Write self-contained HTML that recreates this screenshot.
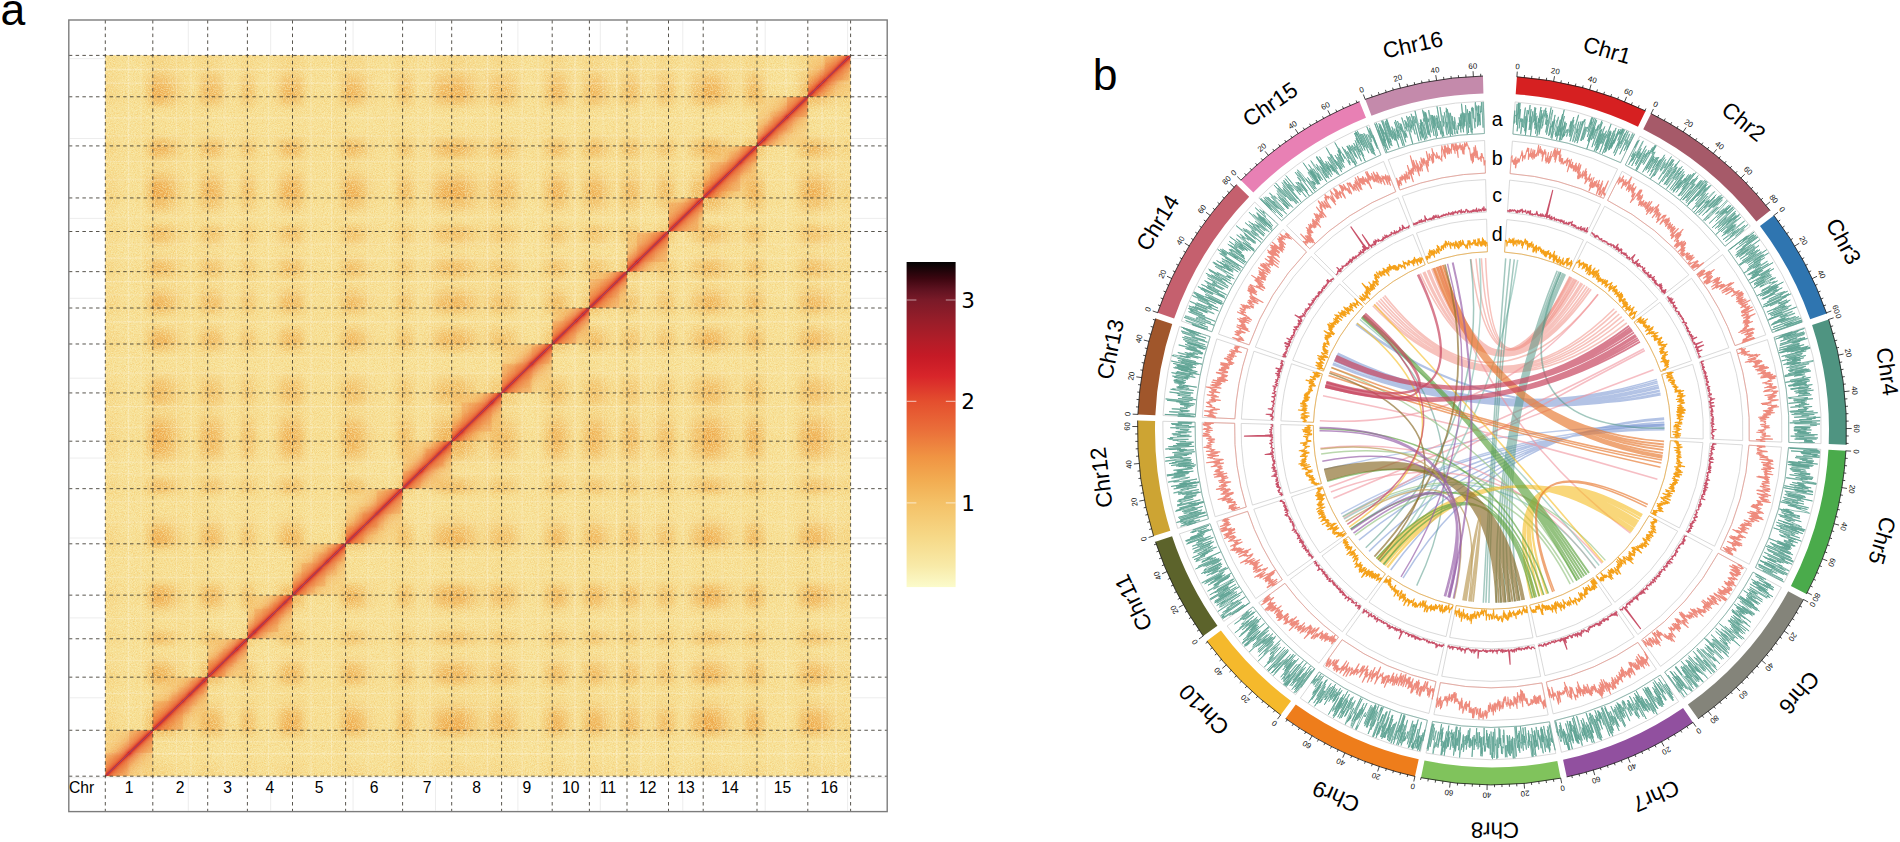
<!DOCTYPE html>
<html lang="en"><head><meta charset="utf-8"><title>Hi-C heatmap and circos plot</title>
<style>html,body{margin:0;padding:0;background:#fff}svg{display:block}</style></head>
<body>
<svg width="1900" height="842" viewBox="0 0 1900 842">
<defs>
<linearGradient id="ex" x1="0" y1="0" x2="1" y2="0"><stop offset="0" stop-color="#232323"/><stop offset="0.0027" stop-color="#232323"/><stop offset="0.0054" stop-color="#222222"/><stop offset="0.008" stop-color="#202020"/><stop offset="0.0107" stop-color="#1d1d1d"/><stop offset="0.0134" stop-color="#181818"/><stop offset="0.0161" stop-color="#121212"/><stop offset="0.0188" stop-color="#0c0c0c"/><stop offset="0.0214" stop-color="#070707"/><stop offset="0.0241" stop-color="#040404"/><stop offset="0.0268" stop-color="#020202"/><stop offset="0.0295" stop-color="#010101"/><stop offset="0.0322" stop-color="#000000"/><stop offset="0.0349" stop-color="#000000"/><stop offset="0.0375" stop-color="#000000"/><stop offset="0.0402" stop-color="#000000"/><stop offset="0.0429" stop-color="#000000"/><stop offset="0.0456" stop-color="#000000"/><stop offset="0.0483" stop-color="#030303"/><stop offset="0.0509" stop-color="#0f0f0f"/><stop offset="0.0536" stop-color="#2d2d2d"/><stop offset="0.0563" stop-color="#555555"/><stop offset="0.059" stop-color="#747474"/><stop offset="0.0617" stop-color="#808080"/><stop offset="0.0643" stop-color="#ffffff"/><stop offset="0.067" stop-color="#ffffff"/><stop offset="0.0697" stop-color="#fdfdfd"/><stop offset="0.0724" stop-color="#fafafa"/><stop offset="0.0751" stop-color="#f4f4f4"/><stop offset="0.0777" stop-color="#ebebeb"/><stop offset="0.0804" stop-color="#dedede"/><stop offset="0.0831" stop-color="#cdcdcd"/><stop offset="0.0858" stop-color="#b9b9b9"/><stop offset="0.0885" stop-color="#a2a2a2"/><stop offset="0.0912" stop-color="#8a8a8a"/><stop offset="0.0938" stop-color="#717171"/><stop offset="0.0965" stop-color="#595959"/><stop offset="0.0992" stop-color="#434343"/><stop offset="0.1019" stop-color="#303030"/><stop offset="0.1046" stop-color="#212121"/><stop offset="0.1072" stop-color="#161616"/><stop offset="0.1099" stop-color="#0d0d0d"/><stop offset="0.1126" stop-color="#080808"/><stop offset="0.1153" stop-color="#040404"/><stop offset="0.118" stop-color="#040404"/><stop offset="0.1206" stop-color="#090909"/><stop offset="0.1233" stop-color="#1c1c1c"/><stop offset="0.126" stop-color="#414141"/><stop offset="0.1287" stop-color="#6c6c6c"/><stop offset="0.1314" stop-color="#8f8f8f"/><stop offset="0.134" stop-color="#a1a1a1"/><stop offset="0.1367" stop-color="#a5a5a5"/><stop offset="0.1394" stop-color="#c9c9c9"/><stop offset="0.1421" stop-color="#c7c7c7"/><stop offset="0.1448" stop-color="#c1c1c1"/><stop offset="0.1475" stop-color="#b6b6b6"/><stop offset="0.1501" stop-color="#a5a5a5"/><stop offset="0.1528" stop-color="#8e8e8e"/><stop offset="0.1555" stop-color="#727272"/><stop offset="0.1582" stop-color="#565656"/><stop offset="0.1609" stop-color="#3b3b3b"/><stop offset="0.1635" stop-color="#252525"/><stop offset="0.1662" stop-color="#151515"/><stop offset="0.1689" stop-color="#0a0a0a"/><stop offset="0.1716" stop-color="#050505"/><stop offset="0.1743" stop-color="#030303"/><stop offset="0.1769" stop-color="#0a0a0a"/><stop offset="0.1796" stop-color="#212121"/><stop offset="0.1823" stop-color="#474747"/><stop offset="0.185" stop-color="#6b6b6b"/><stop offset="0.1877" stop-color="#7e7e7e"/><stop offset="0.1903" stop-color="#818181"/><stop offset="0.193" stop-color="#808080"/><stop offset="0.1957" stop-color="#777777"/><stop offset="0.1984" stop-color="#606060"/><stop offset="0.2011" stop-color="#3f3f3f"/><stop offset="0.2038" stop-color="#1f1f1f"/><stop offset="0.2064" stop-color="#0b0b0b"/><stop offset="0.2091" stop-color="#020202"/><stop offset="0.2118" stop-color="#000000"/><stop offset="0.2145" stop-color="#000000"/><stop offset="0.2172" stop-color="#000000"/><stop offset="0.2198" stop-color="#020202"/><stop offset="0.2225" stop-color="#050505"/><stop offset="0.2252" stop-color="#0e0e0e"/><stop offset="0.2279" stop-color="#1e1e1e"/><stop offset="0.2306" stop-color="#373737"/><stop offset="0.2332" stop-color="#585858"/><stop offset="0.2359" stop-color="#7d7d7d"/><stop offset="0.2386" stop-color="#a0a0a0"/><stop offset="0.2413" stop-color="#bcbcbc"/><stop offset="0.244" stop-color="#cecece"/><stop offset="0.2466" stop-color="#d8d8d8"/><stop offset="0.2493" stop-color="#dadada"/><stop offset="0.252" stop-color="#c9c9c9"/><stop offset="0.2547" stop-color="#c6c6c6"/><stop offset="0.2574" stop-color="#bbbbbb"/><stop offset="0.2601" stop-color="#a3a3a3"/><stop offset="0.2627" stop-color="#808080"/><stop offset="0.2654" stop-color="#565656"/><stop offset="0.2681" stop-color="#303030"/><stop offset="0.2708" stop-color="#161616"/><stop offset="0.2735" stop-color="#080808"/><stop offset="0.2761" stop-color="#020202"/><stop offset="0.2788" stop-color="#000000"/><stop offset="0.2815" stop-color="#000000"/><stop offset="0.2842" stop-color="#000000"/><stop offset="0.2869" stop-color="#000000"/><stop offset="0.2895" stop-color="#000000"/><stop offset="0.2922" stop-color="#000000"/><stop offset="0.2949" stop-color="#000000"/><stop offset="0.2976" stop-color="#000000"/><stop offset="0.3003" stop-color="#000000"/><stop offset="0.3029" stop-color="#000000"/><stop offset="0.3056" stop-color="#000000"/><stop offset="0.3083" stop-color="#010101"/><stop offset="0.311" stop-color="#080808"/><stop offset="0.3137" stop-color="#242424"/><stop offset="0.3164" stop-color="#505050"/><stop offset="0.319" stop-color="#707070"/><stop offset="0.3217" stop-color="#787878"/><stop offset="0.3244" stop-color="#dbdbdb"/><stop offset="0.3271" stop-color="#dadada"/><stop offset="0.3298" stop-color="#d7d7d7"/><stop offset="0.3324" stop-color="#d2d2d2"/><stop offset="0.3351" stop-color="#c9c9c9"/><stop offset="0.3378" stop-color="#bcbcbc"/><stop offset="0.3405" stop-color="#ababab"/><stop offset="0.3432" stop-color="#969696"/><stop offset="0.3458" stop-color="#808080"/><stop offset="0.3485" stop-color="#686868"/><stop offset="0.3512" stop-color="#505050"/><stop offset="0.3539" stop-color="#3b3b3b"/><stop offset="0.3566" stop-color="#292929"/><stop offset="0.3592" stop-color="#1b1b1b"/><stop offset="0.3619" stop-color="#101010"/><stop offset="0.3646" stop-color="#090909"/><stop offset="0.3673" stop-color="#050505"/><stop offset="0.37" stop-color="#020202"/><stop offset="0.3727" stop-color="#010101"/><stop offset="0.3753" stop-color="#000000"/><stop offset="0.378" stop-color="#000000"/><stop offset="0.3807" stop-color="#000000"/><stop offset="0.3834" stop-color="#000000"/><stop offset="0.3861" stop-color="#030303"/><stop offset="0.3887" stop-color="#131313"/><stop offset="0.3914" stop-color="#3c3c3c"/><stop offset="0.3941" stop-color="#6a6a6a"/><stop offset="0.3968" stop-color="#7f7f7f"/><stop offset="0.3995" stop-color="#939393"/><stop offset="0.4021" stop-color="#929292"/><stop offset="0.4048" stop-color="#8a8a8a"/><stop offset="0.4075" stop-color="#7a7a7a"/><stop offset="0.4102" stop-color="#606060"/><stop offset="0.4129" stop-color="#424242"/><stop offset="0.4155" stop-color="#262626"/><stop offset="0.4182" stop-color="#121212"/><stop offset="0.4209" stop-color="#080808"/><stop offset="0.4236" stop-color="#050505"/><stop offset="0.4263" stop-color="#070707"/><stop offset="0.429" stop-color="#0d0d0d"/><stop offset="0.4316" stop-color="#171717"/><stop offset="0.4343" stop-color="#272727"/><stop offset="0.437" stop-color="#3b3b3b"/><stop offset="0.4397" stop-color="#535353"/><stop offset="0.4424" stop-color="#6d6d6d"/><stop offset="0.445" stop-color="#888888"/><stop offset="0.4477" stop-color="#a1a1a1"/><stop offset="0.4504" stop-color="#b6b6b6"/><stop offset="0.4531" stop-color="#c6c6c6"/><stop offset="0.4558" stop-color="#d1d1d1"/><stop offset="0.4584" stop-color="#d7d7d7"/><stop offset="0.4611" stop-color="#dadada"/><stop offset="0.4638" stop-color="#dbdbdb"/><stop offset="0.4665" stop-color="#ededed"/><stop offset="0.4692" stop-color="#ececec"/><stop offset="0.4718" stop-color="#eaeaea"/><stop offset="0.4745" stop-color="#e6e6e6"/><stop offset="0.4772" stop-color="#e0e0e0"/><stop offset="0.4799" stop-color="#d6d6d6"/><stop offset="0.4826" stop-color="#c8c8c8"/><stop offset="0.4853" stop-color="#b7b7b7"/><stop offset="0.4879" stop-color="#a3a3a3"/><stop offset="0.4906" stop-color="#8d8d8d"/><stop offset="0.4933" stop-color="#767676"/><stop offset="0.496" stop-color="#606060"/><stop offset="0.4987" stop-color="#4b4b4b"/><stop offset="0.5013" stop-color="#393939"/><stop offset="0.504" stop-color="#2d2d2d"/><stop offset="0.5067" stop-color="#282828"/><stop offset="0.5094" stop-color="#2d2d2d"/><stop offset="0.5121" stop-color="#3a3a3a"/><stop offset="0.5147" stop-color="#4e4e4e"/><stop offset="0.5174" stop-color="#666666"/><stop offset="0.5201" stop-color="#7c7c7c"/><stop offset="0.5228" stop-color="#8c8c8c"/><stop offset="0.5255" stop-color="#969696"/><stop offset="0.5282" stop-color="#9b9b9b"/><stop offset="0.5308" stop-color="#9c9c9c"/><stop offset="0.5335" stop-color="#9c9c9c"/><stop offset="0.5362" stop-color="#9b9b9b"/><stop offset="0.5389" stop-color="#979797"/><stop offset="0.5416" stop-color="#8f8f8f"/><stop offset="0.5442" stop-color="#818181"/><stop offset="0.5469" stop-color="#707070"/><stop offset="0.5496" stop-color="#5b5b5b"/><stop offset="0.5523" stop-color="#444444"/><stop offset="0.555" stop-color="#2f2f2f"/><stop offset="0.5576" stop-color="#1e1e1e"/><stop offset="0.5603" stop-color="#111111"/><stop offset="0.563" stop-color="#090909"/><stop offset="0.5657" stop-color="#040404"/><stop offset="0.5684" stop-color="#010101"/><stop offset="0.571" stop-color="#000000"/><stop offset="0.5737" stop-color="#000000"/><stop offset="0.5764" stop-color="#000000"/><stop offset="0.5791" stop-color="#010101"/><stop offset="0.5818" stop-color="#030303"/><stop offset="0.5845" stop-color="#0e0e0e"/><stop offset="0.5871" stop-color="#252525"/><stop offset="0.5898" stop-color="#474747"/><stop offset="0.5925" stop-color="#676767"/><stop offset="0.5952" stop-color="#7a7a7a"/><stop offset="0.5979" stop-color="#818181"/><stop offset="0.6005" stop-color="#c9c9c9"/><stop offset="0.6032" stop-color="#c8c8c8"/><stop offset="0.6059" stop-color="#c4c4c4"/><stop offset="0.6086" stop-color="#bbbbbb"/><stop offset="0.6113" stop-color="#adadad"/><stop offset="0.6139" stop-color="#989898"/><stop offset="0.6166" stop-color="#7e7e7e"/><stop offset="0.6193" stop-color="#616161"/><stop offset="0.622" stop-color="#454545"/><stop offset="0.6247" stop-color="#2d2d2d"/><stop offset="0.6273" stop-color="#1b1b1b"/><stop offset="0.63" stop-color="#0e0e0e"/><stop offset="0.6327" stop-color="#070707"/><stop offset="0.6354" stop-color="#090909"/><stop offset="0.6381" stop-color="#1b1b1b"/><stop offset="0.6408" stop-color="#3c3c3c"/><stop offset="0.6434" stop-color="#5f5f5f"/><stop offset="0.6461" stop-color="#747474"/><stop offset="0.6488" stop-color="#797979"/><stop offset="0.6515" stop-color="#c9c9c9"/><stop offset="0.6542" stop-color="#c7c7c7"/><stop offset="0.6568" stop-color="#c4c4c4"/><stop offset="0.6595" stop-color="#bdbdbd"/><stop offset="0.6622" stop-color="#b1b1b1"/><stop offset="0.6649" stop-color="#a1a1a1"/><stop offset="0.6676" stop-color="#8c8c8c"/><stop offset="0.6702" stop-color="#747474"/><stop offset="0.6729" stop-color="#5b5b5b"/><stop offset="0.6756" stop-color="#444444"/><stop offset="0.6783" stop-color="#2f2f2f"/><stop offset="0.681" stop-color="#1e1e1e"/><stop offset="0.6836" stop-color="#131313"/><stop offset="0.6863" stop-color="#131313"/><stop offset="0.689" stop-color="#242424"/><stop offset="0.6917" stop-color="#454545"/><stop offset="0.6944" stop-color="#666666"/><stop offset="0.6971" stop-color="#767676"/><stop offset="0.6997" stop-color="#797979"/><stop offset="0.7024" stop-color="#a4a4a4"/><stop offset="0.7051" stop-color="#a1a1a1"/><stop offset="0.7078" stop-color="#999999"/><stop offset="0.7105" stop-color="#898989"/><stop offset="0.7131" stop-color="#737373"/><stop offset="0.7158" stop-color="#585858"/><stop offset="0.7185" stop-color="#3c3c3c"/><stop offset="0.7212" stop-color="#252525"/><stop offset="0.7239" stop-color="#141414"/><stop offset="0.7265" stop-color="#0c0c0c"/><stop offset="0.7292" stop-color="#0b0b0b"/><stop offset="0.7319" stop-color="#131313"/><stop offset="0.7346" stop-color="#222222"/><stop offset="0.7373" stop-color="#373737"/><stop offset="0.7399" stop-color="#4f4f4f"/><stop offset="0.7426" stop-color="#676767"/><stop offset="0.7453" stop-color="#7b7b7b"/><stop offset="0.748" stop-color="#898989"/><stop offset="0.7507" stop-color="#909090"/><stop offset="0.7534" stop-color="#939393"/><stop offset="0.756" stop-color="#797979"/><stop offset="0.7587" stop-color="#757575"/><stop offset="0.7614" stop-color="#636363"/><stop offset="0.7641" stop-color="#414141"/><stop offset="0.7668" stop-color="#1e1e1e"/><stop offset="0.7694" stop-color="#090909"/><stop offset="0.7721" stop-color="#040404"/><stop offset="0.7748" stop-color="#060606"/><stop offset="0.7775" stop-color="#0f0f0f"/><stop offset="0.7802" stop-color="#1e1e1e"/><stop offset="0.7828" stop-color="#343434"/><stop offset="0.7855" stop-color="#4f4f4f"/><stop offset="0.7882" stop-color="#6a6a6a"/><stop offset="0.7909" stop-color="#838383"/><stop offset="0.7936" stop-color="#959595"/><stop offset="0.7962" stop-color="#9f9f9f"/><stop offset="0.7989" stop-color="#a4a4a4"/><stop offset="0.8016" stop-color="#a5a5a5"/><stop offset="0.8043" stop-color="#ffffff"/><stop offset="0.807" stop-color="#fefefe"/><stop offset="0.8097" stop-color="#fcfcfc"/><stop offset="0.8123" stop-color="#f7f7f7"/><stop offset="0.815" stop-color="#f0f0f0"/><stop offset="0.8177" stop-color="#e4e4e4"/><stop offset="0.8204" stop-color="#d5d5d5"/><stop offset="0.8231" stop-color="#c3c3c3"/><stop offset="0.8257" stop-color="#adadad"/><stop offset="0.8284" stop-color="#959595"/><stop offset="0.8311" stop-color="#7c7c7c"/><stop offset="0.8338" stop-color="#646464"/><stop offset="0.8365" stop-color="#4d4d4d"/><stop offset="0.8391" stop-color="#393939"/><stop offset="0.8418" stop-color="#282828"/><stop offset="0.8445" stop-color="#1b1b1b"/><stop offset="0.8472" stop-color="#141414"/><stop offset="0.8499" stop-color="#131313"/><stop offset="0.8525" stop-color="#1c1c1c"/><stop offset="0.8552" stop-color="#303030"/><stop offset="0.8579" stop-color="#4f4f4f"/><stop offset="0.8606" stop-color="#737373"/><stop offset="0.8633" stop-color="#969696"/><stop offset="0.866" stop-color="#b1b1b1"/><stop offset="0.8686" stop-color="#c1c1c1"/><stop offset="0.8713" stop-color="#c7c7c7"/><stop offset="0.874" stop-color="#c9c9c9"/><stop offset="0.8767" stop-color="#898989"/><stop offset="0.8794" stop-color="#808080"/><stop offset="0.882" stop-color="#686868"/><stop offset="0.8847" stop-color="#454545"/><stop offset="0.8874" stop-color="#222222"/><stop offset="0.8901" stop-color="#0c0c0c"/><stop offset="0.8928" stop-color="#030303"/><stop offset="0.8954" stop-color="#000000"/><stop offset="0.8981" stop-color="#000000"/><stop offset="0.9008" stop-color="#000000"/><stop offset="0.9035" stop-color="#000000"/><stop offset="0.9062" stop-color="#000000"/><stop offset="0.9088" stop-color="#000000"/><stop offset="0.9115" stop-color="#000000"/><stop offset="0.9142" stop-color="#000000"/><stop offset="0.9169" stop-color="#000000"/><stop offset="0.9196" stop-color="#010101"/><stop offset="0.9223" stop-color="#050505"/><stop offset="0.9249" stop-color="#101010"/><stop offset="0.9276" stop-color="#282828"/><stop offset="0.9303" stop-color="#4b4b4b"/><stop offset="0.933" stop-color="#727272"/><stop offset="0.9357" stop-color="#8f8f8f"/><stop offset="0.9383" stop-color="#a0a0a0"/><stop offset="0.941" stop-color="#a5a5a5"/><stop offset="0.9437" stop-color="#dbdbdb"/><stop offset="0.9464" stop-color="#dadada"/><stop offset="0.9491" stop-color="#d9d9d9"/><stop offset="0.9517" stop-color="#d6d6d6"/><stop offset="0.9544" stop-color="#d0d0d0"/><stop offset="0.9571" stop-color="#c8c8c8"/><stop offset="0.9598" stop-color="#bcbcbc"/><stop offset="0.9625" stop-color="#adadad"/><stop offset="0.9651" stop-color="#9b9b9b"/><stop offset="0.9678" stop-color="#878787"/><stop offset="0.9705" stop-color="#727272"/><stop offset="0.9732" stop-color="#5d5d5d"/><stop offset="0.9759" stop-color="#494949"/><stop offset="0.9786" stop-color="#393939"/><stop offset="0.9812" stop-color="#2d2d2d"/><stop offset="0.9839" stop-color="#262626"/><stop offset="0.9866" stop-color="#232323"/><stop offset="0.9893" stop-color="#242424"/><stop offset="0.992" stop-color="#252525"/><stop offset="0.9946" stop-color="#252525"/><stop offset="0.9973" stop-color="#252525"/><stop offset="1" stop-color="#242424"/></linearGradient>
<linearGradient id="ey" x1="0" y1="0" x2="0" y2="1"><stop offset="0" stop-color="#000" stop-opacity="0.86"/><stop offset="0.0027" stop-color="#000" stop-opacity="0.857"/><stop offset="0.0054" stop-color="#000" stop-opacity="0.855"/><stop offset="0.008" stop-color="#000" stop-opacity="0.856"/><stop offset="0.0107" stop-color="#000" stop-opacity="0.86"/><stop offset="0.0134" stop-color="#000" stop-opacity="0.861"/><stop offset="0.0161" stop-color="#000" stop-opacity="0.852"/><stop offset="0.0188" stop-color="#000" stop-opacity="0.825"/><stop offset="0.0214" stop-color="#000" stop-opacity="0.778"/><stop offset="0.0241" stop-color="#000" stop-opacity="0.713"/><stop offset="0.0268" stop-color="#000" stop-opacity="0.636"/><stop offset="0.0295" stop-color="#000" stop-opacity="0.553"/><stop offset="0.0322" stop-color="#000" stop-opacity="0.47"/><stop offset="0.0349" stop-color="#000" stop-opacity="0.392"/><stop offset="0.0375" stop-color="#000" stop-opacity="0.322"/><stop offset="0.0402" stop-color="#000" stop-opacity="0.264"/><stop offset="0.0429" stop-color="#000" stop-opacity="0.218"/><stop offset="0.0456" stop-color="#000" stop-opacity="0.184"/><stop offset="0.0483" stop-color="#000" stop-opacity="0.162"/><stop offset="0.0509" stop-color="#000" stop-opacity="0.149"/><stop offset="0.0536" stop-color="#000" stop-opacity="0.144"/><stop offset="0.0563" stop-color="#000" stop-opacity="0.142"/><stop offset="0.059" stop-color="#000" stop-opacity="0.355"/><stop offset="0.0617" stop-color="#000" stop-opacity="0.374"/><stop offset="0.0643" stop-color="#000" stop-opacity="0.438"/><stop offset="0.067" stop-color="#000" stop-opacity="0.555"/><stop offset="0.0697" stop-color="#000" stop-opacity="0.704"/><stop offset="0.0724" stop-color="#000" stop-opacity="0.843"/><stop offset="0.0751" stop-color="#000" stop-opacity="0.936"/><stop offset="0.0777" stop-color="#000" stop-opacity="0.981"/><stop offset="0.0804" stop-color="#000" stop-opacity="0.996"/><stop offset="0.0831" stop-color="#000" stop-opacity="0.999"/><stop offset="0.0858" stop-color="#000" stop-opacity="1"/><stop offset="0.0885" stop-color="#000" stop-opacity="1"/><stop offset="0.0912" stop-color="#000" stop-opacity="1"/><stop offset="0.0938" stop-color="#000" stop-opacity="1"/><stop offset="0.0965" stop-color="#000" stop-opacity="1"/><stop offset="0.0992" stop-color="#000" stop-opacity="1"/><stop offset="0.1019" stop-color="#000" stop-opacity="1"/><stop offset="0.1046" stop-color="#000" stop-opacity="0.999"/><stop offset="0.1072" stop-color="#000" stop-opacity="0.989"/><stop offset="0.1099" stop-color="#000" stop-opacity="0.953"/><stop offset="0.1126" stop-color="#000" stop-opacity="0.866"/><stop offset="0.1153" stop-color="#000" stop-opacity="0.73"/><stop offset="0.118" stop-color="#000" stop-opacity="0.592"/><stop offset="0.1206" stop-color="#000" stop-opacity="0.498"/><stop offset="0.1233" stop-color="#000" stop-opacity="0.462"/><stop offset="0.126" stop-color="#000" stop-opacity="0.213"/><stop offset="0.1287" stop-color="#000" stop-opacity="0.218"/><stop offset="0.1314" stop-color="#000" stop-opacity="0.244"/><stop offset="0.134" stop-color="#000" stop-opacity="0.307"/><stop offset="0.1367" stop-color="#000" stop-opacity="0.412"/><stop offset="0.1394" stop-color="#000" stop-opacity="0.547"/><stop offset="0.1421" stop-color="#000" stop-opacity="0.69"/><stop offset="0.1448" stop-color="#000" stop-opacity="0.81"/><stop offset="0.1475" stop-color="#000" stop-opacity="0.89"/><stop offset="0.1501" stop-color="#000" stop-opacity="0.924"/><stop offset="0.1528" stop-color="#000" stop-opacity="0.922"/><stop offset="0.1555" stop-color="#000" stop-opacity="0.892"/><stop offset="0.1582" stop-color="#000" stop-opacity="0.843"/><stop offset="0.1609" stop-color="#000" stop-opacity="0.778"/><stop offset="0.1635" stop-color="#000" stop-opacity="0.699"/><stop offset="0.1662" stop-color="#000" stop-opacity="0.609"/><stop offset="0.1689" stop-color="#000" stop-opacity="0.513"/><stop offset="0.1716" stop-color="#000" stop-opacity="0.416"/><stop offset="0.1743" stop-color="#000" stop-opacity="0.322"/><stop offset="0.1769" stop-color="#000" stop-opacity="0.237"/><stop offset="0.1796" stop-color="#000" stop-opacity="0.164"/><stop offset="0.1823" stop-color="#000" stop-opacity="0.105"/><stop offset="0.185" stop-color="#000" stop-opacity="0.061"/><stop offset="0.1877" stop-color="#000" stop-opacity="0.03"/><stop offset="0.1903" stop-color="#000" stop-opacity="0.012"/><stop offset="0.193" stop-color="#000" stop-opacity="0.003"/><stop offset="0.1957" stop-color="#000" stop-opacity="0"/><stop offset="0.1984" stop-color="#000" stop-opacity="0.354"/><stop offset="0.2011" stop-color="#000" stop-opacity="0.357"/><stop offset="0.2038" stop-color="#000" stop-opacity="0.375"/><stop offset="0.2064" stop-color="#000" stop-opacity="0.417"/><stop offset="0.2091" stop-color="#000" stop-opacity="0.487"/><stop offset="0.2118" stop-color="#000" stop-opacity="0.582"/><stop offset="0.2145" stop-color="#000" stop-opacity="0.691"/><stop offset="0.2172" stop-color="#000" stop-opacity="0.796"/><stop offset="0.2198" stop-color="#000" stop-opacity="0.882"/><stop offset="0.2225" stop-color="#000" stop-opacity="0.941"/><stop offset="0.2252" stop-color="#000" stop-opacity="0.975"/><stop offset="0.2279" stop-color="#000" stop-opacity="0.986"/><stop offset="0.2306" stop-color="#000" stop-opacity="0.965"/><stop offset="0.2332" stop-color="#000" stop-opacity="0.883"/><stop offset="0.2359" stop-color="#000" stop-opacity="0.743"/><stop offset="0.2386" stop-color="#000" stop-opacity="0.61"/><stop offset="0.2413" stop-color="#000" stop-opacity="0.541"/><stop offset="0.244" stop-color="#000" stop-opacity="0.527"/><stop offset="0.2466" stop-color="#000" stop-opacity="0.424"/><stop offset="0.2493" stop-color="#000" stop-opacity="0.435"/><stop offset="0.252" stop-color="#000" stop-opacity="0.463"/><stop offset="0.2547" stop-color="#000" stop-opacity="0.516"/><stop offset="0.2574" stop-color="#000" stop-opacity="0.594"/><stop offset="0.2601" stop-color="#000" stop-opacity="0.688"/><stop offset="0.2627" stop-color="#000" stop-opacity="0.785"/><stop offset="0.2654" stop-color="#000" stop-opacity="0.868"/><stop offset="0.2681" stop-color="#000" stop-opacity="0.927"/><stop offset="0.2708" stop-color="#000" stop-opacity="0.956"/><stop offset="0.2735" stop-color="#000" stop-opacity="0.954"/><stop offset="0.2761" stop-color="#000" stop-opacity="0.921"/><stop offset="0.2788" stop-color="#000" stop-opacity="0.856"/><stop offset="0.2815" stop-color="#000" stop-opacity="0.763"/><stop offset="0.2842" stop-color="#000" stop-opacity="0.655"/><stop offset="0.2869" stop-color="#000" stop-opacity="0.549"/><stop offset="0.2895" stop-color="#000" stop-opacity="0.461"/><stop offset="0.2922" stop-color="#000" stop-opacity="0.4"/><stop offset="0.2949" stop-color="#000" stop-opacity="0.367"/><stop offset="0.2976" stop-color="#000" stop-opacity="0.355"/><stop offset="0.3003" stop-color="#000" stop-opacity="0.527"/><stop offset="0.3029" stop-color="#000" stop-opacity="0.538"/><stop offset="0.3056" stop-color="#000" stop-opacity="0.602"/><stop offset="0.3083" stop-color="#000" stop-opacity="0.728"/><stop offset="0.311" stop-color="#000" stop-opacity="0.858"/><stop offset="0.3137" stop-color="#000" stop-opacity="0.926"/><stop offset="0.3164" stop-color="#000" stop-opacity="0.925"/><stop offset="0.319" stop-color="#000" stop-opacity="0.883"/><stop offset="0.3217" stop-color="#000" stop-opacity="0.817"/><stop offset="0.3244" stop-color="#000" stop-opacity="0.735"/><stop offset="0.3271" stop-color="#000" stop-opacity="0.641"/><stop offset="0.3298" stop-color="#000" stop-opacity="0.544"/><stop offset="0.3324" stop-color="#000" stop-opacity="0.451"/><stop offset="0.3351" stop-color="#000" stop-opacity="0.37"/><stop offset="0.3378" stop-color="#000" stop-opacity="0.305"/><stop offset="0.3405" stop-color="#000" stop-opacity="0.26"/><stop offset="0.3432" stop-color="#000" stop-opacity="0.232"/><stop offset="0.3458" stop-color="#000" stop-opacity="0.218"/><stop offset="0.3485" stop-color="#000" stop-opacity="0.213"/><stop offset="0.3512" stop-color="#000" stop-opacity="0.527"/><stop offset="0.3539" stop-color="#000" stop-opacity="0.546"/><stop offset="0.3566" stop-color="#000" stop-opacity="0.626"/><stop offset="0.3592" stop-color="#000" stop-opacity="0.764"/><stop offset="0.3619" stop-color="#000" stop-opacity="0.896"/><stop offset="0.3646" stop-color="#000" stop-opacity="0.963"/><stop offset="0.3673" stop-color="#000" stop-opacity="0.971"/><stop offset="0.37" stop-color="#000" stop-opacity="0.945"/><stop offset="0.3727" stop-color="#000" stop-opacity="0.896"/><stop offset="0.3753" stop-color="#000" stop-opacity="0.823"/><stop offset="0.378" stop-color="#000" stop-opacity="0.728"/><stop offset="0.3807" stop-color="#000" stop-opacity="0.619"/><stop offset="0.3834" stop-color="#000" stop-opacity="0.507"/><stop offset="0.3861" stop-color="#000" stop-opacity="0.405"/><stop offset="0.3887" stop-color="#000" stop-opacity="0.322"/><stop offset="0.3914" stop-color="#000" stop-opacity="0.265"/><stop offset="0.3941" stop-color="#000" stop-opacity="0.231"/><stop offset="0.3968" stop-color="#000" stop-opacity="0.216"/><stop offset="0.3995" stop-color="#000" stop-opacity="0.213"/><stop offset="0.4021" stop-color="#000" stop-opacity="0.494"/><stop offset="0.4048" stop-color="#000" stop-opacity="0.52"/><stop offset="0.4075" stop-color="#000" stop-opacity="0.597"/><stop offset="0.4102" stop-color="#000" stop-opacity="0.722"/><stop offset="0.4129" stop-color="#000" stop-opacity="0.854"/><stop offset="0.4155" stop-color="#000" stop-opacity="0.945"/><stop offset="0.4182" stop-color="#000" stop-opacity="0.987"/><stop offset="0.4209" stop-color="#000" stop-opacity="0.998"/><stop offset="0.4236" stop-color="#000" stop-opacity="1"/><stop offset="0.4263" stop-color="#000" stop-opacity="0.999"/><stop offset="0.429" stop-color="#000" stop-opacity="0.998"/><stop offset="0.4316" stop-color="#000" stop-opacity="0.994"/><stop offset="0.4343" stop-color="#000" stop-opacity="0.985"/><stop offset="0.437" stop-color="#000" stop-opacity="0.967"/><stop offset="0.4397" stop-color="#000" stop-opacity="0.934"/><stop offset="0.4424" stop-color="#000" stop-opacity="0.883"/><stop offset="0.445" stop-color="#000" stop-opacity="0.814"/><stop offset="0.4477" stop-color="#000" stop-opacity="0.732"/><stop offset="0.4504" stop-color="#000" stop-opacity="0.644"/><stop offset="0.4531" stop-color="#000" stop-opacity="0.562"/><stop offset="0.4558" stop-color="#000" stop-opacity="0.492"/><stop offset="0.4584" stop-color="#000" stop-opacity="0.441"/><stop offset="0.4611" stop-color="#000" stop-opacity="0.409"/><stop offset="0.4638" stop-color="#000" stop-opacity="0.394"/><stop offset="0.4665" stop-color="#000" stop-opacity="0.389"/><stop offset="0.4692" stop-color="#000" stop-opacity="0.388"/><stop offset="0.4718" stop-color="#000" stop-opacity="0.392"/><stop offset="0.4745" stop-color="#000" stop-opacity="0.41"/><stop offset="0.4772" stop-color="#000" stop-opacity="0.45"/><stop offset="0.4799" stop-color="#000" stop-opacity="0.516"/><stop offset="0.4826" stop-color="#000" stop-opacity="0.601"/><stop offset="0.4853" stop-color="#000" stop-opacity="0.692"/><stop offset="0.4879" stop-color="#000" stop-opacity="0.772"/><stop offset="0.4906" stop-color="#000" stop-opacity="0.825"/><stop offset="0.4933" stop-color="#000" stop-opacity="0.842"/><stop offset="0.496" stop-color="#000" stop-opacity="0.823"/><stop offset="0.4987" stop-color="#000" stop-opacity="0.776"/><stop offset="0.5013" stop-color="#000" stop-opacity="0.707"/><stop offset="0.504" stop-color="#000" stop-opacity="0.625"/><stop offset="0.5067" stop-color="#000" stop-opacity="0.536"/><stop offset="0.5094" stop-color="#000" stop-opacity="0.446"/><stop offset="0.5121" stop-color="#000" stop-opacity="0.359"/><stop offset="0.5147" stop-color="#000" stop-opacity="0.282"/><stop offset="0.5174" stop-color="#000" stop-opacity="0.215"/><stop offset="0.5201" stop-color="#000" stop-opacity="0.162"/><stop offset="0.5228" stop-color="#000" stop-opacity="0.123"/><stop offset="0.5255" stop-color="#000" stop-opacity="0.097"/><stop offset="0.5282" stop-color="#000" stop-opacity="0.081"/><stop offset="0.5308" stop-color="#000" stop-opacity="0.074"/><stop offset="0.5335" stop-color="#000" stop-opacity="0.071"/><stop offset="0.5362" stop-color="#000" stop-opacity="0.142"/><stop offset="0.5389" stop-color="#000" stop-opacity="0.145"/><stop offset="0.5416" stop-color="#000" stop-opacity="0.156"/><stop offset="0.5442" stop-color="#000" stop-opacity="0.18"/><stop offset="0.5469" stop-color="#000" stop-opacity="0.223"/><stop offset="0.5496" stop-color="#000" stop-opacity="0.285"/><stop offset="0.5523" stop-color="#000" stop-opacity="0.368"/><stop offset="0.555" stop-color="#000" stop-opacity="0.465"/><stop offset="0.5576" stop-color="#000" stop-opacity="0.571"/><stop offset="0.5603" stop-color="#000" stop-opacity="0.675"/><stop offset="0.563" stop-color="#000" stop-opacity="0.77"/><stop offset="0.5657" stop-color="#000" stop-opacity="0.849"/><stop offset="0.5684" stop-color="#000" stop-opacity="0.908"/><stop offset="0.571" stop-color="#000" stop-opacity="0.949"/><stop offset="0.5737" stop-color="#000" stop-opacity="0.973"/><stop offset="0.5764" stop-color="#000" stop-opacity="0.981"/><stop offset="0.5791" stop-color="#000" stop-opacity="0.969"/><stop offset="0.5818" stop-color="#000" stop-opacity="0.929"/><stop offset="0.5845" stop-color="#000" stop-opacity="0.85"/><stop offset="0.5871" stop-color="#000" stop-opacity="0.741"/><stop offset="0.5898" stop-color="#000" stop-opacity="0.622"/><stop offset="0.5925" stop-color="#000" stop-opacity="0.522"/><stop offset="0.5952" stop-color="#000" stop-opacity="0.457"/><stop offset="0.5979" stop-color="#000" stop-opacity="0.429"/><stop offset="0.6005" stop-color="#000" stop-opacity="0.423"/><stop offset="0.6032" stop-color="#000" stop-opacity="0.501"/><stop offset="0.6059" stop-color="#000" stop-opacity="0.585"/><stop offset="0.6086" stop-color="#000" stop-opacity="0.763"/><stop offset="0.6113" stop-color="#000" stop-opacity="0.925"/><stop offset="0.6139" stop-color="#000" stop-opacity="0.989"/><stop offset="0.6166" stop-color="#000" stop-opacity="0.999"/><stop offset="0.6193" stop-color="#000" stop-opacity="1"/><stop offset="0.622" stop-color="#000" stop-opacity="0.999"/><stop offset="0.6247" stop-color="#000" stop-opacity="0.998"/><stop offset="0.6273" stop-color="#000" stop-opacity="0.996"/><stop offset="0.63" stop-color="#000" stop-opacity="0.991"/><stop offset="0.6327" stop-color="#000" stop-opacity="0.981"/><stop offset="0.6354" stop-color="#000" stop-opacity="0.963"/><stop offset="0.6381" stop-color="#000" stop-opacity="0.936"/><stop offset="0.6408" stop-color="#000" stop-opacity="0.895"/><stop offset="0.6434" stop-color="#000" stop-opacity="0.839"/><stop offset="0.6461" stop-color="#000" stop-opacity="0.768"/><stop offset="0.6488" stop-color="#000" stop-opacity="0.685"/><stop offset="0.6515" stop-color="#000" stop-opacity="0.593"/><stop offset="0.6542" stop-color="#000" stop-opacity="0.5"/><stop offset="0.6568" stop-color="#000" stop-opacity="0.41"/><stop offset="0.6595" stop-color="#000" stop-opacity="0.33"/><stop offset="0.6622" stop-color="#000" stop-opacity="0.264"/><stop offset="0.6649" stop-color="#000" stop-opacity="0.213"/><stop offset="0.6676" stop-color="#000" stop-opacity="0.178"/><stop offset="0.6702" stop-color="#000" stop-opacity="0.156"/><stop offset="0.6729" stop-color="#000" stop-opacity="0.146"/><stop offset="0.6756" stop-color="#000" stop-opacity="0.143"/><stop offset="0.6783" stop-color="#000" stop-opacity="0.527"/><stop offset="0.681" stop-color="#000" stop-opacity="0.559"/><stop offset="0.6836" stop-color="#000" stop-opacity="0.685"/><stop offset="0.6863" stop-color="#000" stop-opacity="0.861"/><stop offset="0.689" stop-color="#000" stop-opacity="0.969"/><stop offset="0.6917" stop-color="#000" stop-opacity="0.997"/><stop offset="0.6944" stop-color="#000" stop-opacity="1"/><stop offset="0.6971" stop-color="#000" stop-opacity="1"/><stop offset="0.6997" stop-color="#000" stop-opacity="1"/><stop offset="0.7024" stop-color="#000" stop-opacity="1"/><stop offset="0.7051" stop-color="#000" stop-opacity="1"/><stop offset="0.7078" stop-color="#000" stop-opacity="1"/><stop offset="0.7105" stop-color="#000" stop-opacity="1"/><stop offset="0.7131" stop-color="#000" stop-opacity="1"/><stop offset="0.7158" stop-color="#000" stop-opacity="1"/><stop offset="0.7185" stop-color="#000" stop-opacity="1"/><stop offset="0.7212" stop-color="#000" stop-opacity="0.998"/><stop offset="0.7239" stop-color="#000" stop-opacity="0.992"/><stop offset="0.7265" stop-color="#000" stop-opacity="0.969"/><stop offset="0.7292" stop-color="#000" stop-opacity="0.914"/><stop offset="0.7319" stop-color="#000" stop-opacity="0.81"/><stop offset="0.7346" stop-color="#000" stop-opacity="0.663"/><stop offset="0.7373" stop-color="#000" stop-opacity="0.5"/><stop offset="0.7399" stop-color="#000" stop-opacity="0.359"/><stop offset="0.7426" stop-color="#000" stop-opacity="0.266"/><stop offset="0.7453" stop-color="#000" stop-opacity="0.223"/><stop offset="0.748" stop-color="#000" stop-opacity="0.213"/><stop offset="0.7507" stop-color="#000" stop-opacity="0.143"/><stop offset="0.7534" stop-color="#000" stop-opacity="0.155"/><stop offset="0.756" stop-color="#000" stop-opacity="0.192"/><stop offset="0.7587" stop-color="#000" stop-opacity="0.264"/><stop offset="0.7614" stop-color="#000" stop-opacity="0.374"/><stop offset="0.7641" stop-color="#000" stop-opacity="0.511"/><stop offset="0.7668" stop-color="#000" stop-opacity="0.656"/><stop offset="0.7694" stop-color="#000" stop-opacity="0.786"/><stop offset="0.7721" stop-color="#000" stop-opacity="0.884"/><stop offset="0.7748" stop-color="#000" stop-opacity="0.947"/><stop offset="0.7775" stop-color="#000" stop-opacity="0.979"/><stop offset="0.7802" stop-color="#000" stop-opacity="0.993"/><stop offset="0.7828" stop-color="#000" stop-opacity="0.998"/><stop offset="0.7855" stop-color="#000" stop-opacity="1"/><stop offset="0.7882" stop-color="#000" stop-opacity="0.999"/><stop offset="0.7909" stop-color="#000" stop-opacity="0.991"/><stop offset="0.7936" stop-color="#000" stop-opacity="0.958"/><stop offset="0.7962" stop-color="#000" stop-opacity="0.879"/><stop offset="0.7989" stop-color="#000" stop-opacity="0.753"/><stop offset="0.8016" stop-color="#000" stop-opacity="0.622"/><stop offset="0.8043" stop-color="#000" stop-opacity="0.533"/><stop offset="0.807" stop-color="#000" stop-opacity="0.497"/><stop offset="0.8097" stop-color="#000" stop-opacity="0.493"/><stop offset="0.8123" stop-color="#000" stop-opacity="0.506"/><stop offset="0.815" stop-color="#000" stop-opacity="0.58"/><stop offset="0.8177" stop-color="#000" stop-opacity="0.722"/><stop offset="0.8204" stop-color="#000" stop-opacity="0.872"/><stop offset="0.8231" stop-color="#000" stop-opacity="0.962"/><stop offset="0.8257" stop-color="#000" stop-opacity="0.987"/><stop offset="0.8284" stop-color="#000" stop-opacity="0.982"/><stop offset="0.8311" stop-color="#000" stop-opacity="0.96"/><stop offset="0.8338" stop-color="#000" stop-opacity="0.919"/><stop offset="0.8365" stop-color="#000" stop-opacity="0.856"/><stop offset="0.8391" stop-color="#000" stop-opacity="0.769"/><stop offset="0.8418" stop-color="#000" stop-opacity="0.665"/><stop offset="0.8445" stop-color="#000" stop-opacity="0.552"/><stop offset="0.8472" stop-color="#000" stop-opacity="0.445"/><stop offset="0.8499" stop-color="#000" stop-opacity="0.353"/><stop offset="0.8525" stop-color="#000" stop-opacity="0.286"/><stop offset="0.8552" stop-color="#000" stop-opacity="0.242"/><stop offset="0.8579" stop-color="#000" stop-opacity="0.221"/><stop offset="0.8606" stop-color="#000" stop-opacity="0.214"/><stop offset="0.8633" stop-color="#000" stop-opacity="0.354"/><stop offset="0.866" stop-color="#000" stop-opacity="0.369"/><stop offset="0.8686" stop-color="#000" stop-opacity="0.438"/><stop offset="0.8713" stop-color="#000" stop-opacity="0.575"/><stop offset="0.874" stop-color="#000" stop-opacity="0.747"/><stop offset="0.8767" stop-color="#000" stop-opacity="0.888"/><stop offset="0.8794" stop-color="#000" stop-opacity="0.963"/><stop offset="0.882" stop-color="#000" stop-opacity="0.985"/><stop offset="0.8847" stop-color="#000" stop-opacity="0.983"/><stop offset="0.8874" stop-color="#000" stop-opacity="0.97"/><stop offset="0.8901" stop-color="#000" stop-opacity="0.948"/><stop offset="0.8928" stop-color="#000" stop-opacity="0.915"/><stop offset="0.8954" stop-color="#000" stop-opacity="0.869"/><stop offset="0.8981" stop-color="#000" stop-opacity="0.81"/><stop offset="0.9008" stop-color="#000" stop-opacity="0.737"/><stop offset="0.9035" stop-color="#000" stop-opacity="0.652"/><stop offset="0.9062" stop-color="#000" stop-opacity="0.558"/><stop offset="0.9088" stop-color="#000" stop-opacity="0.46"/><stop offset="0.9115" stop-color="#000" stop-opacity="0.364"/><stop offset="0.9142" stop-color="#000" stop-opacity="0.275"/><stop offset="0.9169" stop-color="#000" stop-opacity="0.196"/><stop offset="0.9196" stop-color="#000" stop-opacity="0.13"/><stop offset="0.9223" stop-color="#000" stop-opacity="0.079"/><stop offset="0.9249" stop-color="#000" stop-opacity="0.043"/><stop offset="0.9276" stop-color="#000" stop-opacity="0.019"/><stop offset="0.9303" stop-color="#000" stop-opacity="0.006"/><stop offset="0.933" stop-color="#000" stop-opacity="0.001"/><stop offset="0.9357" stop-color="#000" stop-opacity="0"/><stop offset="0.9383" stop-color="#000" stop-opacity="0.497"/><stop offset="0.941" stop-color="#000" stop-opacity="0.546"/><stop offset="0.9437" stop-color="#000" stop-opacity="0.668"/><stop offset="0.9464" stop-color="#000" stop-opacity="0.825"/><stop offset="0.9491" stop-color="#000" stop-opacity="0.941"/><stop offset="0.9517" stop-color="#000" stop-opacity="0.989"/><stop offset="0.9544" stop-color="#000" stop-opacity="0.999"/><stop offset="0.9571" stop-color="#000" stop-opacity="1"/><stop offset="0.9598" stop-color="#000" stop-opacity="1"/><stop offset="0.9625" stop-color="#000" stop-opacity="1"/><stop offset="0.9651" stop-color="#000" stop-opacity="1"/><stop offset="0.9678" stop-color="#000" stop-opacity="0.999"/><stop offset="0.9705" stop-color="#000" stop-opacity="0.998"/><stop offset="0.9732" stop-color="#000" stop-opacity="0.994"/><stop offset="0.9759" stop-color="#000" stop-opacity="0.985"/><stop offset="0.9786" stop-color="#000" stop-opacity="0.971"/><stop offset="0.9812" stop-color="#000" stop-opacity="0.952"/><stop offset="0.9839" stop-color="#000" stop-opacity="0.929"/><stop offset="0.9866" stop-color="#000" stop-opacity="0.907"/><stop offset="0.9893" stop-color="#000" stop-opacity="0.888"/><stop offset="0.992" stop-color="#000" stop-opacity="0.874"/><stop offset="0.9946" stop-color="#000" stop-opacity="0.867"/><stop offset="0.9973" stop-color="#000" stop-opacity="0.864"/><stop offset="1" stop-color="#000" stop-opacity="1"/></linearGradient>
<mask id="tm" maskUnits="userSpaceOnUse" x="105.3" y="55.4" width="745.3" height="720.8"><rect x="105.3" y="55.4" width="745.3" height="720.8" fill="url(#ex)"/><rect x="105.3" y="55.4" width="745.3" height="720.8" fill="url(#ey)"/></mask>
<linearGradient id="lx" x1="0" y1="0" x2="1" y2="0"><stop offset="0" stop-color="#f9edb4" stop-opacity="0"/><stop offset="0.0063" stop-color="#f9edb4" stop-opacity="0.089"/><stop offset="0.0125" stop-color="#f9edb4" stop-opacity="0.149"/><stop offset="0.0187" stop-color="#f9edb4" stop-opacity="0.193"/><stop offset="0.025" stop-color="#f9edb4" stop-opacity="0.22"/><stop offset="0.0312" stop-color="#f9edb4" stop-opacity="0.231"/><stop offset="0.0375" stop-color="#f9edb4" stop-opacity="0.224"/><stop offset="0.0437" stop-color="#f9edb4" stop-opacity="0.2"/><stop offset="0.05" stop-color="#f9edb4" stop-opacity="0.159"/><stop offset="0.0563" stop-color="#f9edb4" stop-opacity="0.102"/><stop offset="0.0625" stop-color="#f9edb4" stop-opacity="0.025"/><stop offset="0.0688" stop-color="#f9edb4" stop-opacity="0.043"/><stop offset="0.075" stop-color="#f9edb4" stop-opacity="0.079"/><stop offset="0.0813" stop-color="#f9edb4" stop-opacity="0.108"/><stop offset="0.0875" stop-color="#f9edb4" stop-opacity="0.129"/><stop offset="0.0938" stop-color="#f9edb4" stop-opacity="0.142"/><stop offset="0.1" stop-color="#f9edb4" stop-opacity="0.147"/><stop offset="0.1062" stop-color="#f9edb4" stop-opacity="0.144"/><stop offset="0.1125" stop-color="#f9edb4" stop-opacity="0.132"/><stop offset="0.1187" stop-color="#f9edb4" stop-opacity="0.112"/><stop offset="0.125" stop-color="#f9edb4" stop-opacity="0.085"/><stop offset="0.1313" stop-color="#f9edb4" stop-opacity="0.05"/><stop offset="0.1375" stop-color="#f9edb4" stop-opacity="0.004"/><stop offset="0.1437" stop-color="#f9edb4" stop-opacity="0.113"/><stop offset="0.15" stop-color="#f9edb4" stop-opacity="0.184"/><stop offset="0.1562" stop-color="#f9edb4" stop-opacity="0.231"/><stop offset="0.1625" stop-color="#f9edb4" stop-opacity="0.251"/><stop offset="0.1688" stop-color="#f9edb4" stop-opacity="0.244"/><stop offset="0.175" stop-color="#f9edb4" stop-opacity="0.21"/><stop offset="0.1812" stop-color="#f9edb4" stop-opacity="0.151"/><stop offset="0.1875" stop-color="#f9edb4" stop-opacity="0.065"/><stop offset="0.1938" stop-color="#f9edb4" stop-opacity="0.048"/><stop offset="0.2" stop-color="#f9edb4" stop-opacity="0.114"/><stop offset="0.2062" stop-color="#f9edb4" stop-opacity="0.162"/><stop offset="0.2125" stop-color="#f9edb4" stop-opacity="0.194"/><stop offset="0.2188" stop-color="#f9edb4" stop-opacity="0.209"/><stop offset="0.225" stop-color="#f9edb4" stop-opacity="0.206"/><stop offset="0.2313" stop-color="#f9edb4" stop-opacity="0.186"/><stop offset="0.2375" stop-color="#f9edb4" stop-opacity="0.149"/><stop offset="0.2437" stop-color="#f9edb4" stop-opacity="0.096"/><stop offset="0.25" stop-color="#f9edb4" stop-opacity="0.022"/><stop offset="0.2562" stop-color="#f9edb4" stop-opacity="0.057"/><stop offset="0.2625" stop-color="#f9edb4" stop-opacity="0.105"/><stop offset="0.2687" stop-color="#f9edb4" stop-opacity="0.142"/><stop offset="0.275" stop-color="#f9edb4" stop-opacity="0.169"/><stop offset="0.2812" stop-color="#f9edb4" stop-opacity="0.184"/><stop offset="0.2875" stop-color="#f9edb4" stop-opacity="0.189"/><stop offset="0.2938" stop-color="#f9edb4" stop-opacity="0.182"/><stop offset="0.3" stop-color="#f9edb4" stop-opacity="0.164"/><stop offset="0.3063" stop-color="#f9edb4" stop-opacity="0.135"/><stop offset="0.3125" stop-color="#f9edb4" stop-opacity="0.095"/><stop offset="0.3187" stop-color="#f9edb4" stop-opacity="0.044"/><stop offset="0.325" stop-color="#f9edb4" stop-opacity="0.038"/><stop offset="0.3312" stop-color="#f9edb4" stop-opacity="0.101"/><stop offset="0.3375" stop-color="#f9edb4" stop-opacity="0.15"/><stop offset="0.3438" stop-color="#f9edb4" stop-opacity="0.187"/><stop offset="0.35" stop-color="#f9edb4" stop-opacity="0.213"/><stop offset="0.3563" stop-color="#f9edb4" stop-opacity="0.228"/><stop offset="0.3625" stop-color="#f9edb4" stop-opacity="0.23"/><stop offset="0.3688" stop-color="#f9edb4" stop-opacity="0.221"/><stop offset="0.375" stop-color="#f9edb4" stop-opacity="0.199"/><stop offset="0.3812" stop-color="#f9edb4" stop-opacity="0.166"/><stop offset="0.3875" stop-color="#f9edb4" stop-opacity="0.122"/><stop offset="0.3937" stop-color="#f9edb4" stop-opacity="0.066"/><stop offset="0.4" stop-color="#f9edb4" stop-opacity="0.024"/><stop offset="0.4062" stop-color="#f9edb4" stop-opacity="0.107"/><stop offset="0.4125" stop-color="#f9edb4" stop-opacity="0.168"/><stop offset="0.4188" stop-color="#f9edb4" stop-opacity="0.213"/><stop offset="0.425" stop-color="#f9edb4" stop-opacity="0.241"/><stop offset="0.4313" stop-color="#f9edb4" stop-opacity="0.252"/><stop offset="0.4375" stop-color="#f9edb4" stop-opacity="0.245"/><stop offset="0.4437" stop-color="#f9edb4" stop-opacity="0.22"/><stop offset="0.45" stop-color="#f9edb4" stop-opacity="0.178"/><stop offset="0.4562" stop-color="#f9edb4" stop-opacity="0.12"/><stop offset="0.4625" stop-color="#f9edb4" stop-opacity="0.043"/><stop offset="0.4688" stop-color="#f9edb4" stop-opacity="0.049"/><stop offset="0.475" stop-color="#f9edb4" stop-opacity="0.102"/><stop offset="0.4813" stop-color="#f9edb4" stop-opacity="0.142"/><stop offset="0.4875" stop-color="#f9edb4" stop-opacity="0.17"/><stop offset="0.4938" stop-color="#f9edb4" stop-opacity="0.186"/><stop offset="0.5" stop-color="#f9edb4" stop-opacity="0.188"/><stop offset="0.5062" stop-color="#f9edb4" stop-opacity="0.178"/><stop offset="0.5125" stop-color="#f9edb4" stop-opacity="0.156"/><stop offset="0.5188" stop-color="#f9edb4" stop-opacity="0.121"/><stop offset="0.525" stop-color="#f9edb4" stop-opacity="0.074"/><stop offset="0.5312" stop-color="#f9edb4" stop-opacity="0.009"/><stop offset="0.5375" stop-color="#f9edb4" stop-opacity="0.087"/><stop offset="0.5437" stop-color="#f9edb4" stop-opacity="0.151"/><stop offset="0.55" stop-color="#f9edb4" stop-opacity="0.2"/><stop offset="0.5563" stop-color="#f9edb4" stop-opacity="0.233"/><stop offset="0.5625" stop-color="#f9edb4" stop-opacity="0.25"/><stop offset="0.5687" stop-color="#f9edb4" stop-opacity="0.25"/><stop offset="0.575" stop-color="#f9edb4" stop-opacity="0.233"/><stop offset="0.5813" stop-color="#f9edb4" stop-opacity="0.201"/><stop offset="0.5875" stop-color="#f9edb4" stop-opacity="0.152"/><stop offset="0.5938" stop-color="#f9edb4" stop-opacity="0.088"/><stop offset="0.6" stop-color="#f9edb4" stop-opacity="0.011"/><stop offset="0.6062" stop-color="#f9edb4" stop-opacity="0.102"/><stop offset="0.6125" stop-color="#f9edb4" stop-opacity="0.162"/><stop offset="0.6188" stop-color="#f9edb4" stop-opacity="0.199"/><stop offset="0.625" stop-color="#f9edb4" stop-opacity="0.21"/><stop offset="0.6312" stop-color="#f9edb4" stop-opacity="0.195"/><stop offset="0.6375" stop-color="#f9edb4" stop-opacity="0.156"/><stop offset="0.6438" stop-color="#f9edb4" stop-opacity="0.092"/><stop offset="0.65" stop-color="#f9edb4" stop-opacity="0.011"/><stop offset="0.6562" stop-color="#f9edb4" stop-opacity="0.092"/><stop offset="0.6625" stop-color="#f9edb4" stop-opacity="0.146"/><stop offset="0.6687" stop-color="#f9edb4" stop-opacity="0.178"/><stop offset="0.675" stop-color="#f9edb4" stop-opacity="0.189"/><stop offset="0.6813" stop-color="#f9edb4" stop-opacity="0.177"/><stop offset="0.6875" stop-color="#f9edb4" stop-opacity="0.142"/><stop offset="0.6937" stop-color="#f9edb4" stop-opacity="0.087"/><stop offset="0.7" stop-color="#f9edb4" stop-opacity="0.001"/><stop offset="0.7063" stop-color="#f9edb4" stop-opacity="0.099"/><stop offset="0.7125" stop-color="#f9edb4" stop-opacity="0.163"/><stop offset="0.7188" stop-color="#f9edb4" stop-opacity="0.207"/><stop offset="0.725" stop-color="#f9edb4" stop-opacity="0.229"/><stop offset="0.7312" stop-color="#f9edb4" stop-opacity="0.228"/><stop offset="0.7375" stop-color="#f9edb4" stop-opacity="0.204"/><stop offset="0.7438" stop-color="#f9edb4" stop-opacity="0.158"/><stop offset="0.75" stop-color="#f9edb4" stop-opacity="0.092"/><stop offset="0.7562" stop-color="#f9edb4" stop-opacity="0.019"/><stop offset="0.7625" stop-color="#f9edb4" stop-opacity="0.132"/><stop offset="0.7688" stop-color="#f9edb4" stop-opacity="0.205"/><stop offset="0.775" stop-color="#f9edb4" stop-opacity="0.245"/><stop offset="0.7812" stop-color="#f9edb4" stop-opacity="0.25"/><stop offset="0.7875" stop-color="#f9edb4" stop-opacity="0.219"/><stop offset="0.7937" stop-color="#f9edb4" stop-opacity="0.154"/><stop offset="0.8" stop-color="#f9edb4" stop-opacity="0.055"/><stop offset="0.8063" stop-color="#f9edb4" stop-opacity="0.047"/><stop offset="0.8125" stop-color="#f9edb4" stop-opacity="0.097"/><stop offset="0.8187" stop-color="#f9edb4" stop-opacity="0.135"/><stop offset="0.825" stop-color="#f9edb4" stop-opacity="0.164"/><stop offset="0.8313" stop-color="#f9edb4" stop-opacity="0.182"/><stop offset="0.8375" stop-color="#f9edb4" stop-opacity="0.189"/><stop offset="0.8438" stop-color="#f9edb4" stop-opacity="0.185"/><stop offset="0.85" stop-color="#f9edb4" stop-opacity="0.17"/><stop offset="0.8562" stop-color="#f9edb4" stop-opacity="0.144"/><stop offset="0.8625" stop-color="#f9edb4" stop-opacity="0.108"/><stop offset="0.8688" stop-color="#f9edb4" stop-opacity="0.061"/><stop offset="0.875" stop-color="#f9edb4" stop-opacity="0.013"/><stop offset="0.8812" stop-color="#f9edb4" stop-opacity="0.09"/><stop offset="0.8875" stop-color="#f9edb4" stop-opacity="0.147"/><stop offset="0.8938" stop-color="#f9edb4" stop-opacity="0.189"/><stop offset="0.9" stop-color="#f9edb4" stop-opacity="0.217"/><stop offset="0.9062" stop-color="#f9edb4" stop-opacity="0.23"/><stop offset="0.9125" stop-color="#f9edb4" stop-opacity="0.228"/><stop offset="0.9187" stop-color="#f9edb4" stop-opacity="0.21"/><stop offset="0.925" stop-color="#f9edb4" stop-opacity="0.178"/><stop offset="0.9313" stop-color="#f9edb4" stop-opacity="0.132"/><stop offset="0.9375" stop-color="#f9edb4" stop-opacity="0.072"/><stop offset="0.9437" stop-color="#f9edb4" stop-opacity="0.023"/><stop offset="0.95" stop-color="#f9edb4" stop-opacity="0.1"/><stop offset="0.9563" stop-color="#f9edb4" stop-opacity="0.154"/><stop offset="0.9625" stop-color="#f9edb4" stop-opacity="0.191"/><stop offset="0.9688" stop-color="#f9edb4" stop-opacity="0.208"/><stop offset="0.975" stop-color="#f9edb4" stop-opacity="0.207"/><stop offset="0.9812" stop-color="#f9edb4" stop-opacity="0.185"/><stop offset="0.9875" stop-color="#f9edb4" stop-opacity="0.145"/><stop offset="0.9938" stop-color="#f9edb4" stop-opacity="0.088"/><stop offset="1" stop-color="#f9edb4" stop-opacity="0"/></linearGradient>
<linearGradient id="ly" x1="0" y1="0" x2="0" y2="1"><stop offset="0" stop-color="#f9edb4" stop-opacity="0"/><stop offset="0.0063" stop-color="#f9edb4" stop-opacity="0.088"/><stop offset="0.0125" stop-color="#f9edb4" stop-opacity="0.145"/><stop offset="0.0187" stop-color="#f9edb4" stop-opacity="0.185"/><stop offset="0.025" stop-color="#f9edb4" stop-opacity="0.207"/><stop offset="0.0312" stop-color="#f9edb4" stop-opacity="0.208"/><stop offset="0.0375" stop-color="#f9edb4" stop-opacity="0.191"/><stop offset="0.0437" stop-color="#f9edb4" stop-opacity="0.154"/><stop offset="0.05" stop-color="#f9edb4" stop-opacity="0.1"/><stop offset="0.0563" stop-color="#f9edb4" stop-opacity="0.023"/><stop offset="0.0625" stop-color="#f9edb4" stop-opacity="0.072"/><stop offset="0.0688" stop-color="#f9edb4" stop-opacity="0.132"/><stop offset="0.075" stop-color="#f9edb4" stop-opacity="0.178"/><stop offset="0.0813" stop-color="#f9edb4" stop-opacity="0.21"/><stop offset="0.0875" stop-color="#f9edb4" stop-opacity="0.228"/><stop offset="0.0938" stop-color="#f9edb4" stop-opacity="0.23"/><stop offset="0.1" stop-color="#f9edb4" stop-opacity="0.217"/><stop offset="0.1062" stop-color="#f9edb4" stop-opacity="0.189"/><stop offset="0.1125" stop-color="#f9edb4" stop-opacity="0.147"/><stop offset="0.1187" stop-color="#f9edb4" stop-opacity="0.09"/><stop offset="0.125" stop-color="#f9edb4" stop-opacity="0.013"/><stop offset="0.1313" stop-color="#f9edb4" stop-opacity="0.061"/><stop offset="0.1375" stop-color="#f9edb4" stop-opacity="0.108"/><stop offset="0.1437" stop-color="#f9edb4" stop-opacity="0.144"/><stop offset="0.15" stop-color="#f9edb4" stop-opacity="0.17"/><stop offset="0.1562" stop-color="#f9edb4" stop-opacity="0.185"/><stop offset="0.1625" stop-color="#f9edb4" stop-opacity="0.189"/><stop offset="0.1688" stop-color="#f9edb4" stop-opacity="0.182"/><stop offset="0.175" stop-color="#f9edb4" stop-opacity="0.164"/><stop offset="0.1812" stop-color="#f9edb4" stop-opacity="0.135"/><stop offset="0.1875" stop-color="#f9edb4" stop-opacity="0.097"/><stop offset="0.1938" stop-color="#f9edb4" stop-opacity="0.047"/><stop offset="0.2" stop-color="#f9edb4" stop-opacity="0.055"/><stop offset="0.2062" stop-color="#f9edb4" stop-opacity="0.154"/><stop offset="0.2125" stop-color="#f9edb4" stop-opacity="0.219"/><stop offset="0.2188" stop-color="#f9edb4" stop-opacity="0.25"/><stop offset="0.225" stop-color="#f9edb4" stop-opacity="0.245"/><stop offset="0.2313" stop-color="#f9edb4" stop-opacity="0.205"/><stop offset="0.2375" stop-color="#f9edb4" stop-opacity="0.132"/><stop offset="0.2437" stop-color="#f9edb4" stop-opacity="0.019"/><stop offset="0.25" stop-color="#f9edb4" stop-opacity="0.092"/><stop offset="0.2562" stop-color="#f9edb4" stop-opacity="0.158"/><stop offset="0.2625" stop-color="#f9edb4" stop-opacity="0.204"/><stop offset="0.2687" stop-color="#f9edb4" stop-opacity="0.228"/><stop offset="0.275" stop-color="#f9edb4" stop-opacity="0.229"/><stop offset="0.2812" stop-color="#f9edb4" stop-opacity="0.207"/><stop offset="0.2875" stop-color="#f9edb4" stop-opacity="0.163"/><stop offset="0.2938" stop-color="#f9edb4" stop-opacity="0.099"/><stop offset="0.3" stop-color="#f9edb4" stop-opacity="0.001"/><stop offset="0.3063" stop-color="#f9edb4" stop-opacity="0.087"/><stop offset="0.3125" stop-color="#f9edb4" stop-opacity="0.142"/><stop offset="0.3187" stop-color="#f9edb4" stop-opacity="0.177"/><stop offset="0.325" stop-color="#f9edb4" stop-opacity="0.189"/><stop offset="0.3312" stop-color="#f9edb4" stop-opacity="0.178"/><stop offset="0.3375" stop-color="#f9edb4" stop-opacity="0.146"/><stop offset="0.3438" stop-color="#f9edb4" stop-opacity="0.092"/><stop offset="0.35" stop-color="#f9edb4" stop-opacity="0.011"/><stop offset="0.3563" stop-color="#f9edb4" stop-opacity="0.092"/><stop offset="0.3625" stop-color="#f9edb4" stop-opacity="0.156"/><stop offset="0.3688" stop-color="#f9edb4" stop-opacity="0.195"/><stop offset="0.375" stop-color="#f9edb4" stop-opacity="0.21"/><stop offset="0.3812" stop-color="#f9edb4" stop-opacity="0.199"/><stop offset="0.3875" stop-color="#f9edb4" stop-opacity="0.162"/><stop offset="0.3937" stop-color="#f9edb4" stop-opacity="0.102"/><stop offset="0.4" stop-color="#f9edb4" stop-opacity="0.011"/><stop offset="0.4062" stop-color="#f9edb4" stop-opacity="0.088"/><stop offset="0.4125" stop-color="#f9edb4" stop-opacity="0.152"/><stop offset="0.4188" stop-color="#f9edb4" stop-opacity="0.201"/><stop offset="0.425" stop-color="#f9edb4" stop-opacity="0.233"/><stop offset="0.4313" stop-color="#f9edb4" stop-opacity="0.25"/><stop offset="0.4375" stop-color="#f9edb4" stop-opacity="0.25"/><stop offset="0.4437" stop-color="#f9edb4" stop-opacity="0.233"/><stop offset="0.45" stop-color="#f9edb4" stop-opacity="0.2"/><stop offset="0.4562" stop-color="#f9edb4" stop-opacity="0.151"/><stop offset="0.4625" stop-color="#f9edb4" stop-opacity="0.087"/><stop offset="0.4688" stop-color="#f9edb4" stop-opacity="0.009"/><stop offset="0.475" stop-color="#f9edb4" stop-opacity="0.074"/><stop offset="0.4813" stop-color="#f9edb4" stop-opacity="0.121"/><stop offset="0.4875" stop-color="#f9edb4" stop-opacity="0.156"/><stop offset="0.4938" stop-color="#f9edb4" stop-opacity="0.178"/><stop offset="0.5" stop-color="#f9edb4" stop-opacity="0.188"/><stop offset="0.5062" stop-color="#f9edb4" stop-opacity="0.186"/><stop offset="0.5125" stop-color="#f9edb4" stop-opacity="0.17"/><stop offset="0.5188" stop-color="#f9edb4" stop-opacity="0.142"/><stop offset="0.525" stop-color="#f9edb4" stop-opacity="0.102"/><stop offset="0.5312" stop-color="#f9edb4" stop-opacity="0.049"/><stop offset="0.5375" stop-color="#f9edb4" stop-opacity="0.043"/><stop offset="0.5437" stop-color="#f9edb4" stop-opacity="0.12"/><stop offset="0.55" stop-color="#f9edb4" stop-opacity="0.178"/><stop offset="0.5563" stop-color="#f9edb4" stop-opacity="0.22"/><stop offset="0.5625" stop-color="#f9edb4" stop-opacity="0.245"/><stop offset="0.5687" stop-color="#f9edb4" stop-opacity="0.252"/><stop offset="0.575" stop-color="#f9edb4" stop-opacity="0.241"/><stop offset="0.5813" stop-color="#f9edb4" stop-opacity="0.213"/><stop offset="0.5875" stop-color="#f9edb4" stop-opacity="0.168"/><stop offset="0.5938" stop-color="#f9edb4" stop-opacity="0.107"/><stop offset="0.6" stop-color="#f9edb4" stop-opacity="0.024"/><stop offset="0.6062" stop-color="#f9edb4" stop-opacity="0.066"/><stop offset="0.6125" stop-color="#f9edb4" stop-opacity="0.122"/><stop offset="0.6188" stop-color="#f9edb4" stop-opacity="0.166"/><stop offset="0.625" stop-color="#f9edb4" stop-opacity="0.199"/><stop offset="0.6312" stop-color="#f9edb4" stop-opacity="0.221"/><stop offset="0.6375" stop-color="#f9edb4" stop-opacity="0.23"/><stop offset="0.6438" stop-color="#f9edb4" stop-opacity="0.228"/><stop offset="0.65" stop-color="#f9edb4" stop-opacity="0.213"/><stop offset="0.6562" stop-color="#f9edb4" stop-opacity="0.187"/><stop offset="0.6625" stop-color="#f9edb4" stop-opacity="0.15"/><stop offset="0.6687" stop-color="#f9edb4" stop-opacity="0.101"/><stop offset="0.675" stop-color="#f9edb4" stop-opacity="0.038"/><stop offset="0.6813" stop-color="#f9edb4" stop-opacity="0.044"/><stop offset="0.6875" stop-color="#f9edb4" stop-opacity="0.095"/><stop offset="0.6937" stop-color="#f9edb4" stop-opacity="0.135"/><stop offset="0.7" stop-color="#f9edb4" stop-opacity="0.164"/><stop offset="0.7063" stop-color="#f9edb4" stop-opacity="0.182"/><stop offset="0.7125" stop-color="#f9edb4" stop-opacity="0.189"/><stop offset="0.7188" stop-color="#f9edb4" stop-opacity="0.184"/><stop offset="0.725" stop-color="#f9edb4" stop-opacity="0.169"/><stop offset="0.7312" stop-color="#f9edb4" stop-opacity="0.142"/><stop offset="0.7375" stop-color="#f9edb4" stop-opacity="0.105"/><stop offset="0.7438" stop-color="#f9edb4" stop-opacity="0.057"/><stop offset="0.75" stop-color="#f9edb4" stop-opacity="0.022"/><stop offset="0.7562" stop-color="#f9edb4" stop-opacity="0.096"/><stop offset="0.7625" stop-color="#f9edb4" stop-opacity="0.149"/><stop offset="0.7688" stop-color="#f9edb4" stop-opacity="0.186"/><stop offset="0.775" stop-color="#f9edb4" stop-opacity="0.206"/><stop offset="0.7812" stop-color="#f9edb4" stop-opacity="0.209"/><stop offset="0.7875" stop-color="#f9edb4" stop-opacity="0.194"/><stop offset="0.7937" stop-color="#f9edb4" stop-opacity="0.162"/><stop offset="0.8" stop-color="#f9edb4" stop-opacity="0.114"/><stop offset="0.8063" stop-color="#f9edb4" stop-opacity="0.048"/><stop offset="0.8125" stop-color="#f9edb4" stop-opacity="0.065"/><stop offset="0.8187" stop-color="#f9edb4" stop-opacity="0.151"/><stop offset="0.825" stop-color="#f9edb4" stop-opacity="0.21"/><stop offset="0.8313" stop-color="#f9edb4" stop-opacity="0.244"/><stop offset="0.8375" stop-color="#f9edb4" stop-opacity="0.251"/><stop offset="0.8438" stop-color="#f9edb4" stop-opacity="0.231"/><stop offset="0.85" stop-color="#f9edb4" stop-opacity="0.184"/><stop offset="0.8562" stop-color="#f9edb4" stop-opacity="0.113"/><stop offset="0.8625" stop-color="#f9edb4" stop-opacity="0.004"/><stop offset="0.8688" stop-color="#f9edb4" stop-opacity="0.05"/><stop offset="0.875" stop-color="#f9edb4" stop-opacity="0.085"/><stop offset="0.8812" stop-color="#f9edb4" stop-opacity="0.112"/><stop offset="0.8875" stop-color="#f9edb4" stop-opacity="0.132"/><stop offset="0.8938" stop-color="#f9edb4" stop-opacity="0.144"/><stop offset="0.9" stop-color="#f9edb4" stop-opacity="0.147"/><stop offset="0.9062" stop-color="#f9edb4" stop-opacity="0.142"/><stop offset="0.9125" stop-color="#f9edb4" stop-opacity="0.129"/><stop offset="0.9187" stop-color="#f9edb4" stop-opacity="0.108"/><stop offset="0.925" stop-color="#f9edb4" stop-opacity="0.079"/><stop offset="0.9313" stop-color="#f9edb4" stop-opacity="0.043"/><stop offset="0.9375" stop-color="#f9edb4" stop-opacity="0.025"/><stop offset="0.9437" stop-color="#f9edb4" stop-opacity="0.102"/><stop offset="0.95" stop-color="#f9edb4" stop-opacity="0.159"/><stop offset="0.9563" stop-color="#f9edb4" stop-opacity="0.2"/><stop offset="0.9625" stop-color="#f9edb4" stop-opacity="0.224"/><stop offset="0.9688" stop-color="#f9edb4" stop-opacity="0.231"/><stop offset="0.975" stop-color="#f9edb4" stop-opacity="0.22"/><stop offset="0.9812" stop-color="#f9edb4" stop-opacity="0.193"/><stop offset="0.9875" stop-color="#f9edb4" stop-opacity="0.149"/><stop offset="0.9938" stop-color="#f9edb4" stop-opacity="0.089"/><stop offset="1" stop-color="#f9edb4" stop-opacity="0"/></linearGradient>
<linearGradient id="dg" gradientUnits="userSpaceOnUse" x1="56.64" y1="725.88" x2="153.96" y2="826.52"><stop offset="0" stop-color="#f5c370" stop-opacity="0"/><stop offset="0.2429" stop-color="#f5c06c" stop-opacity="0.08"/><stop offset="0.3286" stop-color="#f5b762" stop-opacity="0.19"/><stop offset="0.3786" stop-color="#f3a955" stop-opacity="0.32"/><stop offset="0.4143" stop-color="#f19748" stop-opacity="0.46"/><stop offset="0.4429" stop-color="#ee7c3c" stop-opacity="0.6"/><stop offset="0.4643" stop-color="#ea6a38" stop-opacity="0.72"/><stop offset="0.48" stop-color="#e4502f" stop-opacity="0.84"/><stop offset="0.49" stop-color="#d9302b" stop-opacity="0.95"/><stop offset="0.4957" stop-color="#c8202a" stop-opacity="1"/><stop offset="0.5" stop-color="#b8283a" stop-opacity="1"/><stop offset="0.5043" stop-color="#c8202a" stop-opacity="1"/><stop offset="0.51" stop-color="#d9302b" stop-opacity="0.95"/><stop offset="0.52" stop-color="#e4502f" stop-opacity="0.84"/><stop offset="0.5357" stop-color="#ea6a38" stop-opacity="0.72"/><stop offset="0.5571" stop-color="#ee7c3c" stop-opacity="0.6"/><stop offset="0.5857" stop-color="#f19748" stop-opacity="0.46"/><stop offset="0.6214" stop-color="#f3a955" stop-opacity="0.32"/><stop offset="0.6714" stop-color="#f5b762" stop-opacity="0.19"/><stop offset="0.7571" stop-color="#f5c06c" stop-opacity="0.08"/><stop offset="1" stop-color="#f5c370" stop-opacity="0"/></linearGradient>
<clipPath id="dc"><rect x="105.3" y="730.26" width="47.5" height="45.94"/><rect x="152.8" y="677.17" width="54.9" height="53.1"/><rect x="207.7" y="638.77" width="39.7" height="38.39"/><rect x="247.4" y="595.15" width="45.1" height="43.62"/><rect x="292.5" y="543.8" width="53.1" height="51.35"/><rect x="345.6" y="488.67" width="57" height="55.13"/><rect x="402.6" y="441.19" width="49.1" height="47.49"/><rect x="451.7" y="392.93" width="49.9" height="48.26"/><rect x="501.6" y="343.99" width="50.6" height="48.94"/><rect x="552.2" y="308.01" width="37.2" height="35.98"/><rect x="589.4" y="271.65" width="37.6" height="36.36"/><rect x="627" y="231.51" width="41.5" height="40.14"/><rect x="668.5" y="197.95" width="34.7" height="33.56"/><rect x="703.2" y="145.92" width="53.8" height="52.03"/><rect x="757" y="96.79" width="50.8" height="49.13"/><rect x="807.8" y="55.4" width="42.8" height="41.39"/></clipPath>
<clipPath id="hc"><rect x="105.3" y="55.4" width="745.3" height="720.8"/></clipPath>
<filter id="nz" x="0" y="0" width="1" height="1" color-interpolation-filters="sRGB"><feTurbulence type="fractalNoise" baseFrequency="0.95" numOctaves="2" seed="3" result="t"/><feColorMatrix in="t" type="matrix" values="0 0 0 0 0.98  0 0 0 0 0.95  0 0 0 0 0.74  3.2 0 0 0 -1.35"/></filter>
<filter id="nz2" x="0" y="0" width="1" height="1" color-interpolation-filters="sRGB"><feTurbulence type="fractalNoise" baseFrequency="0.9" numOctaves="2" seed="9" result="t"/><feColorMatrix in="t" type="matrix" values="0 0 0 0 0.95  0 0 0 0 0.72  0 0 0 0 0.30  0 3.0 0 0 -1.40"/></filter>
<linearGradient id="cb" x1="0" y1="0" x2="0" y2="1"><stop offset="0" stop-color="#030303"/><stop offset="0.025" stop-color="#1f0409"/><stop offset="0.051" stop-color="#3c0610"/><stop offset="0.084" stop-color="#5e1220"/><stop offset="0.117" stop-color="#7a1a28"/><stop offset="0.182" stop-color="#981d29"/><stop offset="0.237" stop-color="#b01d28"/><stop offset="0.289" stop-color="#c51a26"/><stop offset="0.351" stop-color="#d8252a"/><stop offset="0.428" stop-color="#e44e2e"/><stop offset="0.513" stop-color="#ea6d39"/><stop offset="0.6" stop-color="#f09443"/><stop offset="0.674" stop-color="#f2ad52"/><stop offset="0.738" stop-color="#f4c066"/><stop offset="0.848" stop-color="#f6d988"/><stop offset="0.935" stop-color="#f8eaa8"/><stop offset="1" stop-color="#fbfbcb"/></linearGradient>
</defs>
<g id="heatmap">
<rect x="105.3" y="55.4" width="745.3" height="720.8" fill="#f6d987"/>
<rect x="105.3" y="55.4" width="745.3" height="720.8" fill="url(#lx)"/>
<rect x="105.3" y="55.4" width="745.3" height="720.8" fill="url(#ly)"/>
<rect x="105.3" y="55.4" width="745.3" height="720.8" fill="#ec9a3a" opacity="0.82" mask="url(#tm)"/>
<rect x="105.3" y="55.4" width="745.3" height="720.8" filter="url(#nz)" opacity="0.55"/>
<rect x="105.3" y="55.4" width="745.3" height="720.8" filter="url(#nz2)" opacity="0.35"/>
<g stroke="#fdf5da" stroke-opacity="0.5" stroke-dasharray="1.2 0.5 2.5 0.7 1.6 0.9 3 0.6" fill="none"><path d="M191 55.4V776.2M105.3 693.3H850.6" stroke-width="1"/><path d="M368 55.4V776.2M105.3 522.1H850.6" stroke-width="0.8"/><path d="M522.1 55.4V776.2M105.3 373.1H850.6" stroke-width="1"/><path d="M616.7 55.4V776.2M105.3 281.6H850.6" stroke-width="1.4"/><path d="M683.3 55.4V776.2M105.3 217.2H850.6" stroke-width="0.8"/><path d="M767.4 55.4V776.2M105.3 135.9H850.6" stroke-width="0.8"/><path d="M128.5 55.4V776.2M105.3 753.8H850.6" stroke-width="1.4"/><path d="M268.5 55.4V776.2M105.3 618.4H850.6" stroke-width="0.8"/><path d="M430 55.4V776.2M105.3 462.2H850.6" stroke-width="1"/><path d="M575 55.4V776.2M105.3 321.9H850.6" stroke-width="1.4"/><path d="M722 55.4V776.2M105.3 179.8H850.6" stroke-width="0.8"/><path d="M836 55.4V776.2M105.3 69.5H850.6" stroke-width="1.4"/><path d="M141 55.4V776.2M105.3 741.7H850.6" stroke-width="0.8"/><path d="M176.5 55.4V776.2M105.3 707.3H850.6" stroke-width="0.8"/><path d="M225 55.4V776.2M105.3 660.4H850.6" stroke-width="0.8"/><path d="M311 55.4V776.2M105.3 577.3H850.6" stroke-width="1"/><path d="M331.5 55.4V776.2M105.3 557.4H850.6" stroke-width="1"/><path d="M389 55.4V776.2M105.3 501.8H850.6" stroke-width="0.8"/><path d="M418 55.4V776.2M105.3 473.8H850.6" stroke-width="0.8"/><path d="M466 55.4V776.2M105.3 427.4H850.6" stroke-width="0.8"/><path d="M487.5 55.4V776.2M105.3 406.6H850.6" stroke-width="1.4"/><path d="M538 55.4V776.2M105.3 357.7H850.6" stroke-width="1"/><path d="M603 55.4V776.2M105.3 294.9H850.6" stroke-width="0.8"/><path d="M641 55.4V776.2M105.3 258.1H850.6" stroke-width="1.4"/><path d="M655.5 55.4V776.2M105.3 244.1H850.6" stroke-width="0.8"/><path d="M741 55.4V776.2M105.3 161.4H850.6" stroke-width="0.8"/><path d="M786 55.4V776.2M105.3 117.9H850.6" stroke-width="1.4"/><path d="M822 55.4V776.2M105.3 83.1H850.6" stroke-width="1.4"/></g>
<g clip-path="url(#dc)">
<rect x="105.3" y="55.4" width="745.3" height="720.8" fill="#f4b35c" opacity="0.10"/>
<rect x="105.3" y="55.4" width="745.3" height="720.8" fill="url(#dg)"/>
<g fill="#ec7a38" fill-opacity="0.23"><rect x="105.3" y="753" width="24" height="23.2"/><rect x="129.3" y="730.3" width="23.5" height="22.7"/><rect x="147.8" y="730.3" width="5" height="4.8"/><rect x="106.6" y="755.5" width="20" height="19.4" opacity=".45"/><rect x="113.6" y="755.4" width="13.2" height="12.8" opacity=".45"/><rect x="108.7" y="758.6" width="14.8" height="14.3" opacity=".45"/><rect x="152.8" y="701.2" width="30" height="29"/><rect x="182.8" y="694.5" width="7" height="6.8"/><rect x="189.8" y="680.9" width="14" height="13.5"/><rect x="203.8" y="677.2" width="3.9" height="3.8"/><rect x="171.4" y="692.4" width="20.5" height="19.8" opacity=".45"/><rect x="169.2" y="695.5" width="19.6" height="18.9" opacity=".45"/><rect x="178.4" y="687.3" width="18.8" height="18.2" opacity=".45"/><rect x="207.7" y="659.8" width="18" height="17.4"/><rect x="222.7" y="649.1" width="14" height="13.5"/><rect x="236.7" y="639.4" width="10" height="9.7"/><rect x="209.6" y="663.4" width="12.3" height="11.9" opacity=".45"/><rect x="219.5" y="653.5" width="12.7" height="12.2" opacity=".45"/><rect x="218.4" y="652.6" width="14.8" height="14.3" opacity=".45"/><rect x="247.4" y="632" width="7" height="6.8"/><rect x="254.4" y="608.8" width="24" height="23.2"/><rect x="273.4" y="604" width="10" height="9.7"/><rect x="280.4" y="597.2" width="10" height="9.7"/><rect x="285.4" y="595.2" width="7.1" height="6.9"/><rect x="273.4" y="602" width="12" height="11.6" opacity=".45"/><rect x="262.5" y="606.4" width="18.4" height="17.8" opacity=".45"/><rect x="269.5" y="603.5" width="14.3" height="13.9" opacity=".45"/><rect x="292.5" y="581.6" width="14" height="13.5"/><rect x="301.5" y="563.2" width="24" height="23.2"/><rect x="320.5" y="561.3" width="7" height="6.8"/><rect x="327.5" y="547.8" width="14" height="13.5"/><rect x="336.5" y="543.8" width="9.1" height="8.8"/><rect x="294.4" y="573.2" width="20.7" height="20" opacity=".45"/><rect x="313.1" y="552.2" width="23.8" height="23" opacity=".45"/><rect x="318.7" y="554.1" width="16.3" height="15.8" opacity=".45"/><rect x="345.6" y="526.4" width="18" height="17.4"/><rect x="360.6" y="522.5" width="7" height="6.8"/><rect x="362.6" y="513.8" width="14" height="13.5"/><rect x="376.6" y="490.6" width="24" height="23.2"/><rect x="362.5" y="511.3" width="16.7" height="16.2" opacity=".45"/><rect x="355.4" y="512.4" width="22.7" height="21.9" opacity=".45"/><rect x="359.2" y="506.7" width="24.7" height="23.9" opacity=".45"/><rect x="402.6" y="471.3" width="18" height="17.4"/><rect x="420.6" y="461.6" width="10" height="9.7"/><rect x="425.6" y="449" width="18" height="17.4"/><rect x="440.6" y="442.3" width="10" height="9.7"/><rect x="445.6" y="441.2" width="6.1" height="5.9"/><rect x="423.4" y="447.3" width="22" height="21.2" opacity=".45"/><rect x="422.7" y="453.7" width="16" height="15.5" opacity=".45"/><rect x="409.4" y="469.4" width="13.1" height="12.7" opacity=".45"/><rect x="451.7" y="431.5" width="10" height="9.7"/><rect x="461.7" y="402.5" width="30" height="29"/><rect x="491.7" y="395.7" width="7" height="6.8"/><rect x="493.7" y="392.9" width="7.9" height="7.6"/><rect x="459.6" y="421.5" width="12.5" height="12.1" opacity=".45"/><rect x="464.2" y="413.4" width="16.2" height="15.6" opacity=".45"/><rect x="468.7" y="403.5" width="22" height="21.3" opacity=".45"/><rect x="501.6" y="363.9" width="30" height="29"/><rect x="531.6" y="346.5" width="18" height="17.4"/><rect x="544.6" y="344" width="7.6" height="7.4"/><rect x="547.2" y="344" width="5" height="4.8"/><rect x="516.2" y="362.6" width="16.7" height="16.2" opacity=".45"/><rect x="507.4" y="365.5" width="22.6" height="21.9" opacity=".45"/><rect x="515" y="366.7" width="13.8" height="13.3" opacity=".45"/><rect x="552.2" y="320.8" width="24" height="23.2"/><rect x="576.2" y="314" width="7" height="6.8"/><rect x="583.2" y="308" width="6.2" height="6"/><rect x="564.2" y="316.6" width="16.4" height="15.8" opacity=".45"/><rect x="565.9" y="321.2" width="9.8" height="9.5" opacity=".45"/><rect x="556.8" y="327.8" width="12.1" height="11.7" opacity=".45"/><rect x="589.4" y="279" width="30" height="29"/><rect x="616.4" y="271.6" width="10.6" height="10.3"/><rect x="600.1" y="287.7" width="10.3" height="9.9" opacity=".45"/><rect x="600.4" y="281.2" width="16.8" height="16.2" opacity=".45"/><rect x="600.2" y="286.2" width="11.7" height="11.4" opacity=".45"/><rect x="627" y="262" width="10" height="9.7"/><rect x="637" y="233" width="30" height="29"/><rect x="664" y="231.5" width="4.5" height="4.4"/><rect x="638.9" y="244.5" width="16.1" height="15.6" opacity=".45"/><rect x="639.9" y="247.5" width="12.1" height="11.7" opacity=".45"/><rect x="650.7" y="235.8" width="13.4" height="12.9" opacity=".45"/><rect x="668.5" y="202.5" width="30" height="29"/><rect x="698.5" y="198" width="4.7" height="4.5"/><rect x="688.9" y="198" width="14.3" height="13.9" opacity=".45"/><rect x="683" y="207.4" width="10.5" height="10.1" opacity=".45"/><rect x="676.1" y="214.6" width="9.8" height="9.5" opacity=".45"/><rect x="703.2" y="188.3" width="10" height="9.7"/><rect x="710.2" y="162.2" width="30" height="29"/><rect x="740.2" y="145.9" width="16.8" height="16.2"/><rect x="729.2" y="151.3" width="22.3" height="21.5" opacity=".45"/><rect x="727.1" y="159.5" width="15.9" height="15.4" opacity=".45"/><rect x="719.9" y="165.1" width="17.3" height="16.7" opacity=".45"/><rect x="757" y="139.2" width="7" height="6.8"/><rect x="764" y="125.6" width="14" height="13.5"/><rect x="773" y="116.9" width="14" height="13.5"/><rect x="787" y="96.8" width="20.8" height="20.1"/><rect x="770.6" y="111.3" width="22.2" height="21.5" opacity=".45"/><rect x="787.1" y="96.8" width="20.7" height="20" opacity=".45"/><rect x="768.1" y="120.7" width="14.9" height="14.4" opacity=".45"/><rect x="807.8" y="87.1" width="10" height="9.7"/><rect x="812.8" y="82.3" width="10" height="9.7"/><rect x="819.8" y="75.5" width="10" height="9.7"/><rect x="824.8" y="57.1" width="24" height="23.2"/><rect x="820.1" y="69.1" width="16.3" height="15.8" opacity=".45"/><rect x="828.3" y="65.9" width="11.4" height="11.1" opacity=".45"/><rect x="824.8" y="62.5" width="18.5" height="17.9" opacity=".45"/></g>
</g>
<g clip-path="url(#hc)"><line x1="105.3" y1="776.2" x2="850.6" y2="55.4" stroke="#c22632" stroke-width="1.5"/><line x1="105.3" y1="776.2" x2="850.6" y2="55.4" stroke="#96607c" stroke-width="0.7"/></g>
</g>
<path d="M188.3 21V55.4M188.3 776.2V810.6M270.7 21V55.4M270.7 776.2V810.6M353.1 21V55.4M353.1 776.2V810.6M435.5 21V55.4M435.5 776.2V810.6M517.9 21V55.4M517.9 776.2V810.6M600.3 21V55.4M600.3 776.2V810.6M682.8 21V55.4M682.8 776.2V810.6M765.2 21V55.4M765.2 776.2V810.6M847.6 21V55.4M847.6 776.2V810.6M69.8 58.6H105.3M850.6 58.6H886.2M69.8 138.5H105.3M850.6 138.5H886.2M69.8 218.4H105.3M850.6 218.4H886.2M69.8 298.3H105.3M850.6 298.3H886.2M69.8 378.2H105.3M850.6 378.2H886.2M69.8 458.1H105.3M850.6 458.1H886.2M69.8 538H105.3M850.6 538H886.2M69.8 617.9H105.3M850.6 617.9H886.2M69.8 697.8H105.3M850.6 697.8H886.2M69.8 777.7H886.2" stroke="#ebebeb" stroke-width="0.9" fill="none"/>
<path d="M105.3 20V811.6M152.8 20V811.6M207.7 20V811.6M247.4 20V811.6M292.5 20V811.6M345.6 20V811.6M402.6 20V811.6M451.7 20V811.6M501.6 20V811.6M552.2 20V811.6M589.4 20V811.6M627 20V811.6M668.5 20V811.6M703.2 20V811.6M757 20V811.6M807.8 20V811.6M850.6 20V811.6M68.8 776.2H887.2M68.8 730.26H887.2M68.8 677.17H887.2M68.8 638.77H887.2M68.8 595.15H887.2M68.8 543.8H887.2M68.8 488.67H887.2M68.8 441.19H887.2M68.8 392.93H887.2M68.8 343.99H887.2M68.8 308.01H887.2M68.8 271.65H887.2M68.8 231.51H887.2M68.8 197.95H887.2M68.8 145.92H887.2M68.8 96.79H887.2M68.8 55.4H887.2" stroke="#38342c" stroke-width="1" stroke-dasharray="3.5 3.3" fill="none" opacity="0.84"/>
<rect x="68.8" y="20" width="818.4" height="791.6" fill="none" stroke="#7c7c7c" stroke-width="1.4"/>
<g font-family="'Liberation Sans',Arial,Helvetica,sans-serif" font-size="15.7" fill="#000">
<text x="68.9" y="792.5">Chr</text>
<text x="129.1" y="792.5" text-anchor="middle">1</text>
<text x="180.2" y="792.5" text-anchor="middle">2</text>
<text x="227.6" y="792.5" text-anchor="middle">3</text>
<text x="269.9" y="792.5" text-anchor="middle">4</text>
<text x="319.1" y="792.5" text-anchor="middle">5</text>
<text x="374.1" y="792.5" text-anchor="middle">6</text>
<text x="427.1" y="792.5" text-anchor="middle">7</text>
<text x="476.6" y="792.5" text-anchor="middle">8</text>
<text x="526.9" y="792.5" text-anchor="middle">9</text>
<text x="570.8" y="792.5" text-anchor="middle">10</text>
<text x="608.2" y="792.5" text-anchor="middle">11</text>
<text x="647.8" y="792.5" text-anchor="middle">12</text>
<text x="685.9" y="792.5" text-anchor="middle">13</text>
<text x="730.1" y="792.5" text-anchor="middle">14</text>
<text x="782.4" y="792.5" text-anchor="middle">15</text>
<text x="829.2" y="792.5" text-anchor="middle">16</text>
</g>
<text x="0.5" y="24.6" font-family="'Liberation Sans',Arial,Helvetica,sans-serif" font-size="44.5" fill="#000">a</text>
<rect x="906.6" y="262" width="49" height="325.1" fill="url(#cb)"/>
<path d="M906.6 300h9.8M955.6 300h-9.8M906.6 401.4h9.8M955.6 401.4h-9.8M906.6 502.9h9.8M955.6 502.9h-9.8" stroke="#fff" stroke-opacity="0.55" stroke-width="1.1" fill="none"/>
<g font-family="'DejaVu Sans','Liberation Sans',sans-serif" font-size="21.5" fill="#000">
<text x="961.3" y="307.9">3</text>
<text x="961.3" y="409.2">2</text>
<text x="961.3" y="510.8">1</text>
</g>
<g id="circos">
<path d="M1516.91 76.78 A354.5 354.5 0 0 1 1645.55 110.88 L1637.97 126.66 A337 337 0 0 0 1515.68 94.23Z" fill="#d62021"/>
<path d="M1651.11 113.61 A354.5 354.5 0 0 1 1770.11 210.58 L1756.38 221.43 A337 337 0 0 0 1643.25 129.25Z" fill="#a65a69"/>
<path d="M1773.91 215.46 A354.5 354.5 0 0 1 1826.7 313.59 L1810.18 319.36 A337 337 0 0 0 1759.99 226.07Z" fill="#2f75b0"/>
<path d="M1828.69 319.45 A354.5 354.5 0 0 1 1846.21 444.66 L1828.73 443.96 A337 337 0 0 0 1812.07 324.93Z" fill="#4f9481"/>
<path d="M1845.91 450.84 A354.5 354.5 0 0 1 1806.46 594.06 L1790.94 585.98 A337 337 0 0 0 1828.44 449.83Z" fill="#4aab4b"/>
<path d="M1803.56 599.53 A354.5 354.5 0 0 1 1698.06 718.86 L1687.89 704.62 A337 337 0 0 0 1788.18 591.18Z" fill="#84847a"/>
<path d="M1692.99 722.41 A354.5 354.5 0 0 1 1566.75 776.93 L1563.06 759.82 A337 337 0 0 0 1683.07 708Z" fill="#91509f"/>
<path d="M1560.69 778.18 A354.5 354.5 0 0 1 1420.97 777.71 L1424.48 760.57 A337 337 0 0 0 1557.3 761.01Z" fill="#80c35c"/>
<path d="M1414.92 776.42 A354.5 354.5 0 0 1 1285.59 718.61 L1295.78 704.39 A337 337 0 0 0 1418.72 759.34Z" fill="#ee7d1b"/>
<path d="M1280.6 714.97 A354.5 354.5 0 0 1 1206.83 640.99 L1220.91 630.6 A337 337 0 0 0 1291.03 700.92Z" fill="#f5b92c"/>
<path d="M1203.2 635.99 A354.5 354.5 0 0 1 1155.46 541.81 L1172.08 536.31 A337 337 0 0 0 1217.46 625.84Z" fill="#5c632b"/>
<path d="M1153.57 535.92 A354.5 354.5 0 0 1 1137.64 420.58 L1155.13 421.07 A337 337 0 0 0 1170.28 530.71Z" fill="#cda433"/>
<path d="M1137.86 414.4 A354.5 354.5 0 0 1 1155.61 318.54 L1172.22 324.06 A337 337 0 0 0 1155.34 415.19Z" fill="#a0562b"/>
<path d="M1157.62 312.68 A354.5 354.5 0 0 1 1236.57 184.58 L1249.18 196.72 A337 337 0 0 0 1174.12 318.49Z" fill="#c5606e"/>
<path d="M1240.9 180.16 A354.5 354.5 0 0 1 1359.45 101.61 L1365.99 117.84 A337 337 0 0 0 1253.3 192.51Z" fill="#e880b4"/>
<path d="M1365.21 99.35 A354.5 354.5 0 0 1 1482.97 76.02 L1483.41 93.51 A337 337 0 0 0 1371.47 115.69Z" fill="#c48aab"/>
<path d="M1516.91 76.78 A354.5 354.5 0 0 1 1645.55 110.88M1516.89 77.08L1517.28 71.59M1524.26 77.67L1524.5 75.08M1531.62 78.42L1531.91 75.84M1538.96 79.33L1539.3 76.75M1546.27 80.38L1546.67 77.81M1553.57 81.59L1554.52 76.18M1560.83 82.95L1561.34 80.4M1568.07 84.47L1568.63 81.93M1575.28 86.13L1575.89 83.6M1582.44 87.94L1583.11 85.43M1589.57 89.9L1591.09 84.62M1596.66 92.01L1597.43 89.53M1603.7 94.27L1604.52 91.81M1610.69 96.68L1611.56 94.23M1617.63 99.23L1618.55 96.8M1624.51 101.92L1626.57 96.82M1631.34 104.76L1632.36 102.37M1638.11 107.74L1639.18 105.37M1644.81 110.86L1645.93 108.51M1651.11 113.61 A354.5 354.5 0 0 1 1770.11 210.58M1650.97 113.88L1653.44 108.96M1657.54 117.27L1658.76 114.97M1664.04 120.79L1665.31 118.52M1670.47 124.45L1671.78 122.2M1676.82 128.24L1678.17 126.02M1683.08 132.16L1686.05 127.53M1689.27 136.22L1690.71 134.06M1695.36 140.4L1696.86 138.27M1701.37 144.71L1702.91 142.61M1707.29 149.14L1708.87 147.07M1713.11 153.69L1716.55 149.4M1718.84 158.37L1720.51 156.37M1724.47 163.16L1726.18 161.2M1730 168.07L1731.74 166.15M1735.42 173.1L1737.21 171.21M1740.74 178.23L1744.6 174.32M1745.95 183.48L1747.81 181.67M1751.05 188.84L1752.95 187.06M1756.03 194.3L1757.97 192.56M1760.9 199.86L1762.88 198.17M1765.65 205.52L1769.9 202.03M1773.91 215.46 A354.5 354.5 0 0 1 1826.7 313.59M1773.67 215.64L1778.04 212.31M1778.09 221.57L1780.19 220.04M1782.39 227.59L1784.52 226.1M1786.56 233.69L1788.72 232.25M1790.6 239.88L1792.79 238.49M1794.51 246.16L1799.21 243.3M1798.29 252.51L1800.54 251.21M1801.94 258.94L1804.21 257.69M1805.45 265.45L1807.75 264.24M1808.82 272.03L1811.15 270.87M1812.06 278.68L1817.03 276.32M1815.16 285.39L1817.53 284.33M1818.11 292.17L1820.51 291.15M1820.93 299L1823.34 298.04M1823.6 305.9L1826.03 304.98M1826.12 312.85L1831.31 311.02M1828.69 319.45 A354.5 354.5 0 0 1 1846.21 444.66M1828.41 319.54L1833.63 317.82M1830.65 326.59L1833.13 325.83M1832.74 333.68L1835.24 332.97M1834.68 340.81L1837.2 340.16M1836.48 347.99L1839.01 347.38M1838.12 355.2L1843.5 354.03M1839.62 362.44L1842.17 361.94M1840.96 369.71L1843.52 369.26M1842.15 377L1844.72 376.61M1843.19 384.32L1845.77 383.99M1844.08 391.66L1849.54 391.06M1844.81 399.02L1847.4 398.79M1845.39 406.39L1847.98 406.22M1845.81 413.77L1848.41 413.65M1846.08 421.16L1848.68 421.09M1846.2 428.55L1851.7 428.53M1846.16 435.95L1848.76 435.99M1845.96 443.34L1848.56 443.43M1845.91 450.84 A354.5 354.5 0 0 1 1806.46 594.06M1845.61 450.83L1851.1 451.14M1845.11 458.2L1847.7 458.41M1844.45 465.57L1847.04 465.83M1843.64 472.92L1846.22 473.23M1842.68 480.25L1845.25 480.61M1841.56 487.56L1846.99 488.44M1840.29 494.84L1842.85 495.31M1838.87 502.09L1841.41 502.62M1837.3 509.32L1839.83 509.9M1835.57 516.51L1838.1 517.14M1833.7 523.66L1839.01 525.11M1831.68 530.77L1834.17 531.51M1829.51 537.84L1831.99 538.63M1827.2 544.86L1829.66 545.7M1824.73 551.83L1827.18 552.73M1822.13 558.75L1827.25 560.75M1819.37 565.62L1821.78 566.61M1816.48 572.42L1818.86 573.46M1813.45 579.16L1815.81 580.25M1810.27 585.84L1812.61 586.98M1806.96 592.45L1811.85 594.96M1803.56 599.53 A354.5 354.5 0 0 1 1698.06 718.86M1803.29 599.38L1808.13 602.01M1799.7 605.84L1801.96 607.13M1795.97 612.23L1798.2 613.56M1792.11 618.53L1794.31 619.91M1788.11 624.76L1790.29 626.18M1783.99 630.89L1788.53 634.01M1779.74 636.94L1781.86 638.46M1775.37 642.91L1777.45 644.47M1770.87 648.77L1772.92 650.38M1766.25 654.55L1768.27 656.19M1761.52 660.22L1765.7 663.79M1756.66 665.8L1758.6 667.53M1751.69 671.27L1753.6 673.04M1746.61 676.64L1748.47 678.45M1741.41 681.9L1743.24 683.75M1736.11 687.05L1739.9 691.04M1730.7 692.09L1732.45 694.01M1725.18 697.02L1726.89 698.97M1719.57 701.82L1721.24 703.82M1713.85 706.52L1715.48 708.54M1708.04 711.09L1711.39 715.44M1702.13 715.53L1703.68 717.63M1692.99 722.41 A354.5 354.5 0 0 1 1566.75 776.93M1692.82 722.17L1695.94 726.7M1686.69 726.3L1688.12 728.47M1680.47 730.29L1681.85 732.5M1674.17 734.16L1675.51 736.39M1667.79 737.9L1669.08 740.16M1661.33 741.5L1663.96 746.33M1654.8 744.97L1656 747.28M1648.2 748.3L1649.35 750.63M1641.53 751.49L1642.63 753.85M1634.8 754.54L1635.85 756.92M1628 757.45L1630.11 762.53M1621.14 760.22L1622.09 762.64M1614.23 762.84L1615.13 765.28M1607.27 765.32L1608.11 767.78M1600.25 767.65L1601.05 770.13M1593.19 769.84L1594.76 775.11M1586.08 771.88L1586.77 774.38M1578.93 773.77L1579.57 776.29M1571.75 775.51L1572.33 778.04M1560.69 778.18 A354.5 354.5 0 0 1 1420.97 777.71M1560.63 777.89L1561.7 783.28M1553.36 779.24L1553.82 781.8M1546.07 780.45L1546.47 783.02M1538.75 781.5L1539.1 784.08M1531.41 782.4L1531.7 784.98M1524.06 783.15L1524.56 788.62M1516.69 783.74L1516.87 786.33M1509.31 784.18L1509.43 786.77M1501.92 784.46L1501.99 787.06M1494.53 784.59L1494.55 787.19M1487.13 784.57L1487.06 790.07M1479.74 784.39L1479.65 786.99M1472.36 784.05L1472.21 786.65M1464.98 783.57L1464.78 786.16M1457.61 782.93L1457.36 785.51M1450.26 782.13L1449.61 787.59M1442.93 781.18L1442.57 783.76M1435.62 780.08L1435.21 782.65M1428.33 778.83L1427.87 781.39M1421.07 777.43L1420.55 779.97M1414.92 776.42 A354.5 354.5 0 0 1 1285.59 718.61M1414.98 776.13L1413.79 781.49M1407.79 774.44L1407.17 776.97M1400.62 772.61L1399.95 775.12M1393.5 770.63L1392.78 773.13M1386.42 768.5L1385.64 770.98M1379.39 766.22L1377.64 771.44M1372.4 763.8L1371.52 766.24M1365.47 761.23L1364.54 763.66M1358.59 758.52L1357.61 760.92M1351.77 755.66L1350.74 758.05M1345.01 752.66L1342.73 757.67M1338.32 749.52L1337.19 751.87M1331.69 746.25L1330.51 748.56M1325.13 742.83L1323.91 745.12M1318.65 739.28L1317.38 741.55M1312.24 735.59L1309.45 740.33M1305.91 731.78L1304.54 733.99M1299.66 727.83L1298.25 730.01M1293.49 723.75L1292.03 725.9M1287.41 719.54L1285.91 721.66M1280.6 714.97 A354.5 354.5 0 0 1 1206.83 640.99M1280.78 714.73L1277.5 719.14M1274.89 710.26L1273.29 712.31M1269.09 705.66L1267.46 707.68M1263.4 700.95L1261.72 702.94M1257.8 696.12L1256.08 698.07M1252.3 691.17L1248.58 695.22M1246.91 686.11L1245.11 687.99M1241.63 680.94L1239.79 682.78M1236.45 675.66L1234.58 677.46M1231.39 670.27L1229.48 672.04M1226.44 664.78L1222.32 668.42M1221.61 659.19L1219.62 660.87M1216.89 653.5L1214.87 655.13M1212.29 647.7L1210.24 649.3M1207.82 641.82L1205.73 643.37M1203.2 635.99 A354.5 354.5 0 0 1 1155.46 541.81M1203.45 635.81L1198.96 639M1199.22 629.74L1197.07 631.21M1195.12 623.59L1192.94 625.01M1191.16 617.35L1188.95 618.72M1187.32 611.03L1185.08 612.36M1183.62 604.63L1178.83 607.34M1180.05 598.16L1177.76 599.39M1176.61 591.61L1174.3 592.79M1173.32 584.99L1170.98 586.13M1170.16 578.31L1167.8 579.39M1167.14 571.56L1162.1 573.75M1164.27 564.74L1161.86 565.73M1161.53 557.87L1159.11 558.81M1158.95 550.95L1156.5 551.83M1156.5 543.97L1154.04 544.8M1153.57 535.92 A354.5 354.5 0 0 1 1137.64 420.58M1153.86 535.83L1148.61 537.47M1151.73 528.75L1149.23 529.47M1149.75 521.63L1147.24 522.3M1147.92 514.47L1145.39 515.08M1146.24 507.27L1143.7 507.83M1144.71 500.03L1139.32 501.11M1143.33 492.77L1140.77 493.23M1142.11 485.48L1139.54 485.88M1141.03 478.16L1138.46 478.51M1140.11 470.83L1137.53 471.12M1139.35 463.47L1133.87 463.99M1138.73 456.1L1136.14 456.29M1138.27 448.72L1135.68 448.86M1137.97 441.34L1135.37 441.42M1137.82 433.95L1135.22 433.97M1137.82 426.55L1132.32 426.49M1137.86 414.4 A354.5 354.5 0 0 1 1155.61 318.54M1138.16 414.41L1132.67 414.16M1138.57 407.03L1135.98 406.86M1139.14 399.66L1136.55 399.43M1139.86 392.3L1137.27 392.02M1140.73 384.96L1138.15 384.62M1141.75 377.64L1136.31 376.82M1142.93 370.34L1140.37 369.9M1144.26 363.06L1141.71 362.57M1145.74 355.82L1143.2 355.27M1147.37 348.61L1144.84 348.01M1149.16 341.43L1143.83 340.05M1151.09 334.3L1148.58 333.59M1153.17 327.2L1150.68 326.44M1155.39 320.15L1152.92 319.34M1157.62 312.68 A354.5 354.5 0 0 1 1236.57 184.58M1157.9 312.78L1152.71 310.96M1160.43 305.83L1157.99 304.92M1163.1 298.94L1160.68 297.98M1165.91 292.1L1163.52 291.09M1168.87 285.33L1166.5 284.26M1171.97 278.62L1167 276.26M1175.21 271.97L1172.88 270.81M1178.58 265.39L1176.28 264.18M1182.1 258.88L1179.82 257.63M1185.74 252.45L1183.5 251.15M1189.52 246.1L1184.83 243.24M1193.44 239.83L1191.25 238.43M1197.48 233.64L1195.32 232.19M1201.65 227.53L1199.52 226.04M1205.95 221.52L1203.85 219.98M1210.37 215.59L1206 212.26M1214.92 209.76L1212.88 208.14M1219.58 204.02L1217.58 202.36M1224.37 198.39L1222.4 196.68M1229.27 192.85L1227.34 191.11M1234.28 187.42L1230.28 183.65M1240.9 180.16 A354.5 354.5 0 0 1 1359.45 101.61M1241.11 180.37L1237.22 176.49M1246.39 175.19L1244.59 173.32M1251.77 170.12L1250 168.21M1257.25 165.16L1255.53 163.21M1262.84 160.32L1261.16 158.34M1268.53 155.59L1265.06 151.33M1274.31 150.99L1272.71 148.94M1280.19 146.51L1278.64 144.42M1286.16 142.15L1284.65 140.03M1292.23 137.91L1290.76 135.77M1298.37 133.81L1295.37 129.2M1304.61 129.83L1303.23 127.63M1310.92 125.99L1309.59 123.75M1317.31 122.27L1316.03 120.01M1323.78 118.69L1322.55 116.41M1330.33 115.25L1327.82 110.36M1336.94 111.94L1335.8 109.61M1343.62 108.78L1342.53 106.42M1350.37 105.75L1349.33 103.37M1357.17 102.86L1356.18 100.46M1365.21 99.35 A354.5 354.5 0 0 1 1482.97 76.02M1365.31 99.63L1363.35 94.49M1372.25 97.06L1371.37 94.61M1379.23 94.63L1378.4 92.17M1386.26 92.35L1385.49 89.87M1393.34 90.22L1392.62 87.72M1400.46 88.23L1399.04 82.92M1407.63 86.4L1407.01 83.87M1414.82 84.71L1414.26 82.17M1422.06 83.17L1421.54 80.63M1429.32 81.79L1428.86 79.23M1436.61 80.56L1435.75 75.13M1443.92 79.48L1443.57 76.9M1451.26 78.55L1450.96 75.97M1458.61 77.78L1458.37 75.19M1465.98 77.16L1465.79 74.56M1473.36 76.69L1473.07 71.2M1480.75 76.38L1480.66 73.78" stroke="#1a1a1a" stroke-width="0.8" fill="none"/>
<g font-family="'Liberation Sans',Arial,Helvetica,sans-serif" font-size="7.8" text-anchor="middle" fill="#111"><text transform="translate(1517.4 69.2) rotate(4)">0</text><text transform="translate(1554.9 73.8) rotate(10)">20</text><text transform="translate(1591.7 82.3) rotate(16)">40</text><text transform="translate(1627.5 94.6) rotate(22)">60</text><text transform="translate(1654.5 106.8) rotate(26.7)">0</text><text transform="translate(1687.3 125.5) rotate(32.6)">20</text><text transform="translate(1718 147.5) rotate(38.6)">40</text><text transform="translate(1746.3 172.6) rotate(44.6)">60</text><text transform="translate(1771.8 200.5) rotate(50.6)">80</text><text transform="translate(1780 210.9) rotate(52.7)">0</text><text transform="translate(1801.3 242) rotate(58.7)">20</text><text transform="translate(1819.2 275.3) rotate(64.6)">40</text><text transform="translate(1833.6 310.2) rotate(70.6)">60</text><text transform="translate(1835.9 317.1) rotate(71.8)">0</text><text transform="translate(1845.8 353.5) rotate(77.7)">20</text><text transform="translate(1851.9 390.8) rotate(83.7)">40</text><text transform="translate(1854.1 428.5) rotate(89.7)">60</text><text transform="translate(1853.5 451.3) rotate(93.3)">0</text><text transform="translate(1849.4 488.8) rotate(99.3)">20</text><text transform="translate(1841.3 525.7) rotate(105.3)">40</text><text transform="translate(1829.5 561.6) rotate(111.2)">60</text><text transform="translate(1814 596.1) rotate(117.2)">80</text><text transform="translate(1810.2 603.2) rotate(118.5)">0</text><text transform="translate(1790.5 635.4) rotate(124.5)">20</text><text transform="translate(1767.5 665.3) rotate(130.5)">40</text><text transform="translate(1741.6 692.8) rotate(136.4)">60</text><text transform="translate(1712.9 717.3) rotate(142.4)">80</text><text transform="translate(1697.3 728.7) rotate(145.5)">0</text><text transform="translate(1665.1 748.4) rotate(151.4)">20</text><text transform="translate(1631 764.7) rotate(157.4)">40</text><text transform="translate(1595.4 777.4) rotate(163.4)">60</text><text transform="translate(1562.2 785.6) rotate(168.8)">0</text><text transform="translate(1524.8 791) rotate(174.8)">20</text><text transform="translate(1487 792.5) rotate(180.8)">40</text><text transform="translate(1449.3 790) rotate(186.8)">60</text><text transform="translate(1413.3 783.8) rotate(192.6)">0</text><text transform="translate(1376.9 773.7) rotate(198.5)">20</text><text transform="translate(1341.7 759.8) rotate(204.5)">40</text><text transform="translate(1308.2 742.4) rotate(210.5)">60</text><text transform="translate(1276.1 721.1) rotate(216.6)">0</text><text transform="translate(1247 697) rotate(222.6)">20</text><text transform="translate(1220.5 670) rotate(228.6)">40</text><text transform="translate(1197 640.4) rotate(234.6)">0</text><text transform="translate(1176.7 608.5) rotate(240.5)">20</text><text transform="translate(1159.9 574.7) rotate(246.5)">40</text><text transform="translate(1146.3 538.2) rotate(252.7)">0</text><text transform="translate(1137 501.6) rotate(258.7)">20</text><text transform="translate(1131.5 464.2) rotate(264.6)">40</text><text transform="translate(1129.9 426.5) rotate(270.6)">60</text><text transform="translate(1130.3 414.1) rotate(272.6)">0</text><text transform="translate(1133.9 376.5) rotate(278.6)">20</text><text transform="translate(1141.5 339.4) rotate(284.5)">40</text><text transform="translate(1150.4 310.2) rotate(289.4)">0</text><text transform="translate(1164.8 275.2) rotate(295.4)">20</text><text transform="translate(1182.8 242) rotate(301.4)">40</text><text transform="translate(1204.1 210.8) rotate(307.3)">60</text><text transform="translate(1228.5 182) rotate(313.3)">80</text><text transform="translate(1235.5 174.8) rotate(314.9)">0</text><text transform="translate(1263.5 149.5) rotate(320.9)">20</text><text transform="translate(1294.1 127.2) rotate(326.9)">40</text><text transform="translate(1326.7 108.2) rotate(332.8)">60</text><text transform="translate(1362.5 92.3) rotate(339)">0</text><text transform="translate(1398.4 80.6) rotate(345)">20</text><text transform="translate(1435.4 72.8) rotate(351)">40</text><text transform="translate(1472.9 68.8) rotate(357)">60</text></g>
<g font-family="'Liberation Sans',Arial,Helvetica,sans-serif" font-size="22.3" text-anchor="middle" fill="#000"><text transform="translate(1605 57.5) rotate(16.4)">Chr1</text><text transform="translate(1738.9 127.5) rotate(38.8)">Chr2</text><text transform="translate(1836.9 244.9) rotate(61.5)">Chr3</text><text transform="translate(1879.7 372.7) rotate(81.5)">Chr4</text><text transform="translate(1874.8 538.5) rotate(105.9)">Chr5</text><text transform="translate(1793.5 687.7) rotate(130.8)">Chr6</text><text transform="translate(1652.9 789) rotate(156.3)">Chr7</text><text transform="translate(1494.9 822.4) rotate(180.1)">Chr8</text><text transform="translate(1339 789.6) rotate(203.5)">Chr9</text><text transform="translate(1209.4 704.4) rotate(226.2)">Chr10</text><text transform="translate(1140.4 599.5) rotate(244.5)">Chr11</text><text transform="translate(1109 476.5) rotate(263.2)">Chr12</text><text transform="translate(1117.9 350.9) rotate(281.9)">Chr13</text><text transform="translate(1164.2 226.7) rotate(301.6)">Chr14</text><text transform="translate(1274.4 110.6) rotate(325.4)">Chr15</text><text transform="translate(1414.4 52.2) rotate(347.9)">Chr16</text></g>
<path d="M1515.14 101.91 A329.3 329.3 0 0 1 1634.64 133.6 L1620.65 162.71 A297 297 0 0 0 1512.87 134.13ZM1639.8 136.13 A329.3 329.3 0 0 1 1750.34 226.2 L1725 246.23 A297 297 0 0 0 1625.3 164.99ZM1753.87 230.74 A329.3 329.3 0 0 1 1802.91 321.9 L1772.41 332.54 A297 297 0 0 0 1728.18 250.33ZM1804.76 327.34 A329.3 329.3 0 0 1 1821.03 443.65 L1788.76 442.35 A297 297 0 0 0 1774.08 337.45ZM1820.75 449.39 A329.3 329.3 0 0 1 1784.11 582.43 L1755.45 567.52 A297 297 0 0 0 1788.51 447.53ZM1781.41 587.5 A329.3 329.3 0 0 1 1683.41 698.36 L1664.64 672.07 A297 297 0 0 0 1753.02 572.09ZM1678.7 701.66 A329.3 329.3 0 0 1 1561.44 752.3 L1554.63 720.72 A297 297 0 0 0 1660.39 675.05ZM1555.81 753.46 A329.3 329.3 0 0 1 1426.02 753.02 L1432.49 721.38 A297 297 0 0 0 1549.55 721.77ZM1420.4 751.82 A329.3 329.3 0 0 1 1300.27 698.13 L1319.07 671.87 A297 297 0 0 0 1427.42 720.29ZM1295.62 694.74 A329.3 329.3 0 0 1 1227.1 626.02 L1253.09 606.84 A297 297 0 0 0 1314.89 668.81ZM1223.73 621.37 A329.3 329.3 0 0 1 1179.39 533.89 L1210.05 523.74 A297 297 0 0 0 1250.04 602.64ZM1177.63 528.42 A329.3 329.3 0 0 1 1162.83 421.28 L1195.11 422.17 A297 297 0 0 0 1208.46 518.81ZM1163.04 415.54 A329.3 329.3 0 0 1 1179.52 326.49 L1210.17 336.68 A297 297 0 0 0 1195.3 416.99ZM1181.39 321.05 A329.3 329.3 0 0 1 1254.73 202.05 L1278 224.45 A297 297 0 0 0 1211.85 331.78ZM1258.75 197.95 A329.3 329.3 0 0 1 1368.87 124.99 L1380.95 154.94 A297 297 0 0 0 1281.63 220.75ZM1374.22 122.88 A329.3 329.3 0 0 1 1483.61 101.21 L1484.43 133.5 A297 297 0 0 0 1385.77 153.05ZM1512.38 141.12 A290 290 0 0 1 1617.61 169.02 L1603.49 198.4 A257.4 257.4 0 0 0 1510.09 173.64ZM1622.16 171.25 A290 290 0 0 1 1719.51 250.57 L1693.94 270.79 A257.4 257.4 0 0 0 1607.53 200.38ZM1722.62 254.57 A290 290 0 0 1 1765.8 334.84 L1735.03 345.59 A257.4 257.4 0 0 0 1696.69 274.34ZM1767.43 339.64 A290 290 0 0 1 1781.77 442.07 L1749.19 440.76 A257.4 257.4 0 0 0 1736.47 349.84ZM1781.52 447.12 A290 290 0 0 1 1749.24 564.28 L1720.33 549.23 A257.4 257.4 0 0 0 1748.97 445.24ZM1746.87 568.75 A290 290 0 0 1 1660.57 666.38 L1641.62 639.85 A257.4 257.4 0 0 0 1718.22 553.2ZM1656.42 669.28 A290 290 0 0 1 1553.15 713.88 L1546.28 682.01 A257.4 257.4 0 0 0 1637.94 642.43ZM1548.19 714.9 A290 290 0 0 1 1433.89 714.52 L1440.43 682.58 A257.4 257.4 0 0 0 1541.88 682.92ZM1428.94 713.46 A290 290 0 0 1 1323.15 666.17 L1342.13 639.67 A257.4 257.4 0 0 0 1436.03 681.64ZM1319.06 663.19 A290 290 0 0 1 1258.72 602.68 L1284.94 583.31 A257.4 257.4 0 0 0 1338.5 637.02ZM1255.75 598.58 A290 290 0 0 1 1216.69 521.54 L1247.64 511.3 A257.4 257.4 0 0 0 1282.3 579.67ZM1215.15 516.72 A290 290 0 0 1 1202.11 422.37 L1234.7 423.27 A257.4 257.4 0 0 0 1246.27 507.02ZM1202.3 417.31 A290 290 0 0 1 1216.82 338.89 L1247.75 349.18 A257.4 257.4 0 0 0 1234.86 418.78ZM1218.46 334.1 A290 290 0 0 1 1283.05 229.31 L1306.54 251.91 A257.4 257.4 0 0 0 1249.21 344.93ZM1286.59 225.69 A290 290 0 0 1 1383.57 161.44 L1395.76 191.67 A257.4 257.4 0 0 0 1309.68 248.7ZM1388.28 159.58 A290 290 0 0 1 1484.61 140.49 L1485.44 173.08 A257.4 257.4 0 0 0 1399.94 190.03ZM1509.63 180.12 A250.9 250.9 0 0 1 1600.68 204.26 L1586.6 233.55 A218.4 218.4 0 0 0 1507.35 212.54ZM1604.61 206.19 A250.9 250.9 0 0 1 1688.84 274.82 L1663.34 294.97 A218.4 218.4 0 0 0 1590.02 235.23ZM1691.52 278.28 A250.9 250.9 0 0 1 1728.89 347.73 L1698.2 358.44 A218.4 218.4 0 0 0 1665.68 297.98ZM1730.3 351.87 A250.9 250.9 0 0 1 1742.7 440.5 L1710.22 439.19 A218.4 218.4 0 0 0 1699.43 362.05ZM1742.48 444.87 A250.9 250.9 0 0 1 1714.56 546.23 L1685.73 531.23 A218.4 218.4 0 0 0 1710.04 443ZM1712.51 550.1 A250.9 250.9 0 0 1 1637.84 634.56 L1618.95 608.12 A218.4 218.4 0 0 0 1683.94 534.59ZM1634.25 637.08 A250.9 250.9 0 0 1 1544.9 675.66 L1538.05 643.89 A218.4 218.4 0 0 0 1615.83 610.3ZM1540.62 676.54 A250.9 250.9 0 0 1 1441.73 676.21 L1448.24 644.37 A218.4 218.4 0 0 0 1534.32 644.66ZM1437.45 675.3 A250.9 250.9 0 0 1 1345.92 634.39 L1364.84 607.96 A218.4 218.4 0 0 0 1444.51 643.57ZM1342.38 631.8 A250.9 250.9 0 0 1 1290.17 579.45 L1316.31 560.14 A218.4 218.4 0 0 0 1361.76 605.72ZM1287.6 575.9 A250.9 250.9 0 0 1 1253.81 509.25 L1284.67 499.04 A218.4 218.4 0 0 0 1314.08 557.06ZM1252.47 505.08 A250.9 250.9 0 0 1 1241.2 423.45 L1273.68 424.35 A218.4 218.4 0 0 0 1283.5 495.41ZM1241.36 419.07 A250.9 250.9 0 0 1 1253.92 351.23 L1284.76 361.48 A218.4 218.4 0 0 0 1273.82 420.54ZM1255.34 347.08 A250.9 250.9 0 0 1 1311.22 256.42 L1334.64 278.96 A218.4 218.4 0 0 0 1285.99 357.88ZM1314.28 253.29 A250.9 250.9 0 0 1 1398.19 197.7 L1410.34 227.84 A218.4 218.4 0 0 0 1337.3 276.23ZM1402.26 196.1 A250.9 250.9 0 0 1 1485.61 179.58 L1486.44 212.07 A218.4 218.4 0 0 0 1413.89 226.45ZM1506.85 219.62 A211.3 211.3 0 0 1 1583.53 239.95 L1569.4 269.33 A178.7 178.7 0 0 0 1504.56 252.14ZM1586.84 241.58 A211.3 211.3 0 0 1 1657.77 299.37 L1632.19 319.59 A178.7 178.7 0 0 0 1572.2 270.71ZM1660.03 302.29 A211.3 211.3 0 0 1 1691.5 360.78 L1660.72 371.52 A178.7 178.7 0 0 0 1634.11 322.05ZM1692.68 364.27 A211.3 211.3 0 0 1 1703.13 438.9 L1670.56 437.59 A178.7 178.7 0 0 0 1661.72 374.47ZM1702.95 442.59 A211.3 211.3 0 0 1 1679.43 527.95 L1650.52 512.9 A178.7 178.7 0 0 0 1670.4 440.71ZM1677.7 531.21 A211.3 211.3 0 0 1 1614.82 602.34 L1595.87 575.81 A178.7 178.7 0 0 0 1649.05 515.65ZM1611.8 604.46 A211.3 211.3 0 0 1 1536.55 636.95 L1529.68 605.08 A178.7 178.7 0 0 0 1593.32 577.6ZM1532.94 637.7 A211.3 211.3 0 0 1 1449.66 637.42 L1456.19 605.48 A178.7 178.7 0 0 0 1526.63 605.71ZM1446.06 636.64 A211.3 211.3 0 0 1 1368.97 602.19 L1387.95 575.69 A178.7 178.7 0 0 0 1453.14 604.82ZM1365.99 600.02 A211.3 211.3 0 0 1 1322.03 555.92 L1348.25 536.56 A178.7 178.7 0 0 0 1385.43 573.85ZM1319.86 552.94 A211.3 211.3 0 0 1 1291.41 496.81 L1322.35 486.56 A178.7 178.7 0 0 0 1346.42 534.03ZM1290.28 493.3 A211.3 211.3 0 0 1 1280.78 424.55 L1313.37 425.45 A178.7 178.7 0 0 0 1321.4 483.59ZM1280.92 420.86 A211.3 211.3 0 0 1 1291.5 363.72 L1322.43 374.01 A178.7 178.7 0 0 0 1313.48 422.33ZM1292.69 360.23 A211.3 211.3 0 0 1 1339.75 283.88 L1363.24 306.48 A178.7 178.7 0 0 0 1323.44 371.06ZM1342.33 281.24 A211.3 211.3 0 0 1 1412.99 234.43 L1425.18 264.66 A178.7 178.7 0 0 0 1365.42 304.26ZM1416.43 233.08 A211.3 211.3 0 0 1 1486.62 219.17 L1487.45 251.76 A178.7 178.7 0 0 0 1428.09 263.52Z" fill="none" stroke="#cfcfcf" stroke-width="0.8"/>
<g fill="none" stroke-linejoin="round">
<path d="M1514 118.1L1512.9 134.1M1634.4 134.2L1620.6 162.7A297 297 0 0 0 1512.9 134.1M1629 157.7L1625.3 165M1725.7 245.7L1725 246.2A297 297 0 0 0 1625.3 165M1746.9 236.1L1728.2 250.3M1791.3 325.9L1772.4 332.5A297 297 0 0 0 1728.2 250.3M1779.6 335.6L1774.1 337.4M1799 442.8L1788.8 442.4A297 297 0 0 0 1774.1 337.4M1817.3 449.2L1788.5 447.5M1775.2 577.8L1755.5 567.5A297 297 0 0 0 1788.5 447.5M1757.3 574.4L1753 572.1M1664.9 672.4L1664.6 672.1A297 297 0 0 0 1753 572.1M1664.4 680.8L1660.4 675M1557.2 732.7L1554.6 720.7A297 297 0 0 0 1660.4 675M1555.2 750.3L1549.5 721.8M1431.6 725.6L1432.5 721.4A297 297 0 0 0 1549.5 721.8M1422.8 741.2L1427.4 720.3M1310.8 683.4L1319.1 671.9A297 297 0 0 0 1427.4 720.3M1300.9 687.6L1314.9 668.8M1249 609.8L1253.1 606.8A297 297 0 0 0 1314.9 668.8M1236.4 612.3L1250 602.6M1205.1 525.4L1210 523.7A297 297 0 0 0 1250 602.6M1186.7 525.6L1208.5 518.8M1188 422L1195.1 422.2A297 297 0 0 0 1208.5 518.8M1177.7 416.2L1195.3 417M1181.4 327.1L1210.2 336.7A297 297 0 0 0 1195.3 417M1192.5 324.9L1211.9 331.8M1275.2 221.7L1278 224.5A297 297 0 0 0 1211.9 331.8M1273.5 212.7L1281.6 220.7M1373 135.3L1380.9 154.9A297 297 0 0 0 1281.6 220.7M1381.4 141.7L1385.8 153M1484.1 120.5L1484.4 133.5A297 297 0 0 0 1385.8 153" stroke="#5aa090" stroke-width="0.6"/>
<path d="M1511.2 157.9L1510.1 173.6M1605.1 195L1603.5 198.4A257.4 257.4 0 0 0 1510.1 173.6M1616.4 182.8L1607.5 200.4M1696.5 268.8L1693.9 270.8A257.4 257.4 0 0 0 1607.5 200.4M1702.2 270.1L1696.7 274.3M1741.5 343.3L1735 345.6A257.4 257.4 0 0 0 1696.7 274.3M1742 348L1736.5 349.8M1765.3 441.4L1749.2 440.8A257.4 257.4 0 0 0 1736.5 349.8M1765.1 446.2L1749 445.2M1727.8 553.1L1720.3 549.2A257.4 257.4 0 0 0 1749 445.2M1741.9 566.1L1718.2 553.2M1646.6 646.8L1641.6 639.9A257.4 257.4 0 0 0 1718.2 553.2M1644.1 651.4L1637.9 642.4M1549.7 697.7L1546.3 682A257.4 257.4 0 0 0 1637.9 642.4M1545.1 699.1L1541.9 682.9M1436.7 700.8L1440.4 682.6A257.4 257.4 0 0 0 1541.9 682.9M1432.1 699.3L1436 681.6M1329.2 657.7L1342.1 639.7A257.4 257.4 0 0 0 1436 681.6M1335.6 641L1338.5 637M1270.3 594.1L1284.9 583.3A257.4 257.4 0 0 0 1338.5 637M1276.8 583.6L1282.3 579.7M1226 518.5L1247.6 511.3A257.4 257.4 0 0 0 1282.3 579.7M1235.3 510.4L1246.3 507M1204.5 422.4L1234.7 423.3A257.4 257.4 0 0 0 1246.3 507M1216.2 417.9L1234.9 418.8M1239.6 346.4L1247.8 349.2A257.4 257.4 0 0 0 1234.9 418.8M1237.4 340.8L1249.2 344.9M1289.5 235.5L1306.5 251.9A257.4 257.4 0 0 0 1249.2 344.9M1305.1 244.2L1309.7 248.7M1389.2 175.4L1395.8 191.7A257.4 257.4 0 0 0 1309.7 248.7M1399.2 188L1399.9 190M1485.1 160.4L1485.4 173.1A257.4 257.4 0 0 0 1399.9 190" stroke="#ee8b7d" stroke-width="0.6"/>
<path d="M1505.4 239.9L1504.6 252.1M1572.3 263.4L1569.4 269.3A178.7 178.7 0 0 0 1504.6 252.1M1576 263.1L1572.2 270.7M1634.6 317.7L1632.2 319.6A178.7 178.7 0 0 0 1572.2 270.7M1636.7 320.1L1634.1 322.1M1666 369.7L1660.7 371.5A178.7 178.7 0 0 0 1634.1 322.1M1666.5 372.9L1661.7 374.5M1677.5 437.9L1670.6 437.6A178.7 178.7 0 0 0 1661.7 374.5M1674.6 440.9L1670.4 440.7M1655.2 515.3L1650.5 512.9A178.7 178.7 0 0 0 1670.4 440.7M1654.6 518.7L1649.1 515.7M1598 578.7L1595.9 575.8A178.7 178.7 0 0 0 1649.1 515.7M1597.1 583.1L1593.3 577.6M1530.4 608.6L1529.7 605.1A178.7 178.7 0 0 0 1593.3 577.6M1527.1 608L1526.6 605.7M1455 611.4L1456.2 605.5A178.7 178.7 0 0 0 1526.6 605.7M1452.9 605.7L1453.1 604.8M1386.5 577.7L1388 575.7A178.7 178.7 0 0 0 1453.1 604.8M1379 582.5L1385.4 573.8M1343.2 540.3L1348.3 536.6A178.7 178.7 0 0 0 1385.4 573.8M1344.6 535.3L1346.4 534M1318 488L1322.4 486.6A178.7 178.7 0 0 0 1346.4 534M1317.1 484.9L1321.4 483.6M1308.4 425.3L1313.4 425.5A178.7 178.7 0 0 0 1321.4 483.6M1305.5 422L1313.5 422.3M1318.2 372.6L1322.4 374A178.7 178.7 0 0 0 1313.5 422.3M1319 369.5L1323.4 371.1M1361.7 305L1363.2 306.5A178.7 178.7 0 0 0 1323.4 371.1M1359.1 298L1365.4 304.3M1423 259.3L1425.2 264.7A178.7 178.7 0 0 0 1365.4 304.3M1426.5 259.3L1428.1 263.5M1487.3 246L1487.4 251.8A178.7 178.7 0 0 0 1428.1 263.5" stroke="#f5a11a" stroke-width="0.6"/>
<path d="M1514 118.1 1514.8 110.6 1514.2 123.5 1515.1 115.6 1515.4 115 1515.7 115.9 1516 115.8 1517.2 103.8 1516.1 122.4 1517 114.4 1516.5 124.8 1518.6 102.8 1517.9 114.6 1519.2 102.9 1517.1 131.3 1518.4 119.5 1520.1 103 1519.1 119.1 1520 111.8 1520.6 109.1 1519.1 128.4 1519.9 123.5 1520.6 118.5 1520.7 121.2 1521 120.9 1521.2 122 1521.9 118.3 1520.7 133.8 1521.4 129.7 1522.7 119 1522.8 121.1 1522.5 127 1523.2 123.4 1524.7 111.8 1525.4 107.6 1523.6 127.7 1524.6 121.3 1525.4 116.3 1525.7 116.8 1525.1 124.8 1524.7 130.9 1527.3 110 1525.2 132.4 1526.9 119.2 1525.4 135.1 1528.5 110.5 1528.4 114.2 1529.2 110 1530.1 105 1530 108.9 1530 111.5 1529.8 115.5 1529.3 122 1531.2 109.2 1529 129.8 1529.4 128.4 1531.2 116.6 1531.2 119 1530.1 129.9 1532.8 111.3 1531.3 125 1530.7 132.5 1530.5 135.7 1533.2 117.8 1534.9 107.1 1534.9 110 1533.5 122.3 1535.8 107.9 1534.6 118.9 1534.6 120.8 1536 113.1 1534.6 125.2 1535.9 118.4 1534.7 128.6 1536.7 116.7 1537.2 115.8 1535.7 128.4 1536.8 122.8 1535.5 133.7 1537 125.3 1536.6 129.9 1538.7 118.2 1538.2 123.1 1541 107 1536.9 136 1539.7 119.2 1539.5 122.8 1541.8 110 1539.1 129 1538.9 132.4 1542.2 113.6 1539.1 134.5 1542.5 115.5 1542.3 118.7 1543.6 112.5 1544.3 109.8 1541.6 128.5 1542.7 123.9 1542.6 125.9 1545.9 107.8 1544.8 116.4 1546.1 110.8 1546.4 111 1545.8 116.2 1545.8 117.7 1546.9 113.3 1545.3 124.5 1546.1 121.7 1547.6 114.8 1546.7 121.7 1546.4 124.9 1547.6 119.8 1545.7 132.4 1547.1 126.4 1547.4 126 1551.2 107.4 1546.5 134.6 1548.7 124.1 1549 124.3 1550.5 117.6 1551.2 115.6 1552.6 109.9 1552.7 111.2 1550.8 122.6 1548.6 136 1550.8 125.9 1550.7 128 1549.7 134.9 1552.6 121.4 1551.8 126.9 1553.1 121.8 1552.3 127.5 1555.1 114.9 1550.9 137.7 1554.8 119.7 1554.1 124.4 1553.2 130.5 1551.8 138.7 1553.6 131.6 1553.8 132.1 1555.4 126 1556.8 120.6 1557.1 120.6 1557.3 121.1 1558.5 116.8 1555.1 134.5 1555.8 132.7 1555.5 135.3 1555.5 136.7 1558 126.3 1556.2 136.3 1558.9 125.1 1560.4 119.7 1558.8 128.3 1556.5 140 1562.6 114.1 1558.1 135.8 1564.2 109.8 1561.4 123.8 1559.8 132.1 1561 128.1 1559.6 135.5 1564.4 116 1560 136.3 1559.4 140.3 1562.9 126.4 1559.9 140.7 1562.4 131.3 1565 121.6 1563.4 129.8 1565.4 122.6 1561.5 140.1 1563.6 132.5 1562.7 137.5 1566.5 123.2 1563.5 136.8 1564.5 133.9 1564.4 135.7 1565.6 132 1566.5 129.7 1566 132.9 1566.5 132 1567 131.4 1567.8 129.2 1567.6 131.2 1566.6 136.6 1567.9 132.4 1571.2 120.9 1570.1 126.2 1571.6 121.8 1569.1 132.7 1572.7 119.9 1573.8 117 1569.3 135.5 1573.6 120.2 1574 119.9 1569.8 136.9 1570.6 134.9 1572.9 127.5 1574 124.5 1572.5 131.4 1570.1 141.3 1572.7 132.8 1574.2 128.5 1576.2 122.4 1578.6 114.8 1575.3 128.2 1575.6 128.2 1575.1 130.8 1572.8 140.3 1572.7 141.7 1574 138.4 1578.9 121.7 1577.5 128.1 1576.4 133 1577.8 129.2 1577.1 132.7 1574.6 142.5 1581 121.4 1580.1 125.6 1579.7 128.1 1578.7 132.4 1576.6 140.8 1582.6 121.4 1581.8 125.3 1583.2 121.4 1577.1 143.2 1584.4 119.6 1584.1 121.9 1585.2 119.3 1584.7 121.9 1585 122 1585 123.1 1584.6 125.6 1584.6 126.4 1580.6 140.6 1583.4 132.6 1585.5 126.8 1581.4 140.9 1583.4 135.5 1586 128.1 1586.6 127.2 1583 139.7 1584.2 137.1 1587.7 126.9 1587.5 128.4 1588.5 126.4 1591.7 117.5 1592 117.3 1587.7 131.8 1592.6 117.5 1590.6 124.9 1591.8 122.1 1587.3 137 1590.5 128 1594.1 118 1594.4 118.1 1592 126.6 1589.9 133.9 1587.8 141 1591.9 129.7 1595.9 118.6 1588.5 141.9 1593.8 126.9 1586.8 148.8 1596.7 120.2 1592 135.3 1594.9 127.6 1591.7 137.9 1591.3 140.1 1594.3 132.3 1595.6 129.4 1595.7 130 1593 138.8 1596.3 130 1598.2 125.5 1596.7 130.9 1599.3 124.3 1593.1 143 1591.9 147.2 1597.6 132.1 1601.9 120.7 1600.5 125.7 1599.5 129.4 1602.4 122.3 1599.7 130.7 1594.6 145.6 1600.6 129.9 1600.6 130.9 1596.6 142.8 1602 128.9 1594.2 150.9 1595.3 148.9 1601.1 133.9 1596.3 147.7 1602.5 131.8 1604.8 126.5 1595.9 151.5 1603.1 132.8 1603.3 133.4 1597.4 149.9 1599.3 145.6 1604.2 133.5 1600.7 143.6 1604 135.7 1606 131.4 1606.6 130.7 1601.9 143.7 1604.9 136.7 1605.1 137 1606.5 134.2 1599.8 152.4 1611.1 124.1 1608.2 132.5 1608.2 133.4 1606.7 138 1607.1 137.8 1610.2 130.7 1604.8 145.2 1604.9 145.9 1611 131.2 1602.4 153.7 1611.2 132.6 1604.7 149.6 1609.5 138.4 1605.8 148.3 1604.8 151.5 1604.6 152.8 1614 130.6 1605.6 151.9 1610.8 140 1616.1 127.9 1615.6 129.8 1614.9 132.3 1608.5 148.6 1615 133.8 1608.5 150.3 1611.9 142.7 1609.2 150 1613.9 139.6 1611.2 146.8 1619 129.1 1611.1 148.5 1618.3 132.3 1613.8 143.7 1619.6 130.9 1618.5 134.3 1620.9 129.3 1619.5 133.4 1620.4 132.1 1619.7 134.6 1622.5 128.8 1617.8 140.5 1623.1 129 1621.3 134 1623.7 129.3 1613.6 153.2 1618.5 142.7 1624.6 129.7 1617.6 146.3 1620.2 141.1 1619.7 143 1614.3 155.9 1615.4 154.1 1624.9 133.5 1620.6 143.9 1626.9 130.7 1621.8 142.8 1619.6 148.4 1620 148.2 1623 142.4 1628.3 131.4 1627.7 133.5 1625 140.1 1624.9 141 1625.6 140.2 1626.2 139.7 1619.7 154.4 1629.6 133.8 1628.9 136.1 1626 143.1 1625.6 144.7 1627.9 140.4 1627.8 141.5 1626.8 144.2 1624 150.9 1632.5 133.6 1632.9 133.5 1632.3 135.7 1626.9 147.6 1629.9 142 1626.4 150 1634.4 134.2M1629 157.7 1637.8 140.8 1634.6 147.8 1637.7 142.3 1639.3 139.9 1635 149.1 1631.3 156.9 1633.5 153.4 1633.3 154.3 1633.8 154.1 1628.6 164.9 1635.8 151.5 1633.5 156.6 1631.3 161.5 1635.3 154.4 1632.6 160.3 1642.7 141.6 1643.3 141 1641.9 144.4 1636.3 155.7 1638.8 151.6 1631.6 166 1641.2 148.4 1640.4 150.7 1637.4 156.8 1637.2 157.9 1640.4 152.6 1640.1 153.7 1640 154.6 1635.3 164 1641.6 152.9 1638.8 158.7 1646.1 145.8 1635.7 165.6 1638.7 160.7 1639 160.8 1640.7 158.3 1645.4 150.4 1645.9 150.1 1646.5 149.6 1635.8 169.7 1644.9 153.8 1640.9 161.7 1641.8 160.6 1636.4 170.9 1646.8 152.9 1644.7 157.3 1649 150.1 1648.4 152 1642.4 163.2 1647.3 155 1649.4 152 1648.7 153.9 1652.7 147.4 1643.3 164.7 1647.1 158.6 1655 145.3 1651.3 152.4 1655.7 145.4 1652.3 152 1656.2 145.7 1651.9 153.8 1652.7 153 1653.7 152 1652.2 155.2 1642.6 172.3 1654.7 152.1 1655.2 151.9 1652.4 157.3 1646 168.7 1653.9 155.9 1645.7 170.4 1651.4 161.4 1654.4 156.9 1652 161.6 1653.8 159 1648.1 169.2 1652.4 162.6 1655.2 158.6 1656.3 157.2 1647.4 172.7 1648.3 171.8 1657.2 157.6 1654.1 163.3 1658.2 157.1 1657.7 158.5 1658.9 157.2 1652.7 167.9 1657.6 160.4 1650.9 171.9 1652.8 169.4 1653.3 169.2 1649.5 175.8 1659.8 159.8 1656.1 166.3 1660.9 159.2 1661.4 158.9 1654.8 170.1 1664.7 154.8 1662 159.7 1650.5 178.7 1651 178.3 1662.7 160.4 1664.8 157.6 1653.3 176.4 1655.4 173.6 1654.3 175.9 1661.3 165.4 1662.8 163.6 1665.9 159.4 1664.8 161.7 1662.3 166.2 1660.2 170 1665.3 162.6 1664 165.2 1660.4 171.3 1662 169.4 1665.8 164.1 1667.2 162.5 1671.5 156.5 1664.2 168.2 1668.2 162.6 1667.2 164.7 1664.8 168.9 1658.6 178.8 1658.6 179.4 1672.5 159 1668.9 165 1663.3 173.9 1671.6 162 1673.6 159.6 1669.5 166.2 1674 160.1 1668.1 169.4 1666.6 172.2 1659 183.9 1667.1 172.5 1673.5 163.6 1668.5 171.5 1669.2 171.1 1662.2 181.8 1672.4 167.4 1671 170 1668.2 174.7 1666.8 177.2 1676.4 163.8 1674.4 167.3 1679.5 160.5 1672.2 171.5 1670.2 174.9 1663.9 184.4 1676.7 166.7 1669.6 177.4 1664.9 184.5 1677.3 167.4 1673.5 173.4 1675.9 170.4 1666.4 184.5 1667.1 183.9 1666.5 185.2 1671.3 179 1679.8 167.7 1679 169.3 1673.5 177.5 1673 178.8 1682.2 166.4 1666.5 188.7 1667.8 187.5 1671.1 183.4 1679 173 1678.4 174.3 1681.2 171 1675.2 179.8 1683.4 169.1 1678.7 175.9 1678.6 176.6 1677.4 178.8 1669.9 189.4 1680.2 176 1684 171.4 1684.1 171.8 1681.5 175.8 1679.2 179.4 1671.4 190.4 1683.3 174.9 1675.8 185.4 1684.6 174.2 1680.8 179.7 1680.2 181 1673 191.1 1676.6 186.8 1682 180.2 1673 192.5 1681.5 181.8 1677.3 187.8 1685.1 178.2 1677.6 188.4 1688.7 174.4 1684.3 180.6 1686.4 178.5 1676 192.4 1686.8 178.9 1690.8 174.3 1684.2 183.2 1690.9 175.2 1691.2 175.4 1682.2 187.3 1693.7 173.2 1693.4 174 1693.1 174.9 1681.9 189.6 1695.8 172.5 1687.2 183.9 1678 195.9 1688.8 182.8 1678.7 196 1680.4 194.4 1684.5 189.6 1693.2 179.3 1690.4 183.3 1694.4 178.8 1681.1 195.8 1694.1 180.2 1698.2 175.6 1693.8 181.5 1691.7 184.6 1697.6 177.9 1695.5 180.8 1680.4 199.8 1687.9 191.1 1694.4 183.7 1690.4 189.1 1693.7 185.5 1695.2 184.2 1682.7 199.8 1690.7 190.6 1683.1 200.2 1689.9 192.5 1690.5 192.2 1700.8 180.3 1686.3 198.2 1692.3 191.4 1702 180.4 1696.6 187.2 1702.4 180.9 1685.7 201.1 1697.7 187.4 1699.3 186 1703.7 181.3 1705.1 180.2 1686.1 202.8 1703.2 183.3 1698.8 189 1706 181 1705.4 182.2 1706.5 181.4 1705.4 183.2 1687.8 204.1 1705.4 184.2 1707.5 182.2 1687.3 205.9 1706.1 184.8 1691.8 201.6 1707.3 184.3 1697.4 196.1 1697.7 196.3 1706.1 187.2 1705.1 188.8 1703.6 190.9 1706.3 188.3 1695.6 200.8 1709.5 185.7 1701 195.7 1710.8 185.2 1711 185.4 1704.3 193.4 1697.7 201.2 1695.4 204.1 1705.5 193.4 1704.1 195.4 1699.7 200.8 1692.3 209.3 1692.5 209.5 1707.5 193.5 1708.3 193.1 1696.5 206.5 1696.6 206.8 1696.6 207.2 1697.9 206.2 1707.7 196 1697.9 207.1 1704.9 200 1693.8 212.4 1708.1 197.4 1712.7 192.9 1714 192 1714.7 191.6 1704.7 202.9 1705 202.9 1707.5 200.8 1695.5 213.9 1709.4 199.6 1706.4 203.2 1709.2 200.6 1706.8 203.7 1698.6 212.7 1716.2 194.7 1704 207.9 1714.9 196.9 1712.9 199.4 1703.7 209.6 1698.7 215.1 1700.3 213.9 1711.2 203 1714.9 199.6 1708.5 206.7 1719.5 195.7 1708.8 207.2 1716.1 200.1 1721.5 195.1 1715.5 201.7 1702.4 215.5 1720.4 197.6 1706.1 212.5 1722 196.8 1718.8 200.5 1712.5 207.3 1723.3 196.9 1713.2 207.5 1717.4 203.7 1716.8 204.8 1722.2 199.7 1722 200.4 1708.5 214.3 1705.9 217.3 1703.3 220.3 1705.6 218.4 1717.2 207.3 1712.1 212.8 1718.4 207 1704.8 220.8 1708.9 217.2 1708.2 218.3 1726.8 200.5 1727.1 200.7 1727.3 200.9 1727.5 201.1 1724.2 204.8 1722.6 206.8 1715.4 214.2 1719 211.1 1716.8 213.7 1718.3 212.6 1718.4 212.9 1720.1 211.7 1722 210.3 1724.2 208.6 1709.2 223.4 1726.3 207.5 1729.4 205 1719.9 214.5 1727.2 208 1717.3 217.8 1730.7 205.5 1721.7 214.4 1731.2 205.9 1721.6 215.3 1715.7 221.3 1727.1 211 1725.3 213.2 1726 212.9 1732.9 206.9 1726.2 213.6 1733.4 207.4 1729.9 211 1712.1 227.8 1720.1 220.9 1728.2 213.8 1734.4 208.5 1731 212.1 1718.7 223.8 1726.8 216.8 1724.3 219.4 1725.9 218.4 1715.1 228.6 1726.6 218.6 1734 212.3 1735.8 211.2 1717.7 227.8 1721.8 224.5 1735.1 213 1728 219.8 1721.9 225.7 1735.7 213.7 1729.9 219.4 1718 230.3 1731.8 218.5 1728.3 222 1736.2 215.4 1726.2 224.6 1736.7 215.8 1715.8 234.5 1739.5 214.2 1733.4 219.9 1739.4 215.1 1725.3 227.8 1721 231.9 1725.7 228.2 1736.4 219.4 1735 221 1726.9 228.4 1737.9 219.3 1741.1 217 1724.9 231.3 1723.2 233.1 1733.3 224.9 1727.2 230.4 1725 232.7 1735.1 224.5 1721.8 236.2 1736.3 224.3 1724.4 234.7 1733.7 227.3 1735.6 226.2 1733.2 228.5 1727.3 233.9 1733.7 228.9 1731.8 230.9 1743.7 221.4 1744.6 221.1 1738.5 226.5 1723 239.7 1725.3 238.2 1728 236.3 1735.3 230.7 1732.2 233.7 1739.1 228.4 1737.6 230 1729.8 236.8 1736.3 231.9 1745 225.2 1725.4 241.5 1731.3 237.1 1735.8 233.8 1747.8 224.6 1745.3 227 1741.7 230.3 1740.7 231.4 1735.5 236.1 1744.1 229.5 1742.9 230.9 1741.1 232.7 1741.2 233 1725.7 245.7M1746.9 236.1 1729.7 249.5 1748.5 235.6 1743.5 239.8 1754.1 232.1 1742.6 241.2 1747.3 238.1 1739.2 244.5 1750.2 236.7 1753.4 234.6 1747.8 239.3 1754.2 234.9 1744.4 242.5 1735.8 249.3 1744.9 242.9 1755.9 235.1 1746.4 242.6 1755.6 236.2 1753.8 237.9 1752.4 239.3 1742.4 247 1757.3 236.5 1746.3 244.9 1736.7 252.3 1757.9 237.2 1740.3 250.4 1741.5 249.9 1745.4 247.4 1736.4 254.3 1735.4 255.3 1751.3 244.3 1739 253.5 1736.8 255.4 1744.5 250.3 1759.8 239.8 1754.7 243.8 1736.3 257.2 1748.3 249.1 1741.4 254.3 1754.3 245.6 1742.4 254.3 1739.1 257 1752.5 248 1755.1 246.6 1754.6 247.3 1753 248.8 1745.6 254.3 1759 245.4 1757.1 247.1 1740.1 259.2 1745.5 255.8 1755 249.7 1752 252 1752.8 251.9 1748.4 255.2 1752.4 252.9 1751.3 254 1757.8 249.9 1742.2 260.9 1752.7 254.2 1760 249.6 1757.8 251.4 1750.3 256.8 1739.1 264.7 1756.3 253.5 1746.5 260.5 1739.8 265.3 1752.8 257 1761.3 251.7 1746.4 261.9 1745.5 262.9 1754.5 257.3 1766.6 249.8 1761.5 253.5 1747.8 262.8 1747.1 263.6 1756.4 257.9 1757.5 257.5 1762.3 254.8 1753.4 260.9 1763.9 254.5 1750.7 263.4 1748.4 265.2 1765.3 254.7 1768.6 253 1757.8 260.3 1754 263 1761 258.9 1748.8 267.1 1759 260.9 1764.7 257.7 1760.2 260.9 1747.3 269.4 1755.7 264.5 1760.5 261.8 1754.8 265.7 1743.9 272.9 1744.3 273 1759.7 263.7 1753.1 268.2 1761 263.7 1757 266.5 1757.6 266.5 1754.9 268.5 1767.5 261.1 1766.9 261.8 1762 265.2 1757.4 268.4 1747.5 274.8 1757.9 268.8 1760.9 267.3 1748.9 274.9 1768.4 263.4 1768.4 263.8 1751.7 274.2 1757.3 271.2 1755.1 272.9 1773.1 262.5 1751.7 275.6 1761.8 269.9 1752.5 275.8 1753.4 275.6 1763.1 270.3 1750.7 277.9 1757.5 274.2 1759.1 273.6 1748.5 280.2 1758.9 274.5 1752.1 278.7 1770.5 268.4 1766.9 270.8 1759.1 275.7 1769 270.3 1765.5 272.7 1760.8 275.8 1773.9 268.6 1767.3 272.7 1756.4 279.3 1750.2 283.2 1766.2 274.4 1769.6 272.8 1756.1 280.8 1765.1 276.1 1761.5 278.4 1769.7 274.2 1759.8 280.1 1754 283.7 1763.1 278.9 1771.3 274.7 1766.1 277.9 1754.1 285 1764.2 279.7 1756.8 284.1 1771.7 276.3 1768.2 278.5 1766.9 279.6 1756 285.9 1764.9 281.4 1765.2 281.5 1753.7 288.1 1773.3 277.8 1770 280 1770.6 280 1775.7 277.6 1760.2 286.3 1763.5 284.9 1759.7 287.2 1765.1 284.7 1770.7 282 1770.7 282.4 1769.4 283.4 1771.7 282.5 1774.7 281.3 1771.8 283.1 1772 283.4 1777.6 280.8 1772.4 283.9 1768.6 286.2 1768.2 286.8 1761.7 290.5 1770.7 286.1 1766.2 288.8 1761.5 291.6 1776.5 284.2 1771.1 287.3 1773.4 286.4 1768.3 289.4 1783.4 282 1757.3 295.6 1778.1 285.5 1767.7 291 1763.7 293.4 1777.3 286.9 1759.9 296 1778.6 286.9 1767.2 292.9 1769.3 292.3 1762.4 296 1776.8 289.2 1773.1 291.4 1776 290.3 1775.9 290.7 1782.3 287.8 1769.7 294.4 1778.5 290.4 1761.8 298.9 1761.8 299.2 1774.8 293.2 1763.2 299.2 1773.6 294.5 1774.5 294.4 1774.9 294.5 1776.3 294.2 1779.2 293.1 1781 292.6 1782.7 292.2 1784.8 291.5 1768.8 299.4 1784.5 292.3 1787.7 291.2 1779.9 295.2 1782.7 294.2 1767.1 301.8 1767.3 302.1 1779.4 296.8 1781.3 296.2 1763.5 304.8 1775.9 299.4 1789 293.7 1781.6 297.5 1782.2 297.5 1790.9 293.9 1762.9 307 1786.5 296.6 1782.7 298.7 1765.8 306.6 1781.8 299.7 1777.5 302 1775.7 303.1 1770 306 1777.9 302.8 1779.8 302.3 1778.6 303.1 1787 299.8 1778.4 303.9 1781.5 302.9 1780.9 303.5 1783.2 302.8 1790.3 300 1785.2 302.6 1778.7 305.8 1788.3 301.9 1775 308 1775.3 308.2 1766.9 312.1 1785.2 304.6 1784.2 305.4 1773.4 310.3 1784.8 305.8 1785.1 306 1781.5 307.8 1786.6 306 1768.2 314.1 1776.9 310.8 1791.4 305 1790.8 305.6 1787.6 307.3 1770.2 314.8 1781.6 310.4 1788.3 308 1782.4 310.8 1780.6 311.8 1771.2 316 1782.1 311.9 1774.1 315.4 1786.7 310.6 1796.6 307 1778.3 314.7 1776.9 315.6 1769.4 318.9 1783.1 313.8 1767.9 320.2 1783.9 314.1 1787.7 312.9 1792.5 311.3 1791.3 312.1 1779.6 317.1 1785.5 315.1 1787.3 314.7 1780.7 317.6 1782.9 317.1 1791.3 314.1 1795 313 1794.6 313.5 1777.7 320.4 1785.2 317.8 1773.6 322.6 1785.5 318.3 1782.3 319.9 1772 324.1 1789.2 317.9 1770.9 325.2 1790.4 318.1 1795.6 316.5 1788.5 319.5 1780.6 322.7 1789.1 319.9 1798.9 316.6 1797.6 317.4 1795.4 318.6 1795 319 1773.1 327.4 1798.6 318.4 1799.9 318.2 1800.9 318.2 1798.5 319.4 1783.9 325.1 1792.4 322.3 1772.2 329.9 1779 327.8 1801.6 320 1786.3 325.8 1801.8 320.6 1801.1 321.2 1801.7 321.3 1775.4 330.9 1802.2 321.8 1791.3 325.9M1779.6 335.6 1792.3 331.8 1781.6 335.6 1804.4 328.4 1788.2 334.1 1778.9 337.4 1798.3 331.4 1775.5 339.1 1790.9 334.5 1786.6 336.2 1796.3 333.4 1783.4 337.8 1799.2 333.1 1804 331.9 1801.7 332.9 1783.4 339 1798.9 334.5 1805.1 332.9 1794.2 336.6 1780.4 341.2 1804.1 334.2 1804.3 334.5 1797.9 336.7 1796 337.6 1788.4 340.3 1797.1 337.9 1787 341.3 1790.8 340.5 1779.9 344.1 1801 338.1 1800 338.7 1805 337.5 1783.6 344.2 1779.8 345.6 1804.9 338.5 1791.5 342.8 1807.5 338.4 1792.7 343.1 1800.3 341.2 1797.6 342.3 1794.5 343.5 1779.4 348.1 1784.3 347 1798.1 343.4 1799.6 343.3 1787.1 347.2 1799.2 344.1 1790.6 346.8 1778.9 350.4 1793.8 346.5 1799.8 345.2 1782.7 350.2 1804.1 344.6 1784.6 350.3 1792.9 348.3 1799.6 346.8 1778.8 352.8 1800.8 347.1 1780.4 352.9 1789.1 350.9 1808.4 346.1 1787.1 352 1796.1 350 1807.2 347.3 1790.8 352 1810 347.3 1803.6 349.3 1801 350.3 1810.2 348.2 1795.1 352.4 1803.9 350.5 1781.6 356.5 1804.2 351 1806.2 350.9 1791.4 354.9 1785.9 356.6 1785 357.1 1792.3 355.6 1802.6 353.3 1787.9 357.3 1786.6 357.9 1793.7 356.5 1801.7 354.8 1788.9 358.3 1792 357.8 1796.2 357.1 1781.6 360.9 1805.8 355.5 1793.6 358.7 1799.8 357.5 1787 360.8 1796 359 1792.2 360.2 1803.8 357.8 1792 360.9 1799.9 359.4 1786.7 362.7 1789.1 362.5 1801 360 1786.9 363.5 1783.4 364.6 1796.8 361.9 1786.7 364.5 1787.7 364.6 1800.3 362.1 1791.6 364.3 1801 362.5 1789.8 365.3 1813.1 360.5 1812.7 361 1813.3 361.2 1800.1 364.3 1794.1 365.9 1786.4 367.8 1805.8 364 1809.1 363.7 1794.3 367.1 1789.7 368.3 1790.3 368.5 1798.3 367.2 1799.2 367.3 1805.9 366.2 1803.7 367 1788.2 370.4 1803.4 367.7 1800.8 368.5 1789.1 371.1 1793.2 370.6 1790.1 371.5 1802.7 369.4 1806.5 368.9 1794.7 371.5 1808.8 369.1 1803.8 370.4 1788.1 373.7 1809.8 369.9 1794.8 373 1803.8 371.6 1784.7 375.5 1810.9 370.9 1803.5 372.6 1788.2 375.8 1784.6 376.7 1801.5 373.9 1795.2 375.4 1804.9 373.9 1794 376.2 1798.3 375.7 1801.9 375.4 1802.1 375.7 1802.9 375.8 1803 376.1 1805.4 376 1805.6 376.3 1802.3 377.2 1804.1 377.2 1800 378.2 1790.8 380 1789.9 380.5 1810.6 377.3 1804.6 378.6 1799.5 379.8 1785.3 382.4 1807.7 379.1 1791.3 382 1809.3 379.4 1797.1 381.7 1802.3 381.2 1796.7 382.4 1794.3 383 1809.8 380.9 1803.4 382.2 1792.7 384.2 1806.9 382.3 1788.1 385.5 1796.7 384.5 1805.6 383.4 1788.7 386.2 1806.4 383.9 1793.3 386.2 1806.8 384.5 1804.8 385.1 1804.8 385.4 1812.4 384.6 1801.3 386.5 1798.8 387.2 1800.5 387.2 1790.3 389 1809.1 386.6 1791.2 389.4 1808.1 387.4 1798.2 389.1 1803.4 388.7 1805.3 388.7 1805.8 388.9 1811.1 388.6 1802.2 390 1794.3 391.4 1807.2 390 1801.6 391 1798.2 391.8 1813.5 390.1 1802.5 391.8 1795.6 393 1806.6 391.9 1804.5 392.5 1807.1 392.5 1798.8 393.8 1808.4 392.9 1802.6 393.9 1810 393.4 1805.9 394.2 1800.6 395.1 1798.1 395.7 1798.5 395.9 1811.4 394.8 1789.7 397.5 1788.1 397.9 1791.3 397.9 1789.3 398.4 1793.5 398.2 1793.6 398.5 1804.8 397.6 1807.8 397.6 1804.2 398.3 1807.9 398.2 1793.4 400 1804.9 399.2 1812.9 398.7 1793.9 400.8 1794 401.1 1804.8 400.4 1801 401 1806.7 400.8 1796.7 402.1 1800.6 402 1788.5 403.4 1805 402.2 1801 402.9 1802.6 403 1801.5 403.4 1806.6 403.3 1798.8 404.2 1799.6 404.5 1799 404.8 1809.2 404.3 1795.2 405.7 1799.9 405.6 1801.5 405.8 1804.3 405.9 1790.4 407.3 1800.3 406.8 1798.7 407.2 1812.1 406.5 1803.3 407.5 1806.5 407.5 1803.9 408 1804.3 408.3 1806.2 408.5 1808.3 408.6 1798 409.6 1806.9 409.3 1803.9 409.9 1795.5 410.7 1789.6 411.4 1806.4 410.6 1804.6 411 1790.5 412.2 1813.4 411.1 1800.1 412.2 1803.5 412.3 1800.5 412.8 1794.3 413.4 1804.2 413.2 1817.7 412.7 1791.6 414.4 1793.2 414.6 1795.6 414.8 1809.1 414.4 1814.3 414.5 1804.5 415.3 1801.6 415.7 1809.1 415.6 1808.8 416 1797.1 416.8 1794.1 417.2 1795.1 417.5 1815.8 416.9 1813.4 417.3 1820.4 417.3 1806.6 418.2 1808.3 418.4 1815.5 418.5 1808.5 419 1799.3 419.7 1811.8 419.5 1802.4 420.1 1798.4 420.6 1792.7 421.1 1796.4 421.2 1820.1 420.8 1800.3 421.7 1807.5 421.8 1812.2 422 1789.7 422.9 1803.1 422.8 1816.6 422.8 1794.4 423.6 1797.2 423.9 1809.5 423.9 1820 424 1812.8 424.4 1810 424.8 1811 425.1 1816.8 425.3 1812.1 425.7 1810.1 426 1803.1 426.4 1794.7 426.8 1802.6 427 1810.4 427.3 1793.8 427.7 1810 427.9 1801.2 428.2 1803.7 428.5 1807.3 428.8 1793.9 429.2 1806.4 429.4 1803.6 429.7 1811.5 430 1793.8 430.3 1800.5 430.6 1794.4 430.9 1805.7 431.2 1797.8 431.5 1806.5 431.8 1805.1 432.1 1797.2 432.4 1810.9 432.8 1799.6 433 1809 433.4 1801.2 433.6 1794.6 433.8 1801.1 434.2 1817.6 434.7 1811.4 434.9 1795.3 435 1810.3 435.5 1814.5 435.9 1809.8 436.1 1790.7 436.1 1804.1 436.6 1799.2 436.8 1803.1 437.2 1817.9 437.9 1816.4 438.1 1795.7 437.9 1796.1 438.2 1816.6 439.1 1802.7 439 1794.6 439.1 1806.8 439.7 1804.4 440 1811.9 440.5 1804.3 440.6 1812.6 441.1 1805.6 441.2 1812.8 441.8 1804 441.8 1814.6 442.5 1813.1 442.7 1802.8 442.6 1799 442.8M1817.3 449.2 1814 449.3 1789.5 448.2 1814.1 449.9 1818.5 450.5 1809.6 450.3 1820 451.3 1803.4 450.5 1815.5 451.6 1819.9 452.2 1805.7 451.6 1791 450.9 1819.9 453.1 1809.7 452.8 1800.7 452.4 1811 453.5 1801 453 1817.6 454.6 1802.3 453.7 1816.7 455.1 1813.9 455.2 1819.7 456 1812.4 455.7 1816.7 456.4 1803.3 455.6 1819.6 457.3 1819 457.5 1801.4 456.4 1795.9 456.2 1799 456.8 1808.9 457.9 1811.1 458.4 1812.5 458.9 1795.1 457.6 1806.4 458.9 1806.4 459.2 1807.4 459.6 1799.7 459.2 1812.3 460.7 1814 461.2 1802.3 460.4 1807.8 461.2 1813 462 1806 461.6 1806.6 462 1812.3 462.9 1798.1 461.7 1817.7 464.1 1788.7 461.4 1795 462.3 1800.4 463.2 1787.6 462.1 1813.3 465.2 1813.4 465.5 1791.5 463.4 1807.9 465.5 1812.4 466.3 1789.8 464.1 1809.5 466.6 1787.9 464.5 1809 467.2 1792.4 465.6 1797.9 466.5 1809.7 468.2 1808.8 468.4 1804.6 468.2 1791.8 467 1791.3 467.2 1791.8 467.5 1797.2 468.5 1801.8 469.4 1805.6 470.2 1789.8 468.5 1793.9 469.3 1800.6 470.4 1799.7 470.6 1790.6 469.7 1806.5 472.1 1799.2 471.5 1798.2 471.6 1792.4 471.1 1810.3 473.9 1804.5 473.4 1800 473.1 1810 474.8 1803.1 474.1 1797.3 473.6 1794.4 473.5 1805.3 475.4 1798.7 474.7 1807.5 476.3 1813.2 477.4 1804.2 476.4 1789.6 474.6 1803.5 476.9 1812.8 478.6 1802.7 477.4 1801.3 477.5 1812.1 479.5 1797.2 477.5 1795.6 477.6 1807.6 479.7 1800.5 478.9 1802.6 479.6 1798.3 479.2 1786.6 477.6 1786.1 477.8 1814.3 482.7 1816.4 483.3 1816.3 483.7 1802.1 481.6 1816.2 484.3 1810 483.6 1806.2 483.2 1805.9 483.5 1797.2 482.3 1797.9 482.8 1803.9 484.1 1792.2 482.4 1794.7 483.1 1804.5 485.1 1798.5 484.4 1805.5 485.9 1800.7 485.4 1797.7 485.2 1811.2 487.9 1789.8 484.3 1807.8 487.9 1806.1 487.9 1801.6 487.4 1808.7 489 1794.5 486.7 1797.4 487.5 1803.1 488.9 1784.3 485.7 1812.8 491.4 1807.8 490.7 1813.1 492.1 1812.7 492.3 1793.8 489 1807.1 491.9 1783.6 487.6 1806.3 492.3 1806.1 492.6 1794.9 490.7 1813 494.6 1811.3 494.6 1807.2 494.1 1798.9 492.7 1794 492 1791.8 491.9 1788.1 491.4 1784.8 491 1794.3 493.3 1801 495 1801 495.3 1805 496.5 1786.2 492.8 1805.8 497.3 1805.6 497.6 1800.7 496.8 1788.1 494.4 1802.9 497.9 1784.8 494.3 1784.8 494.6 1812.5 501 1798.5 498.2 1787.5 496.1 1801.1 499.4 1799 499.2 1798.4 499.4 1797.4 499.5 1799.7 500.3 1803.7 501.6 1783.4 497.2 1786.6 498.3 1798.1 501.2 1794.6 500.7 1790.4 500 1789.9 500.2 1784.4 499.2 1803.9 504.1 1792.1 501.7 1796.2 502.9 1798.3 503.7 1786.6 501.2 1782.4 500.5 1790.5 502.8 1785.9 502 1808.7 507.9 1796.8 505.3 1782.5 502.1 1780.4 501.8 1796.8 506.2 1790 504.8 1807.4 509.5 1799.3 507.7 1787.8 505.2 1800.9 508.8 1796.4 508 1798.2 508.7 1803.1 510.3 1806.5 511.5 1807.5 512.1 1808.5 512.7 1809.6 513.3 1803.7 512.1 1800.2 511.5 1798 511.2 1796.8 511.2 1795 511 1787.1 509.2 1785.6 509.2 1789.3 510.4 1783 509.1 1787.1 510.5 1791.7 512 1779.3 508.9 1793.8 513.2 1786.3 511.5 1793.3 513.7 1781 510.6 1799.9 516.2 1797.3 515.8 1799.9 516.8 1789.7 514.2 1795.4 516.2 1781.7 512.6 1793.1 516.2 1799.5 518.3 1799.8 518.7 1784.7 514.7 1784 514.8 1787 516 1784.9 515.6 1792.5 518.2 1778.5 514.4 1788.2 517.6 1801.3 521.7 1794 519.9 1779.8 516 1784.1 517.6 1794.8 521.1 1793.1 520.9 1789.7 520.2 1790.8 520.8 1784.6 519.3 1789.5 521.1 1786.8 520.5 1793.2 522.8 1792.2 522.8 1797.2 524.7 1799.5 525.7 1798.4 525.7 1801.8 527.1 1778 520 1793.2 525.1 1783 522.2 1796.9 526.9 1805.3 529.8 1804.3 529.9 1790.2 525.7 1804.3 530.5 1797.6 528.7 1776.4 522.2 1804.2 531.5 1790.3 527.3 1784 525.6 1797 530.1 1780.4 525 1779.3 525 1799.2 531.8 1790.6 529.3 1802.9 533.7 1776.4 525.2 1781.7 527.3 1780.7 527.3 1790.9 531 1798.4 533.9 1780.1 528 1788.2 531.1 1791.8 532.6 1790.9 532.6 1795.1 534.4 1788.1 532.3 1782.3 530.6 1773.6 527.9 1793.8 535.3 1791.7 534.8 1799.8 538 1790.9 535.2 1779.2 531.4 1781.3 532.5 1789.9 535.8 1786.8 535 1783.7 534.2 1785.9 535.3 1801.4 541.2 1787.3 536.5 1795.6 539.8 1788.8 537.7 1779.4 534.6 1784.7 536.8 1780.7 535.7 1793.5 540.7 1788.5 539.2 1797.7 542.9 1794.9 542.2 1788.2 540.1 1793.2 542.2 1789.5 541.2 1791 542.1 1786.1 540.6 1783.9 540.1 1787.7 541.8 1792.6 544 1784.3 541.2 1783.9 541.4 1795.3 546 1791 544.7 1794.3 546.3 1785.5 543.2 1790.6 545.6 1777.5 540.8 1784.9 544 1790.7 546.6 1769.1 538.5 1790.1 547 1779.4 543.1 1791.6 548.3 1776.8 542.8 1790 548.3 1789 548.3 1783.7 546.4 1790.5 549.5 1787.8 548.8 1781.6 546.6 1788.9 549.8 1769.9 542.5 1787.8 550.1 1787.3 550.2 1771.8 544.2 1784.8 549.8 1791 552.7 1788.1 551.9 1773.5 546.2 1778.9 548.7 1792.9 554.8 1779.8 549.7 1789.6 554.1 1767.7 545.3 1775.3 548.8 1775.1 549.1 1777 550.2 1784.4 553.6 1766 546.2 1788.8 556.2 1790.4 557.2 1778.5 552.5 1791.9 558.5 1787.6 557 1780.3 554.2 1766.9 548.8 1772.7 551.6 1787 558.1 1793.5 561.3 1767.8 550.4 1789 560 1793.1 562.1 1775.5 554.8 1773.1 554 1784.4 559.3 1779.8 557.6 1785 560.3 1781.5 559.1 1791.4 563.8 1792.1 564.4 1764.2 552.3 1782.5 560.8 1788.3 563.8 1782.5 561.5 1768.9 555.7 1767.6 555.4 1783.6 563 1777 560.4 1779 561.6 1781 562.9 1773.7 559.9 1769.3 558.1 1776.6 561.8 1772 560.1 1762.8 556.1 1775.6 562.4 1764.5 557.5 1782.5 566.3 1777.8 564.4 1780.3 565.9 1786.5 569.2 1789.2 570.8 1789 571.1 1767.5 561.2 1782.6 568.7 1779.6 567.6 1785.4 570.7 1776.2 566.7 1770.5 564.3 1764.8 561.9 1775.3 567.3 1759.8 560.1 1787.7 573.9 1760.3 560.9 1773.4 567.7 1771.8 567.2 1787.1 575.1 1764 564 1777 570.8 1783.8 574.5 1780.3 573.1 1775.4 571 1771.1 569.2 1771.8 569.9 1771.5 570.1 1758.8 564.1 1777.2 573.6 1766.9 568.8 1758.1 564.7 1765.8 568.9 1772.7 572.7 1770 571.7 1770.4 572.2 1758.7 566.6 1775.7 575.6 1783 579.7 1767.8 572.3 1766.4 571.9 1762.7 570.3 1782.2 580.7 1783.5 581.7 1775.2 577.8M1757.3 574.4 1766 579.5 1755.4 574 1760.4 577.1 1760 577.2 1760.2 577.6 1763.5 579.8 1760.1 578.3 1755.6 576.1 1771 585 1769.4 584.5 1764.3 582 1774 587.7 1758.8 579.6 1770.3 586.4 1766.1 584.3 1770 586.9 1772.8 588.8 1773.4 589.5 1763.1 584.1 1773.2 590.1 1756.9 581.2 1759.8 583.2 1768.1 588.3 1751.4 579.1 1753.3 580.5 1758.7 583.9 1754.2 581.7 1756.3 583.2 1767.7 590.2 1763.5 588.1 1752.6 582.1 1765.2 589.8 1752.8 582.9 1767 591.5 1758.8 587.1 1768.7 593.3 1757 586.7 1756.6 586.8 1772.9 596.8 1762.5 591 1749.9 583.9 1761.3 591 1758.3 589.5 1769.1 596.4 1767.2 595.6 1770.2 597.8 1767 596.2 1767.7 597 1763 594.5 1749.8 586.9 1752.5 588.8 1767.2 598.1 1758.2 593 1757.8 593.1 1756.4 592.6 1749.5 588.7 1757.7 594.1 1755.3 593 1752.1 591.3 1756.2 594.2 1747.6 589.2 1753.9 593.5 1757.8 596.3 1757.9 596.7 1762.5 599.9 1749.4 592.1 1751.9 594 1749.1 592.6 1753.8 595.9 1759.3 599.8 1762.3 602 1743.7 590.5 1753.1 596.9 1755.8 598.9 1751.5 596.5 1751.7 597 1746.9 594.3 1752.2 598.1 1750.6 597.4 1760.2 603.9 1746.6 595.5 1757.1 602.7 1752.9 600.3 1747.8 597.3 1758.4 604.6 1750.9 600 1749.4 599.5 1746.1 597.6 1749.5 600.2 1751.1 601.6 1751.9 602.5 1746.3 599.1 1749.6 601.7 1753.9 604.9 1739.9 595.9 1754.3 605.9 1741.5 597.7 1757.5 608.8 1739.3 596.9 1756.5 608.8 1759.4 611.2 1754.2 608 1738.1 597.5 1756.7 610.5 1742 600.8 1745.2 603.4 1748.8 606.2 1751.4 608.3 1740.6 601.3 1739.9 601.2 1741.4 602.6 1743.4 604.3 1747.3 607.3 1746.9 607.5 1749.1 609.4 1750.3 610.6 1754.9 614.1 1754.6 614.3 1743.1 606.6 1742.3 606.4 1754.1 615 1737.5 603.7 1751.8 614.2 1742.1 607.7 1746.2 611 1752.5 615.8 1742.7 609.2 1738.6 606.7 1747.8 613.6 1734.2 604.2 1747 613.7 1742 610.5 1736.7 607.1 1744.5 613 1736.4 607.6 1745.4 614.5 1739.9 610.8 1743.3 613.6 1743.5 614.2 1737.4 610.1 1739.8 612.2 1741.6 613.9 1741.6 614.3 1735.7 610.3 1746.3 618.5 1750.9 622.3 1739 613.8 1745.1 618.7 1732 609.3 1734.3 611.4 1733 610.8 1740.5 616.8 1731.6 610.5 1740.6 617.7 1732 611.5 1735.1 614.2 1747.3 623.8 1743.3 621.2 1750.2 626.8 1744.4 622.8 1738.6 618.8 1740.7 620.7 1733 615.2 1743.2 623.4 1734.5 617.1 1741.7 623 1740.6 622.5 1738.5 621.3 1735.7 619.5 1731.1 616.3 1741.1 624.4 1749.1 631.1 1734.1 619.8 1740.3 625 1736.3 622.3 1738.8 624.6 1730.4 618.4 1745.9 631 1737.2 624.5 1732.7 621.3 1730 619.5 1739.7 627.6 1740.4 628.6 1742.2 630.4 1728.8 620.1 1745.2 633.6 1728.9 620.9 1727.9 620.5 1740.1 630.7 1732.1 624.6 1743.1 633.9 1735.9 628.5 1730.2 624.2 1736.1 629.4 1738.6 631.8 1734.1 628.5 1731.2 626.6 1739 633.4 1736.8 631.9 1733.5 629.6 1744.3 638.9 1735.5 632 1736.8 633.5 1729.8 628.1 1741.3 638.1 1742.2 639.2 1737.2 635.5 1732.2 631.7 1732.5 632.4 1724.9 626.3 1726.2 627.8 1731.3 632.5 1728.8 630.8 1737.7 638.7 1719.4 623.6 1731.4 634.1 1733.6 636.4 1734.9 638 1733.4 637 1733.6 637.6 1724.8 630.5 1725.6 631.6 1734.1 639.3 1722.6 629.8 1721.4 629.1 1738.1 644 1740 646.1 1730.5 638.2 1733.1 640.9 1728.8 637.5 1724.3 634 1727.5 637.1 1720.7 631.6 1730.8 640.9 1715.7 628 1717.6 630 1726.2 638.1 1728.9 640.8 1720.8 634.1 1729.9 642.5 1730.3 643.4 1726.9 640.6 1725 639.4 1715.6 631.3 1725.7 640.9 1722.2 638.1 1722.3 638.6 1727.6 643.8 1725.9 642.6 1726.9 644 1719.4 637.5 1728 645.8 1723.3 641.9 1729.9 648.4 1722.7 642.1 1720 640.2 1721.4 641.8 1726.3 646.7 1729.4 650 1727.2 648.4 1724 645.9 1724.1 646.3 1711 634.6 1727.2 650.1 1718 641.9 1715 639.5 1719.4 644.1 1729 653.5 1713.2 639 1726.5 652 1718.6 645 1711.9 639 1713.3 640.7 1713.3 641.2 1727.3 654.9 1723 651.2 1728.6 657 1712.7 642.2 1721.5 651 1713.5 643.7 1713.9 644.6 1713.1 644.3 1711.3 642.9 1721.2 652.9 1706.3 638.9 1714.3 647 1713.6 646.8 1704.4 638.1 1714.1 648.1 1709.5 644 1717.4 652.2 1723.5 658.6 1713.9 649.6 1713.9 650 1716.6 653.1 1721.8 658.7 1721.9 659.3 1709.5 647.3 1707.4 645.7 1714.4 653.1 1705.4 644.5 1712.1 651.6 1707.3 647.2 1707.3 647.6 1713.2 654 1713.8 655 1712.3 654 1711 653 1704.8 647.2 1708.2 651 1716.5 660 1719.9 663.9 1712.8 657.1 1716.2 661 1708.4 653.4 1707.9 653.3 1715.1 661.2 1711.3 657.7 1702.7 649.2 1710.7 658 1706.3 653.8 1705.5 653.3 1701.4 649.6 1700.6 649.1 1712.1 661.7 1712.3 662.3 1715.6 666.2 1713.6 664.6 1715.9 667.5 1709.4 661 1696.9 648.1 1717 670 1713.9 667.1 1709.5 662.9 1696.9 649.9 1697.5 650.9 1702.2 656.4 1701.3 655.8 1710.7 666.4 1704 659.7 1714.9 671.9 1712.2 669.5 1703.2 660.2 1707.8 665.6 1714 672.8 1705.3 663.8 1707.3 666.4 1693.1 651.2 1703.9 663.6 1696.4 655.7 1696.3 656.1 1709.1 670.6 1711.7 674.1 1701.5 663.1 1696.5 658 1695.9 657.8 1702.7 665.8 1705.8 669.8 1693.9 656.9 1703.2 667.7 1702.5 667.5 1705.6 671.4 1698.9 664.3 1703.4 669.9 1704.2 671.2 1696.6 663.1 1695.9 662.7 1697.6 665.2 1690 656.9 1688.6 655.7 1704.4 674.2 1707.6 678.4 1705.4 676.3 1701.1 671.9 1688.4 657.6 1702.5 674.4 1694.8 666 1700.5 673.1 1694.8 667 1699.1 672.4 1688.7 660.7 1697.6 671.5 1691.2 664.5 1687.3 660.4 1686.4 659.8 1696 671.6 1695.4 671.3 1685.7 660.3 1703.2 681.6 1688.4 664.4 1703 682.3 1688.2 665.1 1694 672.5 1691.2 669.6 1699.3 679.8 1695.2 675.4 1698.9 680.3 1685.6 664.8 1694.6 676.2 1699 681.9 1684.6 664.8 1681.2 661.2 1692.7 675.8 1696.3 680.6 1697 681.9 1683.4 665.8 1686.6 670.2 1691.7 676.9 1683.2 666.9 1698.4 686.2 1698.1 686.4 1693.5 681.1 1681.1 666.1 1697.4 687 1688.4 676.2 1681 667.3 1696.7 687.5 1682.3 670 1688.3 678.1 1686.1 675.7 1690.2 681.4 1691.6 683.6 1692.1 684.8 1684.8 676 1688.1 680.8 1689.7 683.2 1693.5 688.7 1675.6 666.2 1681.2 673.8 1681.8 675.1 1675.2 667.1 1685.6 681 1690.6 687.9 1691.9 690.2 1692.2 691.1 1688.4 686.7 1691.6 691.4 1689.7 689.4 1689.7 689.9 1687.5 687.5 1681.8 680.5 1677.8 675.7 1687.8 689.5 1673.9 671.6 1685.6 687.5 1686.1 688.8 1680.1 681.3 1676 676.2 1682.9 686.1 1675.4 676.5 1683.4 687.8 1671 671.6 1677 680.1 1669.9 671 1687.1 694.9 1677.2 681.9 1682 689 1675.9 681.2 1672.6 677.2 1682 690.5 1677.4 684.7 1676.4 683.8 1676.6 684.7 1679.9 689.7 1683.2 694.8 1684.3 696.9 1678.6 689.5 1667.8 675 1678.6 690.6 1679.6 692.4 1664.9 672.4M1664.4 680.8 1670 689.5 1665.8 684 1671.1 692.3 1672.5 694.8 1668.8 689.9 1670.1 692.4 1664.3 684.4 1673.2 698 1670.7 694.9 1668.7 692.5 1673.4 700.1 1658.6 678.5 1673.3 701 1671.8 699.4 1670.5 698 1662.8 686.9 1662 686.3 1661.7 686.3 1658.5 682 1660.1 685 1665.6 693.9 1664.9 693.3 1661.3 688.5 1663.3 692 1657.6 683.8 1657.3 683.9 1663 693.3 1654.3 680.4 1663.8 695.6 1666.4 700.2 1662.3 694.4 1665.2 699.5 1665.5 700.5 1663.4 697.8 1653.1 682.3 1660.8 694.8 1655.7 687.4 1654.2 685.7 1659.6 694.6 1659.1 694.4 1661.6 698.9 1654.8 688.7 1662.7 701.9 1658.6 695.9 1663.8 704.7 1652.4 687.1 1663.1 704.8 1654.1 691 1658.5 698.6 1662.6 705.8 1662.8 706.6 1656.8 697.6 1659.7 702.8 1661.7 706.7 1655.1 696.6 1659.4 704.2 1657.8 702 1659.9 706.1 1657.8 703.4 1647.5 686.9 1651.7 694.3 1647.3 687.6 1655.4 701.7 1651.4 695.6 1649.5 693.1 1646.2 688.2 1652.9 699.9 1658 709 1644.6 687.1 1656.5 707.8 1645.5 689.8 1645.1 689.6 1645.9 691.6 1646.9 693.8 1652 703.1 1655.9 710.5 1642.8 688.6 1656.5 712.7 1657.2 714.5 1651.3 705 1649.8 703 1652.9 708.9 1654.1 711.6 1652.5 709.5 1646.2 699.1 1654.2 713.7 1650.9 708.6 1644.9 698.7 1645.7 700.7 1649.2 707.5 1649.7 709 1650.2 710.5 1646.3 704.1 1649.4 710.3 1641.1 696.2 1646.5 706.5 1641.4 698 1642.3 700.1 1647.3 709.7 1648.3 712.2 1636.1 690.8 1646.6 710.3 1641.1 701.1 1646.1 710.8 1637.5 695.7 1643.9 708.1 1642.7 706.4 1636.2 695.2 1644.5 711.1 1634.4 693 1639.3 702.8 1635.9 697.1 1635.7 697.2 1638 702.1 1642.9 712 1646.3 719 1635.9 700.1 1639.2 707 1634.5 698.7 1633.4 697.2 1643.3 716.7 1639.6 710.3 1635.3 702.9 1636.1 705 1636.9 707.1 1637.9 709.7 1636.4 707.4 1637.6 710.4 1632.1 700.4 1629.4 696 1636.8 710.9 1639.6 717.1 1636.8 712.2 1634.7 708.8 1631.7 703.6 1639 718.5 1637.4 716.1 1635 712 1636.7 716.1 1628.3 700.1 1633 710.1 1629.9 704.6 1627.3 700.2 1632.5 711.1 1628.6 703.9 1630.3 708.1 1628.9 706 1627.3 703.4 1631.2 711.9 1632.3 714.7 1628.8 708.4 1627.9 707.3 1628.7 709.5 1628 708.9 1631.2 716.1 1623.5 700.9 1625.1 704.8 1622.6 700.3 1623.5 703 1626.2 709.2 1622.2 701.6 1622 701.7 1622.3 703.1 1623.5 706.3 1626.4 713.1 1629.9 721.1 1622.9 707.2 1623.3 708.6 1622.9 708.5 1623.7 711 1620.8 705.5 1619.9 704.3 1625.4 716.6 1622.1 710.4 1618.7 703.7 1620.3 707.9 1618 703.6 1624.5 718.3 1616.9 702.4 1623.3 717.2 1620.1 711 1620.8 713.3 1617.6 706.8 1621.1 715.4 1625.5 725.8 1615.7 704.8 1622.1 719.8 1625.1 727.2 1624.4 726.3 1621 719.6 1615.5 707.9 1615.1 707.6 1614.4 706.9 1620.5 721.5 1619.7 720.4 1614.4 709 1614.3 709.5 1618.1 718.9 1614.7 712 1613.8 710.5 1614.1 712 1613 710.3 1610.9 706.1 1615.7 718.1 1619.2 726.8 1614.7 717.3 1617.8 725.2 1613.6 716.1 1616.1 722.8 1619.1 730.8 1616.2 724.7 1610.2 711.2 1611.6 715.2 1614.4 722.7 1611.3 716.1 1613.2 721.5 1614.3 724.8 1608.7 712.1 1609.7 715.3 1612.2 722.1 1613.3 725.6 1607.8 713.1 1604.7 706.2 1610.8 721.9 1604.8 708 1613.6 730.4 1609.8 721.9 1613 730.7 1611.2 727.1 1610.5 726.1 1613 733.1 1603.7 710.7 1602 707.3 1610.3 729 1612.8 736.1 1601.2 707.6 1611.1 733.5 1610.1 731.8 1604.6 718.7 1602.1 713.1 1601.5 712.4 1602.3 715.1 1607.5 729.4 1609.8 736.2 1602.7 718.6 1602.2 718.1 1599.5 712 1604.2 725.2 1598.4 710.7 1601.1 718.6 1598.7 713.1 1597.4 710.6 1600.3 719 1598.2 714.2 1600.1 720.1 1601 723.4 1599.1 719.3 1602.5 729.3 1595.8 712.1 1594.8 710.2 1598.6 721.2 1596.7 717 1596.8 718.2 1597.6 721 1595.2 715.5 1600.3 730.3 1598.9 727.3 1595.7 719.4 1602 737.9 1600.2 733.9 1599.9 733.8 1594.2 718.8 1601.5 740.3 1592.2 714.8 1599.9 737.6 1600.3 739.8 1598.9 736.7 1591.1 715.1 1590 712.9 1597.6 735.7 1598.2 738.4 1589.3 713.6 1592 722.2 1592.4 724.3 1591.4 722.4 1589.4 717.3 1589.3 718 1591 724.1 1593.7 733 1589.9 722.5 1592.9 732.5 1586.1 712.9 1591.8 731 1592.2 733.5 1593.3 737.7 1590.6 730.3 1594.3 742.7 1588.1 724.6 1592.3 738.7 1588.5 727.9 1586.3 722.2 1587.8 727.8 1592.3 742.7 1587.8 729.6 1588.4 732.7 1585.8 725.3 1589.7 738.5 1583.8 721 1582.6 718.2 1584.5 725.2 1588.1 737.7 1586.7 734.3 1583 723.5 1586.7 736.3 1587.3 739.4 1581 720 1587.4 741.9 1583 728.3 1584.9 735.6 1582.1 727.5 1582.4 729.5 1582.2 729.8 1584.7 739.5 1582.1 731.9 1583.1 736.2 1577.4 718 1576.5 716 1579 725.7 1579.5 728.3 1579.7 730.1 1582.4 740.4 1582 740.1 1579.8 733.6 1579.9 734.9 1582.1 743.9 1582.3 745.7 1576.9 727.8 1573.3 716.4 1579.7 740.1 1577.9 734.7 1578.8 739 1577 733.7 1572.3 718.2 1579.1 743.7 1574 726.2 1577 738.4 1578.1 743.6 1572.7 725 1577.2 742.6 1573.5 730 1576.2 741.1 1574.2 734.9 1570.1 721.1 1571.6 727.6 1572.3 731.5 1569.3 721.2 1571.6 731 1569.4 723.8 1573.6 741.1 1570.2 729.5 1573.5 743.3 1569.4 728.8 1567.1 720.8 1568.5 727.6 1571.5 740.4 1571 739.6 1569.2 733.9 1568.7 733.3 1572.4 749.1 1565.6 723.4 1569.6 740.4 1569.7 742 1569.1 740.9 1568.9 741.3 1566.7 733.9 1568.8 743.5 1569.9 749.7 1567.9 742.8 1569.3 749.8 1564.5 731.3 1568.7 750 1563.3 728.9 1566.5 743.4 1566.5 744.9 1563 731.4 1563.8 736 1563.6 736.6 1560 722.5 1564.9 744.9 1563.9 741.6 1559.7 725 1559.7 726.4 1561.1 733.7 1561.8 738.3 1560.7 734.5 1559.2 729.1 1561.4 740.6 1561 740 1561.1 741.9 1560.3 740 1559 735.2 1555.7 721.4 1558.6 736.1 1557.1 730.8 1557.2 732.7M1555.2 750.3 1553.4 743 1552.9 742.1 1549.2 724.7 1552.5 742.8 1551.2 738.1 1551.2 739.4 1551.4 742 1550.7 740.3 1547.8 726.3 1548.4 731.3 1550 741.4 1550.5 745.7 1547.2 729.7 1548.1 736 1550 748.2 1550.1 750.5 1547.7 738.8 1549.8 752.4 1546.5 735.7 1546.6 737.8 1548.1 748.4 1545.8 736.6 1543.6 725.9 1544.6 733.5 1546.7 747.1 1546.3 746.8 1546.1 747.6 1544 736.7 1543.9 738.1 1542.1 729 1545.6 751.9 1541.1 726.9 1543.3 742.1 1542.8 740.6 1540.5 728.5 1542.4 742.1 1541 735.1 1542.3 745.1 1543.3 753.3 1542.3 749.1 1540 736.3 1539.9 737.9 1541.2 748.2 1538.1 730 1539.3 739.6 1538.1 734.2 1538.3 737 1537.1 731.5 1536.1 726.9 1536.1 728.4 1538.8 749 1538.6 749.6 1536.9 740.1 1537.1 744 1537.2 746.2 1534.6 730.3 1536.6 746.6 1534.1 731.1 1535.4 742.2 1534.8 740.4 1535.5 747.6 1533.5 735.5 1536 756 1532.7 733.6 1531.6 727.9 1533.8 746.2 1533.8 748.9 1534.3 754.9 1533.5 751.2 1530.9 734 1530.8 735.3 1533.2 756.5 1530.9 741 1532.6 756.5 1532.2 756.5 1531.9 756.6 1528.4 730.5 1529.5 741.5 1528.2 733.1 1529.3 745.5 1528.4 739.7 1528.6 744.6 1528.6 746.8 1528.4 747.9 1527.6 743.6 1526.9 740.4 1525.1 727 1525.2 730.7 1526 740 1525.7 740.3 1526.4 749.6 1524.9 738 1524.3 736 1524.8 743 1522.9 727.6 1523.3 734.7 1524.1 745.2 1523.3 740.2 1522.4 734.4 1522.4 737.7 1523.4 750.8 1521.9 738.4 1520.4 726.3 1521.8 743.3 1521.5 743.4 1521.1 742.2 1521.3 748.4 1520.4 741.5 1519.1 730.8 1519.6 739.1 1519.5 741.9 1518.5 733.2 1519.9 752.8 1518.5 740.5 1519.1 750.9 1517.5 735.3 1517.4 738.4 1516.1 726.5 1517.6 747.9 1516.8 741.5 1516.2 738.1 1515 727 1514.8 727.1 1515.5 741 1516.4 756.5 1515.1 743 1514.8 743.3 1514.1 738.1 1515.1 755.8 1514.9 758.3 1514.5 757.3 1514.1 756.1 1512.5 736.8 1512.8 745.9 1513.3 758.4 1511.8 738.8 1512.2 750.4 1511.7 747.9 1511 740.6 1511.5 753.4 1511 750.3 1510.2 742.6 1509.5 735.2 1510.4 756 1509.2 740.9 1509.7 755.3 1509.3 753.6 1508.6 746.1 1507.8 736.3 1508.4 753.5 1507.1 735 1507.5 748.6 1507.3 751.3 1506.7 745.1 1507 757.3 1506.5 754 1506.1 751 1505.5 745.5 1505.7 757 1505.4 757.3 1504.1 732.7 1503.7 729.7 1503.6 734.7 1503.6 742.7 1503 735.1 1503.2 748.2 1502.8 746.7 1502.7 752.2 1502.4 754 1502.1 753.8 1501.6 746 1501.5 753.6 1500.7 738 1500.7 746.1 1499.9 729.3 1499.7 733.3 1499.7 744.1 1499 727.7 1498.9 736.6 1498.9 746.7 1498.6 747.9 1498.2 742.8 1497.8 737.6 1497.8 757.9 1497.4 751.6 1496.9 739.5 1496.9 758.9 1496.5 755.8 1496.2 754.8 1495.8 743.9 1495.5 745.6 1495.1 735 1494.7 728.5 1494.6 742.8 1494.3 754.3 1494.1 758 1493.7 748 1493.3 731.9 1493.1 751.8 1492.7 736.5 1492.5 759.1 1492.2 752.5 1491.8 757.6 1491.6 737.9 1491.3 734.7 1491 731.5 1490.6 743.7 1490.3 754.9 1490 745.9 1489.8 742.1 1489.5 733.9 1489.1 748.6 1488.8 747.2 1488.6 736.5 1488.2 748 1487.9 742.9 1487.7 739.1 1487.3 747.2 1487.2 733.3 1486.8 740.4 1486.7 730 1486.1 744.4 1485.8 743.4 1485.4 751.4 1485.1 747.9 1484.9 745.4 1484.4 751.5 1484.5 735.7 1484.3 733.7 1484.1 727.8 1483.4 745.3 1483.3 736.6 1482.6 749.5 1482.1 756.4 1482.1 747.6 1481.6 753.9 1481.8 737.1 1480.9 756.2 1480.6 753.4 1480.9 737.9 1480.3 746.2 1479.9 747.3 1480.1 736 1479.5 742.9 1479.5 735.2 1479.4 732.1 1478.5 745.8 1478 749.3 1478.1 741.1 1477.8 740.4 1477.9 732.3 1476.9 746.6 1476.8 742.1 1476.5 743.4 1476.3 741.5 1476.7 728.1 1475.7 741.6 1475.5 739.3 1474.9 745 1474.9 738.6 1474 750 1474.4 738 1474.2 735 1473.8 737 1473.5 738.2 1472 756.9 1472.9 736.8 1472.1 745.7 1472.1 740.2 1471.8 740.1 1471.1 746.3 1470.8 746.2 1470.7 743.7 1470.7 738.6 1469.8 748 1470.2 738.6 1469.8 739.4 1469 746.8 1470 728.3 1469.1 737.4 1468.5 740.5 1468.7 734.8 1467.7 743.2 1468.4 730.3 1467 743.9 1466.3 749.6 1466.4 744.7 1466.9 735 1465.7 745 1465.5 744.3 1465.9 736 1465.2 741.1 1464.9 740.1 1463.7 750.6 1463.3 751.9 1463.8 743 1464.1 736.3 1462.8 747.5 1462.9 742.6 1463.4 734.5 1462.3 742.5 1461.3 749.7 1461.6 743.9 1460.5 751.4 1459.6 757.5 1459.5 755.7 1459.6 751.1 1459.5 749.1 1459.9 742 1460.6 732.5 1458.5 750.2 1460 733.2 1460.3 727.2 1458.8 738.8 1457.7 745.8 1458.8 732.9 1458.8 730.1 1456.9 745.1 1457.4 737.9 1455.5 751.4 1455.5 748.8 1456.4 738.6 1454.9 749.1 1457.2 726.8 1453.5 755.6 1455.8 733.6 1456.3 726.5 1455.1 734.1 1453.1 748 1454 738 1453.7 738 1454.2 731.8 1452.1 746.4 1453.3 734.2 1452.3 739.9 1452.9 732.7 1452.6 732.7 1450.1 749.8 1451.6 736.2 1451.1 737.6 1451.9 729.6 1451 733.8 1450.8 732.8 1450.6 732.7 1448.3 746.7 1449.3 737.2 1448.7 739.4 1447.4 746.7 1449.3 731.3 1446.5 748.5 1448.5 732.7 1447.6 736.5 1448.9 725.5 1444.2 755.6 1446.5 737.7 1445 746 1443.8 751.7 1446.6 731.4 1444.1 745.8 1443.5 747.5 1444.3 740.6 1441.8 754.8 1443.4 742.2 1441.1 755.1 1440.9 754.6 1441.9 745.8 1442.4 740.9 1441.3 746.1 1441.1 745.2 1442.9 732.4 1441 742 1443.1 727.6 1440.8 739.5 1441.7 732 1441.9 729.1 1440.8 733.9 1440.7 732.7 1437.9 747.7 1441.6 724.1 1437.7 745 1437.5 744.6 1436.8 746.7 1436.6 745.8 1436.3 745.6 1438.5 731.7 1435.6 746 1435.3 745.9 1434.7 747.7 1435.4 742.4 1433 753.7 1433 751.9 1433.1 749.8 1436.3 730.6 1435.3 734.4 1434.3 738 1433.6 740.2 1433.6 738.8 1433.1 739.7 1433.5 736 1434.4 729.7 1434.5 727.7 1432.5 736.2 1430.1 746.9 1431.2 739.7 1434 724 1432.3 731 1429.6 743.1 1427.8 750.7 1432.9 723.5 1431.8 727.7 1427.2 748.8 1431.6 725.6M1422.8 741.2 1425 729.7 1421.6 743.6 1419.6 751 1420 747.7 1423.2 732.5 1420.2 744.2 1421.5 737.3 1418.4 749.4 1421.3 735.1 1417.5 750.5 1418.7 743.6 1418.4 743.8 1417.1 747.8 1419.6 735.8 1416.3 748.5 1419.1 735.5 1416.8 743.8 1417.9 737.9 1421.5 721.9 1414.8 748.2 1415.7 742.8 1416.3 739.4 1415.4 741.6 1418.2 729 1412.8 749.4 1414.7 740.6 1412.2 749.2 1413.5 742.8 1411.9 747.9 1412.6 743.9 1411.4 747.5 1418.2 719.5 1414.3 733.4 1416.4 724 1411.3 742.8 1413.4 733.2 1409.5 747.2 1410 744.2 1414.8 724.4 1408.3 747.9 1410.7 737.5 1413.7 725.3 1412.9 727.1 1413.4 724.2 1408.7 740.5 1407.3 744.3 1408.9 737.3 1413 720.9 1412.8 720.8 1409.4 732 1407.4 738.1 1406.9 738.8 1408.4 732.4 1407.7 733.5 1408 731.3 1406.9 734.3 1404.8 740.6 1405.6 736.5 1404 741.1 1404.5 738.2 1403.3 741.5 1405.5 732.4 1404.8 733.9 1401.1 745.5 1406.4 726.2 1406.2 725.7 1407.6 719.9 1400.5 743.2 1401.2 739.6 1405.2 725.1 1400.2 740.7 1402.5 732 1398.2 745.3 1402.3 730.5 1403.5 725.6 1403.7 723.8 1402.1 728.1 1396.7 744.8 1405 716.4 1399.9 732.1 1404.8 715.3 1399.6 731 1396.8 739.2 1404.1 714.5 1401.4 722.2 1398 732.1 1399.8 725.3 1396.7 734.3 1393.4 743.9 1397.4 730.2 1393.9 740 1399.8 720.4 1401.6 713.9 1396.1 730.2 1394.1 735.5 1391.2 743.2 1390.9 743.1 1392.3 737.9 1392.6 736 1392.5 735.2 1396.6 721.8 1394.8 726.3 1389.5 741.5 1392.6 731 1394.8 723.5 1388.6 741.1 1389.4 737.7 1393.7 724.1 1393.1 724.8 1388.8 736.5 1387.3 740.1 1391.4 727.1 1387.5 737.4 1387.3 737.1 1388.1 733.8 1392.9 719 1387.6 733.5 1390.2 725.1 1387.8 730.8 1392.9 715.4 1384.7 738 1392.4 714.9 1384 738 1386.8 729.3 1386.7 728.4 1383.3 737.1 1384.9 731.9 1382.8 736.7 1381.7 738.9 1389.1 717.3 1388.5 718.2 1381.4 737.1 1389.6 713.4 1390.3 710.6 1380.5 736.8 1385 723.5 1381.8 731.4 1381.7 730.8 1383.3 725.5 1382 728.2 1383.8 722.3 1386.8 713.5 1387.2 711.5 1378.4 734.3 1386.5 711.7 1385.3 714 1376 737.9 1380.2 726 1376.4 735.1 1378 730 1383.5 714.6 1380.2 722.4 1383 714.3 1379.9 721.5 1375.7 731.8 1373.4 736.9 1378.7 722.2 1372.8 736.7 1372.5 736.5 1374.7 729.9 1383.3 707.3 1377.7 720.8 1378.4 718 1379.4 714.9 1382.1 707.2 1380.2 711.2 1381.5 707.1 1378.6 713.6 1373.1 726.4 1375.6 719.5 1374.3 722 1370.7 730 1377.8 711.7 1377.3 712.1 1368.1 734 1370.1 728.1 1376.3 712.2 1378.8 705.3 1369.9 726.1 1372.3 719.7 1374 714.7 1375.4 710.6 1371.3 719.7 1374.8 710.4 1376.2 706.5 1366.9 727.7 1370.8 717.6 1375.9 705 1366.2 727.1 1375.5 704.4 1366.6 724.5 1370.3 715 1373.2 707.7 1372.5 708.4 1364.6 726.1 1372 708.1 1372.3 706.7 1371.4 708.1 1364.3 723.7 1366.4 718.1 1370.2 708.7 1371.4 705.1 1370 707.6 1367 713.6 1365.2 717 1365.1 716.6 1365.4 715.2 1364.3 716.7 1364.5 715.6 1365.6 712.4 1364.6 714 1363.8 714.9 1360.8 721 1356.4 729.8 1356.4 729.2 1357.7 725.4 1355.6 729.4 1355.4 729 1367 703.1 1361.5 714.4 1363.3 709.6 1362.2 711.3 1358.6 718.3 1361 712.4 1363 707.5 1357.2 719.3 1356.5 720.1 1364 703.3 1352.1 727.8 1352.2 726.9 1360.4 708.9 1354.4 720.9 1357.6 713.4 1351.1 726.4 1351 725.7 1351.3 724.5 1351 724.4 1356.4 712.3 1351.8 721.2 1362.3 698.8 1359.9 703.1 1356.7 709 1354.1 713.7 1355.4 710.3 1360 700.1 1361 697.5 1350.1 719.1 1350.8 717 1348.4 721.1 1350.9 715.3 1347.2 722.2 1353.9 707.9 1345.3 724.5 1345.6 723.1 1347.1 719.6 1347.2 718.7 1351 710.4 1354 703.8 1355.3 700.5 1350.8 708.7 1350.2 709.3 1351.5 706.2 1353 702.4 1350.5 706.7 1345.2 716.3 1348.4 709.4 1344.5 716.5 1351.5 702.2 1348 708.2 1347.9 707.9 1353.3 696.7 1345.6 710.9 1345 711.4 1341.1 718.1 1351.5 697.7 1342.6 714 1343.8 711 1339.8 718 1339.2 718.4 1343 710.6 1347.8 700.9 1341.2 712.8 1347.2 700.8 1347.5 699.7 1337.7 717.2 1345 703.1 1349.5 694.1 1347.7 696.9 1344.4 702.3 1340.7 708.4 1345.8 698.5 1342.1 704.6 1341.1 705.9 1335.5 715.4 1342 703 1333.4 717.9 1347.8 691.2 1338.4 707.6 1341.8 700.8 1333 716.1 1342.9 697.7 1334.5 712 1341.8 698.3 1343.8 694.3 1334.7 709.8 1341.5 697.2 1336.1 706.1 1335.4 706.8 1332.4 711.4 1333.6 708.6 1332.9 709.3 1334.3 706.2 1333.8 706.3 1338.6 697.5 1328.4 714.6 1342 690.3 1339.3 694.6 1338.7 694.8 1339.5 692.9 1339.6 692.2 1334.1 701 1338 693.8 1332.6 702.4 1340.6 688.2 1332.8 700.9 1334.5 697.5 1337.1 692.4 1337.1 691.8 1334 696.6 1335 694.3 1331.5 699.5 1335.2 692.8 1337.1 688.9 1331.7 697.5 1328.8 701.6 1331.1 697.2 1334.8 690.6 1329.9 698.1 1335.4 688.4 1330.3 696.2 1330.6 695.3 1324.3 704.9 1325.9 701.8 1334.6 687 1329.4 694.9 1335.6 684.2 1328.7 694.9 1325.3 699.7 1327 696.5 1324.5 700 1332.8 686.1 1330.2 689.6 1327.5 693.4 1324.6 697.5 1330.6 687.3 1329.9 687.9 1320.3 702.6 1322 699.3 1319.2 703.2 1326.7 690.8 1331.1 683.4 1328.7 686.5 1321.9 696.7 1316.9 703.9 1324.8 691 1314.6 706.3 1320.8 696 1324 690.5 1323.2 691.2 1317.4 699.7 1323.5 689.7 1325.3 686.4 1316.9 698.8 1313.7 703.1 1324.6 685.9 1325.5 684 1317 696.3 1317.3 695.3 1327.4 679.6 1324 684 1326.5 679.8 1321.7 686.5 1320.4 688 1320.3 687.6 1311.8 699.7 1316.6 692 1321 684.8 1308.6 702.7 1322.4 681.8 1314.8 692.5 1321.9 681.5 1312.6 694.6 1315 690.6 1312.9 693.1 1313.3 692 1319.1 682.9 1323.6 675.9 1319.9 680.7 1316.1 685.7 1314.9 687 1316.8 683.6 1320.4 677.9 1321.5 675.9 1319.2 678.6 1317.5 680.6 1318.3 678.9 1313.6 685.2 1321.2 673.7 1320.4 674.5 1317.2 678.5 1313.2 683.6 1316.4 678.6 1315.9 678.8 1312.3 683.3 1314.6 679.6 1313.8 680.3 1316.9 675.3 1310.8 683.4M1300.9 687.6 1303.9 683.1 1314.3 668.7 1297.2 691.1 1295.6 692.6 1311.7 670.6 1306.8 676.7 1301.4 683.4 1294 692.7 1303.5 679.6 1296.3 688.6 1311.2 668.4 1294.6 689.8 1300.5 681.6 1306.5 673.2 1306.7 672.4 1294.9 687.3 1296.2 685.2 1310.5 666 1291.9 689.6 1295.7 684.3 1303.8 673.3 1297.4 681.1 1296.9 681.2 1299.8 677 1295.7 681.7 1296.1 680.8 1291.5 686.1 1299.1 676 1305.7 667.1 1292.8 683 1301.5 671.5 1289.9 685.6 1303.2 668.4 1293.8 679.8 1292.9 680.3 1306.7 662.6 1302.3 667.6 1302.1 667.3 1286.2 686.7 1290.3 681.1 1286.5 685.3 1295.8 673.3 1285.4 685.7 1301.1 665.8 1284.8 685.4 1288.3 680.6 1284.3 685.1 1290 677.6 1303.4 660.7 1283.5 684.5 1287.7 678.9 1299.7 663.9 1287.5 678.2 1289.7 675.1 1283.7 681.9 1289.7 674.1 1283.4 681.2 1297 664.3 1291.7 670.2 1285.3 677.5 1283.3 679.4 1284.9 676.9 1283.8 677.7 1289.2 670.9 1281.6 679.5 1288.7 670.5 1298.5 658.5 1284.2 674.9 1286.3 672 1295.7 660.4 1282.8 675 1280.7 677.1 1294.8 660.1 1284.8 671.4 1291.1 663.6 1284.7 670.5 1291.5 662.2 1286.1 668 1293.1 659.5 1288.9 663.9 1286.3 666.4 1282.8 669.9 1295.6 654.8 1290.5 660.2 1284.4 666.8 1285.8 664.7 1287.4 662.4 1292.9 655.7 1284.5 664.8 1293.6 654.1 1288.5 659.4 1282.6 665.6 1273.2 675.6 1287.5 659.2 1275 672.7 1282.3 664 1290.6 654.3 1288.8 656 1283 661.9 1278.2 666.8 1272.1 673 1283.8 659.7 1270.8 673.5 1280.5 662.5 1278.9 663.7 1278.3 664 1277 664.9 1274.2 667.5 1284.8 655.5 1288 651.6 1273.1 667.4 1288.4 650.3 1268.5 671.4 1274.9 664 1268.2 670.8 1288 649.1 1283.5 653.5 1276.9 660.1 1267.1 670.1 1280.4 655.5 1285.4 649.7 1283.7 651.1 1280 654.6 1275.6 658.8 1275.5 658.5 1271.3 662.4 1273.4 659.8 1281.6 650.7 1284.6 647.3 1268.1 664 1270.4 661.2 1264.3 667.1 1273.4 657.2 1269.8 660.5 1267.2 662.6 1274.1 655.2 1269.1 659.9 1274.9 653.4 1280.8 647 1269.2 658.4 1271 656.2 1273.8 652.9 1272.9 653.3 1276.9 648.8 1277.9 647.5 1270.2 654.8 1272.7 651.8 1270.4 653.7 1271.6 652.1 1279.7 643.6 1273.5 649.4 1275.5 646.9 1272.8 649.1 1270.1 651.5 1276.6 644.6 1280.5 640.3 1277.7 642.7 1267.5 652.3 1258.1 661.2 1262.6 656.3 1268.4 650.2 1263.8 654.3 1265.1 652.5 1273.1 644.3 1269.5 647.4 1264.8 651.6 1265.2 650.7 1274 641.8 1258.6 656.3 1266.5 648.2 1269.5 644.9 1272.8 641.3 1270.4 643.2 1266.5 646.5 1270.7 642.1 1275.1 637.5 1259.1 652.4 1275.7 636.2 1270.4 640.7 1266.5 644 1257.8 651.9 1272.9 637.2 1265.1 644.2 1271.8 637.4 1271.1 637.7 1257.9 649.7 1271.3 636.7 1268.9 638.6 1262.9 643.7 1263.6 642.6 1273 633.5 1262.2 643.1 1266.7 638.6 1258.4 645.8 1265.3 639.1 1260.8 642.8 1255.9 646.9 1269.6 633.9 1249.3 652 1252.2 649 1262.7 639 1267.3 634.5 1262.7 638.2 1252.5 647 1261.2 638.8 1260.4 639.1 1259 639.9 1252.9 645 1268.7 630.5 1267.8 630.8 1256.7 640.4 1265.3 632.3 1264.8 632.4 1256.6 639.2 1267.6 629.1 1269 627.5 1268.4 627.6 1252.7 641.1 1268.7 626.6 1246.4 645.8 1249.2 642.9 1244.6 646.5 1256.3 635.8 1245 645.4 1260.3 631.6 1244 645.4 1260.2 630.9 1250.5 638.9 1251.9 637.3 1247.5 640.6 1251.4 636.9 1258.6 630.3 1242.5 643.8 1243.5 642.4 1248.5 637.8 1242.3 642.7 1264.6 623.3 1247.5 637.4 1257.2 628.8 1250 634.5 1243 640 1259.1 626.1 1256.3 628 1246.6 635.8 1256.3 627.3 1253.8 629 1247.8 633.6 1258.2 624.6 1250.8 630.2 1256.9 624.9 1249.4 630.6 1256.2 624.7 1251.7 627.9 1259.1 621.5 1259.1 621.1 1240.3 636.1 1238.9 636.9 1261 618.4 1240.7 634.6 1254.5 623 1245.9 629.6 1258.1 619.4 1252.4 623.5 1248.7 626.2 1251 623.9 1256.6 619.1 1249.5 624.4 1242.1 629.9 1254.1 619.9 1257.3 617 1245.4 626.1 1251.9 620.6 1244.2 626.3 1242.7 627.1 1234.8 632.9 1246 623.6 1249.2 620.8 1239.4 628.1 1252.7 617.3 1253.9 616 1242.6 624.4 1243.5 623.4 1243.3 623.1 1241.3 624.3 1243.7 622 1245.4 620.4 1245.4 619.9 1254 613 1255.4 611.6 1244.8 619.3 1253.8 612 1243.2 619.8 1244.7 618.3 1242.6 619.4 1247.3 615.5 1249.4 613.6 1237.6 622.1 1234.5 624 1251.7 610.8 1240 619.2 1241.8 617.4 1248.7 611.9 1248.2 611.9 1241.7 616.3 1247.4 611.7 1245.9 612.5 1249 609.8M1236.4 612.3 1249.2 602.9 1232 614.7 1244.9 605.2 1232.2 613.8 1229.5 615.4 1233.9 611.9 1243.6 604.7 1227.9 615.4 1222.6 618.7 1231.1 612.4 1226.3 615.4 1222.1 617.9 1224.2 616 1221.7 617.4 1224.2 615.3 1221.6 616.7 1230.5 610.2 1241.8 602.1 1224.5 613.6 1220.6 615.8 1240.4 601.9 1225.4 611.8 1229.3 608.7 1227.7 609.5 1222.5 612.6 1245.5 596.7 1241.4 599.2 1226.8 608.6 1226.6 608.4 1238.4 600.1 1233.8 602.8 1230.7 604.5 1233.4 602.4 1233.1 602.2 1227.1 605.8 1217.8 611.6 1223.8 607.2 1228.6 603.8 1232.3 600.9 1230.9 601.5 1240.3 595 1225.2 604.5 1220.8 607 1220.6 606.7 1219.3 607.2 1228.7 600.7 1242.2 591.7 1236.2 595.2 1219.6 605.5 1230.6 598.1 1236.9 593.7 1221.1 603.5 1225.3 600.4 1216.7 605.5 1228.5 597.7 1232.9 594.5 1236.8 591.7 1235.6 592.1 1220.1 601.6 1216.8 603.2 1217.2 602.6 1234.2 591.6 1233.7 591.6 1214.7 603 1231.4 592.3 1214.8 602.3 1239.3 586.7 1226 594.6 1214.7 601.2 1229.4 591.8 1220 597.2 1236.4 586.8 1218.8 597.2 1222 594.9 1224.2 593.3 1218.5 596.3 1230.1 589 1224.4 592.1 1216.1 596.7 1210.4 599.8 1235.8 584.2 1230 587.3 1209.9 599 1228.4 587.5 1223 590.5 1228.2 587 1217.9 592.7 1218.3 592.2 1228.5 585.8 1222.5 589 1216.4 592.2 1214.8 592.8 1234.5 580.9 1209.7 595 1231.5 582 1220.9 587.8 1217.1 589.7 1223.3 585.7 1233.5 579.5 1229.8 581.3 1233.5 578.9 1231.8 579.5 1217.7 587.2 1213.6 589.2 1218.6 586 1218.1 585.9 1212.9 588.5 1207.6 591.2 1214.5 586.9 1219.5 583.7 1214.1 586.4 1214.8 585.7 1228.8 577.5 1214.5 585.2 1230.1 576.1 1213.6 585 1216 583.3 1229.8 575.3 1217.6 581.7 1219.7 580.2 1228.9 574.8 1231.4 573.1 1214.5 582 1208 585.2 1220.2 578.2 1221.9 577 1210.4 582.9 1225.2 574.5 1214.9 579.7 1222.1 575.5 1214.3 579.3 1220.9 575.5 1204.6 583.8 1220.1 575.2 1222.9 573.4 1210 579.9 1205.9 581.7 1224.3 571.7 1202.6 582.8 1201.7 582.9 1206.8 579.9 1219.6 572.8 1228.3 567.9 1226.9 568.3 1219 572.1 1218.8 571.9 1226.2 567.7 1226 567.5 1219.3 570.6 1211.4 574.4 1217.9 570.7 1214.6 572 1206.7 575.7 1211 573.2 1220.1 568.2 1212.7 571.6 1212.6 571.4 1221.8 566.4 1221 566.5 1207.8 572.8 1217.9 567.4 1210.1 570.9 1204.3 573.5 1222.2 564.2 1204.1 572.9 1205.5 571.8 1201.3 573.6 1221.2 563.4 1208.4 569.4 1221 562.9 1203.6 571 1204.3 570.4 1206 569.2 1204.5 569.6 1204.9 569.1 1218.6 562.1 1219.5 561.3 1213.5 563.9 1211.8 564.4 1221.5 559.4 1205.9 566.5 1206.3 566 1219.3 559.5 1216.6 560.4 1203.5 566.3 1217.9 559.2 1219.2 558.3 1195.5 569 1216.7 558.8 1208 562.5 1207.7 562.3 1198.2 566.4 1213.7 558.9 1215.9 557.5 1215.3 557.5 1210.1 559.5 1213 557.9 1206.1 560.7 1201.7 562.4 1210.1 558.3 1201.9 561.6 1212.2 556.6 1206.7 558.8 1207.8 558 1220.7 551.9 1204.9 558.6 1204.7 558.4 1198.9 560.6 1195.7 561.7 1195.9 561.3 1199.4 559.4 1196.5 560.3 1196.1 560.1 1205.1 555.9 1203.9 556.1 1205.1 555.2 1194 559.7 1203.3 555.3 1207.9 553 1200.1 556.1 1213.2 550.1 1201.8 554.7 1205.4 552.8 1210.2 550.4 1192.5 557.6 1216.6 547.1 1215.1 547.4 1213.7 547.6 1203.1 551.8 1197.6 553.8 1207 549.5 1203.5 550.7 1210.8 547.3 1208.3 548 1212.6 545.9 1198.6 551.4 1195.2 552.4 1193.4 552.8 1200 549.8 1210 545.4 1196.9 550.4 1194.5 551 1206.1 546 1211.1 543.7 1211.4 543.2 1199.8 547.6 1213.8 541.7 1202.7 545.8 1201.9 545.8 1192.5 549.2 1203.6 544.5 1202.4 544.6 1211.4 540.8 1197.4 545.9 1197.6 545.5 1200.4 544.1 1202.6 542.9 1195.3 545.4 1192.3 546.3 1200.8 542.7 1213.3 537.5 1212 537.7 1205.7 539.8 1196.3 543.1 1206.4 538.9 1203.3 539.8 1198 541.5 1204.9 538.5 1210.7 536 1198.3 540.4 1199 539.8 1186.5 544.1 1203.5 537.5 1187.7 543 1188.3 542.5 1191.5 541 1192.9 540.1 1203.1 536 1197.9 537.6 1186.6 541.4 1186.2 541.2 1204.2 534.4 1185.4 540.8 1201.6 534.7 1191.6 537.9 1190 538.2 1205.2 532.5 1190.5 537.4 1211.7 529.5 1207.3 530.8 1200.9 532.7 1197.4 533.6 1208.7 529.4 1200 532.1 1201.9 531.1 1200.2 531.4 1199 531.5 1198.2 531.5 1203.1 529.4 1206.6 527.9 1192 532.6 1195.8 531 1190.5 532.5 1198.5 529.4 1198.8 529.1 1209 525.3 1199.1 528.3 1192.7 530.1 1198.3 527.9 1205.1 525.4M1186.7 525.6 1196.1 522.4 1188.8 524.3 1190.8 523.4 1180.6 526.2 1199.9 519.9 1197.3 520.4 1183.7 524.2 1192.6 521.2 1188.6 522.1 1194.3 520.1 1181.5 523.6 1186.2 521.9 1183.5 522.4 1207.1 515 1202.7 516 1180.3 522.3 1182.7 521.3 1180.7 521.6 1176.5 522.5 1198.7 515.7 1180.4 520.7 1180.1 520.4 1205.7 512.7 1180.4 519.7 1190.7 516.4 1205.3 512 1199.2 513.4 1180.5 518.4 1179.1 518.4 1201.2 511.9 1189.9 514.8 1188.4 514.9 1178.3 517.4 1197.8 511.7 1188.8 513.8 1202.1 509.9 1191.1 512.6 1191.1 512.3 1184.8 513.7 1183.9 513.6 1184.4 513.1 1190.5 511.2 1197.5 509 1186.7 511.6 1183.5 512.1 1194.5 508.9 1202.8 506.4 1182 511.5 1185.1 510.4 1195.4 507.4 1192.3 507.9 1194.4 507 1187.7 508.5 1175.4 511.3 1181.3 509.5 1176.3 510.4 1199 504.4 1180.2 508.8 1187.4 506.7 1203.8 502.3 1179.2 508.1 1184.4 506.5 1203.5 501.5 1191.4 504.1 1195.6 502.8 1188.7 504.2 1191.7 503.1 1186.8 504 1177.3 506 1190.1 502.6 1200.4 499.8 1177 505.1 1181.1 503.8 1182.2 503.2 1180 503.4 1180.1 503.1 1183.2 502 1183.8 501.6 1193.4 499.1 1186.6 500.3 1178.9 501.8 1181.3 500.9 1177.7 501.4 1177.2 501.2 1192.6 497.4 1185.6 498.7 1178.6 499.9 1196.1 495.7 1194.6 495.8 1183.8 497.8 1196.5 494.8 1189 496.1 1184.3 496.8 1185.7 496.2 1185.5 495.9 1195.6 493.5 1200.8 492.1 1185.8 494.9 1198.3 492 1198.6 491.6 1183.7 494.4 1182.3 494.4 1192.2 492.1 1191.5 491.9 1178.3 494.3 1189.9 491.6 1198.9 489.5 1193.8 490.2 1178.1 493.1 1182.3 491.9 1177.7 492.5 1173.5 493 1176.2 492.2 1179.5 491.2 1188.7 489.1 1187.2 489.1 1196.5 487 1180.6 489.8 1183.3 488.9 1184 488.5 1188.9 487.3 1190.7 486.6 1197.4 485.1 1175.6 488.8 1173.7 488.9 1192.5 485.1 1176.2 487.8 1187 485.5 1177.7 486.9 1184.2 485.4 1199 482.5 1175.9 486.3 1199.4 481.8 1171 486.5 1195.8 481.9 1180.3 484.2 1186.5 482.9 1179.3 483.8 1181.9 483 1190.2 481.3 1183.8 482.1 1182.9 482 1189.2 480.6 1197 479 1178.2 481.8 1174.5 482.1 1173.5 481.9 1179.2 480.7 1168.1 482.2 1170.2 481.5 1180.8 479.5 1187.5 478.2 1187.2 477.9 1189.7 477.2 1181.2 478.2 1180.5 478 1179.2 477.9 1179.4 477.6 1175.8 477.8 1171.5 478.1 1185.5 475.8 1174.1 477.1 1177.8 476.3 1185 474.9 1173.6 476.3 1174.7 475.8 1188.5 473.5 1180.6 474.3 1167 475.9 1186.5 472.9 1189.3 472.2 1166.8 475 1193.4 471.1 1174 473.4 1187.6 471.3 1177.4 472.3 1183.2 471.2 1180 471.4 1177.4 471.4 1182.3 470.4 1176.5 470.9 1192.7 468.5 1177.3 470.2 1173.5 470.3 1191.7 467.8 1191.3 467.5 1187.3 467.7 1194.5 466.5 1192.4 466.5 1185.5 467 1186 466.7 1183.3 466.7 1195.8 464.9 1178.6 466.6 1190.7 464.9 1180.1 465.8 1176.1 466 1182 465 1193.7 463.4 1171 465.6 1173.9 465 1189.6 463 1178 463.9 1187.4 462.6 1191.8 461.9 1180.8 462.7 1169 463.6 1176.4 462.6 1172.2 462.7 1191 460.5 1175.2 461.8 1178.2 461.2 1191.5 459.6 1183.4 460.1 1188.4 459.3 1165.2 461.2 1170.9 460.3 1173.6 459.8 1177.2 459.1 1190.5 457.6 1180.3 458.2 1180.7 457.9 1182.7 457.4 1169.9 458.2 1181.5 456.9 1181.5 456.6 1165.6 457.6 1173 456.7 1187 455.3 1183.7 455.2 1188.6 454.5 1174.1 455.4 1192 453.7 1189.5 453.6 1180.1 454 1174.1 454.1 1190.6 452.6 1191.2 452.3 1194.8 451.7 1187 452 1172.4 452.7 1176.8 452.1 1183.7 451.3 1179.9 451.3 1181.2 450.9 1193.9 449.8 1179.1 450.4 1186.8 449.7 1177.1 450 1185.1 449.2 1176.2 449.4 1169.2 449.5 1180.9 448.5 1165.3 449.1 1169.7 448.5 1170.1 448.2 1179 447.4 1194.2 446.3 1177.4 446.9 1173 446.8 1168.3 446.7 1189.3 445.4 1173.6 445.9 1173 445.6 1191.6 444.4 1184.4 444.4 1177.2 444.5 1181.9 444 1191.4 443.3 1175.9 443.6 1187.7 442.8 1193.8 442.3 1193.4 442 1188.9 441.9 1179.8 441.9 1186 441.4 1184.5 441.2 1177.6 441.1 1177.4 440.8 1178.2 440.5 1172.7 440.3 1179.6 439.8 1188.5 439.3 1180.7 439.2 1169.3 439.2 1172.9 438.8 1167.5 438.6 1172.8 438.2 1173.2 437.9 1170 437.6 1179.1 437.1 1190.6 436.6 1191.5 436.3 1177 436.3 1185.8 435.8 1179.8 435.6 1189.4 435.2 1175.2 435.1 1173.1 434.8 1178.9 434.4 1180.7 434.1 1171.8 433.9 1174.2 433.6 1177.2 433.2 1186.7 432.8 1178.5 432.6 1178.2 432.3 1191.4 431.9 1175.6 431.7 1177.3 431.4 1183.4 431.1 1183.3 430.8 1188.3 430.5 1185.3 430.2 1183.7 429.9 1180 429.6 1189.3 429.3 1186.4 429 1176.3 428.7 1176.2 428.4 1179.1 428.1 1170.3 427.7 1187.3 427.5 1190.8 427.3 1188.5 427 1194.6 426.8 1181.5 426.3 1175.5 425.9 1180.1 425.7 1188.9 425.5 1176.5 425 1178.9 424.7 1172 424.3 1181.9 424.2 1171 423.7 1191.6 423.8 1187.2 423.4 1178.2 422.9 1187.2 422.8 1192.3 422.7 1177.7 422 1188 422M1177.7 416.2 1193.7 416.6 1194.3 416.4 1193.2 416 1164.8 414.4 1190.4 415.3 1178.9 414.4 1184.6 414.4 1178.2 413.8 1195.3 414.4 1193.4 414 1186.3 413.3 1172.1 412.2 1169.1 411.7 1172 411.6 1182.8 411.9 1181.1 411.5 1188.3 411.7 1187.1 411.3 1179.8 410.6 1189.7 410.9 1179.8 409.9 1180.6 409.7 1171.8 408.8 1176 408.8 1183.2 409 1183.3 408.7 1187.5 408.7 1180 407.8 1185.4 407.9 1187.2 407.8 1186.2 407.4 1188.4 407.3 1189.5 407.1 1188.6 406.7 1184 406 1188.4 406.1 1191.2 406 1186.9 405.4 1180.2 404.5 1193.4 405.3 1180.6 404 1183.1 403.9 1188.7 404.1 1179.4 402.9 1194.9 404 1190.9 403.4 1176.2 401.7 1182.8 402 1167 400.3 1183.7 401.5 1189.3 401.8 1172.1 399.8 1165.6 398.9 1181.6 400.1 1184.7 400.1 1192.3 400.6 1188.1 399.9 1178 398.5 1183.2 398.8 1196 399.8 1193.3 399.2 1191.8 398.8 1182.1 397.4 1185.1 397.5 1193.2 398 1192.2 397.6 1190 397.1 1177.7 395.4 1180 395.4 1178.4 394.9 1180.4 394.8 1190.5 395.7 1182.1 394.4 1176.9 393.5 1179.4 393.5 1169.5 392 1183.5 393.4 1190.9 394 1184.1 392.8 1180.9 392.2 1179.5 391.7 1193.2 393.1 1183.2 391.5 1180.7 390.9 1170.6 389.3 1175.5 389.6 1172.3 388.9 1172.9 388.7 1186.4 390.1 1186 389.8 1193.8 390.5 1177.3 388 1178.4 387.8 1183.4 388.2 1176.5 387 1189.1 388.4 1177.8 386.5 1180.7 386.6 1184.6 386.9 1180.6 386 1179.2 385.5 1188.2 386.5 1182.9 385.4 1196.8 387.2 1178.6 384.2 1179.1 383.9 1181.9 384 1174.4 382.6 1181.3 383.3 1184.6 383.5 1176.6 382 1183.9 382.8 1173.8 381 1185.8 382.5 1173.7 380.3 1183.4 381.5 1174.5 379.8 1177.2 379.9 1175.9 379.4 1185.8 380.7 1182.5 379.9 1183.2 379.7 1179.7 378.8 1177.8 378.2 1174.2 377.2 1188 379.3 1187.4 378.9 1172.4 376 1187.9 378.3 1184.2 377.4 1189.5 378 1180.3 376.1 1175.6 375 1188.3 376.9 1186.2 376.2 1195.3 377.5 1193 376.8 1171.5 372.6 1189.9 375.7 1186.4 374.7 1180.7 373.4 1175.8 372.2 1193.2 375.1 1180.3 372.4 1177.1 371.5 1191.3 373.8 1189.2 373.1 1197.6 374.4 1199.4 374.5 1189.1 372.2 1180.8 370.3 1196.4 373 1178.4 369.2 1187.8 370.7 1173.5 367.6 1181.5 368.9 1197.4 371.7 1175.1 367 1192.6 370.2 1191.1 369.6 1177.5 366.5 1191.8 369.1 1176.6 365.7 1189 367.9 1176.9 365.1 1185.7 366.6 1193.3 367.9 1173.1 363.4 1189.4 366.5 1196 367.6 1187.1 365.4 1185.1 364.6 1192.4 365.9 1171.2 361 1189.6 364.7 1193 365.1 1181 362.2 1186.4 363.1 1196.4 365 1178 360.6 1179.3 360.6 1185.8 361.7 1198.5 364.2 1181.9 360.2 1195.1 362.9 1202 364.2 1177.5 358.3 1182.2 359 1192.3 361 1195.9 361.6 1172 355.7 1172 355.4 1173.9 355.5 1173.2 355 1174.8 355 1188.3 357.9 1179.7 355.6 1190.6 357.9 1186.2 356.5 1187.6 356.5 1189.2 356.6 1186.6 355.7 1198.3 358.2 1180.4 353.5 1177.8 352.5 1184.1 353.8 1202.1 358 1186.8 353.8 1193.1 355.1 1188.4 353.6 1184.8 352.4 1194.6 354.6 1189.8 353 1189.7 352.7 1197.9 354.5 1194.7 353.4 1192.8 352.6 1193.9 352.5 1200 353.8 1201.9 354 1199.7 353.2 1203.1 353.8 1191 350.3 1185.5 348.5 1202.8 352.8 1187.3 348.3 1197.2 350.7 1200.7 351.3 1178.7 345 1179.5 344.9 1197.3 349.5 1191 347.4 1188.7 346.5 1196.4 348.3 1188.7 345.9 1187.7 345.3 1185 344.2 1204.6 349.4 1198.7 347.4 1201.9 348 1205.8 348.8 1187.4 343.3 1203.1 347.5 1187.5 342.7 1200.6 346.1 1185.2 341.4 1206.3 347.2 1203.7 346.1 1192.9 342.7 1183.2 339.5 1185.7 339.9 1189.5 340.7 1203.4 344.5 1205.2 344.8 1195.3 341.5 1182.3 337.3 1193.9 340.4 1194.7 340.4 1198.1 341.1 1188.9 338 1184.5 336.3 1189 337.4 1193.5 338.4 1207 342.3 1207.5 342.2 1191.6 336.9 1197.9 338.6 1204.9 340.4 1188 334.8 1182.1 332.6 1193.5 335.9 1195.1 336.1 1193.6 335.3 1181.1 331 1182.8 331.2 1200.7 336.6 1206.1 338.1 1197.6 335 1189.3 332 1198.5 334.7 1188.1 331 1186.3 330.1 1194.8 332.5 1183.1 328.4 1201 333.9 1181.4 327.1M1192.5 324.9 1204.8 329 1191.8 324.1 1207.2 329.2 1208 329.2 1188.7 322 1185.6 320.5 1192 322.5 1199.9 325 1200 324.7 1208 327.3 1200.3 324.2 1202.6 324.7 1190.5 320 1184.1 317.3 1186.5 317.9 1192.6 319.8 1205.5 324.2 1187.1 317.1 1185 316 1186.1 316 1188.1 316.5 1206 322.9 1205.9 322.5 1214.2 325.3 1196.1 318.2 1197.5 318.3 1196.9 317.8 1196.7 317.4 1211 322.6 1210.1 321.9 1201.5 318.3 1198.2 316.7 1205.5 319.2 1204.2 318.4 1194.1 314.1 1188.5 311.6 1197.3 314.7 1215.2 321.4 1206.8 317.8 1190.1 310.8 1198.9 314 1205.1 316.1 1190.4 310 1193.3 310.8 1188.3 308.4 1196.9 311.6 1202.7 313.6 1189.3 307.8 1196.4 310.4 1195.8 309.8 1197.7 310.2 1196.1 309.3 1188.9 305.9 1198.4 309.5 1207.4 312.9 1192.6 306.5 1201.4 309.8 1207.3 311.9 1195 306.5 1209.5 312.2 1214.3 313.9 1213.2 313.1 1207.9 310.5 1195 304.8 1195.4 304.6 1207.3 309.3 1191.6 302.3 1189.8 301.2 1199 304.8 1199.3 304.6 1211.6 309.6 1196.7 302.8 1203.7 305.5 1205.6 306 1210.5 307.8 1218.5 311 1208.1 306.1 1211.6 307.3 1209.4 306 1211.3 306.5 1208.8 305.1 1202.2 301.9 1197.9 299.6 1218 308.2 1207 303 1213.6 305.6 1193.1 296.1 1192.3 295.4 1199.4 298.3 1209.2 302.4 1197.2 296.5 1207.7 301 1206.8 300.3 1195.8 294.9 1216.2 303.9 1194.8 293.8 1193.5 292.8 1202.4 296.6 1204.1 297 1194.1 292 1221.2 304.3 1205.4 296.6 1221.9 304 1216.9 301.3 1208.3 297 1222.8 303.5 1216.2 300 1205.1 294.5 1206.8 294.9 1210.8 296.5 1222.3 301.6 1214.5 297.6 1209.8 295 1205.3 292.5 1205 292 1204.1 291.2 1205.4 291.5 1200.6 288.9 1212.8 294.5 1203.9 289.8 1197.9 286.5 1213.2 293.6 1201.9 287.8 1214.4 293.6 1218.6 295.3 1225.4 298.3 1217.4 294.1 1223.4 296.7 1212.9 291.1 1206.5 287.6 1224.7 296.4 1201.4 284.4 1205.8 286.2 1213.4 289.7 1219 292.2 1208 286.3 1211.4 287.7 1207.2 285.2 1226.6 294.8 1213 287.5 1214.5 287.9 1209 284.8 1207.8 283.8 1206.7 282.9 1207.1 282.7 1214.6 286.3 1204.6 280.7 1209.6 283 1222.6 289.5 1212.2 283.6 1213.2 283.8 1219.8 287 1224.4 289.1 1215.6 284.1 1212.6 282.2 1216.7 284 1213.7 282 1214.7 282.2 1207.6 278.1 1217.7 283.1 1223.6 286 1228 288 1212.4 279.3 1212.6 279 1210.4 277.5 1207.6 275.6 1209.2 276.2 1228.4 286.3 1219.9 281.3 1205.9 273.2 1211.5 276 1225.6 283.4 1214.3 276.8 1211.3 274.8 1222.3 280.6 1220.9 279.5 1221.6 279.5 1217.8 277 1214.4 274.8 1231.9 284.3 1222.1 278.4 1227.2 280.9 1209.4 270.5 1219 275.6 1219.1 275.3 1208.6 269 1226.1 278.7 1230.5 280.8 1223.3 276.3 1216.8 272.3 1222.9 275.4 1225.2 276.4 1226.8 277 1226.3 276.4 1230.7 278.6 1227.6 276.5 1230.5 277.8 1226.6 275.2 1231.5 277.7 1234.3 279 1228.4 275.2 1227.6 274.4 1222.5 271 1215.1 266.3 1216.3 266.6 1226.1 272.1 1224.5 270.8 1233.3 275.7 1216.9 265.6 1213.8 263.3 1212.9 262.4 1222.3 267.7 1213.6 262.1 1225 268.6 1220.7 265.7 1230.1 271 1226.6 268.6 1233.1 272.2 1223.2 265.8 1228 268.4 1231.6 270.3 1216.6 260.6 1233.3 270.6 1220 262 1229.1 267.3 1227.1 265.7 1225 264 1238.3 272 1234.7 269.4 1221.9 261 1223.4 261.6 1222.8 260.9 1225.2 262 1233.7 267.1 1231.5 265.3 1240.4 270.6 1221.8 258.4 1226.9 261.3 1230.8 263.5 1225.7 259.9 1240.7 269.1 1236.3 265.9 1233.3 263.7 1230.4 261.4 1224.9 257.5 1238.9 266.2 1219.6 253.3 1230 259.7 1242.6 267.6 1221.6 253.5 1221.5 253.1 1222.4 253.3 1226.1 255.4 1217.7 249.4 1227.1 255.2 1222.6 251.9 1222.1 251.2 1226.7 253.9 1220.2 249.2 1225 252 1231.1 255.7 1244.3 264.2 1222.3 249.1 1236.1 258 1234.1 256.3 1238.2 258.7 1228.9 252.1 1245.3 262.8 1232.5 253.8 1230.6 252.1 1238.4 257.1 1246.5 262.2 1232.5 252.3 1228.9 249.4 1232.3 251.4 1229.9 249.4 1234 251.8 1245 259.1 1231.3 249.2 1233.5 250.4 1244.3 257.6 1241.1 255 1243.9 256.5 1235.7 250.5 1244.2 256.1 1227.8 244.1 1240.9 253.1 1230.5 245.3 1235.6 248.5 1241.8 252.6 1235.4 247.7 1234.2 246.4 1236 247.3 1237.3 247.9 1236.4 246.9 1229.1 241.3 1242.8 250.8 1242.8 250.4 1238.9 247.2 1234.9 243.9 1244.2 250.3 1238.8 246 1244.5 249.8 1234.9 242.4 1237.4 243.8 1247.4 250.8 1239.6 244.7 1247.6 250.2 1229.8 236.7 1243 246.1 1239.9 243.4 1245.2 247 1250.6 250.7 1238.5 241.2 1240.4 242.3 1236.3 238.8 1240.3 241.4 1242.8 243 1254.3 251.3 1243 242.4 1254.3 250.6 1249.6 246.7 1245.6 243.2 1254.3 249.5 1242.5 240.1 1241.2 238.7 1236.7 234.9 1237.4 235 1251.1 245.2 1243.6 239 1241.6 237.1 1243.7 238.3 1242.4 237 1245.6 239.1 1239.9 234.3 1240.6 234.4 1246.4 238.6 1248.9 240.2 1246.6 238 1248 238.7 1254.4 243.3 1248.4 238.2 1244.8 235 1255.8 243.3 1248.6 237.2 1243.9 233.1 1255.7 242.1 1240.4 229.5 1236.2 225.7 1241 229.3 1242.2 229.8 1243.5 230.4 1245.7 231.8 1244.4 230.4 1255.5 239 1242.9 228.4 1244.1 228.9 1261.1 242.4 1245.7 229.4 1245.9 229.2 1247.8 230.4 1249 231 1254.4 235 1254.7 234.9 1256.4 235.9 1250.9 231 1256.9 235.6 1262.5 239.8 1261.8 238.9 1251.6 230 1253.1 230.9 1258.6 235.1 1252 229.2 1248.8 226 1245.1 222.6 1254.9 230.4 1255.7 230.7 1256.1 230.6 1249.3 224.5 1257.9 231.4 1264 236.2 1255.7 228.7 1253.2 226.2 1264.3 235.3 1250.7 223.2 1248.7 221.2 1254.2 225.5 1251.8 223 1265.1 234.1 1261.3 230.4 1254.3 223.9 1259.2 227.8 1256.1 224.7 1259.5 227.3 1257.1 224.8 1263.6 230.1 1264.8 230.7 1265 230.5 1256.3 222.4 1255.3 221.2 1266.5 230.7 1258.7 223.4 1268.2 231.4 1269.2 232 1268.5 230.9 1253.2 216.9 1252.5 215.8 1249.1 212.3 1256.8 218.8 1265.7 226.4 1259.5 220.5 1253.4 214.5 1255.6 216.2 1271.9 230.5 1257.8 217.3 1266.5 224.8 1263.5 221.7 1258.7 216.9 1272.3 228.9 1257.8 215.2 1270.3 226.3 1256.6 213.3 1272.1 227.2 1256.8 212.6 1265.4 220.2 1262.6 217.2 1263.6 217.6 1272.8 225.9 1271.3 224.1 1269.4 221.8 1270.5 222.5 1255.2 207.7 1265.6 217.1 1265.6 216.7 1264.8 215.5 1265.2 215.5 1262.3 212.3 1259.7 209.4 1264.5 213.5 1263.3 212 1264.1 212.3 1262.9 210.8 1268.4 215.6 1275.2 221.7M1273.5 212.7 1259.9 198.7 1271.7 210 1263 200.9 1260.9 198.3 1275.7 212.8 1266 202.5 1270.4 206.6 1264.3 199.9 1270 205.3 1282.3 217.3 1276.8 211.3 1263.7 197.5 1272 205.6 1274.6 207.9 1282.9 215.9 1265.4 197.5 1265.2 196.9 1269.4 200.7 1276.7 207.9 1266.6 197 1278.7 209.1 1275.4 205.2 1268 197.1 1281.9 211.1 1272.5 200.9 1274.8 202.8 1273.8 201.4 1285.5 213.2 1286.7 214.1 1275.5 201.8 1271.1 196.7 1271.7 196.9 1284.3 209.8 1280.4 205.2 1269.4 193.1 1269.6 192.9 1272.6 195.5 1275.8 198.5 1276.4 198.8 1274.1 195.8 1275.8 197.2 1279.8 201.1 1279.1 199.9 1287.7 208.7 1283 203.2 1288.5 208.8 1281.5 200.7 1278.3 196.7 1288.4 207.4 1280.6 198.4 1279.9 197.2 1277 193.5 1289.1 206.4 1282.1 198.3 1289.8 206.3 1281.9 197.1 1277.7 192 1277.7 191.5 1277.2 190.5 1292.9 207.6 1285.1 198.4 1285.7 198.6 1274 185 1277.6 188.6 1281.2 192.2 1285.9 197 1278.2 187.9 1279.1 188.5 1288 198.1 1291.1 201.1 1275.6 183 1287.5 196.1 1291.8 200.7 1292.6 201.1 1287.9 195.3 1283.2 189.4 1288.7 195.3 1296.7 204.1 1282.8 187.5 1291.2 196.8 1294.4 200.1 1296.9 202.5 1285.5 188.7 1283.1 185.5 1298.6 203.2 1296.5 200.3 1281.8 182.5 1284 184.6 1286.2 186.7 1287.2 187.4 1288 187.9 1297.6 198.8 1283.6 181.7 1301.2 202.3 1299.1 199.3 1283.5 180.1 1290.9 188.5 1293.3 190.9 1288.1 184.2 1293.7 190.5 1293.8 190.1 1291.4 186.7 1285.1 178.6 1291.2 185.6 1292.1 186.2 1291.9 185.4 1296.2 190.2 1300.5 195 1297.1 190.4 1298.1 191.2 1285.9 175.6 1294.4 185.6 1299.2 191.1 1300.6 192.4 1295.7 185.8 1298.3 188.5 1301.3 191.8 1297.2 186.2 1306.3 197.2 1299.8 188.6 1301.3 190 1297.6 184.8 1295.9 182.2 1303.2 190.9 1302.6 189.7 1300.4 186.3 1297.6 182.3 1299.4 184.1 1298.1 182 1309.4 196 1300.7 184.3 1307.4 192.5 1300.2 182.7 1301.2 183.5 1307.4 191.1 1302.1 183.7 1297.5 177.2 1299.4 179.1 1301.2 181.1 1298.8 177.4 1295.1 172.1 1298.3 175.8 1298.5 175.5 1300.8 177.9 1312.8 193.3 1296.9 171.8 1297.6 172.2 1301.1 176.4 1305.4 181.6 1300.5 174.6 1297.3 169.8 1298.3 170.6 1299.7 171.9 1301 173.1 1315.1 191.6 1305.8 178.6 1308.7 182.1 1308.8 181.6 1313 186.8 1315.1 189.2 1312 184.5 1310.3 181.8 1307.5 177.4 1316.5 189.1 1313.6 184.7 1312.5 182.8 1311.5 180.8 1315 185.2 1312.4 181.1 1315.3 184.6 1313.6 181.8 1315.5 183.8 1308.6 173.7 1308.1 172.4 1308.6 172.7 1308.7 172.2 1317.8 184.6 1311.9 175.7 1303.1 162.7 1318.6 184.2 1310.1 171.6 1319.2 184 1309.9 170.3 1320 184.2 1310 169.3 1318.8 181.4 1311.6 170.5 1316.8 177.5 1314.3 173.4 1308.6 164.5 1311.9 168.9 1320.6 180.9 1318.2 176.9 1320.9 180.4 1313.2 168.6 1320.3 178.4 1317.4 173.7 1317.4 173.1 1320.1 176.6 1322.8 180 1316.2 169.7 1312.6 163.9 1310.8 160.6 1313.1 163.5 1315.6 166.6 1318.6 170.6 1316.5 166.9 1326.8 181.9 1324.9 178.5 1320.5 171.3 1316.2 164.3 1316.7 164.5 1320.6 169.8 1321.8 171.1 1326.7 178 1322.9 171.7 1323.7 172.4 1319.8 165.8 1327.7 177.5 1321.6 167.4 1329.1 178.5 1327.8 176 1328.3 176.1 1316.4 157.2 1326.1 171.6 1316.6 156.3 1328.7 174.7 1328.4 173.7 1319.9 159.8 1323.3 164.6 1331.5 176.9 1328.8 172 1319.4 156.6 1327.6 169.1 1327.3 168.1 1329.8 171.5 1325.1 163.4 1332.5 174.7 1326.4 164.4 1331.3 171.6 1329 167.4 1325.5 161.2 1328.1 164.8 1330.4 167.9 1329.8 166.4 1333.1 171.2 1331.2 167.5 1327.9 161.6 1334.9 172.4 1330.3 164.3 1334.6 170.9 1331.4 165.1 1337.4 174.3 1332.6 165.8 1327.9 157.4 1327.8 156.6 1339.4 175.4 1335.2 168 1334.8 166.6 1329.4 157 1334.5 164.9 1337.2 169 1337.3 168.6 1330.7 156.7 1331.5 157.6 1326.1 147.6 1335.6 163.3 1337.5 165.9 1331 154.2 1341.8 172.1 1335 159.9 1338 164.5 1341 169.1 1341.1 168.7 1337.2 161.4 1342.1 169.3 1340.2 165.3 1340 164.3 1335 155.1 1338.1 159.9 1342.8 167.5 1340.8 163.5 1337.5 157 1338.3 157.8 1338.8 158.1 1344.5 167.5 1337.1 153.8 1340.6 159.4 1342.3 161.8 1340.5 158.1 1339.9 156.4 1338.9 153.9 1344.1 162.7 1337.9 150.8 1343.8 161 1338.2 150 1340.6 153.8 1334.8 142.5 1340.9 153.1 1338.4 147.8 1339.3 148.8 1345.1 158.8 1342.6 153.7 1344.1 155.9 1345.1 156.9 1347 160 1350.2 165.2 1349.2 162.8 1348.3 160.5 1348.7 160.6 1350.4 163.2 1342.1 146.8 1344.3 150.3 1347.8 156.3 1349.4 158.9 1344.7 149.3 1347.3 153.6 1347.2 152.7 1351.8 160.9 1353.1 162.8 1347.5 151.3 1350.5 156.5 1355.5 165.5 1353.5 161 1356.1 165.5 1351.3 155.4 1346.8 146 1351 153.4 1347.5 145.8 1356.8 163.6 1350.6 150.7 1349.5 147.8 1350 148.1 1351.6 150.6 1349 144.9 1353.2 152.5 1355.7 156.8 1355.8 156.4 1351.1 146.2 1357.6 158.6 1354.2 151.2 1354.4 150.8 1351.8 144.9 1353.3 147.3 1355.1 150.3 1355.5 150.4 1354 146.6 1361.4 161.3 1361 159.8 1357 150.8 1353.6 143.1 1355.8 146.9 1357.2 149.1 1360.5 155.3 1356.3 145.7 1359.6 151.9 1356.1 143.9 1357 145.2 1355.1 140.4 1365.3 161.4 1360.1 149.5 1362.7 154.5 1363.9 156.3 1356.6 140 1356.1 138.2 1358.8 143.3 1354.4 133 1362.9 150.6 1357.2 137.5 1355.4 133 1356.7 134.9 1355.4 131.5 1361.9 144.9 1356.3 131.9 1365.1 150.5 1360.9 140.5 1361.6 141.2 1357.2 130.7 1365 147.4 1361.7 139.3 1361.1 137.2 1359.9 133.7 1368.9 153.2 1362.8 138.7 1361.6 135.3 1361.4 134.1 1367.7 147.5 1368.2 147.9 1362.5 134.1 1368 146.1 1370 149.9 1370.1 149.4 1372.3 153.6 1363.8 133.2 1369.4 145.4 1370.7 147.7 1373.8 154.3 1365.9 135 1366 134.4 1375.3 155.5 1370.3 142.9 1373.1 148.8 1374.2 150.8 1367.7 134.4 1368.6 135.8 1368.9 135.6 1371.7 141.7 1371.5 140.4 1369.2 134.1 1368.7 132.1 1366.8 126.6 1371.8 137.9 1369.8 132.4 1369.4 130.5 1375.5 144.5 1377.6 148.9 1369.4 128.1 1376.9 145.8 1373 135.3M1381.4 141.7 1374.8 123.6 1383.7 146 1379.7 134.6 1378.2 129.8 1386.9 152 1376.2 122.8 1385.3 146 1386.2 147.7 1383.3 138.9 1385 142.8 1379.1 125.9 1388.3 150 1378.8 123.3 1385.6 141.1 1385.1 138.6 1380.2 124.4 1384.1 134.3 1382.4 128.7 1384.3 132.9 1390.1 148.2 1384.8 132.5 1385 132.2 1389.2 143.1 1381.6 120.8 1390.6 145.3 1385.2 129.2 1382.7 121 1382.8 120.4 1392.1 146.1 1389.8 138.6 1391.2 141.7 1384.9 122.5 1385.3 122.8 1390.4 136.6 1385.4 121.2 1388 127.7 1391.4 136.9 1392.6 139.5 1386.2 119.8 1393 138.7 1386.7 119.1 1389.2 125.7 1392.1 133.2 1394.8 140.4 1391.8 130.3 1394 136.2 1394.9 137.9 1396.2 140.9 1391.8 126.6 1399 147.6 1394.4 132.5 1396.4 137.5 1394.7 131.5 1394 128.5 1394.7 129.5 1398.2 139.5 1398.5 139.5 1397.5 135.2 1398.1 136.1 1396 128.6 1399.3 137.9 1394.5 121.9 1398.4 133.2 1397.8 130.3 1403 145.9 1395.3 120 1396.9 124.1 1398.2 127.4 1398.2 126.5 1404.5 145.7 1402.6 138.7 1397.5 121 1400.6 130 1400.9 130 1400.3 126.9 1402.1 131.8 1399.8 123.2 1405.9 142.3 1402.8 131.1 1401 123.8 1403.4 131.1 1405.8 138 1404 130.7 1405.9 136.2 1405.3 133.1 1405.9 134.1 1407.2 137.5 1401.7 117.5 1403.5 122.8 1404.3 124.2 1405.9 128.8 1405.7 127.1 1407.3 131.3 1405.8 125 1404.7 120 1407 127.2 1406.1 122.6 1406.1 121.5 1412.6 143.8 1412.6 142.9 1407.6 123.5 1408.6 126 1409.1 126.9 1406.5 115.9 1411.3 132.3 1410.1 126.9 1410.7 127.8 1408.1 117.1 1408.6 117.8 1412.1 129.6 1411.1 124.9 1412.1 127.5 1409.5 116.2 1410.4 118.5 1413 127.3 1415.2 134.4 1411.9 120.4 1413.6 125.8 1413.9 125.9 1411.1 113.8 1412.5 117.8 1414.4 124.2 1419 141.3 1413 116 1414 118.9 1415.4 123.1 1415.7 123.1 1415.5 120.9 1414.7 116.3 1415.4 118.1 1421.2 140.4 1416.6 120.5 1415.8 115.7 1415 110.9 1421 134.5 1420.5 131.5 1422.4 138.2 1421.3 132 1420 125.4 1423.1 137.1 1420.1 123 1423.2 135.1 1424.7 140.4 1420.3 119.8 1421.9 125.7 1420.8 119.4 1423.8 131.1 1426 139.5 1422.4 122.1 1424.1 128.4 1424.1 127.2 1426.1 134.9 1427.2 138.2 1423.4 119.8 1423.4 118.5 1424.4 121.6 1424.4 119.9 1422.5 109.7 1428.2 134.8 1425.2 119.3 1423.8 111.3 1429.2 135.2 1427.2 124.4 1425 112.4 1430.5 137.2 1425.6 112.3 1426.8 116.6 1428.3 122 1428.4 121.1 1428.2 118.5 1431.3 132.6 1430.8 128.5 1430.1 123.3 1429.1 116.8 1429.3 116.6 1428.6 111.3 1428.7 110.1 1434.1 135.9 1431.3 120.1 1431 117.1 1430.9 114.9 1433.8 128.5 1432.7 121 1431.9 115.2 1436.5 137.8 1432.5 115 1434.7 124.9 1435.1 125.7 1433.7 116.4 1437.6 135.9 1435.5 122.7 1434.5 115.7 1435.2 117.9 1436.2 121.7 1437.6 127.8 1437.3 124.2 1436.5 117.9 1438.9 129.9 1436.7 115.4 1437.7 119.6 1438.4 121.9 1440.9 134.4 1439 121.6 1439.3 121.6 1437 106.4 1442.5 136.9 1441 126.5 1440.4 121.2 1442.8 133.7 1442.8 131.7 1443.9 136.5 1442 123.4 1440.6 112.8 1440 107.1 1442 117.6 1443.7 126.5 1443.2 121.3 1443.7 122.6 1442.9 115.5 1444.2 121.9 1445.1 125.6 1446.5 133 1447.2 135.2 1446.5 129 1444.3 112.3 1446.9 127.5 1446.9 125.5 1446.7 122 1448.7 133.8 1446.8 118.6 1446 110.8 1446.5 112.4 1446.2 107.8 1450.5 136.1 1449.3 125.8 1447.3 109.1 1448.5 115.5 1451.3 134.1 1448.7 112.8 1449.2 113.8 1452 132.2 1452.6 135 1452.9 135.1 1450.3 112.8 1451.3 118.1 1452.1 121.6 1453.3 128.9 1452 116 1452.7 119.9 1454.8 134.1 1455.2 134.3 1453.8 121.1 1455.2 129.9 1454.5 121.6 1454.3 117.3 1454.6 117.2 1455.8 124.7 1457.1 133.6 1457.1 131.3 1457.7 133.8 1457.7 131.3 1457.8 129.4 1457.9 127.5 1457.9 125.3 1458.7 129.6 1458.2 122.8 1458.8 125.2 1459.1 125.7 1459.3 124.5 1459.8 126.2 1459.1 117.2 1461 132.5 1460.1 120.1 1461 126 1461 123.6 1460.4 114.6 1462.1 128.7 1461.9 123.5 1461.2 113.3 1462.7 125.2 1463.6 132.3 1462.8 120.1 1461.5 103.7 1464 127.3 1463 112.4 1463.6 115.8 1464.8 125.8 1464 113.3 1465 121.8 1464.8 116 1464.9 113.1 1465.2 113.4 1467.3 134.3 1465.8 113.2 1465.5 105.1 1466.7 115.9 1467.8 126.2 1468.6 133 1468.2 123.7 1467.4 109.3 1468.3 116.9 1469.4 127.5 1468.6 113.2 1469.7 124 1469.9 123.2 1469.4 111 1471.2 132.3 1470.2 114.5 1470.3 111.7 1472.1 133.6 1472.1 128.6 1472.4 129.9 1471.8 114.8 1471.6 108.1 1472.1 110.8 1472.2 106.9 1473.2 118.6 1473 109.5 1473.2 107.9 1474.3 121.9 1475 128.3 1475 123.2 1475 118 1475.5 121.7 1475.3 112 1475.1 103.2 1475.4 102.2 1476.1 110.4 1476.2 105.5 1477.5 126.6 1477.7 123.7 1477.5 113.1 1477.9 116 1477.8 106.4 1478.9 125.4 1478.4 105.4 1479.4 121.5 1479.4 113.9 1479.9 121 1480.4 125.2 1480 105.8 1480.5 112.6 1480.8 111 1481.1 111.7 1481.4 111.9 1481.4 102.1 1482 112 1482.5 115.9 1483.1 127.7 1482.8 106.8 1483 101.9 1483.5 107.9 1484.1 120.5" stroke="#5aa090" stroke-width="0.75"/>
<path d="M1511.2 157.9 1511.7 156.4 1512.1 155.7 1512 162 1512.4 160.8 1512.7 161.6 1513.2 160.1 1513.4 162.5 1513.6 164.1 1514 163.8 1514.7 158.9 1514.6 164.5 1515.4 159.5 1516 157 1515.4 167.5 1515.7 167.9 1516.8 160.2 1516.8 163.5 1517.2 163.3 1518 158.2 1518.3 159.5 1518.4 161.9 1519 159.5 1519.1 162.2 1519.8 158.8 1520.2 158.4 1520.8 155.9 1521.2 155.8 1522.1 150.8 1521.9 155.5 1522.6 152.7 1522.6 156.6 1522.4 161 1523.3 156.5 1523.6 157.3 1524.2 155.4 1524.5 155.7 1524.7 157 1524.8 158.9 1525.7 154.5 1526.4 151.9 1527 150.3 1527.6 148.1 1527.6 151.2 1528 150.9 1528.8 148.2 1528.6 152 1528.4 156.8 1528.4 159.4 1529.4 155 1529.9 153.8 1529.9 156.3 1531.3 148.9 1530.6 156.4 1531.1 155.9 1531.8 153.5 1531.5 157.9 1533.1 149.9 1532.6 155.4 1532.9 156.3 1532.8 159.3 1534.4 150.9 1534.9 150.2 1534.3 156.5 1534.4 158.2 1535.3 155.1 1535.7 154.4 1535.8 156.2 1536.7 153.1 1536.6 156.2 1538.7 145.2 1537.9 152.8 1538.6 150.9 1538.1 155.7 1539.5 150.1 1540.4 146.5 1539.8 152.8 1540.3 151.9 1541.2 149.1 1541.2 150.8 1541.1 153.9 1541.7 152.4 1542.4 150.8 1542.5 152.4 1542.1 156.5 1543.2 152.7 1542 161.2 1544 152.1 1544.9 149.6 1545 151 1544.8 154.2 1545.6 152 1545.9 152.1 1545.9 154.4 1545.7 157.2 1545.4 160.6 1546.3 157.9 1546.4 159.2 1546 163 1548.5 152.6 1547.1 161.5 1548 158.8 1548.4 158.7 1548 162.1 1549.5 156.7 1548.5 163.4 1551.4 151.5 1549.4 162.6 1550.2 160.8 1551.4 156.8 1551.8 156.6 1552.4 155.9 1553.7 151.7 1554.4 150 1555.2 148.4 1553.7 156.8 1555.5 150.3 1555.5 152.2 1555.2 155.1 1554.6 159.5 1557.4 148.9 1556.8 153 1555.1 162.2 1558 151.1 1557.9 153.3 1558.1 154.1 1559.1 151.6 1558.8 154.6 1559.5 153.3 1560.7 149.7 1559.2 157.4 1559.3 158.6 1559.2 160.4 1561 154.9 1559.7 161.7 1560.1 161.4 1560.6 160.8 1561.7 158.2 1561.7 159.7 1561 163.9 1562.7 158.5 1562.6 160.4 1562.7 161.7 1562.7 163 1562.9 163.8 1563.2 164.1 1564 162.4 1564.6 161.5 1565.1 161 1564.9 163.3 1565.5 162.4 1566.4 160.4 1567.1 159.3 1567.9 158 1566.9 162.8 1566.5 165.7 1568.4 160.4 1568.5 161.1 1569 160.8 1569.6 159.9 1569.3 162.6 1569.5 163 1567.3 171.8 1571.4 159.3 1570.2 164.7 1570 166.4 1571 164.4 1570.7 166.7 1570.8 167.7 1572.8 162.2 1572.3 165.1 1571.7 168.3 1573 165.3 1573.3 165.6 1573.3 166.8 1573.2 168.6 1574.4 165.8 1573.2 171 1575.6 164.4 1576.4 163.1 1574.6 169.9 1576.4 165.5 1574.9 171.3 1576.8 166.8 1575.6 171.5 1576 171.6 1577.8 167.2 1579.4 163.4 1578.7 166.9 1577.6 171.3 1577.4 173.1 1578.4 171.2 1580.9 164.8 1580.3 167.6 1577.5 177.2 1578.1 176.3 1577.7 178.7 1580.4 172 1579.6 175.4 1578.8 178.7 1580.6 174.7 1580.6 175.8 1580.5 177.2 1581.6 175 1583.4 171 1582.1 175.7 1582.9 174.6 1582.1 177.9 1583.8 174.2 1586.2 168.7 1585.3 172.1 1584.3 176 1584.8 175.6 1586.6 171.6 1585.5 175.9 1584.8 178.7 1586.8 174.3 1585.4 179 1585.7 179.4 1586.8 177.3 1584.8 183.7 1586.3 180.8 1586.2 182 1588 178.2 1587.8 179.6 1590.4 174.1 1589 178.7 1588.9 179.8 1589.8 178.6 1589 181.5 1589.9 180.1 1590.6 179.3 1591 179.4 1591.9 177.9 1591 181.2 1589.5 185.9 1591.3 182.4 1589.9 186.8 1594.1 177.4 1589 190.8 1591.5 185.7 1593 182.9 1591.6 187.3 1592.3 186.4 1594.7 181.5 1592.6 187.6 1595.4 181.8 1594.4 185.1 1593.9 187.1 1597.1 180.5 1596.1 183.7 1596.1 184.6 1595.8 186.2 1596.4 185.8 1596.4 186.7 1599.5 180.3 1598 184.5 1597.3 187.2 1597.8 186.9 1599.3 184.3 1597.6 189.1 1598.2 188.5 1597.1 191.9 1596.4 194.3 1602.7 181 1599.2 189.7 1602.3 183.7 1601.1 187.1 1600.1 190.3 1598.6 194.5 1600 192.1 1600.8 191.2 1599.5 194.9 1602.3 189.5 1603.7 187.3 1603.1 189.5 1603.6 189.4 1600.7 196.4 1608.3 181 1605.4 188 1603.5 192.9 1603.5 193.7 1603.9 193.7 1603.8 194.7 1604.9 193 1604.2 195.4 1605.2 194 1605.1 195M1616.4 182.8 1617 182.3 1620.1 177.1 1619.9 178.3 1620.2 178.5 1619.8 180 1618.2 184.1 1619.9 181.4 1620.9 180.4 1623.6 176 1620.8 182.1 1621.6 181.4 1622.9 179.8 1622.9 180.6 1623.8 179.6 1623.1 181.7 1624 180.9 1622.6 184.3 1623.7 182.9 1621.3 188.1 1626.2 179.8 1624 184.7 1624.1 185.3 1626.1 182.3 1625.3 184.6 1627 182.3 1627.5 182.1 1625.6 186.4 1629.4 180.3 1631.4 177.3 1630.8 179.3 1628.6 184 1629.9 182.5 1627.5 187.5 1626.4 190.3 1628 188 1630.3 184.8 1628.4 188.9 1631.1 184.9 1628.8 189.6 1630.3 187.8 1628.5 191.6 1631 188.1 1634 183.5 1632.1 187.6 1631.6 189.2 1631.2 190.5 1633.2 187.9 1631.6 191.3 1633.8 188.3 1632.1 191.9 1631.9 193 1636 186.8 1633.6 191.5 1633.5 192.4 1631.6 196.3 1632.1 196.2 1632.1 196.9 1634.9 193 1635.1 193.2 1633.3 197 1630.4 202.5 1632.2 200.1 1632.7 200 1633.8 199 1637 194.3 1640.2 189.9 1636.9 196 1637.2 196.1 1641.2 190.3 1641.8 190 1641.6 191.1 1636.9 199.3 1640 195.2 1639 197.4 1640.5 195.7 1638 200.2 1639.9 197.9 1639 200 1642.7 194.9 1640.8 198.6 1642.3 196.9 1639.1 202.5 1640.8 200.5 1638.9 204.2 1638.5 205.5 1639.8 204.1 1641.8 201.6 1640.3 204.7 1641.8 202.9 1643.9 200.4 1643.5 201.7 1641 206.1 1643 203.7 1643.4 203.8 1643.1 204.8 1645.5 202 1642.9 206.4 1644.5 204.7 1646.5 202.4 1646.9 202.5 1644.6 206.5 1644.6 207.1 1645 207.2 1645.5 207.1 1649.6 201.7 1647.5 205.4 1645.4 209.1 1646.9 207.6 1649.1 205 1651.9 201.6 1647.2 208.9 1647.6 209.1 1646.4 211.3 1647.1 211 1650.7 206.5 1649.8 208.4 1649.2 209.8 1646.4 214.4 1651.5 207.8 1649.6 211.2 1653.1 206.8 1653.3 207.2 1652.9 208.4 1651.9 210.4 1650 213.6 1651.8 211.8 1655.9 206.8 1655.7 207.6 1655.8 208.1 1658.8 204.7 1658 206.3 1654 212.4 1654.8 211.8 1657 209.5 1658 208.8 1658.3 209 1652.3 217.6 1656.9 212.1 1658.8 210.2 1657.3 212.7 1658.3 212 1656.4 215.1 1657.9 213.7 1655.8 217.1 1659.7 212.6 1658.9 214.2 1658.7 215.1 1659.4 214.7 1657.8 217.3 1660.9 213.9 1657.1 219.5 1659 217.6 1658.9 218.3 1658.9 218.8 1656.5 222.4 1658.4 220.6 1659.4 219.9 1662.6 216.5 1664 215.3 1662.3 218 1664.9 215.3 1664.9 215.9 1666 215.1 1664.7 217.3 1661.1 222.3 1660 224.3 1663.4 220.6 1664.4 220 1663.9 221.2 1666.1 219 1665.5 220.2 1667.1 218.9 1664.5 222.6 1665.9 221.5 1669.3 218 1668.5 219.6 1665.1 224.1 1668.5 220.6 1669.4 220.1 1668.9 221.3 1665.9 225.4 1665.5 226.4 1667.5 224.6 1668 224.5 1669.1 223.8 1670.5 222.8 1670 223.9 1667.8 226.9 1670.4 224.4 1667.5 228.3 1669.4 226.7 1669.5 227.1 1672.5 224.3 1668.7 229.2 1671.8 226.2 1670.7 227.9 1672 227 1672.2 227.3 1670.2 230.2 1671.3 229.4 1674.4 226.4 1672.8 228.8 1670.3 232.1 1671.2 231.7 1674.6 228.3 1675.3 228.1 1672.8 231.4 1672 232.8 1672.7 232.6 1670.6 235.4 1671 235.5 1674.7 232 1678.3 228.6 1673.4 234.4 1671.5 237 1673 235.8 1673.7 235.6 1671.4 238.6 1674.7 235.6 1677.8 232.9 1678.3 232.8 1678.7 232.9 1675.4 236.9 1683 229.4 1675.4 237.9 1681.1 232.5 1679.2 234.9 1680.1 234.6 1674.3 241.1 1680.9 234.7 1678.5 237.7 1677.8 239 1677.7 239.6 1676.2 241.6 1676.8 241.4 1678.2 240.5 1678.7 240.5 1678.6 241.1 1675.1 245.1 1674.4 246.4 1677.3 244 1679.2 242.5 1675.9 246.4 1678.2 244.5 1682 241.2 1681.2 242.5 1675.9 248.2 1679.8 244.9 1682.9 242.3 1684.5 241.2 1681 245.2 1681.8 244.8 1680.9 246.3 1685.5 242.3 1683.4 244.8 1681.3 247.3 1685.7 243.5 1684.9 244.8 1678.3 251.6 1681.9 248.6 1682.1 248.9 1684 247.6 1680.9 251 1685 247.6 1683 250 1683.9 249.6 1680.1 253.7 1684.4 250.1 1684.8 250.2 1682.7 252.6 1681.1 254.5 1681.2 254.9 1683.4 253.4 1681.9 255.2 1684.6 253.2 1682.2 255.9 1684.2 254.5 1683 256 1685 254.7 1687.3 253 1687.9 252.9 1687.5 253.8 1687.1 254.7 1685.7 256.3 1689.5 253.4 1688.6 254.7 1686.1 257.4 1686.8 257.2 1687.1 257.4 1689.7 255.6 1686.8 258.6 1690.7 255.6 1686.8 259.5 1687 259.7 1693 255 1692.5 255.9 1688.9 259.5 1688.9 260 1692 257.7 1690.9 259.1 1691.9 258.7 1694.2 257.2 1688.4 262.6 1688.4 263 1688.6 263.3 1688.9 263.6 1689.1 263.8 1690.9 262.8 1690.8 263.3 1689.7 264.6 1693.3 262.1 1694 262 1694.2 262.2 1694.5 262.4 1697.3 260.6 1697.1 261.1 1691.3 266.4 1698.1 261.3 1695.2 264.1 1691.9 267.2 1692.8 267 1692.3 267.7 1697.4 264.1 1692.8 268.3 1693.3 268.3 1698.7 264.4 1695.8 267.1 1697.3 266.3 1697.7 266.5 1699.6 265.4 1703.5 262.8 1696.5 268.8M1702.2 270.1 1699.9 272.3 1697.6 274.5 1704 270.1 1698 275 1704.8 270.4 1704.2 271.2 1704.7 271.3 1698.8 276.1 1701.8 274.3 1703.1 273.8 1699.5 276.9 1703.7 274.2 1703.5 274.8 1707.9 272 1709.6 271.2 1708.4 272.5 1706.1 274.6 1709.2 272.8 1714.2 269.6 1708.4 274.2 1703.4 278.3 1706.6 276.4 1711.4 273.4 1707.5 276.6 1707 277.3 1706.8 278 1708.8 277 1711.4 275.6 1707 279.1 1707 279.5 1704 282 1712.5 276.5 1711.5 277.7 1704 283.3 1707.2 281.4 1706.7 282.2 1710.3 280.1 1706 283.6 1709.4 281.6 1706.6 283.9 1710.3 281.9 1712.6 280.7 1717.6 277.7 1714.4 280.3 1714.8 280.5 1719.8 277.5 1714.8 281.4 1713 283 1719.5 279.1 1715.3 282.3 1718.7 280.5 1716.5 282.4 1717.9 281.8 1717.5 282.5 1711.5 286.9 1719.1 282.3 1718.9 282.9 1721.5 281.7 1715.6 285.9 1716.6 285.6 1717.6 285.4 1712.3 289.3 1717.6 286.2 1719.4 285.5 1721.9 284.4 1716.6 288.1 1723.5 284.2 1720.3 286.6 1722.2 285.8 1724.8 284.7 1720.9 287.5 1723.9 286.1 1719.5 289.2 1725.7 285.8 1731.2 282.8 1728.2 285.1 1728.3 285.5 1733.7 282.6 1728.6 286.2 1725.2 288.7 1721.9 291.1 1726.2 288.9 1726.3 289.3 1728 288.6 1731.3 287.1 1722.3 292.9 1725.9 291.2 1726.1 291.4 1731.6 288.6 1730.9 289.4 1733.3 288.5 1732.9 289.1 1732.8 289.6 1730.1 291.6 1725.8 294.5 1733.7 290.3 1733.5 290.9 1733.9 291.1 1734.2 291.3 1733.5 292.2 1734.4 292.1 1735.5 291.9 1734 293.1 1739.3 290.5 1737.4 292.1 1737.8 292.3 1731.6 296.2 1737.8 293.1 1738.8 293 1741.9 291.7 1738.4 294.1 1736.2 295.7 1742.3 292.8 1738.5 295.3 1741.3 294.2 1743.3 293.5 1736.7 297.5 1738.3 297 1743.1 294.9 1738.6 297.7 1736.5 299.3 1738.4 298.7 1738.2 299.2 1743.1 297 1741 298.6 1740.5 299.2 1736.6 301.7 1742.4 299.1 1739 301.2 1738.2 302.1 1745.1 298.9 1739.7 302.1 1741.9 301.4 1738.8 303.4 1746.2 300 1741.9 302.6 1741.3 303.4 1740.1 304.4 1743.3 303.2 1750 300.2 1741.9 304.7 1741.8 305.2 1742.8 305.1 1742 305.9 1745.6 304.6 1747.6 303.9 1740.8 307.7 1745.6 305.8 1744.2 306.9 1745.5 306.7 1744.8 307.4 1744.9 307.7 1749.8 305.8 1749.3 306.5 1748.7 307.2 1744.1 309.8 1741.5 311.5 1744.3 310.5 1752.3 307.1 1741.7 312.5 1748.5 309.7 1742.2 313.1 1745.3 312.1 1744.7 312.8 1745.4 312.8 1753.3 309.6 1745.2 313.7 1741.6 315.8 1745.1 314.6 1742.6 316.1 1748.6 313.8 1748 314.5 1746.7 315.4 1747.3 315.6 1748.3 315.6 1743.5 318.1 1746.5 317.2 1755.1 313.8 1749.3 316.7 1748.3 317.6 1745.9 319 1749.9 317.7 1743.5 320.9 1747.5 319.5 1743.7 321.6 1746.5 320.7 1748.6 320.3 1743 323.1 1749.3 320.7 1744.6 323.1 1749.3 321.6 1745.4 323.6 1747.6 323.1 1752.4 321.4 1744.5 325.1 1747.2 324.4 1747 324.9 1746.3 325.6 1748.1 325.2 1744.3 327.2 1744.6 327.4 1748.8 326.1 1743 328.9 1743.5 329 1746.6 328.2 1740.6 331 1743.6 330.2 1738.8 332.4 1744.8 330.4 1747.8 329.6 1751.4 328.6 1753 328.4 1745.5 331.7 1741.7 333.6 1754.4 329 1748.6 331.6 1747.4 332.5 1747.5 332.8 1747.6 333.2 1744.8 334.7 1752.7 332 1745.9 335 1752.2 333 1753.5 332.9 1750.7 334.4 1748.4 335.6 1750.8 335.1 1746.3 337.1 1750.9 335.8 1752.3 335.7 1743.2 339.4 1745.4 339 1743 340.2 1747 339.1 1742.9 341 1753.6 337.6 1746.2 340.6 1742.5 342.2 1754.8 338.3 1741.5 343.3M1742 348 1739.4 349.2 1742.4 348.6 1741.8 349.2 1741.5 349.6 1745.5 348.7 1742.8 349.9 1742.9 350.3 1741.4 351.1 1744.4 350.5 1744.7 350.8 1744.1 351.4 1738.4 353.5 1745.6 351.6 1742.6 352.9 1749.4 351.2 1743.8 353.3 1741.5 354.3 1745.7 353.4 1745 354 1747.1 353.7 1744.4 354.9 1744.2 355.3 1748.9 354.3 1749.9 354.4 1747.6 355.4 1750.1 355 1752.5 354.7 1750 355.8 1756.8 354.2 1753.5 355.5 1748.6 357.3 1759.9 354.5 1757 355.7 1756.7 356.1 1757.6 356.3 1757.6 356.6 1747.9 359.7 1751.2 359.2 1755.3 358.4 1755.8 358.6 1755.9 359 1745.2 362.2 1748.8 361.6 1751 361.4 1749.6 362.2 1759.2 360 1758 360.7 1753.7 362.2 1761.4 360.5 1758.8 361.6 1754.8 363 1762.1 361.5 1756.9 363.2 1755.3 364 1759.5 363.3 1758.8 363.8 1755.1 365.1 1757.2 365 1752.9 366.4 1754.2 366.4 1754.3 366.8 1764 364.8 1754.7 367.4 1763.1 365.8 1761.5 366.5 1764.4 366.2 1759.3 367.8 1764.2 367 1767.2 366.7 1755.6 369.8 1760 369.1 1768.5 367.6 1764.1 368.9 1757.2 370.9 1761.5 370.3 1759.9 371 1761.9 370.9 1765.7 370.5 1763.5 371.3 1764.5 371.5 1761.2 372.6 1765.4 372.1 1758 374 1763.7 373.2 1770 372.2 1768.1 373 1763 374.4 1770.4 373.3 1767.1 374.3 1770.1 374.1 1761.2 376.3 1772.6 374.4 1763.7 376.5 1771.4 375.4 1760.7 377.9 1764.9 377.4 1775.2 375.8 1768.1 377.6 1775.9 376.4 1770.8 377.8 1769.4 378.4 1771.9 378.4 1775.1 378.1 1770.8 379.3 1770.5 379.8 1769 380.4 1768 381 1767.8 381.4 1771.8 381 1762.5 383 1765 383 1765.6 383.2 1766.8 383.4 1766 383.9 1770.6 383.5 1768.5 384.2 1772.7 383.9 1770.7 384.6 1769.8 385.2 1770.4 385.4 1771.7 385.6 1767 386.7 1771.4 386.4 1764.6 387.8 1775.4 386.5 1769.8 387.8 1776.8 387.1 1774.8 387.8 1775.8 388 1771.3 389.1 1767.1 390 1764.6 390.8 1769.2 390.5 1763.4 391.7 1772.6 390.8 1771.5 391.3 1775.3 391.1 1778.1 391.1 1773.5 392.1 1773.8 392.5 1774.1 392.8 1776.7 392.9 1772.3 393.8 1774 394 1764.9 395.5 1772.7 394.9 1772.6 395.3 1774.5 395.4 1776.2 395.6 1767.7 397 1768.7 397.2 1775 396.9 1768.7 398 1772.4 397.9 1772.3 398.3 1768.1 399.2 1768.1 399.5 1769.4 399.8 1771.1 399.9 1775 399.9 1778.2 399.9 1770.9 401.1 1771 401.4 1770.3 401.9 1768.2 402.5 1761.2 403.5 1771.2 402.9 1763.6 404 1762.4 404.5 1767.2 404.4 1767.2 404.8 1767.7 405.1 1771.5 405.1 1770.7 405.5 1776.8 405.4 1773 406.1 1771.6 406.6 1775 406.7 1778.6 406.7 1768.7 407.9 1769.9 408.2 1767.8 408.7 1773.1 408.7 1772.4 409.1 1770.8 409.6 1769 410.1 1763.3 410.9 1772.8 410.6 1767.6 411.3 1765.4 411.8 1770.9 411.8 1766.5 412.5 1771.3 412.5 1774.5 412.7 1767.4 413.5 1763.5 414.1 1764.7 414.4 1770.2 414.4 1770.6 414.8 1764.8 415.5 1762.7 415.9 1766.9 416.1 1764.9 416.6 1758.6 417.2 1765.5 417.2 1768.9 417.4 1762.9 418.1 1759.8 418.6 1764.7 418.7 1760 419.3 1765.9 419.4 1764.4 419.8 1761.7 420.3 1761.8 420.6 1760.4 421 1765.4 421.2 1765.6 421.6 1764.1 422 1764.1 422.3 1765.4 422.7 1765.6 423 1765.8 423.4 1765.4 423.7 1765 424.1 1760.6 424.6 1765.1 424.8 1765.3 425.2 1765 425.6 1769.2 425.8 1761.6 426.3 1768.6 426.6 1764.3 427 1764.2 427.4 1769.7 427.7 1765.6 428.1 1764.8 428.4 1765.1 428.8 1765.6 429.1 1762.9 429.5 1763.9 429.9 1758.2 430.2 1761.2 430.6 1764.9 431 1760.5 431.3 1762.6 431.7 1762.7 432 1756.8 432.3 1762.9 432.7 1765.6 433.1 1765.5 433.5 1765.4 433.8 1762 434.1 1765.3 434.6 1763.7 434.9 1762.1 435.2 1768.1 435.7 1770.2 436.1 1764.1 436.3 1765.1 436.7 1760.5 437 1764.1 437.4 1763.6 437.8 1762 438.1 1764.7 438.5 1772.5 439.1 1766.1 439.3 1761.4 439.5 1756.3 439.6 1761.1 440.2 1762 440.6 1760.5 440.9 1765.3 441.4M1765.1 446.2 1757.2 446.1 1765.2 446.9 1759.5 446.9 1761.9 447.4 1759.1 447.6 1759.5 448 1758.3 448.2 1757.6 448.5 1757.1 448.9 1758.9 449.3 1758 449.6 1761.4 450.2 1757.4 450.3 1766.4 451.3 1767.3 451.8 1760.1 451.6 1760.4 451.9 1757.7 452.1 1757.3 452.4 1762.1 453.1 1760.1 453.3 1759.7 453.7 1756.5 453.7 1759.7 454.4 1762.4 455 1764 455.5 1762 455.6 1759.5 455.8 1767.7 456.9 1765.9 457.1 1765.7 457.4 1760.2 457.3 1768 458.4 1767.8 458.7 1767.9 459.1 1767 459.4 1772.6 460.4 1759.7 459.3 1769.6 460.8 1773 461.5 1768.4 461.4 1768.4 461.7 1770 462.3 1767.8 462.4 1770.9 463.2 1761.7 462.4 1773 464.2 1766.3 463.7 1768.7 464.4 1768.4 464.7 1763.2 464.4 1764.6 465 1770.7 466.1 1763.3 465.5 1766.5 466.3 1767.5 466.8 1771.9 467.7 1773.9 468.4 1769.1 468.1 1763.3 467.7 1763.2 468 1770.5 469.4 1765 469 1766.3 469.6 1761.5 469.3 1766.9 470.4 1767.1 470.8 1771.3 471.8 1765.4 471.3 1766.9 471.9 1763.8 471.8 1766.8 472.6 1764.6 472.6 1766.6 473.3 1772.9 474.7 1764.7 473.7 1766.8 474.5 1764.6 474.5 1765.9 475.1 1765.8 475.4 1767.2 476 1765.1 476 1765.3 476.4 1769.6 477.5 1766.1 477.3 1758.6 476.4 1768 478.4 1756.8 476.8 1767.1 479 1768.9 479.7 1764.7 479.3 1766.3 479.9 1766.1 480.3 1768.3 481.1 1769 481.6 1767.7 481.7 1765.1 481.6 1762.6 481.5 1769.5 483.2 1766.5 483 1765.6 483.2 1764.1 483.3 1761.8 483.2 1763.9 484 1763.6 484.3 1762.2 484.4 1769.2 486.1 1763.9 485.4 1765.6 486.2 1763.3 486.1 1763.8 486.5 1760.2 486.2 1761.3 486.8 1769.7 488.9 1768 488.9 1770 489.7 1767.9 489.7 1762.8 488.9 1765.6 489.9 1766.7 490.5 1769.4 491.5 1765.8 491.1 1761.7 490.6 1758.1 490.1 1756.7 490.2 1762.4 491.8 1764.9 492.8 1764.3 493 1767.4 494.1 1766 494.2 1770.7 495.7 1762.9 494.2 1761.2 494.2 1757.2 493.6 1763 495.4 1767.9 496.9 1761.2 495.7 1765 497 1764.1 497.1 1763.2 497.3 1763.2 497.7 1759 497 1759.3 497.5 1768.8 500.2 1760.5 498.5 1766.4 500.4 1761.1 499.4 1761.7 499.9 1770.3 502.5 1767.2 502.1 1764.2 501.7 1761.1 501.3 1756.8 500.5 1760.3 501.9 1757.6 501.5 1760.8 502.7 1758.9 502.6 1757.7 502.6 1762.5 504.3 1757.9 503.5 1762.4 505.1 1761.1 505.1 1756.7 504.3 1757.2 504.8 1758.6 505.5 1753.4 504.5 1752.9 504.7 1757.6 506.4 1755.8 506.2 1752.1 505.6 1761.1 508.5 1754.6 507 1751.2 506.4 1755.1 507.9 1760 509.7 1756.9 509.2 1758.4 510 1758.6 510.5 1758.6 510.9 1762.4 512.4 1756.4 510.9 1763.4 513.5 1758.4 512.3 1760.1 513.2 1759 513.3 1754.8 512.4 1750 511.3 1757.4 513.9 1754 513.2 1752.5 513.2 1758.3 515.4 1747.7 512.4 1758.2 516.1 1759.3 516.9 1762 518.1 1751.4 515.1 1758.9 517.9 1763.1 519.7 1752.5 516.6 1749.8 516.1 1757.1 518.9 1753.5 518 1752.3 518 1751.6 518.2 1754 519.3 1758.9 521.4 1749 518.4 1752.2 519.9 1750.8 519.8 1751.2 520.3 1754 521.7 1753.1 521.7 1752 521.7 1751 521.8 1747 520.7 1744 520 1747.6 521.7 1749 522.6 1750.3 523.4 1751.5 524.3 1748.1 523.4 1748.9 524.1 1744.3 522.8 1745.5 523.6 1751.4 526.1 1748.7 525.5 1747.2 525.4 1742.2 523.9 1746.4 525.8 1745.2 525.8 1741.3 524.7 1744.4 526.2 1741.6 525.5 1740.3 525.4 1748.8 529.1 1744 527.6 1744 528 1741.8 527.5 1744.7 529 1746 529.9 1740.8 528.2 1738.4 527.7 1744.3 530.4 1740.5 529.3 1742.9 530.6 1741.5 530.4 1747.3 533.1 1744.3 532.3 1741.9 531.7 1740 531.3 1736.8 530.4 1741.4 532.7 1732.8 529.5 1736.1 531.2 1736.2 531.7 1739.8 533.5 1740.1 534.1 1740.5 534.6 1739.7 534.6 1743.1 536.5 1745.4 537.8 1738.3 535.2 1741.4 536.9 1742.5 537.7 1739.3 536.8 1737.8 536.5 1739.3 537.5 1737.7 537.2 1737.4 537.5 1734.1 536.4 1741.1 539.9 1730.8 535.7 1737.2 538.9 1739.3 540.3 1736.8 539.6 1729.5 536.7 1732.8 538.5 1730.3 537.8 1735.3 540.4 1734.1 540.2 1741.8 544.1 1737.2 542.4 1733.6 541.2 1736.1 542.7 1741.8 545.7 1740 545.3 1737.7 544.6 1732.4 542.6 1739.2 546.1 1731.9 543.1 1727.6 541.4 1735.6 545.6 1735.1 545.7 1732.2 544.8 1733.1 545.6 1732.6 545.7 1732.6 546.1 1734.3 547.4 1733.8 547.5 1734.3 548.1 1735.9 549.3 1733.6 548.6 1735.7 550 1730.6 547.9 1736.1 551 1726.5 546.6 1728 547.8 1729 548.7 1728 548.5 1731.8 550.8 1726.7 548.7 1726.8 549.1 1723.2 547.6 1730.9 551.9 1724.5 549.1 1727.6 551.1 1732.6 554 1725.7 550.8 1732.7 554.9 1729.1 553.4 1727.8 553.1M1741.9 566.1 1738.2 564.5 1738 564.8 1743.3 568.1 1741.7 567.6 1742.7 568.7 1741.1 568.2 1741.7 568.9 1738.5 567.6 1732.6 564.7 1732.4 565 1737.6 568.4 1734.3 566.9 1739.8 570.4 1738.6 570.2 1731 566.3 1729.6 565.9 1740.6 572.6 1740.1 572.8 1736.1 570.9 1732.7 569.4 1740.1 574.1 1740.3 574.6 1730.9 569.6 1739.1 574.8 1737.5 574.3 1736 573.9 1736.8 574.8 1737.9 575.9 1730.7 572 1732.8 573.7 1736.4 576.3 1729.7 572.7 1731.3 574.1 1731.2 574.5 1733.4 576.2 1732.6 576.1 1734 577.4 1737.2 579.8 1733.8 578.2 1734.6 579.1 1731.1 577.4 1734.4 579.9 1732.1 578.9 1729.6 577.7 1730.8 578.9 1728.1 577.7 1728.7 578.5 1732.9 581.5 1733.9 582.6 1731.6 581.6 1733 582.9 1734.1 584.1 1728.6 581.1 1735.6 585.9 1730.8 583.3 1728.1 582 1728.3 582.6 1731 584.8 1732.2 586 1724.4 581.4 1729.9 585.4 1729.1 585.3 1725 583.1 1726.3 584.4 1731.4 588.2 1729.8 587.5 1732 589.5 1730.8 589.1 1727.2 587.2 1731.5 590.5 1728.1 588.7 1727.7 588.9 1729.8 590.7 1727.6 589.7 1722.1 586.4 1729.1 591.6 1728.5 591.7 1724.2 589.2 1728.2 592.4 1730 594 1723.7 590.2 1723.3 590.4 1726.3 592.9 1722.5 590.7 1724 592.2 1718.5 588.8 1726.1 594.6 1724 593.6 1718.9 590.5 1724.3 594.7 1720.4 592.3 1722.2 594.1 1720.6 593.4 1717.8 591.9 1717.9 592.4 1726.7 599.1 1726.4 599.4 1726.2 599.8 1721.8 597 1718.6 595.2 1725.5 600.7 1716 594.2 1713.9 593.1 1716.1 595.1 1714.5 594.4 1719.7 598.7 1719.9 599.4 1720.8 600.5 1720.7 600.9 1719.7 600.6 1713.1 596.1 1713.9 597.1 1711.6 595.9 1715.4 599.2 1709.9 595.5 1715.4 600.2 1716.6 601.5 1712.3 598.7 1711.2 598.3 1714.7 601.4 1718.2 604.6 1715.8 603.2 1715.9 603.8 1707.7 597.9 1712.5 602.1 1707.5 598.7 1711.5 602.2 1714 604.6 1709.7 601.7 1712.2 604.2 1711.8 604.3 1711.5 604.6 1707.4 601.7 1709.3 603.8 1707.4 602.7 1710.5 605.6 1702.8 600 1706.6 603.4 1707.4 604.5 1711.6 608.4 1707.7 605.7 1701.8 601.4 1706.1 605.4 1709.1 608.3 1704.4 604.9 1706.2 606.9 1704.5 605.9 1706.3 607.9 1708.9 610.5 1703.4 606.4 1703.1 606.6 1703.4 607.4 1705.1 609.3 1704.7 609.4 1704 609.3 1706.2 611.6 1704.5 610.7 1703.5 610.4 1702.4 609.8 1705.3 612.8 1700.8 609.4 1704 612.7 1698.8 608.7 1700.5 610.7 1697 608 1701.4 612.3 1701 612.5 1697.9 610.3 1697.9 610.7 1698.5 611.7 1703.2 616.3 1697.6 611.9 1693.8 609 1694 609.7 1696.2 612.1 1696.9 613.2 1692.1 609.5 1697.6 614.8 1690.5 608.9 1692.9 611.6 1693.3 612.4 1694.2 613.7 1697.3 617 1696.8 617 1692.5 613.6 1690.9 612.6 1691 613.1 1692.3 614.9 1688.7 612 1693.9 617.3 1691 615.1 1691.6 616.1 1691.5 616.6 1689.1 614.8 1691.8 617.9 1689.5 616.2 1688.5 615.7 1687 614.8 1689.9 618 1690.2 618.8 1689.3 618.4 1686 615.8 1686.9 617.1 1681.1 612.1 1685.1 616.3 1684.8 616.6 1682.2 614.6 1679.4 612.4 1687.1 620.3 1684 617.8 1679.9 614.2 1681.7 616.5 1688.2 623.4 1684.2 620 1684.1 620.3 1683.7 620.4 1683.1 620.3 1685.1 622.8 1682.1 620.4 1681.9 620.7 1688.2 627.5 1685.3 625 1684.6 624.9 1680.1 620.8 1677.8 619.1 1680.1 621.9 1676.8 618.9 1681.3 624 1678 621.2 1675.1 618.7 1678.3 622.5 1676.2 620.9 1679.4 624.7 1678 623.7 1679.1 625.3 1677.6 624.3 1680 627.3 1680.6 628.5 1675.3 623.5 1679.8 628.7 1679.8 629.3 1675.6 625.3 1673.4 623.5 1678 628.8 1676.5 627.8 1679.4 631.4 1672.1 624.1 1675.3 628.1 1674.4 627.6 1675.1 628.9 1673.8 628 1674 628.8 1674.3 629.6 1673.7 629.5 1670.8 626.8 1673.9 630.7 1670.7 627.8 1671.1 628.7 1671.1 629.2 1671.4 630.1 1668.7 627.6 1671.9 631.7 1671.6 631.9 1671.7 632.6 1675.3 637.2 1672.2 634.2 1671.7 634.1 1670.9 633.8 1670.1 633.4 1672.8 637.1 1669.1 633.3 1668.9 633.6 1671 636.6 1669.6 635.5 1674.4 641.6 1668.7 635.6 1669.3 636.9 1668.1 636 1672 641.1 1668.4 637.5 1666.6 635.9 1664.5 634 1668.7 639.4 1666.6 637.5 1666.9 638.4 1664.4 636 1665 637.2 1660.4 632.3 1661.2 633.8 1661.9 635.1 1659.6 633 1656.9 630.2 1659.2 633.5 1660.3 635.5 1659.2 634.7 1656.4 631.8 1659.1 635.6 1659.9 637.2 1657.3 634.5 1661.7 640.5 1656.2 634.3 1654.4 632.5 1654.9 633.7 1654.1 633.3 1654.3 634.1 1656.5 637.4 1652.4 632.8 1659.8 642.7 1656.3 638.8 1658.7 642.4 1655.4 638.8 1660.3 645.7 1656.2 641 1658 643.9 1655.7 641.5 1652.3 637.6 1653.8 640.2 1656.7 644.5 1654 641.6 1653.3 641.3 1652.8 641.1 1650.3 638.4 1653.5 643.1 1649.1 638 1653.6 644.5 1648.8 638.7 1649.4 640.1 1649.1 640.2 1648.6 640.1 1651 644 1651.8 645.6 1652.1 646.6 1651.7 646.6 1645.7 639.1 1649.3 644.6 1649.4 645.3 1647.1 642.8 1648.5 645.3 1647 643.8 1644.9 641.5 1645 642.3 1643.3 640.5 1646 644.8 1645.1 644.2 1646.6 646.8M1644.1 651.4 1647.9 657.5 1645.2 654.2 1647.8 658.6 1646.5 657.5 1646.8 658.4 1647.3 659.9 1646.5 659.4 1646.4 659.8 1646.8 661.1 1645.2 659.4 1649.1 665.9 1643.3 657.8 1642.5 657.3 1645.7 662.7 1641.3 656.8 1646.4 665.2 1644.2 662.5 1642.7 660.9 1638.1 654.4 1643.9 664.1 1643.4 664 1641.2 661.2 1640.4 660.7 1643 665.3 1644.4 668.2 1636.6 656.6 1637.5 658.7 1639.1 661.8 1641.8 666.8 1640.2 665 1636.4 659.7 1635.8 659.4 1638.4 664.2 1638.3 664.7 1639.5 667.3 1637.6 664.9 1639.7 669 1639.2 669 1635 662.8 1637.8 668 1638 669.1 1637.5 668.9 1633.5 663.1 1637.1 669.7 1636.3 669.2 1635.2 668 1631.7 662.8 1633.9 667.2 1631.1 663.2 1630.1 662.3 1631 664.5 1631.7 666.4 1628.9 662.3 1629.4 664 1634 672.5 1635 674.9 1630.9 668.7 1630.3 668.3 1632 672 1631.2 671.3 1628.9 668.1 1632 674.2 1628.6 669 1629.9 671.9 1629.8 672.5 1628 670 1627.8 670.6 1630.5 676.1 1627.5 671.4 1628.2 673.4 1630.2 677.8 1627.6 673.8 1626.1 672 1625.4 671.3 1626.8 674.6 1626.7 675.3 1625.3 673.5 1621.4 667.2 1622 669 1622.4 670.4 1625.3 676.6 1621.3 669.9 1624.8 677.2 1620.5 670 1621.1 671.8 1622.9 676 1621.4 673.8 1622.4 676.5 1621.9 676.4 1620.9 675.3 1618.9 672.2 1621.6 678.1 1619.1 674.2 1622.7 682 1621.7 680.7 1619.8 677.9 1618.7 676.6 1619.7 679.4 1619.4 679.5 1618.3 678.2 1616.5 675.4 1618.8 680.8 1617.9 679.8 1618.4 681.6 1617.1 679.8 1617.9 682.3 1618.5 684.3 1614.8 677.8 1617.5 684 1614.7 679.2 1615.4 681.4 1615.8 683 1615.5 683.4 1615.3 683.7 1611.8 677.4 1612.2 679 1616.1 688 1612 680.2 1615.5 688.3 1614.3 686.8 1613.2 685.4 1611.4 682.4 1612.7 686 1613.6 688.8 1612.3 686.9 1613.1 689.5 1610.8 685.4 1609.1 682.7 1610.8 687.1 1609.1 684.5 1609.7 686.7 1609.2 686.4 1607.4 683.3 1609.9 689.7 1606 682.1 1607.8 687 1610.6 694 1606.1 684.9 1603.4 679.8 1605.9 686.3 1605.2 685.7 1607.3 691.3 1605.3 687.5 1604.5 686.8 1601 679.6 1602.7 684.4 1604.2 688.7 1601.9 684.4 1604.5 691.4 1600.5 683 1599.9 682.6 1603 690.8 1603.1 691.9 1600.8 687.5 1603.1 693.8 1599 685 1600.7 690 1602.5 695.3 1599.7 689.5 1601.4 694.7 1602.2 697.6 1598.1 688.6 1600.5 695.3 1599.2 693.3 1598.6 692.7 1597.3 690.5 1597.8 692.8 1594 684.4 1594.4 686.3 1595.9 691 1595.9 691.9 1593.4 686.6 1594.1 689.4 1592.7 687 1592.1 686.4 1591.7 686.3 1593.1 691 1591.9 688.9 1591.1 687.7 1590.7 687.7 1592.5 693.6 1592.2 693.7 1590.4 690 1590.1 690.1 1591.7 695.6 1587.1 684.3 1588.6 689.3 1590.3 694.9 1588.7 691.8 1588.7 692.8 1586 686.6 1585.8 687.1 1587.6 692.9 1585.5 688.4 1586.8 692.8 1583.6 685 1585.2 690.6 1583.5 687.1 1585.3 693.2 1585.2 694 1583.3 689.7 1584.2 693.4 1583.5 692.5 1582.1 689.6 1582.9 693 1583.6 696 1580.5 688.1 1581.3 691.5 1579.9 688.5 1577.3 681.9 1580.8 693.4 1577.8 685.8 1580.8 695.7 1579 691.7 1578.2 690.3 1577.4 689.2 1578.3 693 1576.1 687.5 1576.6 689.9 1577.7 694.5 1577.7 695.7 1577.9 697.6 1576.9 695.5 1576.4 695.3 1575.9 695 1576.1 696.9 1575.3 695.6 1574.5 694.3 1575.9 699.9 1571.8 687.8 1572 689.9 1571 687.6 1571.6 690.8 1572 693.5 1569.7 686.9 1570.4 690.6 1571.9 697 1569.7 690.9 1571.8 699.1 1570.1 694.6 1569.8 695 1570.2 697.6 1566.8 687.4 1566.2 686.4 1566.2 687.7 1564.3 682.2 1568.1 696.8 1565 687.3 1565.3 689.7 1564.5 688.1 1565.1 691.5 1564.9 692 1564.3 691.4 1564.5 693.3 1564 692.9 1563 690.6 1563.6 694.2 1563.2 693.9 1562.4 692.4 1562.2 693.1 1561.8 693 1561.9 694.9 1561.2 693.4 1560.6 692.7 1560.4 693.4 1560.4 694.7 1559.1 691 1559 692.4 1559.6 696.1 1560.7 702 1558.4 694 1557.3 691.3 1557.3 692.7 1558.3 698 1559 702.8 1557.6 698.4 1558.6 704.1 1556.3 696.2 1555.3 693.7 1554.8 692.9 1554.7 694.2 1554.9 696.3 1553.9 693.8 1554.1 696 1551.7 687.4 1552.8 693.7 1553.9 700 1552.3 694.7 1551.9 694.5 1551.8 696 1551.4 695.8 1551.5 697.8 1549.3 689.6 1550.2 695 1549.8 694.8 1547.8 687.4 1549.7 697.7M1545.1 699.1 1544.8 699.8 1545.9 706.9 1545.5 707 1543.8 700.2 1544.5 705.6 1543.9 704.5 1543 701.5 1543.9 708.6 1542.5 702.9 1542.3 703.8 1541.4 701.2 1540 695.2 1539.9 696.9 1540.4 701.4 1539.1 696.3 1538.7 696 1538.5 697.1 1538.7 700.1 1538.9 703.5 1537.5 697.4 1537.5 699.5 1537.7 703.1 1536.9 700.6 1536 696.9 1536.4 702.1 1536.4 703.9 1534.6 695.3 1535.2 701.3 1535.2 703.4 1533.7 696.5 1533.8 698.9 1533.7 701.1 1533.6 702.7 1533.3 702.8 1532.7 701.3 1532.1 699.7 1532.4 704.2 1531.6 701.4 1530.9 699.2 1530.9 701.4 1530.9 704.4 1530.4 703.4 1530.1 703.8 1529.8 704.5 1529.6 705.2 1529.1 704.3 1528.7 704 1528.5 705.6 1528.1 705 1526.9 698.4 1527.1 703 1526.8 703.5 1525.8 698.8 1525.6 699.6 1525.4 700.9 1524.2 693.9 1523.8 693.9 1523.6 694.9 1523.9 700.5 1522.5 691.5 1522.5 694.5 1521.7 690.9 1522.4 699.9 1522.8 706.6 1520.6 689.9 1521.4 701 1520.3 694.2 1520.3 696.8 1519.8 695.9 1520.2 703 1519.4 698.9 1518.8 696.2 1518.5 696.8 1518.1 696.1 1517.4 692.6 1517.9 702.3 1517.1 696.7 1516.9 699.2 1516.7 700.6 1517.1 708.4 1516.1 701.5 1515.4 697.8 1515.2 699.6 1515.2 704.1 1514.3 696.8 1513.9 696.6 1513.9 701.7 1513.7 703.6 1513.6 706.1 1513.1 704.4 1512.6 702.9 1512.4 704.6 1511.8 701.9 1511.4 700.6 1511.3 704.4 1511 705.3 1510.2 699.4 1510.1 702.7 1510.1 708.4 1509.4 703.8 1509.1 703.7 1508.8 705.3 1507.9 697 1507.9 702.1 1507.6 704 1507.2 702.5 1507 706.4 1506.5 702.9 1506.2 704.4 1505.5 697.4 1505.1 696.4 1504.9 700.2 1504.6 700.6 1504.1 697.9 1504 702.7 1503.5 699.2 1503.4 706.8 1503.1 707.1 1502.8 708.8 1502.1 701.9 1502 706.6 1501.6 706.7 1501.2 705.8 1500.9 708.9 1500.5 706.6 1500 701.2 1499.6 701.5 1499.5 710.8 1498.9 702 1498.7 706.1 1498.2 699.7 1497.9 701.7 1497.5 702.7 1497.3 709.2 1496.8 704.4 1496.5 706.2 1496.1 703.7 1495.8 705.4 1495.5 711.8 1495 702.8 1494.7 710.2 1494.4 710.1 1494 703.8 1493.6 709 1493.3 714.9 1492.9 707.6 1492.5 704.8 1492.2 707.7 1491.8 711.6 1491.4 709 1491.1 709 1490.7 704.3 1490.3 708.2 1490 702.7 1489.6 711.7 1489.2 710.3 1488.9 706.3 1488.5 705.2 1488.1 712.5 1487.7 712.1 1487.3 713.5 1486.9 717.3 1486.5 718.2 1486.3 711 1485.9 712.2 1485.4 715.9 1485.2 710.3 1484.7 713 1484.4 713.2 1483.9 716.3 1483.5 715.7 1483.1 719.2 1482.9 711.4 1482.4 716 1482.1 713.1 1481.6 717.5 1481.3 715 1480.8 717.5 1480.5 716.7 1480.5 708.4 1479.8 716 1479.7 709.1 1478.9 719.1 1478.7 714.2 1478.4 713 1478 713.8 1477.9 708.5 1477.4 712 1477.1 709.7 1476.5 714.7 1476.2 713.2 1476.1 707.3 1475.7 707.8 1475.4 708.1 1475 707.6 1474.3 714 1473.6 718 1473.5 714.1 1473.5 708.6 1472.5 717.8 1472.7 709 1472.1 713.4 1472 709.1 1471.4 712.2 1471.1 711.8 1471 707.3 1470.2 712.6 1469.9 712 1469.9 708.1 1469.1 712.4 1469.7 701 1469.1 704.1 1468.5 706.6 1468.2 706 1468 703.8 1467.5 706.2 1467.2 704.6 1466.3 710.5 1466.1 708.9 1466.4 701.6 1465.4 708.7 1465.6 702.4 1465.1 703.8 1464.7 704.3 1463.7 710.5 1463.4 710.5 1462.7 713.3 1463 707.2 1462.7 706 1462.2 707.4 1462.3 703.2 1462.2 700.4 1461 708.4 1461.8 698 1460.9 702.6 1460.7 701.7 1459.3 710 1459.6 704.9 1459.4 703.5 1459.2 701.7 1458.6 703.8 1458.3 703.6 1458.2 701.1 1457.8 701.2 1457.7 699.1 1457.1 701.1 1457.1 698.8 1456.4 700.7 1455.9 701.8 1456 698.6 1456.3 693.5 1455 700.5 1454.3 703.2 1455 695.2 1455.1 692.4 1454 697.4 1453.8 696.6 1454 692.5 1452.5 700.3 1452.8 696.1 1452.7 694.6 1451.2 701.8 1451.3 698.8 1451.6 694.7 1450.6 698.6 1450.2 698.6 1450 697.8 1449.2 700.5 1449.7 695.2 1449.5 694.1 1448.5 698 1446.9 706 1447.8 698.3 1446.7 702.3 1446.6 700.8 1447 696.2 1446.3 698.2 1446.1 697.5 1445.2 700.7 1445.2 698.5 1445.2 696.2 1444.4 699 1443.8 700.3 1443.3 700.8 1443 700.5 1441.4 707.5 1441.6 704.5 1440.4 708.9 1441.5 700.8 1440.3 705.4 1440.7 700.9 1440.4 700.9 1440.8 696.7 1438.6 706.4 1439.2 701.3 1439.4 698.3 1437.9 703.9 1438.1 701.3 1436.5 707.3 1436.3 706.6 1437.7 697.6 1436.7 700.8M1432.1 699.3 1433.9 689.6 1432.8 692.7 1432.7 691.8 1433.1 688.5 1432.7 688.5 1431.8 690.8 1431.8 689.4 1431.5 689.1 1430.6 691.5 1428.9 697.1 1429 695 1430.8 686 1429.5 690.2 1428 694.5 1427.5 695.3 1427.7 692.8 1428.5 688.2 1427.4 691.3 1427.2 690.6 1427.5 687.7 1427 688.4 1426.6 688.7 1428 681.7 1426.3 686.8 1427.1 682.3 1425.3 688.1 1424.1 691.1 1423.8 690.9 1423.3 691.3 1425.6 681.5 1424.5 684.3 1423.8 685.4 1422 690.9 1422.5 687.6 1419.8 696.3 1422.1 686.5 1421.1 688.9 1418.9 695.3 1421.1 686.2 1420.3 687.8 1420 687.6 1419.4 688.4 1418.5 690.1 1416.9 694.5 1417.4 691.3 1419.5 682.7 1416.3 692.7 1418.5 684 1418.7 681.9 1418.9 680 1416.2 688 1417.6 682.1 1414.9 689.7 1415.9 685.3 1416.7 681.2 1415.3 684.7 1414.7 685.4 1412.4 691.9 1414.6 683.6 1411.4 692.6 1410.9 693.2 1410.8 692.4 1412.3 686.2 1412.4 684.7 1411.4 686.9 1410.9 687.3 1413.2 678.8 1411.4 683.2 1409.8 687.1 1410 685.4 1410.8 681.8 1408.4 688 1407.8 688.7 1409.7 681.9 1409.1 682.4 1410.4 677.3 1407.8 684 1409.4 678.2 1407.8 681.9 1409 677.1 1405.5 686.6 1406.8 681.5 1406.4 681.7 1407.1 678.7 1406.6 678.9 1405.7 680.5 1404.7 682.2 1402.8 686.8 1405.6 677.5 1405.4 677.1 1406 674.3 1403.1 681.7 1401.7 684.4 1401 685.3 1400.8 684.9 1404 674.9 1401 682.2 1401.9 678.7 1400.4 681.8 1402.2 675.9 1398.2 685.8 1399.5 681.2 1400.9 676.4 1400.4 676.9 1401.3 673.4 1398.4 680.1 1396.4 684.5 1398.3 678.4 1397.4 679.8 1396 682.6 1397.8 677 1395.7 681.4 1393.9 685.2 1395.6 679.6 1395.5 679 1397 674.1 1392.2 685.3 1393.2 682 1393.1 681.2 1393.4 679.5 1394 676.9 1391.9 681.4 1393.5 676.5 1392.6 677.7 1390 683.2 1393.8 673 1392.5 675.2 1389.9 680.6 1389.4 680.8 1389.6 679.3 1388 682.4 1388.3 680.7 1388.7 678.9 1389.6 675.7 1384.4 687.2 1387.6 678.7 1388.6 675.4 1387.4 677.4 1387.2 677 1387.2 675.9 1383.6 683.5 1384.7 680 1386.1 675.8 1382.8 682.7 1384.9 676.9 1382.7 681 1381.3 683.4 1383.6 677.3 1382 680 1382.8 677.3 1382.2 677.7 1382.5 676.2 1382 676.6 1383.3 672.8 1381.8 675.3 1381.2 675.7 1380.6 676.2 1380.2 676.2 1380.9 673.9 1378.7 677.7 1378.4 677.6 1376.6 680.5 1374.7 683.9 1377.8 676.3 1376.5 678.2 1376.6 677.2 1379.7 669.7 1380.6 667 1378.1 671.4 1376 675.2 1376 674.3 1374.3 676.9 1376.5 671.6 1374.3 675.3 1370.9 681.6 1374.4 673.5 1373.4 674.8 1371.2 678.4 1372.8 674.3 1372.8 673.4 1373.7 670.9 1375 667.5 1367.3 682.2 1369.1 677.7 1370.5 674.1 1369.6 675.2 1371.6 670.4 1369.7 673.3 1368.6 674.8 1368.1 674.9 1366.6 677 1367.4 674.7 1366.2 676.2 1367.8 672.4 1362.3 682.2 1364.8 676.7 1368 669.6 1365.9 672.8 1364.7 674.4 1366.7 669.9 1366.8 668.8 1368 665.9 1365.9 669.1 1364.5 670.9 1364.9 669.4 1363.8 670.8 1361.5 674.3 1359.5 677.2 1362.8 670.3 1364.7 666 1362 670.4 1361.9 669.7 1360.3 671.9 1363.2 665.9 1361.6 668.1 1358.6 672.8 1358.5 672.2 1358 672.3 1356.4 674.6 1357.6 671.5 1358.3 669.6 1356.6 671.9 1357.4 669.6 1356 671.4 1353.7 674.8 1354.3 673.1 1359.1 663.9 1354.7 670.8 1352.7 673.5 1354.1 670.3 1352.2 673 1351.3 673.8 1349.8 675.6 1350.9 672.9 1352.8 669 1352.4 668.9 1351.5 669.7 1352.2 667.8 1350.5 670.1 1349.6 670.8 1345.9 676.4 1349.2 670 1350 668.1 1349.3 668.4 1349.7 667.1 1346.3 672 1347.1 670 1343.2 675.7 1347.1 668.5 1346.5 668.9 1345.7 669.5 1347.6 665.7 1345.9 667.8 1348.6 662.7 1343.3 670.5 1345.1 666.9 1344.5 667.3 1343 669 1339.9 673.1 1341.5 670 1346.7 661 1341.6 668.3 1342.5 666.3 1340.1 669.4 1339.3 670 1339.8 668.4 1339.3 668.5 1337.5 670.6 1336.3 671.8 1338.4 667.9 1337.7 668.3 1336.1 670 1338.2 666.1 1337.2 667 1337.5 665.8 1334.1 670.4 1336.8 665.5 1336.5 665.4 1336.2 665.2 1333.3 668.8 1338.8 659.8 1337.2 661.7 1334 665.8 1335.2 663.3 1336.9 660.1 1332.7 665.7 1332.7 665.1 1333.6 663.1 1332.9 663.4 1334.9 659.8 1333.9 660.6 1330.4 665 1328.6 667 1329.7 664.8 1330.1 663.4 1330.4 662.4 1331.1 660.7 1326.7 666.5 1330.9 659.7 1329 661.8 1325.8 665.7 1328.2 661.7 1326.2 663.9 1329.3 658.9 1327.4 660.9 1329.2 657.7M1335.6 641 1334.7 641.5 1334.8 640.8 1335.6 639.2 1331.7 643.9 1331.7 643.2 1334.4 639.1 1332.8 640.7 1334.3 638.1 1331.1 641.7 1332.2 639.7 1335.1 635.3 1332.9 637.6 1329.6 641.4 1329.3 641.2 1329.8 640 1332.5 635.9 1329.3 639.5 1330.9 636.8 1330 637.4 1327.5 640 1328 638.8 1326.7 639.9 1329.1 636.3 1324.7 641.3 1325 640.4 1327.9 636.2 1326.2 637.7 1324.9 638.8 1327.1 635.4 1324.4 638.2 1327.8 633.6 1325.1 636.3 1321.4 640.2 1323.8 636.8 1326.4 633 1325.3 633.9 1321.5 638 1320.5 638.5 1322 636.2 1323.2 634.2 1319.7 637.8 1320.9 635.8 1322.6 633.3 1321.4 634.1 1321.5 633.5 1321.3 633.2 1322.7 631 1317.3 636.9 1320.3 632.8 1317.8 635.1 1315.4 637.4 1313.8 638.8 1317.6 633.8 1316.1 634.9 1316.7 633.8 1314.5 635.8 1311.6 638.5 1313.7 635.6 1311.1 638 1317.6 630 1319.1 627.8 1318.4 628 1315.4 630.9 1316 629.7 1311.4 634.4 1314.5 630.3 1311.1 633.6 1311.3 632.8 1315.2 628 1313.6 629.2 1308.7 634.2 1304.3 638.4 1310.4 631.2 1308.7 632.6 1312.3 628 1307.4 632.8 1311.5 627.8 1311.3 627.6 1309.6 628.9 1311.3 626.5 1311.1 626.1 1305 632.2 1310.5 625.8 1310.6 625.1 1307.9 627.6 1307.7 627.2 1302.8 631.9 1306.2 627.8 1305.1 628.4 1300.1 633.2 1301.6 631.1 1302.6 629.5 1303.5 628.1 1304.7 626.3 1304.7 625.8 1299.9 630.2 1301.1 628.4 1298 631.1 1301.6 626.8 1298.8 629.3 1304.5 622.9 1297.4 629.6 1298.8 627.7 1300.5 625.4 1298.4 627.1 1298.8 626.1 1296.9 627.5 1297.2 626.7 1294.9 628.5 1295.6 627.3 1298.2 624.2 1298.9 622.9 1296.8 624.5 1296.8 624 1296.8 623.5 1289.3 630.4 1298.8 620.6 1296.3 622.5 1298 620.3 1291.9 625.8 1296.5 620.8 1291.1 625.5 1294.3 621.9 1294.4 621.3 1291.2 623.9 1289.9 624.6 1290.4 623.6 1291.9 621.7 1296.4 616.8 1293 619.6 1291 621 1288.7 622.7 1292.4 618.7 1290.1 620.3 1285.8 623.9 1285.6 623.6 1287.6 621.2 1283.9 624.1 1287.8 620 1285.8 621.4 1285.4 621.2 1287.5 618.8 1286.3 619.4 1288.8 616.6 1285.9 618.7 1283.8 620.2 1285.2 618.4 1284.3 618.7 1288.3 614.6 1286 616.1 1284 617.4 1287.9 613.5 1284.9 615.7 1279.3 620.2 1279.3 619.7 1277.9 620.4 1282.7 615.6 1279.5 618 1282.4 615 1278.6 617.8 1278.2 617.6 1281.5 614.2 1278.7 616.2 1276.5 617.7 1281.4 612.9 1278.8 614.6 1276.9 615.8 1282.5 610.5 1280.4 611.8 1276.3 614.8 1278.3 612.6 1278.4 612.1 1279.4 610.7 1279.8 609.9 1279.3 609.8 1274.5 613.4 1278.2 609.8 1275.3 611.8 1276 610.7 1281.2 605.9 1277.6 608.4 1277.5 608 1276.4 608.5 1274 609.9 1271.8 611.2 1275.6 607.6 1274.5 608.1 1270.6 610.8 1274.3 607.3 1276.3 605.2 1273.6 606.9 1270 609.3 1267.7 610.6 1273.4 605.6 1271.5 606.7 1269.9 607.4 1265.8 610.3 1275 602.5 1271.7 604.6 1265.1 609.4 1272.9 602.7 1268.8 605.5 1271.4 602.9 1271 602.8 1268.9 604 1267.7 604.4 1270.5 601.8 1270.3 601.5 1271 600.5 1271 600 1273.6 597.5 1270 599.8 1270.3 599.1 1265.7 602.2 1261.6 604.8 1265.9 601.1 1270.1 597.5 1264 601.6 1267.7 598.3 1263 601.4 1269.2 596.3 1264.7 599.2 1265.8 597.9 1270.3 594.1M1276.8 583.6 1273.8 585.3 1272 586.1 1274.1 584.2 1272.5 584.9 1276.9 581.4 1267.3 587.7 1267.2 587.3 1272.6 583.1 1271.7 583.3 1276.9 579.3 1272.5 581.9 1271 582.5 1268.3 583.9 1272 581 1271.5 580.9 1273 579.5 1268.6 582 1268.9 581.4 1269.1 580.8 1270.8 579.2 1270.4 579.1 1265.7 581.8 1268.7 579.4 1270.4 577.8 1265.3 580.8 1265.2 580.4 1266.4 579.2 1270.9 575.8 1273.8 573.5 1265.3 578.6 1274.3 572.3 1263.2 579.1 1272.3 572.9 1271.7 572.8 1275.1 570.2 1267.3 574.8 1267 574.6 1267.4 573.9 1260.1 578.1 1259.7 578 1261.8 576.2 1260.2 576.8 1262.9 574.7 1262.6 574.5 1265 572.5 1257.7 576.7 1258.9 575.5 1261.2 573.6 1254.7 577.2 1265.1 570.4 1265.7 569.6 1265 569.6 1267.5 567.7 1263.1 570 1264.5 568.7 1260.6 570.6 1258.6 571.4 1255.9 572.6 1260.5 569.5 1260.4 569.1 1260.3 568.8 1257.7 569.9 1253.6 571.9 1256.3 569.9 1255.6 569.9 1257.3 568.4 1257.2 568.1 1262.4 564.7 1253.4 569.5 1255.4 567.9 1256.6 566.8 1257 566.2 1253.3 567.9 1257.8 564.9 1257.1 564.9 1254.1 566.1 1253.9 565.9 1259.2 562.4 1253.6 565.2 1256.9 562.9 1257.1 562.4 1252.1 564.8 1256.2 562.1 1259.7 559.7 1254.4 562.3 1249.7 564.4 1250.8 563.4 1252.7 562 1250.2 562.9 1255 559.9 1251.3 561.5 1251.4 561 1245.1 564.1 1248.4 561.9 1254 558.4 1248.3 561.1 1247.7 561 1245.4 561.8 1247.2 560.4 1245.7 560.8 1240.6 563.1 1250.1 557.6 1247.1 558.8 1250.4 556.7 1252 555.5 1250.1 556 1251.8 554.8 1252.9 553.8 1247 556.4 1247.8 555.6 1246.4 555.9 1246.4 555.5 1244.7 556 1246.5 554.6 1243.9 555.6 1244.5 554.8 1239.1 557.1 1248 552.3 1247.5 552.1 1246.3 552.3 1248.2 551 1243.8 552.7 1250.7 549 1238.5 554.6 1246.5 550.2 1241 552.5 1242.2 551.5 1242.3 551.1 1239 552.2 1240.4 551.1 1235.9 552.9 1243.8 548.7 1237.7 551.2 1236.7 551.3 1240.5 549.1 1241.2 548.3 1240.3 548.4 1234.3 550.8 1239.6 547.9 1237.3 548.5 1232.4 550.4 1236.7 548 1230.7 550.3 1234.7 548.1 1233.5 548.2 1235.1 547.1 1234.5 546.9 1235.3 546.2 1233.7 546.5 1235.5 545.3 1242.1 541.9 1235.7 544.4 1230.6 546.3 1238 542.6 1237.1 542.6 1237 542.2 1234.9 542.7 1234.6 542.4 1240.8 539.4 1237.1 540.6 1237.4 540 1233.6 541.3 1234.5 540.5 1232.7 540.8 1231.4 541 1230.3 541 1228.5 541.4 1234.3 538.6 1230 540 1235.9 537.1 1234.7 537.2 1233.5 537.3 1234.6 536.4 1228.9 538.4 1232.3 536.6 1233.8 535.6 1231.7 536 1224.5 538.5 1228 536.7 1228.4 536.2 1226.4 536.6 1229.4 535 1235.1 532.3 1224.7 536 1231.4 533 1231.5 532.6 1227.8 533.6 1223.8 534.7 1231.2 531.5 1234.7 529.7 1228.6 531.7 1232.7 529.7 1234.5 528.6 1228.6 530.5 1228.6 530.1 1230.7 528.9 1221.9 531.8 1231.3 527.9 1224.1 530.2 1221 530.9 1227 528.3 1224.3 528.9 1226.3 527.8 1222.2 528.9 1220.4 529.1 1224.6 527.2 1226.3 526.2 1230.6 524.2 1227 525.2 1228.6 524.2 1221.7 526.3 1220.3 526.4 1229.5 522.7 1227.1 523.2 1223.8 523.9 1228.1 522 1228.2 521.6 1226.1 521.9 1225.5 521.7 1224.4 521.7 1225.6 520.9 1229.1 519.4 1224.3 520.6 1222.2 520.9 1227.7 518.7 1223.4 519.7 1226 518.5M1235.3 510.4 1234.8 510.2 1234.7 509.9 1232.2 510.3 1232.5 509.8 1239.6 507.3 1231.3 509.4 1233.2 508.5 1231.6 508.6 1236 506.9 1228.7 508.7 1233.1 507 1229.4 507.7 1233.3 506.2 1229.1 507.1 1236.6 504.5 1232.1 505.5 1229.2 505.9 1232.2 504.7 1235.2 503.5 1235 503.2 1234.6 502.9 1235.3 502.4 1235.3 502 1231.4 502.7 1234.7 501.5 1227.6 503 1229.2 502.2 1227.9 502.2 1231.8 500.8 1227.4 501.6 1226.6 501.4 1232.9 499.4 1228.2 500.2 1229.6 499.5 1228.8 499.4 1222.1 500.7 1230.9 498.1 1223.2 499.7 1222.8 499.4 1226 498.2 1223.9 498.4 1218 499.5 1227.9 496.6 1229.1 496 1223.8 496.9 1228.2 495.4 1232.2 494.1 1225.5 495.4 1233.3 493.1 1229.4 493.7 1233.2 492.4 1223.7 494.3 1223.7 493.9 1220.9 494.2 1223.5 493.2 1228.4 491.7 1223.3 492.6 1227.3 491.3 1223.1 491.8 1230.5 489.8 1227.8 490.1 1225.2 490.3 1229.5 488.9 1220.7 490.5 1222.8 489.7 1224.9 488.9 1225.5 488.4 1221 489 1216.8 489.5 1216.4 489.2 1223.7 487.3 1223.3 487 1227.2 485.8 1222.8 486.4 1225.8 485.4 1219.2 486.4 1224.2 485 1225.7 484.3 1221.4 484.8 1223.5 484 1223.9 483.6 1230.7 481.9 1229.1 481.8 1226.6 481.9 1222.1 482.4 1219.7 482.5 1223 481.6 1222.1 481.3 1224.3 480.6 1224.8 480.1 1218.7 480.9 1222.5 479.8 1223.3 479.3 1221.9 479.2 1228 477.7 1224.4 478 1221.9 478.1 1224.2 477.3 1221.7 477.4 1226.9 476.1 1224.5 476.2 1220.5 476.5 1214.5 477.1 1223.3 475.3 1216.8 476 1218.6 475.3 1222.4 474.3 1226.9 473.3 1218 474.3 1213.9 474.6 1219.4 473.4 1221.8 472.6 1222.8 472.1 1223.4 471.7 1218 472.1 1216.1 472 1219.7 471.1 1214.8 471.5 1218.7 470.5 1219.7 470 1215.7 470.2 1217.7 469.6 1222.2 468.6 1221.8 468.3 1219.7 468.2 1219.5 467.9 1217.7 467.7 1222.3 466.8 1218.2 466.9 1218.3 466.6 1221 465.8 1211.2 466.7 1217 465.6 1213.8 465.7 1215.4 465.1 1215 464.8 1222.6 463.5 1223.6 463 1217 463.4 1215 463.3 1219.4 462.4 1214 462.7 1219.5 461.7 1206.5 462.8 1215.3 461.4 1214.8 461.1 1221 460.1 1223.3 459.5 1222.1 459.2 1219.3 459.2 1216.5 459.1 1213.4 459 1214.7 458.5 1212.9 458.3 1210.4 458.2 1212.5 457.6 1207.5 457.8 1210.5 457.1 1213.5 456.4 1218.5 455.6 1212.7 455.8 1214.9 455.2 1208.6 455.4 1212.2 454.7 1207.1 454.8 1216.2 453.6 1217.7 453.1 1215.1 453 1210.7 453 1219.9 451.9 1215.4 451.9 1210.9 451.8 1212.9 451.3 1206.4 451.4 1213.5 450.5 1211.5 450.3 1215 449.7 1213.2 449.5 1209.9 449.3 1210.8 448.9 1210.5 448.5 1211.4 448.1 1207.1 448 1208.8 447.5 1203.9 447.4 1208.9 446.8 1211.2 446.3 1208.7 446 1206.7 445.8 1207 445.4 1211.9 444.7 1209.9 444.5 1210.6 444.1 1208.9 443.8 1210.2 443.3 1207.8 443.1 1207.9 442.7 1214.2 442.1 1210 441.9 1210.3 441.5 1212 441.1 1211.8 440.7 1208.5 440.4 1214.3 439.9 1213.5 439.5 1214.6 439.1 1211.5 438.9 1206.7 438.6 1208.1 438.2 1209.6 437.8 1211.1 437.4 1211.1 437 1209 436.7 1210.9 436.3 1203 436.1 1209.1 435.6 1203 435.3 1204.9 434.9 1209.4 434.5 1207.1 434.1 1206.1 433.8 1203.5 433.4 1207.8 433 1208.3 432.6 1210 432.2 1207.2 431.9 1205.6 431.5 1207.7 431.1 1206.5 430.7 1212.3 430.4 1209.2 430 1208.2 429.6 1203 429.2 1205.4 428.9 1204.2 428.5 1212.1 428.2 1207.4 427.8 1210.5 427.4 1209.8 427 1207 426.6 1207.9 426.3 1209.1 425.9 1204.1 425.5 1205.3 425.1 1203 424.7 1210.5 424.5 1203.1 423.9 1207.1 423.6 1213.3 423.4 1206.8 422.9 1204.5 422.4M1216.2 417.9 1213.1 417.4 1212.9 417.1 1207.7 416.4 1215.2 416.4 1204.4 415.5 1213.8 415.6 1208.5 415 1213 414.8 1209.9 414.3 1210.6 414 1210.7 413.6 1209.7 413.2 1216.9 413.2 1208.7 412.3 1213.2 412.3 1209.8 411.7 1204.6 410.9 1211.1 411 1212.8 410.8 1210.3 410.2 1210.7 409.9 1216.8 409.9 1212.1 409.2 1219.4 409.4 1214.4 408.7 1214.8 408.3 1213.1 407.8 1214.7 407.6 1206.2 406.5 1211.4 406.6 1211.6 406.2 1212 405.9 1209.8 405.3 1211.5 405.1 1209.6 404.5 1210.5 404.2 1208.9 403.7 1207.5 403.2 1209.4 403 1206.3 402.3 1210.3 402.3 1208.3 401.8 1213 401.9 1213.9 401.6 1215.6 401.4 1214.4 400.9 1209.4 400 1211.1 399.8 1220.3 400.4 1211.8 399.1 1214.4 399 1214.8 398.7 1211.9 398 1211.3 397.6 1212.4 397.3 1214.7 397.2 1215.9 397 1218.4 396.9 1209.5 395.5 1207.1 394.8 1216.2 395.6 1212.9 394.8 1211.8 394.3 1212.2 393.9 1213.6 393.7 1213.3 393.3 1211.5 392.7 1209.9 392.1 1209.3 391.6 1219.8 392.7 1216.7 391.9 1213.2 391.1 1215.5 391 1211.5 390.1 1215.6 390.3 1213.6 389.6 1216.5 389.7 1210.6 388.4 1210.5 388 1206.3 387 1211.1 387.3 1215.3 387.6 1220.9 388.1 1217.7 387.2 1216.6 386.7 1212.9 385.7 1210.7 385 1219.3 386 1212.3 384.5 1216.3 384.8 1216.7 384.5 1220.7 384.8 1215.7 383.6 1220.1 383.9 1211.8 382.1 1221.7 383.5 1217 382.3 1218.4 382.2 1220.2 382.1 1219.3 381.6 1213 380.1 1225.1 381.9 1218.4 380.3 1219.9 380.2 1217.5 379.4 1224.7 380.4 1227.6 380.5 1225.7 379.8 1217.5 377.9 1225.4 379 1219.4 377.5 1220.7 377.4 1223.5 377.6 1222.2 376.9 1224.7 377.1 1221.5 376.1 1226.7 376.7 1226 376.2 1222.1 375.1 1227.6 375.8 1223.5 374.6 1216.4 372.8 1216.4 372.4 1220.3 372.8 1224 373.2 1222.4 372.5 1225.1 372.7 1226.9 372.8 1227.6 372.5 1218.9 370.3 1227.6 371.8 1223.7 370.6 1219.4 369.2 1223.8 369.9 1221.4 368.9 1225.9 369.6 1222.2 368.4 1221.4 367.8 1222.1 367.6 1228.8 368.8 1222.7 367 1226.7 367.5 1228.9 367.7 1224.2 366.2 1229 367 1220.7 364.6 1227.8 366 1220.9 363.9 1223.9 364.3 1229.5 365.3 1220.7 362.7 1223.4 363 1230.6 364.4 1232.3 364.5 1229.7 363.5 1229.4 363 1228.4 362.4 1232.6 363.1 1233.9 363.1 1230.8 361.9 1227.3 360.6 1231 361.3 1229.8 360.6 1230.5 360.4 1224.4 358.4 1224.9 358.1 1232.4 359.8 1230.4 358.9 1231.7 358.9 1232.2 358.6 1227.2 356.9 1227.4 356.5 1230.4 357 1231.4 356.9 1233.5 357.1 1232.2 356.4 1227.7 354.7 1230 355 1236.2 356.4 1229.5 354.1 1232.8 354.7 1232.8 354.3 1231.6 353.6 1234.6 354.1 1231.4 352.8 1233.8 353.2 1235 353.2 1229.6 351.1 1232.8 351.7 1234.3 351.8 1235.2 351.7 1237.8 352.2 1231 349.7 1241.3 352.5 1238.4 351.2 1235.3 349.9 1237.4 350.2 1237.5 349.9 1237.2 349.4 1234.2 348 1237.2 348.6 1234.8 347.5 1237.9 348.1 1236.5 347.3 1239.1 347.8 1234.8 346 1236.5 346.2 1238.9 346.6 1239.6 346.4M1237.4 340.8 1240.1 341.3 1237 339.9 1236.3 339.2 1232.7 337.6 1238.8 339.4 1243 340.5 1243.8 340.5 1239.2 338.4 1238.9 337.9 1243.1 339.1 1241.3 338 1242 337.9 1240.8 337.1 1240.4 336.6 1235 334.2 1238.3 335 1236.5 334 1239.2 334.6 1238.4 333.9 1239.2 333.9 1235.7 332.1 1235.1 331.5 1240.9 333.4 1240.7 332.9 1238.9 331.8 1236.8 330.6 1241.7 332.2 1244.5 332.9 1245.3 332.8 1239.2 330 1240.3 330.1 1240.2 329.6 1240.8 329.5 1240.5 329 1239.9 328.4 1236.8 326.7 1249.3 331.4 1242.7 328.3 1242.4 327.9 1247.6 329.6 1237.2 324.9 1248 329 1239.7 325.2 1240.7 325.2 1246.1 327.1 1244.4 326 1241.4 324.4 1241.5 324 1245.3 325.2 1244.4 324.5 1243.9 323.9 1240.9 322.2 1239.3 321.1 1242.1 321.9 1244.7 322.6 1243.6 321.8 1237.5 318.7 1248.8 323.3 1244 320.8 1244.9 320.8 1245.9 320.9 1240 317.9 1245.1 319.7 1250.2 321.6 1242.9 318 1244 318.1 1243.9 317.6 1246.5 318.4 1245.2 317.4 1251.6 320 1247.4 317.6 1249.6 318.3 1248.9 317.6 1237.5 311.9 1246.6 315.7 1241 312.7 1242.8 313.1 1243.3 313 1242.9 312.4 1240 310.6 1245.6 312.8 1244.1 311.8 1243.8 311.2 1243.9 310.8 1241.1 309.1 1240 308.1 1245.1 310.2 1244.6 309.6 1244.1 308.9 1245.1 309 1245.6 308.9 1242.2 306.7 1244.7 307.6 1245.4 307.5 1247.5 308.2 1241 304.5 1250 308.6 1243.6 305 1245.8 305.7 1249.1 307 1246.4 305.2 1249.1 306.2 1253.3 308 1250.6 306.1 1251.4 306.1 1253.6 306.9 1250.6 304.9 1249 303.7 1249.3 303.4 1247.6 302.1 1253.8 305 1249.2 302.2 1251.6 303 1251.9 302.8 1248.2 300.4 1250.1 301 1249.2 300.1 1255 302.8 1253.1 301.4 1258 303.7 1256 302.2 1252.3 299.7 1250.5 298.4 1253.5 299.6 1258 301.6 1249.7 296.7 1250.3 296.6 1254.5 298.5 1252 296.7 1263 302.4 1250.7 295.1 1251.2 295 1252.1 295.1 1250 293.5 1250.3 293.3 1251.3 293.4 1251.6 293.1 1247.8 290.5 1248.8 290.7 1256.6 294.8 1251.3 291.3 1248.2 289.1 1251.9 290.8 1256.1 292.8 1248.4 287.9 1252 289.6 1254 290.3 1256.8 291.6 1248.9 286.4 1254.7 289.5 1254 288.6 1253.6 288 1249.9 285.4 1251.5 285.9 1250.2 284.6 1252.7 285.7 1254.9 286.6 1257.2 287.6 1258.8 288.1 1263.3 290.4 1256.4 285.8 1257.4 286 1258.7 286.4 1260.3 287 1259.4 286 1260 285.9 1264.8 288.5 1257.8 283.7 1264.5 287.5 1258.4 283.2 1256.6 281.6 1254.8 280 1262.9 284.8 1255.7 279.8 1261.3 282.9 1256.5 279.4 1258.3 280.1 1251.7 275.4 1263.3 282.5 1257.3 278.2 1258.7 278.6 1258.7 278.2 1257.8 277.2 1261.9 279.4 1257.9 276.4 1262 278.7 1265.2 280.3 1261.5 277.4 1264.4 278.9 1265.6 279.3 1258.9 274.4 1259.8 274.5 1265.3 277.8 1259.8 273.7 1263.6 275.8 1259.3 272.4 1266.3 276.7 1263.9 274.7 1258.9 270.8 1263.3 273.4 1264.4 273.7 1262.6 272 1263.9 272.5 1267.7 274.6 1258.5 267.8 1262.6 270.2 1263.4 270.3 1263 269.6 1266.1 271.3 1268.2 272.4 1269.9 273.1 1267 270.6 1267.4 270.5 1260.6 265.2 1266.1 268.6 1270.5 271.3 1260.8 263.9 1269.4 269.6 1267 267.5 1266.2 266.5 1262.8 263.5 1263.4 263.5 1266.3 265.1 1270.3 267.6 1268.3 265.7 1269 265.7 1265.8 262.9 1268.5 264.5 1269.6 264.8 1269.8 264.6 1269.1 263.6 1272.4 265.6 1272.4 265.2 1272.6 264.8 1265.2 258.7 1269.8 261.8 1272 263 1278.3 267.4 1269.7 260.3 1273.4 262.7 1270.1 259.7 1272.9 261.4 1273.1 261.1 1267.6 256.4 1278.2 264.1 1268.9 256.4 1272.9 259.1 1270.5 256.7 1270.9 256.6 1271.9 256.9 1272.6 257 1279.3 261.9 1273.1 256.4 1268.1 252 1272.8 255.3 1273.5 255.4 1267.6 250.1 1273.6 254.5 1275.3 255.4 1270.5 251.1 1275.5 254.6 1279.4 257.3 1271.2 250.1 1278.4 255.5 1272 249.8 1272.8 250 1275.7 251.9 1270.8 247.4 1272.9 248.6 1279 253.2 1278 252 1270.5 245.2 1279.5 252.2 1271.7 245.2 1273.9 246.5 1275.4 247.3 1277.3 248.5 1274.4 245.5 1282.7 252.1 1276.7 246.4 1272.5 242.4 1282.4 250.4 1279.6 247.5 1281.3 248.4 1279.8 246.7 1283.9 249.8 1282 247.7 1279.3 244.8 1282.6 247.2 1282 246.1 1279.9 243.8 1284.7 247.5 1279.2 242.2 1278.7 241.3 1283.5 245 1279.2 240.7 1277.6 238.8 1278.9 239.4 1283.8 243.3 1285.5 244.4 1279.3 238.3 1281.4 239.6 1278.7 236.7 1282.3 239.5 1282.4 239.1 1281.1 237.3 1281.4 237.1 1284.7 239.7 1282.4 237 1281.7 235.9 1280.1 233.9 1283.8 236.8 1285.6 237.9 1284 236 1284.4 235.8 1287.2 237.9 1287.5 237.7 1288.1 237.8 1289.4 238.5 1285.3 234.1 1291.3 239.2 1287.7 235.3 1286 233.2 1287.2 233.8 1289.5 235.5M1305.1 244.2 1306.5 245 1303.2 241.3 1304.7 242.3 1305 242.1 1306.5 243 1305.3 241.3 1307.6 243.2 1306.5 241.7 1306.2 240.8 1308 242.2 1300.7 234.2 1306.1 239.2 1308.9 241.5 1310.4 242.6 1308.2 239.9 1307.3 238.4 1305.3 235.9 1312.4 242.7 1309.6 239.3 1307.4 236.5 1306.9 235.4 1314.6 243 1308.4 236 1310.1 237.3 1313.4 240.3 1310.2 236.4 1307.2 232.7 1309.3 234.4 1310.9 235.6 1311 235.2 1307.2 230.6 1309.8 232.9 1307.6 230 1310.7 232.8 1306.3 227.5 1311.7 232.8 1308.7 229 1309.5 229.4 1312.9 232.6 1309 227.7 1309 227.2 1310.7 228.6 1309.1 226.3 1311 227.9 1308.5 224.5 1311.3 227.1 1312.1 227.5 1311.2 225.9 1310.6 224.7 1310.4 223.9 1314.3 227.8 1312.4 225 1314.7 227.1 1314.1 225.9 1315.8 227.3 1312.6 223.2 1316 226.5 1315.5 225.4 1312.7 221.6 1312.4 220.7 1314 222 1317.1 225.1 1312.6 219.2 1314.3 220.7 1315.6 221.6 1320.6 227.1 1317.7 223.1 1316.6 221.2 1315.7 219.5 1316.5 219.9 1317.2 220.2 1319.3 222.1 1315.5 217 1319 220.7 1317.2 218 1314.1 213.6 1314.8 213.9 1319.7 219.3 1318.4 217.1 1317.4 215.4 1316.7 213.9 1318.4 215.3 1320.8 217.8 1319.2 215.2 1321.2 217.1 1322 217.6 1319.5 213.8 1321.3 215.5 1320.7 214.2 1323.7 217.4 1321.8 214.4 1316.5 207.1 1322.1 213.6 1320.9 211.5 1323.9 214.7 1326 216.9 1322.1 211.3 1321.9 210.4 1320.1 207.4 1322.7 210.2 1319.8 205.8 1320.4 206.1 1321.9 207.4 1321.8 206.7 1318.5 201.7 1318.3 200.8 1322.3 205.4 1325.4 208.9 1325.5 208.5 1325 207.2 1321.7 202.2 1321.7 201.5 1324.5 204.8 1326.8 207.2 1326.8 206.6 1327.9 207.5 1324.5 202.2 1324 200.9 1328.8 206.8 1329.3 206.8 1330.2 207.5 1330.9 207.9 1325.4 199.6 1327 201.2 1324.7 197.4 1326.8 199.7 1325.7 197.5 1326.4 197.8 1325 195.2 1325 194.5 1328.5 198.9 1327.2 196.3 1327.9 196.7 1328.8 197.3 1328.5 196.3 1329.9 197.6 1333 201.3 1335.7 204.7 1333.3 200.5 1330.6 196 1333.7 199.8 1335.3 201.5 1333.2 197.8 1332.3 195.8 1331.6 194.1 1331.3 192.9 1330.3 190.8 1332 192.7 1333.6 194.4 1334.5 195.1 1337.4 198.8 1336 196 1338.1 198.5 1335.3 193.6 1338.4 197.6 1339.1 197.9 1333.5 188.7 1338.3 195.4 1334.4 188.8 1335.9 190.3 1336.1 189.9 1341.5 197.6 1341.2 196.5 1339.2 192.8 1340.6 194.2 1339.5 191.8 1339.5 191 1341.2 193 1341 192 1345.3 198.2 1344.9 196.9 1343.8 194.4 1341.5 190.1 1342.6 191.1 1339.2 185 1341.8 188.5 1343.6 190.7 1340.7 185.3 1343.8 189.5 1342.1 186 1343.3 187.3 1344.4 188.4 1346 190.3 1345 188 1343.4 184.5 1345.5 187.4 1349.5 193.3 1347.7 189.6 1347.5 188.6 1350.1 192.2 1351.6 194 1351.2 192.6 1348.8 187.8 1349.6 188.4 1347 183.2 1347.4 183.1 1347.9 183.2 1348.3 183.3 1350.6 186.4 1349.3 183.5 1354 190.8 1349.8 182.8 1351.9 185.7 1354.3 189.2 1354.5 188.9 1353.8 186.7 1356.3 190.4 1353.4 184.7 1355 186.7 1354.1 184.3 1355.3 185.8 1357.6 189.1 1359.2 191.2 1354.9 182.6 1355.9 183.8 1356.6 184.2 1355 180.7 1358.2 185.6 1360.6 189.2 1358.3 184.3 1355.2 177.8 1362 189.7 1359 183.3 1360.9 186 1359.9 183.4 1358.1 179.3 1360.2 182.4 1357.5 176.4 1361.3 182.9 1361.7 182.9 1362.9 184.4 1360.2 178.5 1363.5 183.9 1361.1 178.4 1362.1 179.6 1365.2 184.8 1363.2 180.1 1362.4 177.7 1364.7 181.4 1362.6 176.6 1365.6 181.5 1365.6 180.7 1365.4 179.6 1367.6 183.2 1365.3 177.8 1366.6 179.5 1371.5 188.5 1370 184.6 1368.1 180.1 1367.7 178.4 1368.9 180 1365.5 172.1 1368.9 178.4 1370.4 180.6 1368.3 175.4 1366.9 171.5 1371.2 179.6 1369.7 175.8 1371.2 177.9 1371 176.8 1372.1 178.2 1374.2 181.8 1371.9 176 1374.8 181.3 1371.5 173.5 1375.5 181.1 1375.4 180.1 1375.3 179 1377.2 182.2 1373.8 173.9 1373.3 172 1375.2 175.3 1379.1 183 1375.9 175 1377.9 178.5 1376.7 175 1378.1 177.2 1381.4 183.7 1376.7 172.3 1378.4 175.3 1381.7 181.8 1379.9 176.7 1381.3 179 1381.4 178.4 1381.8 178.4 1385 184.7 1382.8 178.9 1381.8 175.7 1383.5 178.6 1383.5 177.7 1384.4 179 1383.6 176.2 1384.7 177.8 1387.9 184.4 1387.4 182.3 1385.2 176.2 1386.2 177.6 1385.4 174.8 1387.7 179.4 1390.5 185.2 1388.8 180.1 1387.4 175.8 1388.4 177.4 1390.1 180.4 1389.7 178.6 1389.1 176.2 1389.2 175.4M1399.2 188 1397.8 183.5 1397.1 180.7 1396.5 178.2 1399.8 185.7 1399.2 183.2 1399 181.8 1399 180.6 1400.4 183.4 1399.6 180.3 1401.7 185 1400.4 180.4 1399.7 177.6 1400.2 177.8 1401 178.9 1401.8 180.3 1400.9 176.7 1402.5 180.1 1402.4 178.7 1402.5 178 1401.9 175.1 1403.6 179 1403 176.3 1403.8 177.2 1406.1 182.8 1405.2 179.4 1404.6 176.5 1404.1 174 1406.3 179.3 1405.6 176.2 1406.1 176.4 1405.7 174.2 1407.8 179.3 1406.8 175.1 1406 171.6 1408.5 178.2 1408.7 177.7 1409.5 178.9 1409.6 178 1408.1 172.2 1408.6 172.9 1409.1 173.1 1409.7 173.8 1407.4 165.5 1410.2 173 1413.3 181.7 1410.3 171 1410.5 170.4 1411.9 173.7 1411.6 171.4 1411.1 168.9 1411.6 169.1 1413.6 174.5 1412.3 168.8 1412.4 168.1 1412.8 168.3 1414.1 171.3 1412.4 164.4 1410.3 155.8 1414.5 168.6 1413.7 164.8 1416 171.4 1413.2 160.4 1414.3 163 1415.9 167.1 1415.9 166 1417.8 171.2 1419.5 175.8 1417.7 168.2 1415.9 160.3 1419.2 170.9 1417.6 163.9 1418.9 167.1 1419.6 168.3 1420.8 171.1 1420.5 168.9 1420.4 167.2 1420.6 166.5 1419.6 161.5 1422.5 170.9 1421.2 164.5 1421.8 165.5 1422.4 166.4 1421.9 163.1 1420.9 157.8 1422.7 163 1422.6 161.3 1424 165.2 1422.8 159 1424.3 163.5 1424.3 161.9 1423.7 158.3 1424.7 160.4 1426.7 167 1428.2 171.7 1427.5 167.5 1426.2 160.5 1427.1 162.6 1427.3 162.2 1428.6 166 1427.6 160.1 1428.5 162.4 1426.3 151.5 1428.7 160.1 1429 159.6 1429.1 158.4 1429.9 160.4 1429 154.8 1429.2 153.7 1430.3 157.2 1430.6 156.8 1431.5 159.1 1432.8 163.3 1432.9 162 1431.6 154.5 1433.7 162.1 1433.6 160 1433.4 157.4 1431.9 148.5 1433.8 155.9 1433.6 152.8 1434.3 154.6 1434.6 154.3 1435.2 155.4 1436.2 158.3 1436.5 157.9 1436.9 157.9 1436.8 155.7 1436.6 152.6 1437.9 157.5 1438.1 156.6 1438.9 158.7 1439 157.2 1439.1 155.9 1439.8 157.6 1440.5 159.2 1440.9 159.6 1441.2 159 1442 161.2 1441.4 156 1441.9 157 1442 155.4 1441.5 150.2 1441.7 149.3 1441.8 147.9 1441.8 145.8 1443 150.3 1444.4 156.5 1443.7 149.8 1445.5 158.3 1445.3 154.9 1444.2 145.9 1444.9 147.8 1446 152.2 1445.3 145.9 1446.1 148.2 1447.3 153.4 1447.8 154.1 1447.2 147.8 1447.8 149.5 1448.7 153.1 1447.8 144.8 1449.6 153.8 1449.7 151.7 1449.5 148.3 1450 149.3 1450.5 149.5 1451.4 153.3 1451.1 149 1451.6 149.8 1451.5 145.9 1451.6 144.2 1452.2 146 1452.4 144.1 1453.5 149.8 1453.1 144 1453.9 146.7 1455.1 153.4 1454.6 146.6 1455.2 148.5 1455 143.8 1456.3 150.5 1456.3 148.1 1456.1 143.6 1458.2 157.5 1457.2 146.2 1457.9 148.9 1457.9 145.3 1458.7 149.1 1458.9 147.3 1459.3 148 1459.4 145.2 1460 146.9 1460 143.4 1461 149.8 1461 146 1461.3 145.5 1462.3 150.6 1463 153.8 1462.7 148.2 1462.7 144.4 1464.1 154.3 1464 149.4 1464.1 146.9 1464.7 149.2 1464.5 142.7 1465.2 146.6 1465.4 144.1 1465.9 146.2 1466.3 145.6 1466.4 142.5 1466.8 142.5 1467.3 144.9 1467.8 145.5 1468.3 147.2 1468.8 149 1469.2 148.6 1469.5 148 1470.5 155.7 1471.2 160.1 1471.1 154.4 1471.7 157 1472.5 163.1 1472.1 153 1472.6 155 1473.4 161.8 1473.5 158.1 1473.5 152.5 1474.1 155.4 1473.9 147.4 1474.7 154.2 1475.3 157.6 1475.4 153.8 1475.3 145.5 1475.9 149 1476.8 157.6 1476.8 151.9 1477.1 151.1 1477.9 158.1 1478.3 159.6 1478.6 157.9 1479 158.3 1479.3 158.9 1479.7 157.8 1480 158.2 1480.3 156.5 1480.8 160.3 1481.2 161.4 1481.3 153.5 1481.8 157.5 1482 153.5 1482.5 156.2 1482.9 157.9 1483.3 158.1 1483.6 157.4 1484.2 165.1 1484.5 164.3 1484.8 161.7 1485.1 160.4" stroke="#ee8b7d" stroke-width="1.1"/>
<path d="M1507.4 211.4 1507.9 210.4 1508.2 211.4 1508.6 211 1509 210.5 1509.5 209.8 1509.7 211.8 1510.3 209.5 1510.5 211.2 1511 210.8 1511.4 210.1 1511.7 211.3 1512.1 210.8 1512.6 209.8 1513 210.1 1513.3 210.7 1513.7 211.2 1514.2 209.9 1514.6 209.9 1514.9 210.2 1515.2 210.8 1515.7 210.5 1515.9 211.7 1516.2 212.6 1516.7 211.4 1517 212.6 1517.7 210.2 1517.8 212.6 1518.4 210.9 1518.8 210.8 1519.1 210.9 1519.4 212.3 1520 210.1 1520.2 211.7 1520.9 209.7 1521.2 209.9 1521.5 210.8 1522.1 209 1522.4 209.9 1522.4 212.8 1523 211.2 1523.4 211 1523.8 211.4 1524.1 211.9 1524.6 211.5 1525 211.2 1525.5 210.1 1525.8 210.9 1526 212.6 1526.3 213 1526.6 213.5 1527.2 212.5 1527.8 211 1527.9 212.9 1528.4 211.9 1529 211 1529.1 212.3 1529.3 213.7 1529.6 214.3 1530.6 210.7 1530.5 213.8 1530.7 214.4 1531.1 214.5 1531.6 214.3 1532.1 213.5 1532.2 215.1 1532.7 214.3 1533.1 214.6 1533.4 214.7 1533.9 214.6 1534.3 214.2 1534.7 214 1535 214.6 1535.5 214 1535.7 215 1536.9 211.3 1536.8 213.9 1537.4 212.9 1537.4 214.5 1537.7 215.1 1538 215.7 1538.6 214.7 1538.8 215.5 1539 216.1 1539.7 214.8 1540 215.4 1540.7 213.8 1540.6 216.2 1541 216.2 1541.6 215.5 1542.3 213.9 1542.1 216.5 1542.8 215.4 1543.2 215.5 1543.7 214.8 1543.7 216.5 1544.1 216.5 1544.5 216.6 1544.8 216.8 1545.9 214 1545.7 216.5 1552.7 190.3 1548.1 210.3 1546.5 218 1547.4 216 1547.5 217.3 1548.3 215.6 1548.2 217.5 1548.8 216.7 1549.8 214.8 1549.4 217.8 1549.7 218 1549.9 218.9 1550.8 217.1 1550.7 218.9 1551.8 216.3 1551.3 219.5 1552.2 217.7 1552.2 219.1 1552.8 218.5 1553.3 218.2 1553.9 217.5 1554.4 217.2 1554.4 218.6 1554.3 220.2 1554.9 219.5 1555.5 219 1555.6 220 1556.3 218.8 1556.3 220.2 1556.6 220.6 1557 220.5 1557.8 219.3 1558.2 219.3 1558.5 219.8 1558.6 220.6 1559.2 219.9 1559.6 220.2 1559.7 221.2 1560.1 221 1561 219.7 1560.5 222.2 1561.4 220.9 1562.1 220.1 1561.9 221.7 1562.4 221.4 1562.9 221.2 1562.9 222.5 1563.7 221.2 1564.3 220.8 1563.7 223.6 1564.2 223.4 1564.7 223.1 1565.1 223.2 1565.3 223.7 1566.2 222.3 1566.7 222.2 1566.4 224 1566.9 223.7 1567.5 223.5 1567.6 224.2 1568.5 222.9 1569.1 222.2 1568.6 224.7 1569.5 223.5 1570.4 222.3 1570.8 222.2 1571.1 222.7 1571.2 223.3 1572.4 221.4 1571.2 225.4 1571.8 225 1572.4 224.6 1572.8 224.6 1572.8 225.8 1573.4 225.3 1574 224.7 1574.3 225 1573.9 227.1 1574.5 226.6 1575.4 225.4 1575.7 225.7 1576 226 1575.8 227.6 1576.3 227.4 1576.4 228.1 1576.7 228.3 1577.2 228.3 1577.9 227.5 1578.5 227.1 1578.5 228.1 1578.5 229 1579.1 228.6 1579.9 227.8 1580.5 227.3 1581.3 226.5 1580.3 229.7 1581 229.1 1581.1 230 1582 228.7 1581.9 230.1 1583.2 227.9 1582.8 229.9 1583.5 229.3 1583.7 229.8 1585 227.9 1584 230.9 1584.6 230.7 1585.1 230.4 1585 231.5 1586 230.3 1587.7 227.6 1586.1 232 1586.7 231.6 1586.9 232 1587.9 230.9M1591.4 232.6 1591.8 232.6 1592.3 232.5 1592 233.8 1592.7 233.4 1592.9 233.8 1593.2 234 1593.2 235 1594.1 234 1594.2 234.7 1594.3 235.4 1594.3 236.2 1594.6 236.3 1594.7 237 1596 235.4 1595.4 237.3 1597 235.3 1596.5 236.9 1597 236.8 1597.9 236 1598 236.5 1598.4 236.7 1598.3 237.7 1598.8 237.5 1599 238.1 1599.3 238.2 1599.2 239.3 1600 238.7 1600.3 238.8 1600.4 239.5 1600.6 239.8 1601.8 238.5 1601.5 239.8 1602 239.8 1601.9 240.6 1602.2 240.9 1602.5 241.2 1602.8 241.5 1603.8 240.5 1603.9 241 1604.6 240.7 1605 240.7 1604.7 241.9 1605.4 241.6 1605.8 241.6 1606 242 1606.6 241.9 1607 241.9 1606.8 242.9 1607.3 242.9 1607.3 243.6 1607.8 243.6 1608.3 243.4 1608 244.7 1609.1 243.7 1609.1 244.3 1609.5 244.5 1610.2 244.2 1611 243.6 1610.8 244.6 1610.8 245.3 1611.6 244.8 1611.2 246.1 1612.4 244.9 1612.8 245.1 1613.4 244.8 1613.2 245.9 1613.8 245.6 1613.5 246.9 1614.6 245.8 1613.9 247.6 1614.4 247.6 1614.6 247.9 1615.7 247 1618.1 244.2 1616.1 247.9 1617.2 246.9 1615.9 249.4 1616.5 249.2 1618.3 247.3 1617.2 249.7 1618.1 249 1618.8 248.6 1618.5 249.8 1618.4 250.6 1619.6 249.6 1618.7 251.5 1621.2 248.7 1621 249.6 1620.7 250.7 1622 249.6 1621.3 251.2 1621.7 251.2 1621 252.8 1621.8 252.5 1621.4 253.6 1622.6 252.7 1622.6 253.3 1623 253.4 1624 252.7 1623.4 254.2 1624.2 253.8 1625 253.4 1624.3 254.9 1626.1 253.1 1625.6 254.5 1625.5 255.2 1626.4 254.7 1626.2 255.6 1626.5 255.8 1627.3 255.4 1627.1 256.3 1626.6 257.6 1627.5 257.1 1627.4 257.9 1627.6 258.3 1628.9 257.2 1629.5 257 1629.5 257.7 1629.2 258.7 1629.1 259.4 1629.9 259 1630.2 259.2 1632.8 256.7 1634.9 254.7 1633.3 257.3 1631.8 259.8 1632.6 259.4 1632.3 260.4 1633.1 260 1633.3 260.4 1632.5 261.9 1632.6 262.4 1633.4 262 1633.5 262.5 1633.9 262.6 1633.9 263.2 1636.1 261.2 1634.6 263.7 1638.4 259.7 1635.8 263.4 1636.1 263.7 1636.3 264 1636.6 264.3 1637.9 263.3 1636.8 265.2 1637.1 265.4 1638.2 264.8 1639.8 263.5 1637.6 266.6 1638.8 265.8 1639 266.1 1640.3 265.3 1640.4 265.8 1640.2 266.6 1640.7 266.6 1640.8 267 1641.7 266.7 1642.4 266.5 1642.4 267.1 1642.5 267.6 1642.9 267.7 1642.9 268.2 1643.3 268.4 1642.6 269.7 1644.9 267.8 1642.8 270.6 1643.1 270.9 1644.2 270.2 1643.9 271.1 1643.9 271.6 1645.4 270.7 1644.2 272.5 1644.4 272.8 1645 272.7 1645.5 272.8 1646.4 272.4 1645.7 273.7 1646.4 273.6 1646.6 273.9 1648.7 272.3 1647.3 274.3 1648 274.2 1647.8 274.8 1647.7 275.5 1648.9 274.9 1648 276.3 1648.9 276 1650.7 274.7 1648.8 277.1 1651.3 275.2 1649.5 277.5 1650.3 277.3 1650.7 277.4 1651.6 277.1 1652.1 277.1 1651.8 278 1652.2 278.1 1654.5 276.5 1652.1 279.3 1652.3 279.6 1653.2 279.4 1654.3 278.8 1653 280.6 1654.1 280.1 1654.7 280 1654.4 280.9 1654.3 281.5 1656 280.4 1654.2 282.6 1654.9 282.5 1656.2 281.8 1655.1 283.4 1656 283 1656.1 283.5 1656.8 283.4 1655.9 284.7 1657.4 283.9 1657.1 284.6 1657.4 284.9 1657.5 285.3 1657.8 285.6 1660.1 284.1 1658.7 285.8 1661.5 283.9 1660.4 285.4 1659.4 286.7 1660 286.7 1661.9 285.6 1660.2 287.6 1661.4 287 1660 288.8 1662.2 287.4 1661 288.9 1661.9 288.7 1661.3 289.7 1661.6 290 1662.2 290 1661.5 291 1663.4 290 1662.4 291.3 1662 292.1 1665.9 289.5 1665.9 290 1663.3 292.6 1663.7 292.7 1665.6 291.7 1664.8 292.9 1664.3 293.7 1664.5 294.1M1667.1 296.9 1667.9 296.7 1668.3 296.9 1668 297.7 1668.3 297.9 1668.2 298.5 1669.7 297.9 1668.6 299.1 1669.6 298.9 1671.4 298.1 1669.9 299.7 1668.6 301.1 1670.1 300.5 1672.9 298.9 1672.1 300 1670.5 301.6 1672 301 1672 301.5 1670.7 302.9 1671.1 303.1 1672.6 302.5 1672.2 303.3 1674.6 302 1673.1 303.6 1673 304.1 1673.4 304.4 1673.5 304.8 1673.3 305.3 1673.2 305.9 1673.9 305.9 1675.3 305.4 1673.4 307.2 1675.1 306.4 1675 307 1675.4 307.2 1675 308 1676.4 307.5 1675.3 308.7 1677.1 308 1675.9 309.2 1675.2 310.1 1675.9 310.2 1675.7 310.7 1675.9 311.1 1676.3 311.3 1676.4 311.7 1677.7 311.3 1678.1 311.5 1678.2 311.9 1679.1 311.8 1678.1 312.9 1678.4 313.1 1679.5 312.9 1678.3 314.1 1678.6 314.4 1679.9 314 1680.2 314.3 1680.4 314.7 1680.3 315.2 1679.7 316 1680.5 315.9 1681.4 315.8 1680.6 316.8 1681.3 316.9 1681.9 316.9 1682 317.3 1682.4 317.5 1681.8 318.4 1681.9 318.7 1682.5 318.9 1683.5 318.7 1682.5 319.7 1683.1 319.8 1683.7 320 1683.5 320.5 1683.7 320.9 1684 321.2 1682.6 322.4 1683.4 322.4 1684.5 322.2 1684 322.9 1685.1 322.8 1686.2 322.6 1686.3 323 1686.6 323.2 1684.8 324.7 1685.2 324.9 1685.3 325.3 1686.1 325.3 1685.9 325.9 1686.6 325.9 1686.2 326.6 1686.4 326.9 1687.2 326.9 1686.5 327.8 1687.8 327.5 1686.4 328.7 1688 328.3 1688.4 328.5 1688 329.2 1687.3 329.9 1687.3 330.4 1687.3 330.8 1688.8 330.5 1687.7 331.5 1688.6 331.4 1688.5 331.9 1690.1 331.6 1689.5 332.3 1690.2 332.4 1689.6 333.1 1689.6 333.5 1689.1 334.2 1689.8 334.3 1689.4 335 1691.5 334.4 1690.5 335.3 1691.5 335.2 1690.5 336.2 1692.2 335.8 1690.9 336.8 1693.1 336.2 1691.9 337.2 1692.2 337.5 1691.3 338.3 1692.1 338.4 1692 338.9 1696.7 337.2 1692.1 339.7 1691.9 340.2 1692.7 340.3 1693 340.5 1692.6 341.1 1692.7 341.5 1692.8 341.9 1693 342.2 1693.8 342.3 1694.7 342.3 1693.8 343.2 1694.9 343.1 1693.7 344 1694.5 344.1 1694.9 344.4 1702.2 341.7 1696.1 344.7 1696.3 345 1696.6 345.3 1695.7 346.2 1696.6 346.2 1695.8 346.9 1695.2 347.6 1696.7 347.4 1703.6 345.1 1697.6 347.9 1696.9 348.6 1698 348.6 1696.5 349.6 1697.7 349.5 1698.3 349.7 1697.1 350.6 1698 350.7 1697 351.5 1702 350 1697.8 352 1697.8 352.4 1697.8 352.8 1697.9 353.2 1698.2 353.5 1699.2 353.5 1698.7 354.1 1698.5 354.6 1698.8 354.9 1699 355.3 1699.3 355.6 1698.8 356.2 1699.4 356.4 1700.8 356.3 1699.2 357.3 1699 357.8 1699.4 358M1700.8 361.6 1703.6 361.1 1700.9 362.4 1701.7 362.5 1701.4 363 1702 363.2 1701.5 363.8 1702 364.1 1703.4 364 1703 364.5 1702 365.3 1702.5 365.5 1702.1 366 1702.9 366.2 1703.9 366.3 1702.7 367.1 1702.5 367.5 1704.4 367.4 1702.6 368.3 1703.5 368.4 1703 369 1702.6 369.5 1703.4 369.7 1704 369.9 1704.6 370.2 1703.7 370.8 1703.7 371.2 1703.9 371.6 1705.5 371.5 1704.1 372.3 1705.2 372.4 1703.8 373.2 1706.3 372.9 1705.8 373.5 1705 374.1 1705.5 374.3 1705.2 374.8 1706 375 1704.7 375.7 1704.9 376.1 1704.9 376.5 1707.4 376.3 1706.6 376.8 1705.8 377.5 1704.9 378.1 1706.8 378 1705.9 378.6 1707.1 378.7 1707.5 379 1706.3 379.7 1706.9 380 1706.9 380.4 1706 381 1706.7 381.2 1708.5 381.2 1706.8 382 1707.2 382.3 1708.5 382.4 1707 383.1 1707 383.5 1706.1 384.1 1706.6 384.4 1707.8 384.6 1706.8 385.2 1706.8 385.5 1707.4 385.8 1708.2 386 1708.7 386.3 1709.9 386.5 1708.8 387.1 1707.4 387.8 1707.6 388.2 1709.4 388.2 1707.6 388.9 1708.3 389.2 1709.1 389.4 1709.3 389.8 1709.8 390.1 1708 390.8 1708.6 391.1 1708.4 391.5 1709.2 391.8 1709.6 392.1 1709.5 392.5 1709.2 393 1708.9 393.4 1709 393.8 1711.4 393.8 1709.9 394.4 1711.4 394.6 1708.8 395.4 1708.8 395.8 1709 396.1 1709 396.5 1709.2 396.9 1709.2 397.3 1711.2 397.4 1710.5 397.9 1711.1 398.2 1710.6 398.6 1712.7 398.7 1714.7 398.8 1710.2 399.9 1711.8 400 1710.4 400.6 1710.6 401 1709 401.6 1709.2 401.9 1710.5 402.2 1709.7 402.7 1713.7 402.6 1710.4 403.4 1710 403.8 1710.1 404.2 1710 404.6 1711.1 404.8 1710.4 405.3 1711 405.6 1712.8 405.8 1714.6 406 1709.8 406.9 1711.6 407.1 1709.8 407.7 1711.7 407.9 1711.3 408.3 1711.9 408.6 1712.4 409 1712.2 409.4 1711.2 409.9 1712.7 410.1 1712.8 410.5 1710.9 411.1 1710.7 411.5 1713.2 411.7 1712.3 412.1 1711 412.6 1711.4 413 1711.7 413.3 1710.8 413.8 1712.1 414.1 1712.7 414.4 1711.3 414.9 1711.2 415.3 1710.9 415.7 1712.8 416 1711.8 416.4 1713.3 416.7 1712.9 417.1 1713.4 417.5 1712.2 418 1711.9 418.4 1713.5 418.7 1713.7 419.1 1712 419.5 1711.5 419.9 1712.6 420.3 1713.2 420.6 1711.8 421.1 1712.4 421.4 1713.4 421.8 1712.1 422.2 1712 422.6 1710.8 423.1 1713.4 423.4 1711.7 423.8 1714.1 424.1 1713.7 424.5 1711.5 425 1712.1 425.3 1711.8 425.7 1711.5 426.1 1713.4 426.5 1712.6 426.9 1712.1 427.3 1712.1 427.7 1712.7 428 1712.5 428.4 1712.2 428.8 1712.4 429.2 1716.1 429.6 1711.7 430 1712 430.4 1712.6 430.7 1712.9 431.1 1714.1 431.5 1711.9 431.9 1712.8 432.3 1711.8 432.7 1711.2 433.1 1711.5 433.4 1711.6 433.8 1712.5 434.2 1712.3 434.6 1712.2 435 1712.8 435.4 1714 435.8 1713.8 436.2 1713 436.6 1713.4 437 1712.1 437.3 1712 437.7 1713.6 438.2 1713 438.5 1713 438.9 1712.4 439.3M1713.1 443.2 1713 443.6 1716 444.1 1712.5 444.3 1713.8 444.8 1712.5 445.1 1712.6 445.5 1712.2 445.8 1712.5 446.3 1711.1 446.5 1714 447.1 1712.4 447.4 1713.7 447.9 1711.7 448.1 1711 448.5 1711.9 448.9 1714.5 449.5 1711.3 449.7 1711.9 450.1 1711.6 450.5 1711.2 450.8 1710.6 451.1 1711.4 451.6 1711.5 452 1712.2 452.5 1711.2 452.8 1711.3 453.2 1712.8 453.7 1709.7 453.8 1711.7 454.4 1711.8 454.8 1711.4 455.1 1710.9 455.5 1709.5 455.7 1709.8 456.1 1710.5 456.6 1710.5 457 1712.6 457.6 1710.6 457.8 1710.8 458.2 1709.6 458.4 1713.6 459.3 1711.1 459.4 1709.5 459.6 1709.6 460 1709.1 460.3 1709.2 460.7 1710 461.2 1709.5 461.5 1713 462.4 1710.9 462.5 1710.3 462.8 1709.4 463.1 1710.4 463.6 1709.9 463.9 1709.2 464.2 1710.2 464.8 1709.1 465 1710.1 465.5 1709.2 465.8 1710 466.3 1711.1 466.9 1708.5 466.8 1708.4 467.2 1710.9 468 1710.7 468.4 1708.6 468.4 1709.5 469 1708.2 469.1 1708.6 469.6 1710.7 470.4 1709.7 470.6 1710.1 471.1 1708.9 471.2 1708.6 471.6 1710.6 472.4 1709.6 472.6 1707.6 472.6 1706.9 472.8 1707.8 473.4 1707.2 473.7 1707.7 474.2 1707.9 474.6 1708.4 475.1 1707.2 475.3 1707.3 475.7 1707.6 476.1 1706.6 476.3 1707.8 477 1708.1 477.4 1707.9 477.8 1707.3 478 1706.4 478.2 1707.9 479 1708 479.4 1709.6 480.2 1706.9 479.9 1705.7 480.1 1706.9 480.7 1706.1 481 1705.9 481.3 1706.8 481.9 1706 482.1 1706.5 482.6 1705.3 482.7 1707.8 483.8 1704.5 483.3 1705.9 484.1 1707.3 484.9 1705.9 484.9 1704.9 485 1705.9 485.7 1704.1 485.6 1704.7 486.2 1706.4 487 1707.8 487.8 1704.5 487.3 1705.7 488.1 1704.6 488.2 1704.2 488.4 1703.8 488.7 1706.7 490 1704.6 489.8 1705.4 490.4 1704 490.4 1703.4 490.6 1705.2 491.6 1703.4 491.4 1703.5 491.9 1703.6 492.3 1704.8 493.1 1703.4 493 1704.2 493.7 1704.3 494.1 1704.8 494.7 1702.3 494.3 1702.6 494.8 1702.5 495.2 1702.2 495.5 1701.4 495.7 1703.5 496.8 1701.6 496.6 1701.9 497.1 1701.4 497.3 1702.1 497.9 1701.8 498.2 1704.9 499.7 1701.1 498.8 1700.8 499.1 1700.4 499.4 1700.1 499.7 1700.4 500.2 1700.3 500.6 1700.4 501 1700.6 501.5 1700.2 501.8 1699.6 502 1699.8 502.5 1701.1 503.4 1699.8 503.3 1700.1 503.8 1701.4 504.7 1699.6 504.4 1699.1 504.7 1698.6 504.9 1700.6 506.1 1699.4 506 1698.5 506.1 1699 506.7 1698.4 506.9 1699.1 507.6 1698.5 507.8 1698.8 508.3 1698.9 508.7 1698.9 509.2 1698.7 509.5 1698.6 509.9 1697.5 509.9 1696.6 510 1696.6 510.3 1696 510.6 1696.2 511 1696.6 511.6 1696.2 511.8 1697.5 512.8 1696.8 512.9 1696 513.1 1695.9 513.4 1696.8 514.2 1695.8 514.2 1695.6 514.5 1694.7 514.6 1695.3 515.3 1697 516.4 1697.5 517 1695.9 516.8 1696.4 517.4 1694.5 517 1695.1 517.7 1694.3 517.8 1693.6 517.9 1694.6 518.8 1694.9 519.3 1694.3 519.5 1695.9 520.6 1694.4 520.4 1694.1 520.7 1693.3 520.7 1693.2 521.1 1692.4 521.2 1694.2 522.4 1692 521.8 1693 522.7 1693 523.2 1692.8 523.5 1691.3 523.2 1692.2 524.1 1690.4 523.7 1690.5 524.1 1690.3 524.5 1691.4 525.4 1692.9 526.5 1689.8 525.5 1690.4 526.2 1691.3 527.1 1690.2 527 1691.7 528.2 1691.4 528.4 1690.3 528.3 1690.4 528.8 1689.1 528.6 1689.6 529.3 1689 529.4 1690.4 530.6 1690.5 531.1 1688.3 530.4 1688.6 530.9 1689.1 531.6 1687.5 531.3 1686.8 531.3 1688.9 532.9M1685.8 535.6 1686.3 536.3 1685.4 536.3 1684.2 536 1684.3 536.6 1684.2 536.9 1684.5 537.6 1684 537.7 1684.3 538.3 1683.5 538.3 1683.5 538.8 1685.3 540.2 1682.9 539.3 1683.8 540.2 1684.7 541.2 1683 540.7 1683.6 541.5 1682.9 541.5 1683.6 542.4 1681.9 541.9 1683.7 543.4 1682 542.8 1683.4 544.1 1681.6 543.5 1681.1 543.6 1681.2 544.1 1680.2 544 1680.5 544.6 1679.7 544.6 1679.9 545.2 1679.6 545.4 1678.9 545.5 1679 546 1678.6 546.2 1678.4 546.5 1679.9 547.9 1678.7 547.6 1678.4 547.9 1677.7 547.9 1677.5 548.2 1677.6 548.7 1676.8 548.7 1677 549.3 1676.6 549.5 1676.4 549.8 1676.4 550.2 1677.8 551.6 1675.6 550.7 1677.4 552.3 1676.3 552.1 1675.6 552 1675.7 552.6 1675.5 552.9 1675.8 553.6 1676 554.2 1674.9 553.9 1674.4 554 1674.8 554.8 1675.7 555.9 1674.2 555.3 1673.8 555.5 1673.4 555.7 1673 555.9 1673.4 556.7 1672.2 556.2 1671.8 556.5 1672.1 557.1 1672.4 557.8 1671.9 558 1672.1 558.6 1672.9 559.6 1671 558.7 1670.6 558.9 1670.7 559.5 1670.1 559.5 1669.7 559.7 1669.8 560.3 1669.3 560.4 1672.1 562.9 1668.8 560.9 1668.9 561.5 1668.4 561.6 1667.7 561.6 1670.1 563.9 1667.5 562.4 1668.4 563.6 1668.1 563.8 1666.6 563.2 1666.6 563.6 1666.8 564.3 1666.8 564.8 1667.6 565.9 1666.1 565.3 1665.7 565.4 1667.1 567 1666 566.7 1665.9 567.1 1665 566.8 1663.8 566.4 1664.1 567.1 1663.7 567.3 1663.7 567.8 1664.8 569.1 1663.9 568.9 1665.1 570.4 1663.5 569.6 1662.8 569.5 1662.3 569.6 1661.7 569.6 1661.7 570.1 1661.8 570.7 1661.9 571.3 1661.6 571.6 1660.7 571.3 1661.3 572.3 1660.7 572.3 1659.5 571.8 1659.7 572.4 1660 573.2 1660.6 574.3 1658.7 573.1 1658.7 573.6 1659.6 575 1659.4 575.3 1659.1 575.5 1659.8 576.6 1657.7 575.4 1657 575.2 1658.2 576.8 1657.9 577 1656.8 576.6 1656.6 577 1656 576.9 1656 577.4 1655.9 577.9 1656.7 579.1 1654.4 577.6 1654.8 578.4 1655 579.2 1654.5 579.3 1653.9 579.2 1654.9 580.6 1655.5 581.7 1652.6 579.6 1653.4 580.8 1652.7 580.7 1652.9 581.5 1653.7 582.7 1652.8 582.4 1652.6 582.7 1651 581.7 1650.8 582.1 1650.7 582.5 1651.4 583.7 1651.2 584.1 1650.3 583.7 1651.1 585.1 1649.3 583.9 1649.3 584.4 1649.1 584.8 1649.2 585.5 1649.3 586 1648.1 585.4 1647.2 585.1 1647.3 585.7 1646.7 585.6 1646.7 586.2 1646.5 586.5 1647.1 587.7 1646.8 587.9 1647.9 589.6 1645.6 587.9 1646 588.8 1645.3 588.7 1645 588.9 1645.4 589.8 1644.7 589.7 1643.6 589 1643.2 589.2 1643.7 590.3 1643.2 590.3 1642.9 590.6 1645 593.4 1641.9 590.7 1641.8 591.2 1643.2 593.1 1641.1 591.4 1641.1 592 1642 593.6 1640.4 592.4 1641.3 594.1 1639.7 592.8 1639.5 593.1 1640.2 594.5 1639.3 594.1 1639.3 594.7 1638.3 594.1 1638.5 594.9 1637.8 594.8 1638.4 596 1637.9 596 1636.9 595.5 1636.6 595.8 1637 596.8 1637.8 598.2 1635.8 596.5 1638.2 600 1635 596.9 1636.2 598.8 1635 597.9 1634.5 598 1633.8 597.7 1634.4 599.1 1633.1 598.1 1633.6 599.4 1632.8 599 1633.1 599.9 1632.8 600.2 1632.7 600.6 1632.8 601.5 1631 599.9 1631.5 601.1 1632 602.3 1631.1 601.8 1630.1 601.2 1630.5 602.2 1630.4 602.8 1629.2 601.9 1629.5 602.9 1628.7 602.5 1630.2 605 1628.2 603.1 1628.3 603.8 1627.3 603.2 1627.8 604.5 1627.2 604.3 1626.5 604.1 1626.6 604.9 1626.3 605.1 1627 606.7 1627.2 607.6 1626 606.6 1625.7 606.8 1625.5 607.3 1625 607.3 1640.5 628.6 1627.9 612.4 1623.2 606.8 1623.4 607.7 1622.9 607.7 1622.9 608.3 1622.5 608.4 1622.4 609 1622.7 610 1621.7 609.3 1621.4 609.6 1620.7 609.3 1620.8 610.1 1619.8 609.3M1617.3 612.4 1616.3 611.7 1616.1 612.1 1615.6 612.1 1617.1 614.9 1617.3 615.9 1614.7 612.8 1614.5 613.2 1615.4 615.2 1613.8 613.5 1614.2 614.8 1614.1 615.4 1613.4 614.9 1612.3 614 1612.7 615.3 1611.4 614 1611.6 615.1 1611.5 615.7 1610.9 615.4 1610.3 615.2 1610.5 616.3 1610.1 616.4 1609.5 616.2 1609.4 616.7 1608.9 616.5 1608.6 616.9 1608.4 617.2 1607.7 616.9 1607.9 617.9 1608.5 619.6 1607.5 618.7 1607.9 620.2 1606.5 618.6 1606 618.6 1606.3 619.8 1605.3 618.9 1605.2 619.4 1605.2 620.2 1603.8 618.7 1604.3 620.2 1604.6 621.4 1602.9 619.4 1603.5 621.2 1603.1 621.2 1602.2 620.5 1602 620.8 1601.7 621.1 1601.2 621 1601.1 621.7 1601.8 623.6 1600.6 622.4 1599.8 621.7 1600.5 623.8 1599.5 622.7 1600.3 625.1 1599.4 624.2 1599.5 625.2 1598 623.2 1598.9 625.7 1597.6 624.2 1596.7 623.3 1597.1 624.8 1596.2 624 1595.6 623.7 1595.6 624.4 1595 624.2 1595 625 1594.9 625.7 1594.1 624.9 1594.5 626.5 1593.5 625.4 1592.9 625.2 1593 626.2 1592.4 626 1592.5 627 1591.7 626.2 1591.7 627.2 1590.9 626.4 1590.9 627.3 1590.2 626.6 1590.4 628 1589.4 626.8 1589.3 627.5 1588.8 627.3 1589.6 629.9 1588.6 628.7 1588.2 628.6 1587.9 629 1588.2 630.6 1588.5 632.1 1587.7 631.3 1587.1 631 1586.5 630.5 1586.6 631.6 1585.7 630.8 1585 630.1 1584.5 630.1 1584 629.8 1583.7 630 1583.9 631.4 1583.7 631.9 1583.4 632.1 1582.3 630.7 1581.8 630.5 1581.5 630.8 1581.9 632.6 1581.9 633.6 1580.8 632.1 1580.8 633.1 1581.2 634.9 1581.3 636.2 1579.8 633.7 1579 632.9 1579.5 635.1 1578.8 634.3 1577.7 632.7 1578.1 634.6 1577.8 634.9 1576.8 633.7 1577.7 636.9 1576.5 634.8 1575.5 633.6 1575.8 635.4 1575.2 634.8 1575.3 636.2 1574.2 634.4 1573.7 634.1 1573.5 634.8 1573.3 635.3 1572.7 634.9 1572.4 635 1572.1 635.3 1572.5 637.5 1572.1 637.6 1571 635.8 1571.4 637.8 1570.1 635.7 1569.6 635.4 1569.4 635.9 1569.1 636.2 1568.7 636.2 1568.4 636.6 1567.9 636.4 1568.2 638.4 1567.3 636.9 1567.3 638 1567 638.3 1566.2 637.3 1566.2 638.4 1565.7 638.2 1565 637.5 1566.4 642.6 1564.6 638.5 1564.2 638.7 1563.6 638 1567 649.3 1563.7 640.8 1562.7 639 1562.1 638.3 1561.7 638.3 1562 640.5 1561.1 639 1560.6 638.9 1560.9 641 1560 639.6 1560.3 641.7 1559.6 640.6 1559.2 640.7 1558.5 639.9 1558.4 640.7 1557.8 640.2 1557.5 640.7 1557.1 640.7 1557 641.4 1556.4 640.9 1556.2 641.7 1555.5 640.5 1555 640.2 1555.2 642.3 1554.8 642.2 1554.5 642.8 1553.8 641.8 1553.2 640.9 1553 641.6 1552.8 642.4 1552.1 641.5 1551.7 641.4 1551.4 641.8 1551.3 642.8 1550.9 642.9 1550.6 643.3 1550.3 643.7 1549.6 642.5 1549.2 642.3 1548.8 642.5 1548.7 643.7 1548.1 642.8 1548.1 644.4 1547.5 643.5 1547.3 644.5 1546.8 644 1546.6 644.7 1546 643.9 1546.1 646.1 1545.4 644.7 1544.6 643.3 1544.6 644.6 1544.3 645 1543.7 644.2 1543.4 645 1543.4 646.3 1542.8 645.8 1542.5 646.2 1542 645.7 1541.4 644.7 1541.3 645.9 1540.8 645.6 1540.2 644.9 1539.8 644.6 1539.7 645.9 1539.2 645.4 1538.9 646.1 1538.3 645.1M1535 648.1 1534.7 648.6 1534.3 648.4 1533.7 647.5 1533.2 647 1532.9 647.5 1532.4 647.2 1532.1 647.5 1531.6 647 1531.5 648.4 1531.2 649.2 1530.7 648.4 1530.3 648.2 1529.9 648.4 1529.4 647.6 1528.9 646.8 1528.4 646.4 1528.1 646.7 1527.9 648.2 1527.3 646.7 1527.2 648.9 1526.6 647.6 1526.4 648.8 1526 648.6 1525.4 647.3 1525.1 647.9 1524.8 648.5 1524.6 649.6 1524 648.3 1523.7 648.6 1523.4 649.3 1522.9 648.9 1522.4 648.2 1522 647.9 1521.7 648.7 1521.5 650.1 1521.1 650.2 1520.6 649.1 1520.2 648.7 1519.7 647.8 1519.5 649.7 1519 648.7 1518.5 647.8 1518.3 649.8 1517.9 649.1 1517.5 648.9 1517 648.4 1516.6 648.6 1516.5 650.8 1516.2 651.2 1515.5 649.1 1515.1 649 1514.8 649 1514.5 650 1514.3 652.1 1513.7 649.7 1513.4 650.8 1512.9 650.1 1512.7 652 1512.3 651.3 1511.7 649.5 1511.3 649.9 1511.1 651.1 1510.6 650.1 1510.2 650.4 1509.8 650.2 1509.6 652.1 1510.1 664.3 1508.9 653 1508.2 649.4 1507.9 650.8 1507.5 651 1507.1 650.7 1506.7 650.3 1506.4 651.4 1506 650.5 1505.6 651.5 1505.1 649.8 1504.8 650.1 1504.4 651.1 1504.1 652.2 1503.6 650.6 1503.2 650.1 1502.8 649.4 1502.6 652.6 1502.1 650.9 1501.7 650.5 1501.3 649.6 1501 651.9 1500.5 650.8 1500.1 650.2 1499.8 650.4 1499.4 650.3 1498.9 649.2 1498.6 650.5 1498.2 650.8 1497.8 651 1497.4 650.2 1497.1 653.8 1496.7 650 1496.3 650.8 1495.9 651.6 1495.5 650.7 1495.1 650.5 1494.7 649.8 1494.3 650.3 1494 651.3 1493.6 651.5 1493.2 650.6 1492.8 652.9 1492.4 650.1 1492 650 1491.6 651 1491.3 650.4 1490.9 651.3 1490.5 649.8 1490.1 651.6 1489.7 650.4 1489.3 650.9 1488.9 650.8 1488.5 651.1 1488.2 651 1487.8 650.7 1487.4 652.2 1487 650.9 1486.6 652.5 1486.2 650.6 1485.9 650.2 1485.4 651.9 1485.1 650.1 1484.7 651.2 1484.3 651.5 1483.9 650.8 1483.5 650.4 1483.2 649.5 1482.8 650.5 1482.4 650.6 1481.9 651.2 1481.6 651.3 1481.2 650.8 1480.8 651.3 1480.4 650.8 1480 650.6 1479.6 651.5 1479.2 651.1 1478.9 650.4 1478 658.1 1478.1 651.3 1477.7 650.1 1477.4 649.9 1477 649.9 1476.6 650.2 1476.1 650.8 1475.9 649.1 1475.3 651.8 1475 650.1 1474.5 651.7 1474 653.3 1473.9 649.7 1473.5 649.8 1473 650.7 1472.7 650.1 1472.3 649.7 1471.7 652.6 1471.5 650 1471.1 650.5 1470.7 651.2 1470.4 650.1 1470.1 649.3 1469.6 650.1 1469.2 649.8 1468.9 648.8 1468.6 648.4 1468.2 648.3 1467.8 648.5 1467.4 648.9 1466.9 649.6 1466.6 648.8 1466.3 648.4 1465.9 648.6 1464.9 653.2 1464.9 649.7 1464.5 650.2 1464.1 650 1463.8 649.1 1463.4 649.5 1463.1 649.2 1462.6 649.8 1462.4 648.3 1462 648.5 1461.2 651.3 1461.1 649.1 1460.6 649.8 1460.3 649.1 1460.2 647.3 1459.8 647.1 1459.1 649.2 1459.1 647.2 1458.5 648.4 1458 649 1457.5 649.6 1457.3 648.5 1457.1 647.2 1456.6 648 1456.3 647.4 1455.9 647.5 1455.5 647.3 1455.1 647.2 1454.7 647.4 1454.4 647.2 1453.9 647.5 1453.6 647 1452.7 649.6 1452.9 646.6 1452.3 647.9 1451.9 647.9 1451.8 646.4 1451.3 647 1450.9 646.9 1450.3 647.9 1449.8 648.6 1449.7 646.7 1449.5 646.1 1449.1 646.1 1448.8 645.6 1448 647.2 1448 645.7M1444 645.7 1443.8 645.1 1443.5 644.8 1443.1 644.6 1442.3 646.5 1442 645.8 1441.4 646.8 1441.4 645 1440.8 645.9 1440.4 646.1 1440.2 645 1439.6 645.9 1439.6 644.3 1439.2 644.3 1438.6 645.2 1438.1 645.5 1437.6 646 1436.9 647 1437.2 644.2 1435.9 647.8 1436.1 645.6 1436.2 643.6 1435.5 644.6 1435.2 644.3 1435 643.5 1434.6 643.4 1434.4 642.6 1434.1 642.3 1433.4 643.5 1433 643.3 1432.9 642.4 1432.2 643.3 1432.3 641.8 1431.8 642.2 1431.4 642 1430.7 643 1430.4 642.6 1429.9 642.8 1429.6 642.5 1429.6 641.3 1429.2 641.2 1428.2 643.1 1428.2 642 1428 641.3 1427.7 641 1427.5 640.1 1426.6 641.8 1426.7 640.1 1426.3 640 1426 640 1425.6 640 1425.2 639.7 1424.7 640 1424.3 640.2 1424.2 639.1 1423.7 639.5 1423.6 638.6 1423 639.2 1422.6 639 1422.1 639.4 1421.7 639.3 1421.1 639.8 1420.8 639.6 1420.6 638.8 1419.8 640.2 1419.8 638.9 1419.6 638.2 1418.8 639.4 1418.8 638.2 1418.3 638.4 1418.3 637.4 1417.3 638.8 1417.3 637.8 1417 637.6 1417 636.5 1415.5 639.3 1415.9 637.1 1414.8 639 1415.3 636.4 1414.6 637.3 1414.7 635.8 1414.1 636.5 1414 635.7 1413 637.2 1413.2 635.6 1413.1 634.8 1411.9 636.7 1411.4 637 1411.8 634.8 1411.2 635.4 1411 634.8 1410.7 634.5 1410.2 634.7 1409.4 635.6 1409.6 634.2 1408.3 636.4 1408.6 634.6 1408.5 633.7 1407.8 634.3 1407.7 633.6 1407.5 633.2 1407.1 633 1406.5 633.5 1406.5 632.6 1405.5 634 1405.6 632.8 1405.2 632.7 1404.9 632.4 1404.6 632 1404.2 632 1403.8 631.9 1403.6 631.6 1403.3 631.1 1402.7 631.5 1399.1 638.8 1401.5 632.4 1401.4 631.7 1401.4 630.7 1400.2 632.5 1400.4 631.1 1400.5 630 1400.4 629.3 1399.9 629.3 1398.8 630.7 1399.1 629.3 1398.6 629.5 1397.8 630.2 1397.7 629.4 1396.6 631 1397.1 629 1397 628.4 1395.7 630 1395.9 628.9 1394.8 630.1 1395.3 628.4 1395.3 627.3 1394.4 628.4 1393.8 628.6 1393.8 627.9 1393.5 627.5 1393.1 627.4 1392.5 627.8 1392.4 627.2 1392.4 626.2 1391.4 627.5 1391.3 626.8 1390.1 628.3 1390.4 626.8 1388.9 628.8 1390.1 625.7 1389 626.9 1389.2 625.8 1389.2 624.9 1387.8 626.7 1388.3 625 1387.2 626.2 1387.4 625 1387.2 624.6 1387.2 623.7 1386.9 623.5 1386.3 623.8 1386.1 623.3 1386 622.8 1385.3 623.1 1385.1 622.8 1384.2 623.5 1383.7 623.6 1383.9 622.4 1383.2 622.9 1383.6 621.5 1382.8 622.1 1382.3 622.2 1382 621.9 1381.3 622.3 1381.8 620.6 1381.4 620.5 1380.7 621 1380.4 620.8 1379.8 621 1380.1 619.8 1379.7 619.7 1379.4 619.5 1378.7 619.9 1378.6 619.3 1376.6 621.8 1377.8 619.1 1377.3 619.1 1377.8 617.7 1377 618.3 1375.7 619.6 1376 618.3 1375.7 618.1 1375.5 617.7 1374.2 619 1375.3 616.5 1374.5 617.1 1374.1 616.9 1374.4 615.8 1373.9 615.8 1373.6 615.5 1372.4 616.8 1371.9 616.9 1371.8 616.3 1371.2 616.5 1371.8 614.8 1370.9 615.5 1370.8 615 1371.3 613.4 1369.8 615.1 1368.2 616.8 1369.1 614.7 1368.7 614.5 1369 613.4 1369 612.8 1368.6 612.7 1368.2 612.5 1368 612.1 1366.9 613.1 1366.9 612.4 1366.6 612.2 1366.7 611.3 1366.2 611.4 1366.4 610.4 1365 611.8 1365.1 610.9 1363 613.2 1362.8 612.9 1364.5 609.8 1363.8 610 1364.1 609M1358.7 609.8 1360.1 607.3 1360.3 606.4 1360.3 605.7 1357.8 608.4 1359.6 605.4 1359.1 605.4 1358.5 605.5 1357.9 605.7 1357.2 606 1357.2 605.4 1356.6 605.5 1355.7 606 1355.4 605.7 1356.3 604 1356.6 602.9 1356.5 602.5 1356 602.5 1355.3 602.7 1354.4 603.2 1354.1 603 1353.9 602.6 1353.1 603 1353.6 601.7 1352.7 602.3 1353 601.2 1351.5 602.5 1352.8 600.2 1352.5 600 1351.9 600.2 1351.3 600.2 1351.2 599.8 1350.7 599.7 1351.1 598.7 1350.3 599 1350.1 598.6 1347.7 600.9 1348.9 599 1349.1 598.1 1348.2 598.5 1348.6 597.4 1348.6 596.9 1347.6 597.4 1347.3 597.2 1346.3 597.7 1344.9 598.7 1346.4 596.4 1346.2 596.1 1346 595.7 1345.6 595.5 1344.9 595.8 1345.2 594.9 1344.2 595.4 1344 595.1 1344.5 593.9 1344 593.9 1342.5 594.9 1342.8 594 1343.6 592.6 1343.3 592.4 1343 592.1 1341.8 592.8 1341.6 592.5 1342.4 591 1340.4 592.6 1341.4 590.9 1339.7 592.2 1340.2 591.1 1340.1 590.6 1340.5 589.7 1340.7 588.9 1339.1 590 1339.5 589.1 1338.4 589.6 1339.3 588.1 1338.9 588 1338.3 588 1337.5 588.4 1337.5 587.7 1336.8 587.9 1337.4 586.7 1337.6 585.9 1336.2 586.9 1336.6 586 1335.8 586.1 1336.1 585.3 1335.8 585 1335.3 585 1334.2 585.5 1335.2 584.1 1333.8 584.9 1334.8 583.4 1333.3 584.2 1334.3 582.8 1332.8 583.6 1333.6 582.3 1332.8 582.6 1333.1 581.8 1332.3 582 1332.7 581.1 1332.6 580.6 1331.5 581.1 1330.3 581.8 1330.7 580.8 1329.5 581.4 1328.9 581.5 1328.9 580.9 1330.6 578.8 1329.5 579.3 1329.7 578.6 1328.8 578.8 1327.9 579.2 1327 579.4 1326.9 579 1328.3 577.2 1327.3 577.6 1327.6 576.8 1326.4 577.4 1327.2 576.1 1326.7 576.1 1327.2 575.1 1325.2 576.3 1325.7 575.4 1326.2 574.5 1325 575 1325.1 574.3 1324.4 574.4 1324.9 573.5 1325.1 572.8 1323.9 573.3 1322.6 574 1324.4 571.9 1324.1 571.6 1322.9 572.2 1323.2 571.4 1322.4 571.6 1322.6 570.9 1322.4 570.6 1321.4 570.9 1322.5 569.5 1321.6 569.7 1321.8 569.1 1320.7 569.5 1320.4 569.2 1320.2 568.9 1317.7 570.4 1319.4 568.5 1319.1 568.2 1318.7 568.1 1319.1 567.3 1318.6 567.1 1318.4 566.8 1318.5 566.3 1319.3 565.2 1318.4 565.3 1316.8 566.1 1317.8 564.8 1316.4 565.4 1316 565.2 1316.4 564.4 1316.5 563.8 1316.8 563.2 1316.7 562.7 1314.6 563.8 1315.9 562.3 1315.2 562.4 1315.5 561.7 1315.6 561.2 1313.6 562.1M1312.9 557.9 1311.8 558.2 1313.1 556.8 1311.6 557.4 1312.1 556.6 1311.4 556.6 1311.4 556.1 1310.7 556.2 1311.6 555.1 1311 555 1308.9 556 1309.8 554.8 1310.3 554 1309.8 553.9 1308.1 554.6 1309.4 553.3 1309.1 553 1309.2 552.4 1308.9 552.2 1308.8 551.8 1308.7 551.4 1306.7 552.3 1308.4 550.7 1307 551.1 1308.3 549.8 1307.1 550.2 1305.6 550.7 1305.6 550.2 1306.6 549.1 1305.1 549.6 1305.6 548.8 1305 548.7 1306.1 547.6 1303.5 548.7 1305.2 547.2 1305.6 546.5 1304.8 546.5 1305.2 545.9 1304.8 545.6 1302 546.9 1304.3 545.1 1302.8 545.5 1302.8 545.1 1303.4 544.3 1303 544 1303.3 543.4 1301.9 543.8 1303.4 542.4 1303.5 541.9 1301.4 542.7 1301.8 542 1302.4 541.2 1299.6 542.4 1301 541.1 1301.9 540.2 1301.6 539.9 1299.5 540.7 1300.5 539.6 1300.7 539.1 1300.3 538.9 1299.7 538.8 1300.2 538.1 1300.1 537.7 1297.3 538.8 1297.9 538 1299.6 536.6 1298.2 536.9 1299.4 535.8 1299.5 535.3 1297.7 535.9 1298.1 535.2 1297.4 535.2 1298.6 534 1297.6 534.1 1297.5 533.8 1297.5 533.3 1296 533.7 1296.2 533.2 1296.8 532.4 1296.1 532.3 1296.3 531.8 1296 531.5 1294.1 532.1 1295.9 530.7 1296.1 530.1 1295.4 530.1 1294.8 529.9 1294.5 529.6 1292.1 530.4 1294.4 528.8 1293.1 529 1293.8 528.3 1294 527.7 1293.8 527.4 1294.1 526.8 1293.2 526.8 1294.2 525.9 1293.8 525.6 1294.1 525.1 1294 524.7 1292.3 525.1 1293.5 524.1 1293.5 523.7 1292.3 523.8 1293.2 523 1292.9 522.7 1292.2 522.6 1292.2 522.2 1292.5 521.6 1290.4 522.1 1290.2 521.8 1290.4 521.2 1290.4 520.9 1291.4 520 1290.9 519.7 1291 519.3 1289.4 519.6 1290.6 518.6 1289.5 518.7 1289.1 518.4 1289.9 517.7 1289.6 517.4 1289.6 517 1288.5 517 1288.6 516.5 1288.6 516.1 1288.3 515.8 1286.7 516.1 1287 515.5 1286.1 515.5 1287.7 514.4 1285 515.1 1287.9 513.4 1287.7 513.1 1287.4 512.8 1287.2 512.5 1286.5 512.3 1285.4 512.4 1288.1 510.9 1287.6 510.7 1287.7 510.2 1286.2 510.4 1287.3 509.6 1284.4 510.2 1286.9 508.9 1285.2 509.1 1285.9 508.4 1286.2 507.9 1286.1 507.5 1284.6 507.7 1285.7 506.9 1286.3 506.2 1285.5 506.1 1283.7 506.3 1285.4 505.3 1283.8 505.5 1284.9 504.7 1284.3 504.5 1284.8 503.9 1283.8 503.8 1283.5 503.5 1284.7 502.7 1282.6 503 1283.7 502.2 1283.4 501.9 1282.8 501.7 1282.8 501.3 1281.2 501.4 1280.1 501.4 1281.7 500.4 1280 500.6M1281.6 496 1281.5 495.6 1281.9 495.1 1282.4 494.5 1281 494.6 1279.9 494.5 1281.8 493.5 1282 493.1 1281 492.9 1280.5 492.7 1279.5 492.6 1278.8 492.4 1279.2 491.9 1278.4 491.7 1278.7 491.2 1279.5 490.6 1277.9 490.6 1279.5 489.8 1279.7 489.3 1279.1 489.1 1280.3 488.4 1280.5 487.9 1280.2 487.6 1279.4 487.4 1277.8 487.4 1277.2 487.2 1279.1 486.3 1276.6 486.5 1278.2 485.7 1278.4 485.2 1277.3 485.1 1278.5 484.4 1276.1 484.6 1278.1 483.7 1276 483.8 1277.2 483.2 1278.3 482.5 1278.5 482 1277 482 1276.5 481.7 1275.9 481.5 1275.9 481.1 1277.9 480.2 1276.4 480.2 1277.6 479.5 1275.9 479.5 1276.3 479 1277.7 478.3 1277.3 478 1277.1 477.6 1277.3 477.2 1276.3 477 1276.3 476.6 1274.8 476.5 1276.1 475.9 1271.8 476.3 1276.1 475.1 1276.9 474.5 1276.3 474.2 1274.1 474.3 1276.3 473.4 1276.8 472.9 1276.3 472.7 1275.8 472.4 1275.8 472 1274.9 471.7 1276.6 471 1272.8 471.3 1276.3 470.3 1275.3 470.1 1274.6 469.8 1273.4 469.7 1273.3 469.3 1274.7 468.6 1275.1 468.2 1275.3 467.7 1271.8 467.9 1273.8 467.2 1274.5 466.7 1274.2 466.3 1273.2 466.1 1272.6 465.8 1272.8 465.4 1274 464.8 1273.7 464.5 1272.4 464.3 1275 463.5 1274.3 463.2 1273.6 462.9 1274.7 462.4 1274 462.1 1275 461.5 1273.2 461.4 1274.4 460.8 1273.2 460.6 1274.6 460 1272.4 460 1272.8 459.5 1272.8 459.1 1272.8 458.7 1272.5 458.4 1273.7 457.8 1273 457.5 1273.5 457.1 1271.6 456.9 1273.1 456.3 1272.9 456 1273 455.6 1273.3 455.2 1271.7 454.9 1272.5 454.5 1272 454.1 1265.1 454.5 1271.9 453.4 1273.5 452.8 1273.1 452.5 1270.6 452.3 1273.2 451.7 1272.3 451.4 1272 451 1271.7 450.6 1272.5 450.2 1271.7 449.9 1272.4 449.4 1272.6 449 1273.7 448.5 1272.6 448.2 1272.3 447.9 1270.8 447.6 1271.7 447.1 1271.3 446.8 1271.3 446.4 1271.8 446 1271.6 445.6 1272.1 445.2 1271.3 444.8 1271.1 444.5 1271.7 444 1270.1 443.7 1269.7 443.4 1272.2 442.8 1272.7 442.4 1272.2 442.1 1271.6 441.7 1271.2 441.3 1271 441 1270.3 440.6 1272 440.1 1272.3 439.7 1271.1 439.4 1272.2 439 1272.1 438.6 1272 438.2 1272 437.8 1272.6 437.4 1272.3 437 1269.8 436.7 1271 436.3 1272.5 435.9 1244.4 436.1 1264.9 435.3 1272.4 434.7 1270.5 434.4 1270.6 434 1270.9 433.6 1271.7 433.2 1271.8 432.8 1271.2 432.4 1269.5 432 1270.5 431.7 1270.9 431.3 1271.7 430.9 1271 430.5 1271.3 430.1 1269.5 429.7 1270.8 429.3 1272.2 428.9 1271.9 428.6 1272 428.2 1271.5 427.8 1270.9 427.4 1271.8 427 1272.1 426.6 1272.7 426.2 1272.5 425.9 1272.4 425.5 1272.7 425.1 1270.9 424.7 1272.5 424.3M1272.3 420.5 1272.4 420.1 1272.2 419.7 1271.1 419.3 1271.6 418.9 1272.5 418.5 1272.2 418.1 1273.4 417.8 1272.4 417.4 1272.2 417 1273 416.6 1270.3 416.1 1271.2 415.8 1272.3 415.4 1271.5 415 1266.1 414.2 1271.8 414.2 1272.6 413.9 1272.5 413.5 1272.4 413.1 1272.8 412.8 1272.4 412.3 1272.9 412 1273.5 411.7 1273.1 411.2 1273.2 410.9 1273.3 410.5 1272 410 1271.3 409.5 1268.1 408.8 1273 408.9 1272.1 408.4 1272.5 408.1 1272 407.6 1272.9 407.3 1272.9 406.9 1273.1 406.6 1273.6 406.2 1272.7 405.8 1273.3 405.4 1272.7 405 1274 404.7 1273.8 404.3 1273.9 403.9 1274.3 403.6 1273.2 403.1 1273.6 402.7 1273.8 402.4 1272 401.8 1271.6 401.3 1274 401.2 1274.1 400.8 1273.6 400.4 1274.4 400.1 1274.4 399.7 1274.7 399.4 1274.2 398.9 1274.5 398.6 1274.6 398.2 1273.9 397.7 1274 397.3 1271.8 396.6 1274.7 396.6 1275.3 396.3 1274.4 395.8 1275.1 395.5 1275.7 395.2 1275.6 394.8 1275.5 394.4 1274.7 393.9 1272.4 393.1 1274.8 393.1 1274.2 392.6 1274.5 392.3 1274.9 392 1276 391.8 1274.4 391.1 1273.8 390.6 1274 390.2 1274.2 389.9 1274.2 389.5 1275 389.2 1274 388.7 1275.3 388.5 1274.7 388 1275.8 387.8 1273.8 387 1274.4 386.7 1272.8 386 1275.9 386.3 1276.4 385.9 1277.3 385.7 1277.2 385.3 1275.2 384.5 1276.3 384.4 1276.7 384 1277 383.7 1277.7 383.5 1275.1 382.5 1276.2 382.3 1275.6 381.8 1276.9 381.7 1276.5 381.2 1277.7 381.1 1277.3 380.6 1275.5 379.8 1277.6 379.9 1277.9 379.5 1278.2 379.2 1277.6 378.7 1277.7 378.3 1277.6 377.9 1278.5 377.7 1279.4 377.5 1278.3 376.9 1278.9 376.6 1277.2 375.8 1277.1 375.3 1279.5 375.6 1279.3 375.1 1278.5 374.5 1275.7 373.4 1279.6 374 1279.3 373.5 1278.9 373 1279.5 372.8 1279.1 372.3 1277.3 371.4 1280 371.7 1281 371.6 1278.2 370.4 1279.5 370.4 1279.6 370 1280.8 369.9 1275.9 368.1 1279.3 368.7 1280.2 368.5 1281.7 368.6 1280.2 367.8 1281.2 367.6 1282 367.5 1281.5 366.9 1280.6 366.2 1280.5 365.8 1282.4 366 1281.8 365.4 1282.6 365.2 1283.1 365 1282.1 364.3 1280.7 363.4 1282.5 363.6 1281.8 362.9 1281.9 362.6 1281.1 361.9 1281.5 361.6 1282.9 361.7 1283.1 361.3 1281.2 360.3M1283.6 357 1282.7 356.3 1285.4 356.9 1285.8 356.6 1285.4 356 1283.1 354.8 1285.4 355.2 1283.7 354.2 1283.8 353.8 1285.5 354 1285.2 353.5 1286.1 353.4 1284.7 352.5 1286.5 352.7 1285.5 352 1286.1 351.8 1285.8 351.2 1287.1 351.3 1287.1 350.9 1287.2 350.5 1286.7 349.9 1285.7 349.1 1286.7 349.1 1287.5 349 1286.9 348.3 1287.4 348.1 1287.9 347.9 1286.3 346.9 1285.3 346 1287.8 346.6 1288.6 346.6 1288.6 346.1 1289.1 345.9 1289.6 345.7 1284.7 343.2 1289.5 344.8 1285 342.5 1289.5 344 1289.6 343.6 1288.9 342.9 1289.6 342.8 1290.3 342.7 1288.2 341.3 1291 342.1 1290.4 341.4 1290.5 341 1289.4 340.1 1290.1 340 1286.9 338.2 1291.2 339.7 1291.8 339.5 1291.5 338.9 1291.5 338.5 1290.5 337.6 1292.3 338 1292.5 337.7 1293 337.5 1291.7 336.5 1291.3 335.9 1292.1 335.8 1292.3 335.5 1294.3 336 1293.8 335.4 1293.2 334.6 1293.4 334.3 1293.7 334 1294.7 334 1294.3 333.4 1293.4 332.6 1293.8 332.3 1294.7 332.4 1294.8 332 1294 331.1 1294.5 330.9 1295.3 330.9 1293.4 329.5 1295 329.9 1295.4 329.7 1296.4 329.8 1297.1 329.7 1296.6 329 1294.8 327.6 1294.1 326.8 1297 327.9 1295.5 326.7 1296.3 326.6 1298.2 327.2 1297.1 326.2 1298.6 326.6 1298.4 326 1298.7 325.7 1298.8 325.4 1298.8 324.9 1297.8 323.9 1300 324.7 1299 323.7 1298.7 323.1 1299.6 323.1 1300.8 323.4 1299.2 322 1298.4 321.1 1300.2 321.7 1298 320 1301.6 321.6 1300.3 320.5 1301.8 320.8 1300.6 319.7 1301.9 320 1300.6 318.8 1295.1 315.1 1301.2 318.3 1300.7 317.5 1299.7 316.5 1301.4 317 1300.6 316.1 1302.6 316.8 1301.7 315.9 1302.7 316 1302.8 315.6 1304.4 316.1 1305.1 316.1 1303.4 314.6 1302.6 313.7 1304.3 314.3 1304.9 314.2 1305.4 314 1305.6 313.7 1304.5 312.5 1304.4 312 1305.1 312 1305.7 311.9 1306.3 311.9 1305.1 310.7 1306.7 311.2 1307 310.9 1306.5 310.2 1305.4 308.9 1307.6 309.9 1307.8 309.6 1307.2 308.8 1308.7 309.3 1308.2 308.5 1308.9 308.5 1308.2 307.5 1309.4 307.9 1310.3 308 1309.5 307 1309.6 306.6 1310.1 306.5 1309.8 305.8 1309.8 305.3 1308.3 303.8 1311.2 305.4 1309.8 303.9 1310.6 304 1312 304.5 1312 304.1 1312 303.6 1311.6 302.9 1312.1 302.7 1313.2 303 1312.3 301.9 1313.5 302.3 1313.2 301.6 1311.9 300.2 1313 300.5 1314.3 301 1314.2 300.4 1314.5 300.2 1313.2 298.7 1314.1 298.9 1314.8 298.9 1315.7 299.1 1315.3 298.4 1315.5 298.1 1315.1 297.2 1316.4 297.7 1315.8 296.8 1316.6 296.9 1316.2 296.1 1317.6 296.7 1317 295.8 1318.5 296.4 1317.8 295.4 1318.8 295.7 1318.9 295.3 1318.6 294.5 1317.9 293.5 1318.8 293.7 1319.8 294.1 1318.2 292.2 1318.6 292.1 1320.5 293.1 1319.2 291.6 1321.4 292.8 1321.4 292.4 1321 291.6 1321.9 291.8 1322.1 291.4 1321.9 290.8 1321.5 289.9 1323 290.6 1321.9 289.3 1322.7 289.4 1322.6 288.9 1323 288.7 1322.4 287.7 1324.1 288.6 1324.5 288.4 1324 287.5 1324.9 287.7 1323.6 286.1 1324.9 286.7 1325.6 286.8 1325.8 286.5 1325.2 285.5 1325.6 285.3 1326.7 285.7 1326.3 284.8 1326.2 284.3 1326.7 284.2 1327.3 284.2 1327.5 283.8 1327.1 283 1327.4 282.8 1328 282.7 1328.7 282.9 1326.7 280.6 1328.8 282 1328.8 281.4 1327.5 279.7 1330 281.5 1330 280.9 1331 281.3 1331.4 281.2 1331.4 280.7 1330.8 279.5 1331.5 279.7 1331.6 279.2 1332.3 279.4 1332.9 279.4 1333.2 279.1 1332.9 278.3 1333.4 278.3 1333.5 277.8M1335.8 274.7 1336.2 274.6 1336.3 274.2 1336.8 274.1 1337.3 274 1337.7 273.9 1337.8 273.5 1337.5 272.5 1337.8 272.4 1337.6 271.6 1338.3 271.7 1338 270.8 1338.9 271.2 1339.8 271.7 1340.4 271.7 1336.9 267.5 1341.1 271.3 1341.3 271 1340.5 269.6 1340.8 269.3 1340.5 268.5 1341.4 268.8 1342.1 269 1342.2 268.5 1342 267.7 1342.9 268.1 1342.9 267.6 1341.9 265.9 1342.9 266.5 1343.7 266.7 1343.6 266 1344 265.9 1344.6 266 1345.3 266.2 1345.1 265.4 1345.6 265.4 1345.6 264.8 1346.8 265.5 1346.4 264.5 1347.3 264.9 1346.3 263.2 1347.2 263.7 1347.4 263.3 1348.6 264.1 1348 262.8 1348.8 263.2 1349.1 262.9 1348.3 261.4 1349.6 262.3 1349.3 261.3 1350.2 261.8 1349.4 260.3 1351.7 262.4 1351.8 261.9 1349.9 259.1 1351.5 260.3 1352.4 260.8 1351.8 259.4 1352.7 259.9 1352.4 259 1352.5 258.6 1352.3 257.7 1354 259.1 1353.7 258.1 1353.1 256.8 1354.9 258.4 1354.6 257.4 1355.5 257.9 1355.1 256.8 1356.5 257.9 1355.9 256.5 1355.8 255.7 1356.8 256.5 1357.2 256.3 1357.3 255.8 1357.8 255.8 1357.8 255.2 1358.8 255.9 1358.4 254.6 1358.9 254.7 1359.5 254.8 1359.1 253.7 1359.9 254.2 1359 252.3 1360.9 254.2 1360.8 253.4 1361.1 253.1 1360.5 251.7 1360.3 250.7 1362.1 252.6 1362.2 252 1363.2 252.7 1363.7 252.8 1363.3 251.6 1362.3 249.5 1364 251.2 1363.8 250.3 1363.7 249.4 1364.8 250.4 1362.6 246.5 1365.4 249.9 1365.8 249.7 1366 249.4 1350.9 226.9 1362.9 243.5 1366.6 248.2 1367.7 249.1 1367.1 247.5 1368.2 248.5 1368.7 248.5 1368.7 247.8 1368.8 247.3 1369.2 247.2 1368.7 245.8 1369.2 245.7 1362.4 234.8 1369 244.1 1371.7 247.4 1371.1 245.9 1371.1 245.1 1372.1 245.9 1372.2 245.3 1372.3 244.8 1372.3 244.1 1373.4 245 1373.9 245.2 1374.1 244.8 1374.4 244.5 1373.6 242.5 1375.4 244.6 1373.7 241.2 1375.8 243.9 1375.7 242.9 1375.1 241.3 1376.2 242.3 1375.1 239.8 1376.5 241.3 1376.7 240.8 1376.8 240.4 1377.7 241 1378.4 241.4 1378.9 241.5 1377.9 239.1 1379 240.1 1379.7 240.5 1380.2 240.6 1380.9 241.1 1381 240.6 1381.5 240.5 1381.5 239.8 1382.4 240.6 1382.2 239.4 1382.6 239.4 1382.6 238.6 1383.7 239.8 1383.4 238.5 1382.9 236.8 1384.3 238.4 1384.2 237.5 1384.9 238.1 1385.4 238.1 1385.4 237.3 1384.7 235.1 1386.3 237.3 1386.9 237.5 1386.4 235.9 1386.5 235.2 1387.9 237 1387.7 235.9 1388.5 236.4 1388.6 235.9 1389.1 236.1 1389.2 235.3 1389.4 234.8 1390.2 235.7 1390.2 234.8 1390.5 234.5 1391.1 234.8 1391.6 234.9 1390.9 232.7 1391.5 233 1391.5 232.1 1392.7 233.7 1393.1 233.7 1393.7 234 1393.8 233.3 1393.8 232.5 1394.7 233.3 1395.3 233.8 1394.2 230.6 1395.2 231.8 1396.1 232.8 1396.7 233 1397 232.7 1396.5 231 1397.5 232.1 1397.7 231.5 1398.4 232.1 1398.5 231.5 1398.6 230.7 1399.2 231.2 1399.4 230.7 1400 231.1 1399.5 229.1 1400.3 229.8 1399.6 227.4 1401.2 230.1 1401.6 229.8 1401.9 229.7 1402.5 230 1402.6 229.3 1402.3 227.6 1403.2 228.8 1402.1 225.2 1402.8 225.8 1404.4 228.5 1404.2 227.3 1405.2 228.5 1405.5 228.3 1405.9 228.1 1406.1 227.7 1406.6 228 1406.8 227.4 1407.1 227 1407.7 227.4 1408.3 228 1408.5 227.3 1408.5 226.4 1409.1 226.8 1409 225.6 1409.5 225.8M1413.3 225 1413.6 224.7 1413.7 223.9 1413.8 223 1414.9 224.8 1414.9 223.6 1415.5 224.2 1415.9 224 1415.8 222.7 1416.8 224.2 1416.5 222.5 1417.2 223.3 1417.8 223.5 1417.6 222 1418.2 222.6 1418.5 222 1418.9 222 1419.5 222.6 1419.1 220.4 1420 221.7 1420.6 222.2 1420.6 221.2 1420.8 220.4 1421.8 222.2 1421.3 219.4 1422.5 221.8 1422.6 221.1 1423 220.8 1423.6 221.4 1423.9 221.1 1423.9 220 1424.4 220.2 1425.2 221.5 1425.5 220.9 1425.1 218.4 1424.7 215.8 1426.2 219.5 1426.3 218.5 1427.3 220.2 1427.6 219.8 1427.9 219.7 1428.4 220 1428.5 219 1428.9 219 1429.5 219.7 1429.7 218.9 1429.9 218.1 1430.7 219.6 1430.8 218.4 1431.6 219.8 1431.9 219.4 1431.9 218.2 1432.2 217.6 1432.7 218.2 1433.3 218.8 1433 216.3 1434.2 219 1433.7 215.6 1434.2 216.3 1434.9 217.4 1435 216.1 1435.7 217.4 1435.9 216.4 1435.9 215 1437 217.5 1437.4 217.6 1437.8 217.6 1438.2 217.6 1438 215.1 1438.8 216.9 1439.4 217.8 1439.6 216.9 1440 216.8 1440.2 216.1 1440.8 216.9 1441.1 216.4 1441.6 216.6 1441.6 215.3 1442.3 216.3 1442.4 215 1442.9 215.7 1443.4 215.9 1443.6 215.1 1443.8 214.2 1444.5 215.5 1444.8 215.2 1445.3 215.7 1445.4 214.4 1445.7 214 1446.2 214.3 1446.7 214.9 1446.9 213.7 1447.5 214.6 1448 215.2 1448.1 214.1 1448.6 214.2 1448.6 212.4 1449.1 213.1 1449.8 214.2 1450.2 214.3 1450.6 214.6 1450.7 213.1 1451.3 214.3 1451.5 212.7 1452 213.3 1452.5 214.1 1453 214.6 1452.8 211.6 1453.7 214 1453.9 213.3 1454.1 212.3 1454.5 212.1 1455.1 213 1455.4 212.5 1455.5 211 1456.2 212.5 1456.5 212.3 1456.9 212.4 1457.5 213.7 1457.6 211.9 1458.2 212.8 1458.3 211.2 1458.7 210.8 1459.1 211.1 1459.4 210.6 1460.1 212.2 1460.3 211.1 1461 213.4 1461.2 211.9 1461.2 209.3 1462 212.3 1462.4 212.4 1462.7 211.7 1463.1 211.6 1463.4 211.1 1464 212.5 1464.3 211.6 1464.8 212.6 1465.1 211.9 1465.5 211.8 1465.7 210.2 1466 209.4 1466.4 209.7 1466.8 209.4 1467.5 212.3 1467.7 211 1468.1 210.6 1468.6 212 1468.9 211.1 1469.4 212.2 1469.8 212.3 1470.2 211.8 1470.5 211.2 1470.9 210.9 1471.4 212.3 1471.7 211.6 1472 210.6 1472.5 211.6 1472.9 211.7 1473.1 209.5 1473.6 210.4 1474 211.6 1474.3 210.1 1474.7 210 1475.2 211.3 1475.5 209.8 1476 211.4 1476.3 211.1 1476.5 208.1 1477.1 211.6 1477.5 211 1477.9 211.6 1478.2 210.2 1478.6 210.5 1478.9 208.8 1479.4 210.9 1479.8 211.2 1480.1 209.9 1480.5 209.5 1481 210.7 1481.4 211.1 1481.7 210 1482.1 209.4 1482.4 208.2 1482.8 208.1 1483.3 210.8 1483.6 209.7 1483.9 206.7 1484.5 210.6 1484.9 210.8 1485.2 209.8 1485.6 208.9 1486 210 1486.4 210.2" stroke="#c9526a" stroke-width="1.15"/>
<path d="M1505.4 239.9 1505.6 241.1 1505.9 240.6 1506.2 240.7 1506.5 240.4 1506.7 242.2 1506.8 243.9 1506.9 246.1 1507.5 242.1 1507.8 241.8 1508.1 241.7 1508.4 242.1 1508.6 242.5 1509.3 238.4 1509.2 242.2 1509.7 240.3 1509.9 241.4 1510 242.5 1510.6 239.6 1510.6 242.9 1511.1 240.2 1511.3 240.8 1511.7 240.6 1511.7 242.6 1512.4 238.9 1512.7 239 1512.9 239.9 1512.8 243.2 1512.9 244.5 1514 238 1513.3 246 1513.8 244.5 1514.4 241.4 1514.7 241.1 1514.7 243.7 1515.3 241.2 1515.2 244.3 1516 240.1 1516.1 241.7 1516.4 241.9 1516.8 240.8 1517 241.3 1516.7 246 1517.7 240.3 1518 240.7 1518.4 239.8 1518.3 242.1 1518.8 241.2 1518.6 244 1519.2 242.3 1519.7 240.9 1519.5 243.9 1519.8 243.8 1520.4 241.9 1520.9 240.2 1521.1 241.1 1521.2 242 1521.7 241.1 1521.9 241.6 1521.5 245.5 1522.4 242 1522.7 241.8 1522.9 242.6 1522.2 248.2 1523.5 242.4 1523.3 245.2 1524.1 242.1 1524.3 242.7 1525.2 239 1525.5 239.2 1525.5 240.7 1525.8 240.5 1525.6 243.2 1525.7 244.3 1526.7 240.8 1526.8 241.5 1526.7 243.8 1527.4 241.3 1527.7 241.4 1527.2 245.9 1527.7 244.7 1527.9 244.8 1527.3 249.7 1528.8 243.3 1529.1 243.5 1529.2 244.4 1529.2 245.9 1529.2 246.9 1530.3 243.2 1529.7 247.2 1530.5 245 1530.5 246.2 1531.6 242.6 1532 241.8 1531.7 244.9 1531.9 245.4 1531.7 247.5 1532 247.1 1532.9 244.7 1533.3 244 1533.4 244.9 1533.1 247.5 1533.4 247.7 1532.8 251.4 1534 247.4 1533.1 252.3 1533.6 251.6 1534.3 249.8 1535.4 246.2 1534.6 250.9 1535.9 246.8 1536.5 245.3 1536.4 247 1536.5 247.7 1535.9 251.6 1536.7 249.5 1536.1 252.9 1537.6 247.9 1537.7 248.6 1538.4 247.1 1538.3 248.7 1538.6 248.6 1538.4 250.6 1539.3 248.2 1539.9 246.8 1540 247.6 1540.3 247.9 1540.2 249.2 1540.6 248.7 1540.7 249.6 1540.4 251.7 1540.8 251 1541.7 249.1 1541.5 250.7 1541.6 251.6 1541.4 253.2 1542.4 250.6 1542.1 252.8 1542.5 252.4 1543.4 250.1 1543.8 250 1543 253.7 1543.1 254.3 1544 252.2 1543.6 254.3 1544.8 251.4 1544.7 252.8 1544.6 254.1 1544.4 255.6 1546 251.4 1545.9 252.4 1545.1 256.1 1545.9 254.4 1546.6 253.1 1547.5 251.2 1545.9 257 1546.9 254.9 1547.5 253.8 1548.9 250.5 1548.1 253.9 1548.3 254.2 1548.5 254.3 1549.1 253.6 1549.5 253.3 1549.2 254.8 1549.6 254.7 1550.5 252.6 1549.1 257.7 1550.1 255.8 1551 253.9 1549.6 258.9 1550.5 257.2 1550.3 258.4 1551.6 255.5 1552.1 254.9 1552.2 255.6 1552 256.9 1553.2 254.4 1554.6 251.3 1554.2 253.1 1553.1 257.1 1554 255.5 1554.4 255.2 1553 259.9 1555 255.1 1555 255.8 1554.1 259.1 1553.4 261.9 1554.5 259.7 1556.1 256.3 1554.6 260.9 1557 255.4 1556 258.7 1557 256.9 1556.4 259.3 1556.5 259.9 1556.9 259.4 1556.3 261.7 1557.1 260.4 1556.9 261.7 1558.2 259.2 1557.2 262.5 1559.7 256.9 1559.4 258.3 1557.8 263.2 1558.2 262.8 1559.1 261.4 1559.9 260.1 1560.2 260 1560.7 259.6 1560.6 260.5 1560.1 262.4 1559.7 264.3 1560 264.2 1560.7 263.2 1560.4 264.6 1563.4 258.1 1561.7 262.9 1563.2 260 1563.2 260.6 1562.2 263.7 1562.3 264.3 1562.9 263.5 1563.1 263.7 1563 264.6 1564.4 262.1 1563.4 265 1563.9 264.7 1565.4 261.9 1567.1 258.5 1566.6 260.6 1567.8 258.5 1566.1 262.9 1567.8 259.8 1567.2 261.8 1569.2 258 1566.8 264.1 1567.3 263.6 1566.9 265.2 1566.7 266.3 1568.6 262.9 1568.9 262.8 1568.2 265 1569.6 262.5 1568.9 264.6 1569.3 264.5 1571.5 260.4 1570.7 262.9 1571.3 262.2 1571.9 261.6 1570.8 264.6 1570.2 266.4 1571.7 263.9 1572.3 263.4M1576 263.1 1576.8 262.3 1576.8 262.9 1577 263 1578.5 260.8 1578.3 261.7 1578.4 262.1 1579.9 259.9 1579.9 260.5 1579.7 261.4 1579.1 263.3 1579.7 262.7 1579 264.6 1579 265.2 1579.9 264.2 1580.6 263.4 1578.7 267.5 1581.4 263.1 1581.4 263.7 1582.1 263 1581.7 264.3 1581.6 265.1 1583.5 262.2 1582.9 263.9 1583.7 263 1583.7 263.6 1584.2 263.3 1583.6 265 1583.5 265.8 1582 269 1584.9 264.4 1583.6 267.3 1585.9 263.8 1584.6 266.6 1583.9 268.5 1586.5 264.4 1585.6 266.6 1586.4 265.7 1587.4 264.5 1587.6 264.8 1586.7 266.9 1586.4 268 1585.8 269.6 1587.7 266.9 1587.3 268.1 1585.6 271.5 1587.1 269.6 1586.9 270.5 1590.1 265.7 1587.8 270.1 1590.4 266.2 1591.3 265.2 1588.9 269.9 1586.8 273.9 1590.9 267.5 1589.4 270.6 1590.2 269.8 1591.1 268.9 1589.3 272.4 1589.2 273.1 1588.5 274.7 1590.6 271.8 1590.3 272.8 1590.3 273.4 1589.6 275 1593.6 269.2 1591.4 273.2 1595 268 1591.9 273.4 1593.4 271.5 1592.2 274 1592.2 274.4 1594.6 271.3 1594.2 272.4 1593.1 274.6 1595.8 271 1594.7 273.1 1593.1 276.2 1596.9 270.9 1592.9 277.5 1595.2 274.5 1597.9 270.9 1598.9 269.9 1596.8 273.5 1596.2 274.9 1594.9 277.3 1597 274.8 1597.4 274.7 1598.8 273.2 1597.5 275.6 1598.6 274.4 1596.8 277.5 1596.8 278 1596.4 279.1 1599.2 275.5 1597 279.1 1598.6 277.4 1599.4 276.7 1597.9 279.4 1598 279.6 1599.1 278.7 1598.3 280.2 1598 281 1600.6 277.9 1598 282 1600.8 278.7 1599.3 281.1 1599.7 281.1 1600.8 280 1601.7 279.3 1601.4 280.2 1600.8 281.4 1602.7 279.3 1602.4 280.1 1603.4 279.3 1602.2 281.4 1602.9 280.9 1602.2 282.3 1602 283 1602.5 282.8 1605.2 279.7 1601.8 284.7 1604.1 282.1 1604.5 281.9 1605.6 281 1604.1 283.4 1605.5 282 1607.2 280.3 1605.5 283 1605.1 283.9 1607.7 281 1606.6 282.9 1605.6 284.6 1604.8 286.1 1606.7 284.1 1606.6 284.7 1606.3 285.6 1607.7 284.2 1608.2 284.1 1605.8 287.5 1608.5 284.5 1608.9 284.4 1610 283.6 1609.9 284.2 1611 283.3 1612 282.4 1611.4 283.7 1610.7 284.9 1608.7 287.9 1609.8 286.9 1610.9 286.1 1609.3 288.4 1610.6 287.2 1609.2 289.4 1612.6 285.7 1609.7 289.6 1608.8 291.1 1611.8 287.9 1612.2 288 1611.7 288.9 1613.8 286.9 1612.7 288.7 1614.9 286.5 1615.5 286.2 1613.3 289.3 1616.6 285.8 1612.4 291.1 1613.9 289.8 1614.9 289.1 1613.8 290.7 1614.2 290.7 1614.8 290.5 1613.8 292 1616.6 289.2 1617 289.2 1615.1 291.7 1617 290.1 1615.5 292.2 1617 290.9 1617.3 291 1614.6 294.3 1614.9 294.4 1616.9 292.7 1617.4 292.5 1616.9 293.5 1616.6 294.2 1617.5 293.6 1619.6 291.8 1617.7 294.2 1617.7 294.6 1618.5 294.2 1616.5 296.8 1618.2 295.4 1618.8 295.1 1620.7 293.5 1621.6 292.9 1618.6 296.5 1621.6 293.7 1620.2 295.7 1619.9 296.4 1618.7 298 1622.4 294.5 1620 297.4 1622.7 295 1622.4 295.8 1619.3 299.3 1619 300.1 1622.8 296.5 1621.8 297.9 1619.3 300.9 1620.1 300.5 1621.6 299.4 1620 301.3 1619.7 302 1622 300.1 1622.6 299.9 1624.3 298.6 1624.4 298.8 1622.6 301.1 1622.3 301.7 1625.4 299.1 1623.6 301.2 1623.2 302 1623 302.6 1624.1 301.9 1622.7 303.6 1625.6 301.2 1623.2 303.9 1624.7 302.8 1625.6 302.4 1623.6 304.6 1626.6 302.2 1624.7 304.3 1624 305.4 1622.4 307.3 1627.5 302.9 1625.8 304.8 1623.7 307.1 1625.8 305.5 1626.5 305.2 1627.8 304.4 1625.7 306.7 1626.8 306.1 1626.2 307.1 1627.4 306.3 1626.6 307.4 1625.6 308.7 1626.5 308.2 1626.5 308.6 1627.3 308.2 1630.5 305.7 1628.3 308.1 1625.7 310.8 1628.9 308.2 1628 309.5 1630.4 307.6 1630.1 308.3 1629.6 309.1 1629 310 1629.9 309.6 1628.7 311 1630.3 309.9 1634.1 307 1631.1 310 1631.4 310.1 1633 309 1632.5 309.8 1632.8 310 1631.5 311.4 1632.5 311 1629.6 313.7 1629.7 314 1631.8 312.6 1629.3 315 1630.5 314.4 1629.7 315.5 1634.3 311.9 1630 315.9 1631.4 315.1 1635.3 312.2 1636.8 311.4 1634.3 313.7 1634.5 313.9 1635.6 313.4 1634.7 314.4 1634.5 315 1634.8 315.1 1634.3 315.8 1634.5 316 1632 318.3 1633.4 317.6 1634.6 317 1633.7 318.1 1634.6 317.7M1636.7 320.1 1641.2 317 1639 319 1640.7 318 1641.2 318 1638.5 320.5 1639.9 319.8 1636.9 322.3 1640.3 320.1 1641 319.9 1638.8 321.9 1643.9 318.5 1643.3 319.3 1639.6 322.3 1639.7 322.6 1642.4 321 1640.1 323 1642.6 321.5 1643.7 321 1640.8 323.5 1647.5 319 1642.6 322.9 1644 322.2 1642.9 323.3 1642.7 323.8 1646 321.9 1645.8 322.4 1644.9 323.3 1644.8 323.7 1643.4 325 1644.8 324.4 1645.1 324.5 1643.3 326.1 1643.7 326.2 1644 326.3 1645.6 325.5 1646.7 325.1 1646.6 325.6 1644.8 327.1 1645.3 327.1 1646.2 326.8 1646 327.3 1649.3 325.4 1645.7 328.1 1649.2 326.2 1647.1 327.9 1649.7 326.5 1649.8 326.7 1648.9 327.7 1646.8 329.4 1647.4 329.3 1647.6 329.6 1645.4 331.3 1649.2 329.2 1653.3 326.8 1651.3 328.5 1648.7 330.5 1649.9 330 1652.2 328.9 1652.7 328.9 1649.4 331.4 1648.9 332 1649.6 331.9 1648.4 333 1646.5 334.4 1648.4 333.6 1652.2 331.6 1651.7 332.2 1649.3 334 1654.1 331.4 1653.9 331.9 1652 333.3 1651.6 333.9 1652.4 333.8 1653.7 333.3 1654.5 333.2 1653.9 333.8 1656.2 332.8 1655.6 333.5 1658 332.4 1651.5 336.6 1655 334.8 1653.1 336.3 1653.4 336.4 1654.2 336.3 1656.3 335.4 1653.9 337.1 1654.1 337.3 1657.4 335.8 1658 335.8 1654.2 338.2 1655.5 337.8 1654.8 338.5 1655.2 338.6 1654.2 339.5 1657.2 338.1 1657.6 338.3 1657.1 338.8 1654.5 340.6 1656.3 339.9 1661.8 337.2 1658.5 339.4 1659.4 339.2 1661.6 338.3 1659.4 339.8 1658.7 340.6 1657.9 341.3 1660.5 340.2 1658.9 341.4 1658.5 342 1659 342 1657.6 343 1660.4 341.9 1658.7 343.1 1660 342.8 1663.1 341.5 1661.8 342.5 1659.5 344 1658.3 344.9 1659.2 344.8 1660.9 344.2 1659.5 345.2 1662 344.3 1661.6 344.8 1661 345.4 1664 344.2 1661.8 345.7 1661.4 346.1 1664.2 345.1 1667 344 1665.4 345.2 1663.9 346.2 1665 346 1659.5 349 1665.6 346.3 1663.3 347.8 1663.4 348 1661.9 349.1 1660.8 349.9 1661.7 349.8 1664.2 348.9 1660.6 350.9 1659.6 351.7 1662.6 350.6 1662.8 350.8 1662.5 351.3 1660.5 352.5 1663.9 351.3 1664.2 351.4 1660.7 353.3 1662.2 352.9 1660.8 353.9 1662.8 353.3 1665.4 352.4 1667.6 351.8 1664.7 353.4 1665.6 353.3 1665.1 353.8 1666 353.7 1664.3 354.8 1662.6 355.8 1664.7 355.2 1666.7 354.7 1667.5 354.6 1662 357.3 1664.6 356.5 1665.1 356.6 1661.5 358.4 1665.3 357.1 1664.7 357.7 1662.2 359 1662.7 359.1 1664.8 358.6 1663.8 359.2 1664 359.5 1663.4 360 1665.8 359.3 1663.6 360.5 1660.8 362 1662.8 361.4 1666.7 360.2 1664.1 361.5 1666.3 361 1668.9 360.2 1664 362.4 1668.5 361 1669 361.1 1666 362.6 1664.8 363.4 1665 363.6 1668.5 362.5 1667.1 363.3 1666.9 363.7 1665 364.7 1667.8 364 1666 365 1668.6 364.3 1664.6 366.1 1666.6 365.6 1667.7 365.5 1666.5 366.2 1667.3 366.3 1668.3 366.2 1667.5 366.8 1668.6 366.7 1666 367.9 1666.6 368 1665 368.8 1662.8 369.9 1665.1 369.4 1665.1 369.7 1666 369.7M1666.5 372.9 1667.8 372.8 1668.7 372.8 1671.4 372.2 1667.4 373.8 1673.2 372.2 1670.2 373.5 1667.9 374.5 1670 374.1 1671.7 373.9 1666.3 375.8 1667 375.9 1668.1 375.9 1667.5 376.3 1669.5 376 1672.1 375.5 1667.2 377.3 1667.5 377.5 1666.8 378 1669.3 377.5 1672.4 376.9 1670.4 377.8 1670.1 378.1 1669.9 378.5 1672.1 378.1 1673.5 378 1668.7 379.7 1670.6 379.4 1669.7 380 1670.1 380.1 1668.4 380.9 1671.8 380.3 1674.1 379.9 1672 380.8 1672.9 380.8 1674.8 380.6 1673 381.4 1670.2 382.4 1672.4 382.1 1673.9 382 1674.5 382.1 1671.8 383.1 1672.7 383.2 1674.6 383 1671.6 384.1 1673.4 383.9 1672.7 384.3 1672.9 384.6 1674 384.6 1674.6 384.7 1675.8 384.7 1675.6 385.1 1675.3 385.4 1674.6 385.9 1672.9 386.6 1673.9 386.6 1676.7 386.3 1674.4 387.1 1674.1 387.4 1676.7 387.1 1678.2 387.1 1676.6 387.7 1675.6 388.2 1676.2 388.4 1676.6 388.6 1674.7 389.3 1675.9 389.3 1675.1 389.8 1677 389.7 1675.7 390.2 1677.3 390.2 1675.1 390.9 1680.4 390.1 1676.7 391.2 1677.3 391.3 1674.9 392.1 1683.7 390.6 1683.1 391 1678.7 392.2 1680.7 392.1 1679.4 392.7 1679.1 393 1680.3 393.1 1678.8 393.6 1678.3 394 1682.6 393.5 1683 393.7 1680.9 394.4 1681.6 394.6 1682.3 394.7 1677.5 395.9 1683 395.2 1681.8 395.7 1677.4 396.8 1685.1 395.7 1683.2 396.3 1683.1 396.6 1680.1 397.4 1681.8 397.4 1680.2 398 1681.3 398.1 1681.6 398.4 1676.2 399.5 1681.4 399 1679.9 399.5 1679.4 399.9 1680.5 400 1683.3 399.8 1678.7 400.8 1681.2 400.7 1677.5 401.6 1683.7 400.9 1680.4 401.7 1679.8 402.1 1681.2 402.2 1681.9 402.4 1683.3 402.5 1683.9 402.7 1684.6 402.9 1681.4 403.6 1680.1 404.1 1680.2 404.3 1680.3 404.6 1680.7 404.9 1677.7 405.5 1681 405.4 1680.2 405.8 1682 405.8 1681.4 406.2 1680.6 406.6 1679.2 407 1677.4 407.6 1683 407.2 1682.1 407.6 1683.6 407.7 1680.6 408.3 1678.1 408.9 1682.3 408.7 1677.4 409.5 1682.8 409.2 1685 409.3 1682.6 409.8 1677.7 410.6 1681.4 410.5 1685.3 410.4 1683.6 410.8 1676.6 411.8 1682.6 411.5 1682.7 411.8 1677.4 412.6 1684.1 412.3 1681.1 412.8 1680.7 413.1 1684.9 413 1679.7 413.8 1681.5 413.9 1676.9 414.6 1681.3 414.5 1680 414.9 1679.2 415.2 1680.7 415.4 1677 416 1682.1 415.9 1681.2 416.2 1678.5 416.7 1683.4 416.6 1680.2 417.1 1679.4 417.5 1678 417.9 1679.9 418 1677.1 418.5 1677.7 418.7 1679.4 418.9 1681.4 419 1682.7 419.3 1681.2 419.6 1679.6 420 1679.6 420.3 1680.9 420.5 1679.5 420.8 1679.6 421.1 1679.5 421.4 1679.5 421.7 1678.8 422 1675 422.5 1681.8 422.4 1678.1 422.9 1678.8 423.1 1679.9 423.4 1677.9 423.7 1682 423.9 1675.3 424.4 1675.4 424.6 1676.3 424.9 1675.2 425.2 1678.6 425.4 1674.1 425.8 1675.4 426 1676.8 426.2 1680.4 426.4 1673.8 426.9 1678.8 427 1678.6 427.3 1676.6 427.6 1676.7 427.9 1678.1 428.2 1678.7 428.4 1679.5 428.7 1673.9 429 1681.3 429.3 1676.9 429.6 1677.6 429.8 1679.4 430.1 1679.1 430.4 1678.7 430.7 1676.7 430.9 1675.6 431.2 1677.6 431.5 1672.4 431.7 1675.3 432 1676.6 432.3 1678 432.6 1675.3 432.8 1677.7 433.2 1677.3 433.4 1680.7 433.8 1680.6 434 1676.8 434.2 1673.3 434.4 1674.6 434.7 1678.4 435.1 1676.9 435.4 1680.5 435.7 1675.4 435.9 1677.8 436.2 1676.7 436.5 1674.8 436.7 1679.4 437.1 1677.9 437.3 1675.8 437.5 1677.5 437.9M1674.6 440.9 1677.3 441.4 1678.1 441.7 1674.3 441.7 1677.8 442.2 1678.1 442.5 1678.5 442.9 1675.8 442.9 1677.4 443.3 1678.6 443.7 1678.7 444 1676.4 444.1 1681.2 444.7 1678.6 444.8 1680.1 445.2 1679.3 445.4 1677 445.5 1676.9 445.8 1677.6 446.1 1678.5 446.5 1682.2 447.1 1677.6 447 1678.3 447.3 1680.9 447.8 1674 447.5 1678.5 448.2 1678.9 448.5 1676.7 448.6 1678 449 1679.3 449.4 1678.3 449.6 1679.8 450 1679.2 450.2 1676.5 450.2 1674.8 450.3 1676.6 450.8 1677.2 451.1 1679.3 451.6 1680.7 452.1 1676.9 451.9 1676.9 452.2 1677.1 452.5 1676.1 452.7 1680 453.4 1679.8 453.7 1679.3 453.9 1678.1 454 1678.4 454.4 1680.9 455 1678.9 455 1678.4 455.2 1677.6 455.4 1676.9 455.6 1678 456 1680.4 456.6 1676.9 456.4 1681.4 457.3 1678.9 457.3 1677.4 457.3 1680 458 1677.9 458 1677.9 458.3 1676.7 458.3 1677 458.7 1678 459.1 1677 459.2 1679.2 459.9 1679.5 460.2 1677.1 460.1 1679.6 460.8 1679.5 461.1 1679.1 461.3 1676.9 461.2 1680.5 462.1 1680.3 462.4 1682 462.9 1678.2 462.6 1679.3 463 1678.3 463.2 1676.2 463.1 1679.1 463.9 1680.6 464.4 1680.5 464.7 1680.5 465 1679.8 465.2 1677.6 465 1684.6 466.6 1677.9 465.7 1679.3 466.2 1678.7 466.4 1680.5 467 1677.2 466.7 1675.6 466.7 1674.5 466.7 1677.1 467.5 1678 468 1677.9 468.3 1678.2 468.6 1676 468.5 1677 468.9 1679.6 469.8 1678.8 469.9 1680.7 470.6 1675.6 469.8 1678 470.6 1676.7 470.6 1682.6 472.2 1681.4 472.2 1678 471.8 1681.1 472.8 1678.2 472.4 1675.3 472 1676.4 472.6 1675.7 472.7 1676.3 473.1 1676.4 473.4 1681.6 474.9 1673.9 473.4 1677.9 474.6 1678.5 475.1 1679 475.5 1674 474.6 1675 475.1 1676 475.7 1678.5 476.6 1679.5 477.1 1677 476.8 1674.8 476.5 1673.5 476.5 1674.2 476.9 1674.1 477.2 1674.6 477.6 1674.4 477.9 1675.2 478.4 1674.8 478.6 1672.3 478.2 1678.7 480.2 1674.1 479.2 1677 480.3 1676.1 480.4 1676.8 480.9 1673.2 480.2 1673.4 480.5 1675 481.3 1675.1 481.6 1677.4 482.5 1674.6 482 1677.2 483.1 1674.5 482.6 1673.1 482.5 1675.5 483.5 1672.9 483 1672.9 483.3 1672.4 483.4 1675.5 484.6 1672.8 484.1 1672.8 484.4 1674.2 485.1 1669.9 484.2 1671 484.8 1672.9 485.6 1673.3 486.1 1671.6 485.8 1672.9 486.5 1674.1 487.2 1673.8 487.4 1670.2 486.6 1672.4 487.6 1672.9 488 1674 488.6 1672.9 488.6 1670.4 488.1 1668.9 487.9 1670.3 488.7 1672.4 489.6 1674.5 490.6 1672.8 490.4 1672.5 490.6 1672.2 490.8 1674.4 491.8 1671.2 491 1671.8 491.5 1665.6 489.7 1668.5 491 1668.7 491.4 1667.6 491.3 1666.4 491.2 1666 491.3 1672.4 493.8 1668.9 492.9 1670.6 493.8 1669.7 493.8 1669.6 494.1 1667.8 493.7 1667.1 493.7 1668.3 494.5 1671.4 495.9 1667.3 494.7 1662.9 493.4 1667.7 495.4 1667.7 495.7 1670.1 496.9 1668.5 496.6 1667.9 496.7 1668.1 497.1 1665.3 496.3 1665.8 496.8 1665.2 496.9 1663.8 496.7 1664.6 497.3 1668.4 499 1670.4 500.1 1667 499.1 1662.8 497.7 1660.8 497.2 1663.2 498.5 1661.9 498.3 1661.6 498.4 1663.7 499.6 1665.5 500.6 1669.1 502.4 1663.5 500.4 1669.3 503.1 1667.6 502.7 1667.3 502.8 1665.4 502.4 1666.3 503 1667.4 503.8 1661.1 501.5 1666 503.8 1663.7 503.1 1663.8 503.5 1664.9 504.3 1664.3 504.3 1660.7 503.1 1660.7 503.4 1659.7 503.3 1662.8 504.9 1659.6 503.8 1659.9 504.2 1661.7 505.3 1657.2 503.6 1660.7 505.5 1660.1 505.5 1659.6 505.6 1657.9 505.1 1659.8 506.3 1658.1 505.8 1661.4 507.6 1657.2 506 1662.5 508.7 1658.8 507.3 1661.2 508.7 1661.3 509.1 1659.6 508.6 1658.4 508.3 1657.9 508.4 1660.5 510 1662.9 511.4 1663.1 511.8 1659.7 510.5 1658.4 510.2 1660.3 511.4 1658.5 510.8 1657.1 510.5 1656.4 510.4 1657 511 1656.3 511 1654.9 510.6 1654.8 510.8 1653.3 510.4 1657 512.5 1653.5 511.1 1654.2 511.8 1656.1 513 1653.4 512 1655 513.1 1655.3 513.6 1653.2 512.8 1654.8 513.9 1656.2 515 1651.9 513 1655.8 515.4 1655.2 515.3M1654.6 518.7 1655.6 519.5 1656.8 520.5 1654.7 519.7 1653.3 519.2 1655.9 521 1656.8 521.8 1654.7 520.9 1656.4 522.2 1654.2 521.3 1655.5 522.3 1653.3 521.4 1653.8 522 1654.7 522.9 1652.4 521.8 1653.6 522.9 1653.7 523.2 1651.7 522.4 1650.6 522.1 1653.8 524.3 1651.7 523.3 1652.8 524.3 1651.2 523.7 1652.1 524.6 1655.1 526.7 1655.2 527 1653.4 526.3 1652.4 526 1654.2 527.4 1651.4 526.1 1650.6 525.9 1652.5 527.4 1655.1 529.3 1655.3 529.7 1655.7 530.3 1652.9 528.9 1650.8 528 1652.7 529.5 1652.7 529.8 1653.7 530.7 1654 531.3 1655.9 532.8 1654.3 532.2 1651.8 530.9 1651.2 530.8 1651.1 531.1 1652.2 532.2 1651.9 532.3 1652.1 532.7 1652.8 533.6 1649.2 531.6 1648.8 531.6 1648.7 531.9 1650.6 533.5 1650.8 533.9 1652.9 535.6 1649.9 534.1 1653 536.4 1650.9 535.4 1649.7 534.9 1649.7 535.2 1648.3 534.7 1648.8 535.3 1646.9 534.4 1651.4 537.8 1646.6 534.9 1647.6 535.9 1646.6 535.5 1648.9 537.5 1649 537.8 1650.1 539 1649.4 538.8 1646.3 537 1646.9 537.8 1646.1 537.5 1646.3 538 1650 541 1647.9 539.9 1647 539.6 1646.8 539.7 1646.7 540 1646.1 539.9 1642.8 538 1643.1 538.5 1643.3 539 1647 542 1643.7 540 1646.6 542.4 1646.2 542.5 1648.7 544.7 1644.7 542.1 1646.2 543.6 1644.5 542.7 1644.1 542.7 1645 543.7 1644.4 543.6 1644.1 543.7 1646.6 546 1642.3 543.1 1646.2 546.4 1644.1 545.2 1642.8 544.6 1645.7 547.1 1640.9 543.8 1642.7 545.5 1641.6 545.1 1642.9 546.4 1640.8 545.2 1642.6 546.9 1639.8 545.1 1639.8 545.4 1639.4 545.5 1642.9 548.5 1641.8 548.1 1640 547 1640 547.4 1637.6 545.8 1638.4 546.8 1639 547.6 1638.4 547.5 1637.8 547.4 1637.4 547.5 1635.9 546.5 1638.5 549.1 1639.2 550 1637.5 549 1639.5 550.9 1641.5 553 1633.9 547.1 1637.6 550.5 1635.1 548.8 1635.3 549.3 1632.6 547.4 1635.3 550 1632.2 547.8 1631.6 547.7 1634 550 1634.2 550.6 1633.1 550 1634.8 551.8 1635.4 552.7 1632.6 550.6 1633.9 552.1 1632.1 551 1633.8 552.7 1634.5 553.7 1633.8 553.5 1634.7 554.7 1633.5 554 1634.6 555.3 1632.4 553.8 1634.5 556 1629 551.5 1631.1 553.8 1629.7 552.9 1632.2 555.5 1630.6 554.4 1628.8 553.1 1630.6 555.1 1630 555 1629.4 554.8 1630.8 556.5 1628.8 555 1633.1 559.3 1629.7 556.6 1628.8 556.1 1631.5 559 1630.4 558.4 1631.9 560.2 1629.6 558.4 1628 557.3 1628.3 558 1630 559.9 1626.2 556.7 1633.1 563.6 1629.1 560.3 1627.8 559.4 1628.7 560.6 1627.1 559.5 1624.2 557.1 1626.5 559.7 1623 556.7 1624.3 558.4 1624.4 558.8 1623.6 558.5 1623.6 558.8 1625.4 560.9 1625.2 561.2 1625 561.4 1624.7 561.4 1625.5 562.6 1622.5 560 1622.9 560.8 1625.9 564.2 1620.2 558.9 1621.9 561 1618.3 557.7 1620.1 559.9 1619.6 559.8 1623.2 563.9 1621.4 562.5 1620.6 562 1621.5 563.3 1621.6 563.8 1617.2 559.7 1621.7 564.7 1620.7 564.1 1620.1 563.9 1621.5 565.7 1621.6 566.2 1616.6 561.4 1618.6 563.9 1619.4 565.2 1619 565.1 1620.5 567.1 1618.2 565 1617.4 564.6 1618.3 566 1618.9 567.1 1619.4 568 1618.8 567.7 1617.1 566.4 1618.7 568.4 1618.5 568.6 1616.5 566.8 1618 568.9 1618.9 570.3 1617.5 569.2 1619.4 571.8 1618.6 571.2 1620.7 574 1615.7 568.9 1614.3 567.7 1616.2 570.3 1615.5 569.9 1615 569.7 1616.2 571.5 1617.9 573.9 1617.5 573.9 1617.6 574.4 1617.2 574.4 1612.8 569.7 1611.5 568.7 1612.8 570.6 1612.7 570.9 1613.9 572.8 1610.7 569.4 1612.8 572.3 1612.7 572.6 1613.2 573.7 1610.9 571.3 1609.9 570.5 1610.6 571.9 1611.2 572.9 1608.2 569.8 1610.3 572.8 1609.8 572.6 1611.9 575.6 1610.6 574.4 1608.7 572.6 1607.9 572.1 1613.1 578.8 1610.4 575.9 1608.9 574.5 1609.5 575.7 1608.9 575.5 1610.7 578.1 1611.5 579.5 1608.6 576.3 1609 577.3 1608.3 576.9 1607.2 576 1606.1 575 1605.8 575 1606.2 576.1 1606.6 577 1605.5 576.1 1604.3 574.9 1606 577.6 1605.5 577.4 1605.3 577.6 1604.6 577.1 1601 572.8 1600.8 573 1604.1 577.9 1603.7 577.8 1603.1 577.5 1603.6 578.5 1602.6 577.7 1603.9 579.9 1601.6 577.2 1602.3 578.7 1603.6 580.9 1601.9 579.1 1600.5 577.6 1600.4 578 1601.8 580.4 1601.9 580.9 1601.3 580.5 1600.1 579.3 1600.9 581 1599.7 579.8 1597.1 576.6 1597.4 577.5 1598 578.7M1597.1 583.1 1597 583.4 1596.1 582.6 1593.5 579.2 1596.3 583.9 1594.1 581.1 1592.8 579.7 1593.9 581.9 1595.1 584.1 1593.5 582.2 1596.8 587.6 1591.6 580.4 1595.1 586 1595.5 587.1 1593 583.9 1593.4 585 1590.7 581.3 1595.1 588.6 1593.8 587.1 1592.9 586.2 1593.1 587.1 1594.5 589.8 1591.8 586 1592.4 587.5 1593.2 589.3 1591.5 587.2 1592.4 589.1 1592.2 589.3 1592 589.6 1591.4 589.1 1591.1 589.1 1591.4 590.1 1588 585.1 1589.3 587.8 1590 589.5 1590.4 590.7 1589 589 1589.4 590.2 1588.6 589.4 1587 587.3 1588.1 589.6 1587 588.3 1586.2 587.4 1586.5 588.5 1585.7 587.7 1587.3 590.9 1586.8 590.6 1585.5 589 1585.7 589.8 1587.8 593.9 1587.2 593.4 1586 592.1 1583.2 587.7 1586.7 594.4 1585.3 592.4 1586 594.3 1584.3 591.8 1585.5 594.6 1585.2 594.6 1584.2 593.4 1584.9 595.1 1584.3 594.6 1584.8 596.1 1585.3 597.6 1584 595.9 1583 594.7 1582.3 594 1581.5 593 1582.6 595.6 1580.8 592.9 1581.9 595.6 1580.5 593.6 1582.3 597.4 1580.3 594.3 1582.6 599.3 1580.3 595.5 1578.5 592.7 1580.1 596.3 1581.1 598.9 1581 599.2 1580.6 599.1 1580.7 599.9 1580.1 599.3 1580.2 600.1 1578.8 598.1 1578.6 598.4 1579.2 600.2 1579.6 601.6 1578.8 600.6 1578 599.6 1578.5 601.2 1578 600.8 1576.8 599.1 1576.8 599.8 1576.4 599.5 1575.6 598.6 1574.9 597.9 1575.6 599.9 1574.6 598.4 1575.8 601.5 1577.1 604.9 1575.4 602.1 1574.6 601.1 1574.1 600.6 1573.6 600.3 1573.7 601.2 1573.9 602.1 1573 600.9 1573.1 601.8 1573.8 603.9 1572.1 601 1572.4 602.4 1571.7 601.4 1569.5 597.3 1571.2 601.8 1570.9 601.8 1570.7 601.9 1570.6 602.5 1570.2 602.3 1571.1 605 1569.9 603 1568.6 600.7 1569.9 604.2 1569.4 604 1568.3 602.3 1568.1 602.4 1569.4 606 1567.2 601.8 1567.6 603.4 1567.6 603.9 1567.6 604.8 1567.6 605.5 1566.7 604 1566.4 604.1 1565.8 603.4 1564.9 602.1 1565.1 603.2 1564.9 603.6 1564 601.9 1562.8 599.8 1564.5 604.8 1564.1 604.5 1565 607.3 1564.8 607.6 1564.5 607.7 1563.1 605 1564.4 609 1564 608.6 1562.9 606.7 1562.2 605.6 1560.6 602.5 1561.4 605.2 1561.2 605.6 1561.7 607.5 1561 606.5 1560.6 606.3 1559.3 603.8 1560.9 608.6 1561.4 610.8 1558.6 604.3 1557.4 601.8 1558.9 606.6 1558.8 607 1558.2 606.3 1557.1 604.1 1557.4 605.7 1555.6 601.7 1556.6 605.2 1556.6 606.1 1555 602.5 1556.1 606.3 1556.7 608.7 1554.5 603.5 1555 605.5 1554.5 605.1 1556.1 610.4 1555.5 609.7 1556.4 613.1 1554.4 608.1 1553.2 605.6 1552.7 605 1552.9 606.4 1553.2 608.1 1553.3 609.2 1551.5 604.9 1552.5 608.5 1552.5 609.6 1552.4 610 1552.8 612.3 1551.2 608.2 1551.3 609.5 1550.3 607.4 1550.7 609.4 1549.3 606 1550.2 609.9 1548.7 606.1 1548.2 605.4 1548.9 608.6 1548.5 608.3 1548.6 609.5 1547.4 606.3 1547.1 606.4 1546.5 605.6 1547.5 609.4 1547.3 609.8 1545.8 606.1 1546 607.7 1546.2 609 1545.5 607.6 1544.6 605.8 1545.7 610.4 1544.5 607.5 1543.6 605.2 1543.5 605.7 1543.1 605.4 1543.6 608.2 1542.1 603.9 1542.6 606.7 1542.4 607.1 1541.7 605.5 1542.8 610.6 1542.2 609.4 1542 609.5 1543.1 614.6 1541.3 609.2 1541 609 1542.1 614.4 1540.2 608.5 1538.8 604.3 1539.1 606.2 1539.5 608.8 1539.1 608.5 1538.6 607.4 1538 606.4 1538.4 608.9 1538.2 609.3 1537.1 606.1 1537.2 607.7 1536.9 607.4 1536.4 606.9 1536.8 609.4 1535.7 606.2 1536.2 609.2 1536 609.6 1535.5 608.9 1536.1 612.5 1535.9 612.6 1535.1 610.6 1534.7 610 1534.6 610.8 1534.6 611.9 1534.4 612.4 1533.4 609.5 1533.5 611.1 1533.1 610.5 1533.3 612.8 1533 612.6 1532.2 610 1532.3 611.9 1531.9 611.6 1531.4 610.5 1530.5 607.6 1530.4 608.6M1527.1 608 1526.6 607.2 1527.4 612.7 1526.5 609.3 1526.7 611.7 1526.4 611.7 1526.3 612.6 1525.8 611.5 1525.2 609.7 1524.8 609 1525 611.4 1524.9 612.6 1524.4 611.2 1523.3 607 1523.3 608.1 1523.4 610.6 1523.1 610.4 1522.7 609.9 1522.7 611.3 1522.3 610.8 1522.3 612.4 1522.3 613.7 1521.7 612.2 1521.9 614.9 1521.4 613.3 1520.9 612.2 1520.5 611.6 1520.2 611.1 1520.1 612.2 1519.4 609.4 1519.7 613.4 1519.4 613.2 1518.8 610.8 1518.9 613.3 1518.5 612.8 1518.5 614.5 1517.7 610.9 1517.5 611.4 1517.4 612.9 1517.4 614.8 1516.8 612.9 1516.6 613.2 1516.3 612.9 1516.2 614.2 1515.9 614.4 1516.2 618.6 1515.3 613.9 1515.1 614.5 1514.7 613.4 1514.4 613.2 1514.4 615.4 1513.6 610.9 1513.8 615.3 1513.3 612.9 1512.9 612.2 1512.6 612.3 1512.4 612.4 1512.2 613 1512 613.6 1511.7 614.1 1511.8 617 1511.2 614.1 1511.1 615.8 1510.4 612 1510.2 612.5 1510.3 616.8 1509.5 610.6 1509.6 615.4 1509.4 616.2 1509.1 616.1 1509 617.6 1508.3 612.8 1508.6 618.9 1507.9 614.9 1507.9 617.3 1507.8 620.5 1507.3 617.4 1507.2 619.6 1506.8 618.4 1506.3 615 1506.3 618.9 1505.9 618 1505.4 614.2 1505.4 618.1 1504.8 613 1504.8 617 1504.4 615.3 1503.8 610.6 1503.9 617.3 1503.4 612.9 1503.3 615.6 1503 616 1503 619.9 1502.6 618.3 1502.5 622 1502.1 619 1501.9 621.4 1501.5 619.1 1501.1 615.8 1500.9 618.1 1500.6 618 1500.3 617.6 1500 617.1 1499.7 616.5 1499.5 619.2 1499.3 619.3 1498.9 618.5 1498.7 619.4 1498.5 620.7 1498.1 616.9 1497.9 620.3 1497.5 618.3 1497.2 617.2 1496.9 614.4 1496.7 618.5 1496.3 615.2 1496.1 615.4 1495.8 617.2 1495.5 616.5 1495.3 617.7 1495 617.2 1494.7 617.8 1494.4 616.3 1494.2 619 1493.8 613.4 1493.5 609.8 1493.3 615.6 1493 613.4 1492.8 615.3 1492.5 618.7 1492.2 617 1491.9 619.3 1491.6 618.6 1491.4 614.9 1491.1 615.2 1490.8 615.3 1490.6 615.2 1490.3 614.1 1490 614.9 1489.7 617.7 1489.4 619.6 1489.2 616.6 1488.9 616.6 1488.6 614.1 1488.3 615.1 1488.1 614.1 1487.8 615.2 1487.5 614.9 1487.3 614.8 1487 615.1 1486.7 616.4 1486.3 620.3 1486.3 609.7 1485.9 615.5 1485.7 613.1 1485.4 611.7 1485.2 611 1484.9 610.6 1484.6 611.3 1484.4 610.8 1484.2 609.6 1483.7 613.5 1483.4 615.7 1483.2 613.5 1483 611 1482.6 613.8 1482.5 611.7 1482.1 613.5 1482 609.6 1481.7 609.9 1481.2 614.4 1481 612.8 1480.8 612.5 1480.5 612.1 1480.2 613.8 1479.7 615.9 1479.4 616.9 1479.1 617.4 1479 614.6 1478.6 615.7 1478.6 612.2 1478.2 613.7 1477.9 614.9 1477.6 614.2 1477.5 612.5 1477.3 611.6 1476.7 615.3 1476.2 618.6 1476.2 614.7 1475.8 616.8 1475.6 615.7 1475.1 618.3 1475 615.8 1474.9 614.4 1474.9 611.4 1474.1 616.5 1474 614.8 1473.8 613.7 1473.1 618.7 1473.2 614.2 1472.9 614.5 1472.3 617.3 1472.4 614.3 1471.1 623.8 1471.6 616.8 1471.2 617.5 1471.2 615.2 1471 614.2 1470 620.9 1470.4 614.8 1469.6 619.4 1469.4 618.7 1469 619 1468.7 619.1 1468.5 618.3 1468.5 616.4 1467.8 619.4 1467.7 618 1467.2 620.2 1467.7 613.6 1466.8 618.6 1467.2 613.6 1466.6 616.2 1466.4 615 1466.2 614.8 1465.7 616.6 1465.2 617.6 1465.4 614.7 1465 615.3 1464.2 618.8 1464.1 617.5 1464.3 614.3 1464.2 613.1 1463.7 614.4 1463.4 614.6 1462.9 616.2 1463.7 609.3 1462 617.8 1461.2 621.5 1461.7 616.5 1461.6 615.4 1461.5 614.2 1461.6 612 1460.7 615.5 1460.5 614.9 1459.8 617.8 1460.3 613.1 1460 612.9 1459.1 616.8 1459.8 611 1458.8 615 1458.6 614.4 1459.4 608.7 1458.6 611.3 1458.2 612.4 1457.9 612.2 1457.9 610.8 1457.6 610.9 1456.3 616.3 1456.8 612 1456.8 611 1456.4 611.2 1456.2 611 1455.9 611 1455 614.3 1455.4 610.6 1455 611.4M1452.9 605.7 1452.2 607.8 1452 607.5 1451.4 609 1451.5 607.2 1450.8 609 1450.4 609.4 1450.2 609.1 1449.1 612.8 1449.3 610.7 1449.3 609.3 1449.1 608.9 1449.2 607.5 1448.6 609 1448.7 607.3 1449.1 604.5 1448.5 606 1447.4 609.2 1447.1 609.2 1446.8 609.4 1446.3 610.2 1446.1 609.9 1446.8 605.8 1445.9 608.3 1444.7 611.9 1444.8 610.3 1445.7 606 1444 611.3 1444.7 607.4 1443.8 609.7 1442.6 613.1 1443 610.7 1443 609.7 1442.2 611.5 1442.2 610.5 1441.8 610.9 1442.5 607.5 1442 608.2 1442.5 605.4 1440.3 611.9 1442.1 604.9 1441.2 606.9 1439.8 610.6 1440 609.1 1439.7 609.1 1439.4 609 1440.2 605.3 1439.6 606.6 1439.8 605 1439.2 605.8 1439.3 604.6 1438.4 606.7 1438.1 606.9 1437.1 608.9 1437.6 606.5 1436.8 608.3 1436.3 608.7 1436.6 607 1435.9 608.1 1436.6 605.2 1435.5 607.6 1434.2 610.7 1435.4 606.2 1435.7 604.4 1433.9 608.9 1433.4 609.7 1433.7 607.9 1433.3 608.1 1433.7 606 1432.3 609.5 1432 609.2 1432.5 607.1 1431.6 608.9 1430.6 610.9 1431.9 606.1 1430.5 609.5 1430.4 608.9 1431.5 604.7 1430 608.2 1430.6 605.8 1430.1 606.2 1429.2 608.1 1429.3 607 1429.2 606.3 1426.9 612 1426.6 611.9 1426.4 611.7 1427.4 608.1 1427.2 607.7 1427.4 606.4 1426.5 607.9 1427.2 605.2 1425.3 609.6 1424.2 611.8 1424.2 611.1 1425.2 607.4 1425.7 605.2 1425.7 604.5 1424.6 606.7 1424.8 605.3 1426.2 600.9 1424.6 604.3 1424.8 603 1423.5 605.7 1422.6 607.2 1422.9 605.5 1423.5 603.5 1424.1 601 1422.2 605.1 1421.9 605.1 1422.1 603.7 1423.1 600.7 1420.1 607.4 1420.8 604.8 1420.6 604.7 1420 605.3 1420.6 603 1420.1 603.5 1420.5 601.9 1419.1 604.5 1418.3 605.6 1418.8 603.9 1417.1 607.2 1416.9 606.7 1416.9 606.1 1417 605 1416.3 606 1415.5 607.3 1416.6 603.9 1415.6 605.5 1416.2 603.4 1414.3 607 1415.3 604.2 1415.7 602.4 1414.5 604.4 1414.8 603.1 1413.5 605.3 1414.2 603.1 1412.5 606.1 1413 604.4 1412.3 605.2 1413 603 1412.7 602.9 1414.3 598.9 1412.7 601.6 1412.2 602 1411.9 602 1411.4 602.5 1411.4 601.8 1411.8 600.2 1410.3 602.8 1410.9 600.8 1409 604.1 1407.8 606 1408.9 603 1409.7 600.6 1408.4 602.7 1409.2 600.4 1408.1 602 1409 599.6 1408.3 600.4 1408 600.4 1408.2 599.3 1407.9 599.3 1406.3 601.9 1407.6 598.6 1403.8 605.5 1404.3 603.9 1405.9 600 1405.3 600.7 1405.1 600.3 1405 600 1404.8 599.7 1405.7 597.5 1404.7 598.8 1405 597.6 1402.7 601.4 1404.6 597.1 1405.5 594.8 1403.4 598.2 1405.2 594.1 1402.9 597.9 1402.6 597.9 1402.8 596.8 1403.1 595.7 1403.6 594.2 1401 598.4 1403.1 594 1402.9 593.8 1399.2 600 1400.8 596.4 1399.4 598.4 1399.6 597.4 1399.8 596.5 1401.6 592.7 1402 591.4 1400.6 593.4 1401.9 590.4 1400 593.2 1398 596.2 1397.9 595.8 1398.1 594.9 1397.5 595.3 1397.2 595.4 1398.1 593.3 1397.4 593.9 1398.9 590.8 1398.7 590.6 1396.9 593 1397.3 591.9 1397.6 590.7 1394 596.3 1395.2 593.8 1396 591.9 1396.8 589.9 1395.1 592.2 1395.6 590.8 1394.8 591.6 1395 590.8 1395.4 589.6 1394.8 590 1393.8 591.1 1395 588.6 1394.1 589.6 1393.5 590 1394.3 588.2 1395.8 585.3 1393.2 588.8 1392.9 588.8 1391.8 590 1391.8 589.6 1392.2 588.3 1391.7 588.6 1392.6 586.7 1391.8 587.5 1391.9 586.8 1392.1 586 1390.7 587.6 1390.5 587.4 1390.5 586.9 1390.6 586.3 1389.9 586.8 1391 584.6 1390.7 584.6 1390.2 584.9 1390.7 583.6 1389.1 585.5 1389 585.2 1388.8 585 1391 581.1 1388.9 583.8 1390.7 580.6 1388.1 584.1 1389.8 581 1391 578.8 1389.8 580.1 1387.8 582.5 1390.1 578.6 1388.9 580 1388.4 580.2 1387.1 581.5 1385.9 582.8 1386.5 581.5 1386.8 580.5 1387.3 579.4 1385.7 581.2 1384.9 581.9 1386.5 579.2 1383.9 582.4 1386.3 578.5 1386.5 577.7M1379 582.5 1379.7 581.1 1381.6 578.1 1380.8 578.6 1380.2 579.1 1380.4 578.3 1380.4 577.8 1380 578 1378.1 580 1378.1 579.4 1378.7 578.2 1377.7 579 1376.3 580.5 1378.1 577.7 1377 578.6 1379.6 574.8 1377.7 576.8 1378.3 575.5 1377.3 576.4 1378.9 573.9 1374.7 578.8 1376.2 576.5 1374.6 578 1376.2 575.6 1377 574.2 1374 577.5 1375.6 575 1372.7 578.1 1374.9 575 1374.1 575.5 1375.5 573.4 1371.3 578 1373.9 574.5 1373.8 574.2 1373.1 574.5 1371.3 576.3 1373.6 573.1 1372.8 573.5 1372.6 573.4 1369.4 576.8 1370.4 575.2 1369.5 575.8 1373 571.2 1370.2 574.1 1371.3 572.3 1369.1 574.6 1371.5 571.2 1367.7 575.3 1369.7 572.5 1365.9 576.5 1369.9 571.4 1369.2 571.8 1366.4 574.6 1367.9 572.5 1368.9 570.9 1366.1 573.6 1369.1 569.8 1367.8 570.9 1361.7 577.3 1362 576.6 1366.3 571.2 1363.1 574.4 1364.8 572.1 1365.1 571.3 1365.1 570.9 1366.3 569.2 1366.4 568.6 1364.2 570.6 1364 570.5 1363 571.2 1361.4 572.4 1363 570.3 1365.2 567.4 1360.9 571.6 1364.2 567.7 1363.5 568.1 1359.3 572.2 1361 569.9 1361 569.4 1359.3 570.9 1360.4 569.3 1361.8 567.4 1360.9 567.9 1359.1 569.4 1360.4 567.7 1362.5 565 1360.1 567.1 1361.6 565.2 1359.4 567 1359.7 566.4 1360.7 564.9 1361 564.2 1357.9 566.9 1359.8 564.7 1360.1 563.9 1358.9 564.8 1360.9 562.3 1355.8 567.1 1355 567.4 1357.5 564.5 1356.5 565.1 1357.3 564 1357.3 563.5 1356.9 563.5 1356.2 563.8 1356.4 563.2 1354.9 564.3 1357 561.8 1356.8 561.6 1356.3 561.8 1356.4 561.3 1358 559.3 1357.5 559.4 1357 559.5 1356.8 559.3 1358.1 557.7 1355.9 559.4 1353.3 561.5 1354.5 559.9 1356.3 557.9 1355.6 558.2 1354.6 558.7 1357.9 555.2 1355.8 556.8 1356.3 556 1356.4 555.5 1355.4 556 1353.7 557.2 1352.5 558 1354.5 555.7 1353.5 556.3 1355.2 554.4 1355.4 553.8 1354.6 554.2 1354.2 554.1 1354.4 553.6 1353 554.5 1351.7 555.3 1354.4 552.5 1351.6 554.6 1353.6 552.4 1349.8 555.5 1352.8 552.5 1355.5 549.7 1351.5 552.9 1353.2 551 1352.5 551.2 1349.8 553.2 1350.9 551.9 1348.7 553.4 1346.9 554.6 1348.3 553 1350 551.2 1351 550 1351.2 549.4 1350.5 549.7 1350.1 549.6 1351.6 548.1 1351.9 547.4 1351.3 547.5 1351.8 546.8 1347.1 550.3 1349.8 547.7 1348.3 548.6 1350 546.8 1347.7 548.4 1348.1 547.7 1349.4 546.3 1347.1 547.8 1346.1 548.3 1347.8 546.5 1346.6 547.2 1345.5 547.7 1346.8 546.2 1348.6 544.5 1347.4 545.1 1347.1 544.9 1347.3 544.4 1346.6 544.7 1344.8 545.7 1346.8 543.8 1348 542.5 1346.4 543.4 1345.4 543.8 1344.7 544 1347.4 541.6 1345.2 543 1345.7 542.2 1346.1 541.5 1344.5 542.4 1343.2 543.1 1343.4 542.5 1346.8 539.7 1344.2 541.2 1343.7 541.3 1344.9 540.1 1344.6 539.9 1344.9 539.3 1343.2 540.3M1344.6 535.3 1342.1 536.7 1342.1 536.4 1343.7 535 1344.6 534 1345.1 533.3 1344.2 533.6 1340.1 536.2 1340.7 535.4 1339.7 535.7 1342 533.8 1337.2 536.8 1336.4 537 1341.2 533.4 1343.3 531.6 1338.1 534.9 1340.8 532.7 1339 533.6 1338.2 533.8 1339 532.9 1337.4 533.7 1338.8 532.3 1336 533.9 1337.5 532.5 1334.1 534.5 1336.8 532.4 1335.8 532.7 1336.2 532.1 1334.2 533 1333.4 533.3 1332.9 533.3 1332.5 533.1 1334.2 531.7 1332.8 532.3 1334.3 531 1338.8 527.8 1333.4 530.9 1332.6 531.1 1335.5 528.9 1333.1 530.1 1337 527.4 1334.3 528.7 1332.8 529.3 1336.1 526.9 1337.5 525.7 1332.6 528.5 1330.2 529.6 1332 528.2 1332.9 527.3 1331.5 527.8 1327.7 529.7 1330.3 527.9 1333.1 525.9 1332.2 526.1 1336.2 523.3 1330.7 526.3 1332.1 525.1 1333.6 524 1334.3 523.2 1327.8 526.7 1327.5 526.6 1327.5 526.3 1326.7 526.3 1328.6 524.9 1331 523.2 1326.1 525.7 1328.6 524 1329.2 523.3 1327.7 523.8 1328 523.3 1327.9 523.1 1329 522.1 1327.2 522.8 1326.4 522.9 1326.3 522.6 1322.2 524.6 1328.3 520.9 1328.9 520.3 1327.3 520.8 1326.8 520.8 1325.5 521.1 1327.9 519.5 1327.3 519.5 1325.6 520.1 1324.4 520.5 1323.8 520.5 1325.5 519.2 1320.9 521.4 1323.7 519.5 1324.9 518.6 1322.2 519.7 1324.9 518 1325.7 517.2 1324.5 517.5 1323.1 517.9 1324.6 516.8 1322.3 517.7 1325.2 515.9 1324.9 515.7 1324 515.9 1318.9 518.2 1322.7 515.9 1321.4 516.2 1322.2 515.5 1324.5 514 1321.7 515.1 1323 514.1 1323 513.9 1323.1 513.5 1322.1 513.7 1318.9 514.9 1323.9 512.2 1322.1 512.7 1322.1 512.4 1319.2 513.5 1318.5 513.5 1322.1 511.5 1323.2 510.6 1322.2 510.8 1320.4 511.4 1321.7 510.4 1318.3 511.7 1317.3 511.9 1319.2 510.7 1318.4 510.7 1320 509.7 1324.9 507.1 1323.3 507.5 1322 507.8 1322.7 507.2 1319.9 508.1 1316.6 509.3 1319.9 507.5 1319.8 507.3 1319.8 507 1322 505.7 1320.4 506.1 1322.9 504.7 1323.9 503.9 1318.4 506 1319.2 505.4 1322.3 503.7 1321.3 503.9 1319.9 504.1 1317.5 504.9 1319.6 503.7 1317.1 504.4 1321.7 502.2 1319.1 503 1320.9 501.9 1319.4 502.2 1318.8 502.2 1322.3 500.4 1321.2 500.6 1323.4 499.4 1322.7 499.4 1324.2 498.5 1319.4 500.1 1320.9 499.2 1319.1 499.7 1322.4 498.1 1319 499.1 1316.6 499.8 1322.7 497 1317.3 498.9 1321.5 496.9 1320.8 496.9 1324.3 495.3 1317.8 497.5 1318.3 497 1324.4 494.3 1320.7 495.5 1321.9 494.7 1317.6 496.1 1316.7 496.1 1321.2 494.1 1319.8 494.4 1315.6 495.6 1318.8 494.1 1318.8 493.9 1320 493.1 1318.4 493.4 1318 493.3 1317.9 493 1316.4 493.2 1317.1 492.7 1320.1 491.3 1319.7 491.2 1317.8 491.6 1319.8 490.6 1320.8 489.9 1318.8 490.3 1318.2 490.3 1322.3 488.5 1318.2 489.7 1318.5 489.3 1321.7 487.9 1318.2 488.8 1318.6 488.4 1317 488.6 1318 488M1317.1 484.9 1316.3 484.9 1316.3 484.6 1314.8 484.8 1319 483.2 1316.3 483.7 1315.7 483.6 1313.7 484 1316.3 482.9 1314.4 483.2 1315.1 482.7 1312.1 483.3 1314.7 482.2 1311.2 482.9 1312.7 482.2 1313.9 481.6 1312.5 481.7 1313.6 481.1 1312.2 481.2 1313.1 480.6 1311.2 480.9 1314.3 479.7 1313.5 479.7 1315 479 1313.9 479 1309 480.1 1311.8 479 1309.8 479.3 1312.5 478.2 1313.6 477.7 1313.1 477.5 1312.4 477.4 1311.7 477.3 1309.3 477.6 1310.1 477.1 1312.7 476.2 1309.2 476.8 1312.9 475.6 1309.8 476.1 1308.2 476.2 1309.1 475.6 1306.5 476 1309.9 474.9 1307.5 475.2 1307.1 475 1306.5 474.8 1306.3 474.6 1305.8 474.4 1307.5 473.7 1305.7 473.8 1309.1 472.8 1312.3 471.7 1306.4 472.8 1305.9 472.6 1311 471.2 1308.4 471.5 1309.1 471 1312.3 470 1308.5 470.6 1309.2 470.2 1307.8 470.2 1307.5 469.9 1307.8 469.6 1305.5 469.8 1306.9 469.2 1307.1 468.9 1306.7 468.7 1304.2 468.9 1302.1 469 1303.3 468.5 1308.4 467.2 1310.5 466.5 1306.5 467 1305.2 467 1304.2 466.9 1303.8 466.7 1303.9 466.3 1305.1 465.8 1309.3 464.7 1301.5 465.9 1303.9 465.2 1302.4 465.2 1300.7 465.2 1306.7 463.8 1302 464.3 1302.8 463.9 1301.7 463.8 1298.8 464 1302.3 463.1 1305 462.4 1301.5 462.7 1304.7 461.9 1305.8 461.4 1302.8 461.6 1302.1 461.4 1304.8 460.7 1300.8 461 1302.7 460.4 1305.8 459.7 1306.1 459.3 1302.8 459.6 1302 459.4 1304.6 458.7 1305.2 458.3 1305.8 458 1305.4 457.7 1306 457.4 1305 457.2 1306.2 456.8 1305.4 456.6 1307.5 456 1305.2 456.1 1300.4 456.4 1304.6 455.6 1304.6 455.3 1303.4 455.2 1305.5 454.6 1302 454.8 1305.1 454.1 1305.2 453.8 1309.1 453 1304.1 453.4 1303.3 453.2 1309 452.2 1305.8 452.3 1304.6 452.2 1305.3 451.8 1305.3 451.5 1301.8 451.6 1306.9 450.8 1305.2 450.7 1303.1 450.6 1299.2 450.7 1301.7 450.2 1304 449.7 1304.5 449.3 1304 449.1 1304.7 448.8 1305.3 448.4 1306.1 448.1 1306.4 447.7 1306.4 447.5 1304.7 447.3 1308.2 446.8 1309.4 446.4 1307.8 446.2 1305.2 446.2 1305.4 445.9 1305.1 445.6 1304 445.4 1303 445.2 1304.7 444.8 1303.4 444.6 1306.8 444.1 1304.8 444 1303.6 443.8 1304.1 443.4 1307.3 443 1300.4 443.1 1305.5 442.5 1304.8 442.3 1306.8 441.9 1307.1 441.6 1311 441.1 1307.3 441 1310.6 440.6 1307.6 440.4 1306.3 440.2 1307 439.9 1306.3 439.7 1306.3 439.4 1308 439 1306.9 438.8 1306.5 438.6 1306.4 438.3 1306.3 438 1307.8 437.7 1307.5 437.4 1305.6 437.2 1305.1 436.9 1305.8 436.6 1303.6 436.4 1308.9 436 1308.4 435.7 1308.8 435.4 1307.2 435.2 1311.8 434.8 1309.9 434.6 1304.8 434.4 1309.6 434.1 1311.7 433.7 1309 433.5 1307.7 433.3 1309.2 433 1309.6 432.7 1305.5 432.5 1310.1 432.2 1306.3 431.9 1303.3 431.7 1310.8 431.3 1303.4 431.1 1305.7 430.8 1306.5 430.5 1311.6 430.3 1305.9 430 1302.2 429.7 1309.8 429.4 1307.5 429.1 1304.7 428.8 1307 428.6 1308.7 428.3 1310 428.1 1309.2 427.8 1304.9 427.5 1310.1 427.3 1309.1 427 1308.2 426.7 1307.7 426.4 1309.2 426.2 1306.7 425.8 1310.6 425.6 1308.4 425.3M1305.5 422 1303.5 421.6 1302.9 421.3 1306 421.2 1304.1 420.8 1306.3 420.6 1305.1 420.3 1305.8 420 1304.2 419.7 1304.3 419.4 1302.9 419 1305 418.9 1302.9 418.4 1300.7 418 1303.1 417.9 1303.6 417.6 1307.4 417.6 1301.5 416.9 1303.5 416.8 1305 416.6 1306.9 416.5 1304.4 416 1309.2 416.1 1303.2 415.3 1301 414.9 1304.5 414.9 1303.3 414.5 1304.9 414.3 1302 413.8 1302.3 413.5 1304.1 413.4 1306.4 413.3 1305.6 413 1309 413 1303.8 412.3 1304.6 412 1304.7 411.8 1305.3 411.6 1304.9 411.2 1303.3 410.8 1298.3 410 1305 410.4 1306.7 410.3 1303.9 409.7 1302.9 409.3 1302.1 408.9 1306 409.1 1303.9 408.6 1303.9 408.3 1306.9 408.3 1305.9 407.9 1302.9 407.3 1304 407.1 1302.1 406.6 1300.7 406.1 1305.9 406.5 1305.6 406.2 1303 405.6 1307.3 405.9 1303.2 405 1306.2 405.1 1303.4 404.5 1300.5 403.8 1305.2 404.1 1300.6 403.2 1305.9 403.7 1302.7 402.9 1303.3 402.7 1302.4 402.3 1304.5 402.3 1303.3 401.9 1302.6 401.5 1305.6 401.6 1302.9 400.9 1306.8 401.2 1303.3 400.4 1307.1 400.7 1307.6 400.5 1304.6 399.7 1305.6 399.6 1308.7 399.9 1308.1 399.5 1304.5 398.6 1306.5 398.6 1303.9 397.9 1305.3 397.8 1308.2 398.1 1309.2 398 1304.8 396.9 1305.2 396.7 1309.7 397.2 1304.9 396 1304.3 395.7 1307.7 396 1304.5 395.1 1304.4 394.8 1306.1 394.8 1308 394.9 1306.4 394.3 1305.1 393.8 1308.2 394.1 1309.3 394 1307.5 393.4 1306.2 392.8 1307.7 392.8 1309.7 393 1307.9 392.3 1309.9 392.4 1307.8 391.7 1310.2 391.9 1309.2 391.4 1309.6 391.2 1308.6 390.7 1311.4 391 1312 390.9 1310.3 390.2 1312.6 390.5 1308.6 389.3 1308.5 389 1311.7 389.4 1310.2 388.8 1311.9 388.9 1310.7 388.3 1310.4 388 1310.4 387.7 1309.3 387.1 1309 386.8 1312 387.2 1309.8 386.4 1310.4 386.2 1311.4 386.2 1310.1 385.6 1311.3 385.6 1315.1 386.2 1313.3 385.5 1315.5 385.8 1314.1 385.2 1309.3 383.6 1310.1 383.6 1309 383 1314.3 384.1 1314.1 383.7 1310 382.4 1309.8 382 1312.5 382.4 1313.1 382.3 1306 380.1 1312.4 381.6 1313.6 381.6 1311.9 380.8 1311.4 380.4 1311.7 380.2 1309.9 379.4 1310.8 379.4 1313 379.7 1313.5 379.5 1315.4 379.8 1314.6 379.3 1313.1 378.6 1313.7 378.4 1315.4 378.6 1312 377.4 1310.4 376.6 1314.4 377.5 1314.3 377.2 1313.7 376.7 1315.7 377 1313.6 376.1 1318 377.1 1314.2 375.7 1316.4 376.1 1319.3 376.7 1314.7 375 1316.7 375.3 1318.8 375.7 1314.2 373.9 1320 375.5 1314.2 373.3 1317.4 374.1 1312.9 372.3 1317.7 373.6 1316.4 372.9 1320.1 373.8 1316.2 372.2 1318.2 372.6M1319 369.5 1319.3 369.3 1317.3 368.3 1317.4 368 1318.8 368.3 1320 368.4 1319.4 367.9 1323.4 369.1 1320.8 367.8 1317 366.1 1315.9 365.4 1318.3 366 1321.8 367.1 1321.9 366.8 1318.7 365.3 1321.4 366 1319.5 365 1317.1 363.8 1322.6 365.6 1317.2 363.2 1319.6 363.9 1316.1 362.2 1321.3 363.9 1319.4 362.9 1319.2 362.5 1320.5 362.7 1320.4 362.4 1323 363.1 1323.9 363.2 1320.7 361.6 1320.4 361.2 1322.3 361.7 1319.8 360.4 1320.5 360.4 1320.9 360.2 1318.6 359 1319.9 359.2 1318 358.1 1319.3 358.4 1324.8 360.4 1323.4 359.5 1321.5 358.4 1324.7 359.5 1319.3 356.8 1322.7 358 1317.7 355.6 1320.5 356.5 1323.9 357.6 1320.8 356 1321.1 355.8 1326.1 357.7 1323.2 356.2 1323.3 355.9 1327.8 357.6 1324.6 355.8 1327.4 356.8 1325.5 355.7 1322.2 353.9 1322.8 353.8 1321.9 353.1 1321.4 352.6 1324 353.5 1325.3 353.8 1324.5 353.1 1327.6 354.2 1326.1 353.2 1324.8 352.3 1326.4 352.7 1326.2 352.4 1323.4 350.8 1327.9 352.6 1326 351.4 1323 349.6 1323.2 349.4 1327.1 351 1324.6 349.5 1328.2 350.9 1322.7 347.9 1324.7 348.6 1325.3 348.6 1323.2 347.2 1323.2 346.9 1322.9 346.5 1324.2 346.8 1325 346.9 1325 346.6 1323.5 345.5 1324.3 345.6 1327.5 346.9 1325 345.4 1323.3 344.1 1325.2 344.8 1325.3 344.5 1325.6 344.4 1323.9 343.2 1325.2 343.6 1324.2 342.7 1329.4 345.1 1327.5 343.8 1326.6 343 1328.7 343.8 1327.5 342.8 1328.3 343 1329.1 343.1 1327.3 341.8 1326.9 341.3 1328.4 341.7 1328.2 341.3 1328 340.9 1325.2 339 1325.1 338.7 1326.1 338.9 1327.7 339.5 1324.9 337.6 1327.9 339 1325.1 337.1 1326 337.2 1325.8 336.8 1326.2 336.7 1329 338 1328.4 337.3 1325.1 335.1 1325.9 335.2 1330 337.2 1328.3 336 1327.4 335.1 1327.7 335 1330.9 336.5 1331.4 336.5 1329.5 335 1330.6 335.4 1325.8 332.2 1324.1 330.8 1329.2 333.5 1331 334.3 1328.8 332.6 1330.8 333.5 1333.5 334.8 1330.9 332.9 1333.5 334.2 1331.4 332.6 1330.6 331.7 1334.5 333.8 1329.7 330.5 1332.7 332 1328.7 329.3 1329.9 329.7 1329.4 329 1331.7 330.1 1329.3 328.2 1328.8 327.6 1331.6 329.1 1332.4 329.2 1331.4 328.2 1328.6 326.1 1330.5 327 1331.3 327.2 1327.7 324.5 1333.1 327.7 1327.9 324 1332.9 326.9 1331.2 325.4 1332 325.6 1334.3 326.7 1331.8 324.8 1329.6 322.9 1333.9 325.5 1332 323.9 1332.7 324 1331.8 323.1 1332.8 323.4 1334.5 324.2 1333.2 323 1336.1 324.6 1333.3 322.4 1334.9 323.1 1335.3 323 1335.7 322.9 1335.1 322.2 1333.8 320.9 1337.8 323.4 1335.8 321.6 1336.4 321.7 1335.5 320.7 1338.3 322.3 1333.6 318.7 1337 320.7 1335.1 319.1 1339.1 321.5 1336.8 319.5 1337.2 319.5 1335.5 317.9 1335.6 317.6 1337.3 318.5 1337.6 318.4 1337.1 317.6 1339.2 318.9 1341.7 320.3 1334.7 314.8 1338.7 317.5 1337.2 316 1337.7 316 1336.7 314.9 1338.9 316.1 1338.5 315.5 1339.2 315.7 1342.7 317.9 1342.2 317.2 1340.3 315.4 1340.9 315.6 1340 314.5 1341.2 315.1 1340.3 314 1338.3 312.1 1343.6 315.8 1340.6 313.2 1344.1 315.5 1345.8 316.5 1341.1 312.4 1344.7 315 1343 313.2 1341.6 311.8 1344.5 313.7 1346.2 314.7 1345.9 314.1 1341.7 310.4 1345.2 312.8 1345.3 312.6 1345.5 312.3 1344.1 310.9 1348.1 313.7 1347.3 312.7 1348.6 313.4 1349.7 314 1348.6 312.7 1349.1 312.8 1344.7 308.8 1348.6 311.6 1344.1 307.5 1343.8 306.9 1345.8 308.2 1349.2 310.7 1346.9 308.4 1350.1 310.7 1350.7 310.9 1347.1 307.5 1348.4 308.2 1350.4 309.6 1350.5 309.3 1350.8 309.2 1353.5 311.1 1350.7 308.3 1350.6 307.8 1349.2 306.3 1350.7 307.2 1349.7 305.9 1352.7 308.2 1352.4 307.6 1352 306.8 1351.6 306.1 1350.4 304.7 1352 305.8 1350.5 304 1350.3 303.5 1352.8 305.3 1353.8 305.9 1354.2 305.9 1356.6 307.7 1354.9 305.7 1354.6 305.1 1352.7 303 1355.8 305.4 1353.7 303.2 1353.9 302.9 1355.1 303.7 1355.8 303.9 1356.4 304.2 1357.2 304.5 1358.7 305.5 1356.6 303.1 1357.6 303.8 1356.5 302.3 1357.6 302.9 1356.6 301.6 1356.2 300.8 1356.7 300.9 1354.8 298.8 1361.7 305M1359.1 298 1362.2 300.7 1362.1 300.1 1362.3 300 1361.8 299.1 1361 297.9 1364 300.6 1359.8 295.9 1364.2 299.9 1361.7 297 1363.1 298.1 1364.8 299.4 1365.4 299.7 1364.4 298.2 1364.9 298.3 1365.5 298.6 1362.9 295.5 1363.2 295.4 1362.4 294.1 1363.5 294.8 1366.7 297.9 1367.3 298 1365.5 295.8 1367.2 297.2 1365.9 295.4 1369.5 298.8 1367.8 296.6 1365.4 293.7 1364.8 292.6 1364.8 292.1 1367.8 295 1367.1 293.9 1365.7 291.9 1366.6 292.5 1367.5 293.1 1366.2 291.2 1366.1 290.6 1370 294.6 1366.1 289.9 1367 290.5 1370 293.4 1366.8 289.4 1365.1 287.1 1362.2 283.3 1365.9 287 1368.9 290 1370.6 291.5 1366.9 286.9 1369.5 289.4 1367.2 286.4 1369.6 288.7 1371.1 290.1 1370.1 288.5 1372 290.3 1371.7 289.5 1372.1 289.5 1370 286.6 1372.8 289.5 1373.2 289.5 1371.5 287.1 1370.4 285.3 1371.8 286.5 1373.4 288.1 1368.8 282.2 1374.7 288.8 1374.3 287.8 1373.5 286.4 1372.1 284.3 1372.4 284.3 1373.9 285.6 1374.2 285.6 1373 283.6 1375.7 286.5 1372.9 282.6 1374.7 284.4 1373 281.8 1374.1 282.7 1373 280.9 1373.3 280.9 1374.3 281.6 1377.4 285.1 1374.9 281.5 1375.9 282.3 1376.8 283.1 1378.4 284.6 1375.9 280.9 1376.5 281.3 1377 281.5 1374.7 277.9 1375.9 279 1378.5 282 1377.5 280.2 1377.4 279.7 1374.3 275.1 1376.5 277.5 1376.9 277.5 1374.8 274.2 1377.5 277.4 1375.8 274.6 1378.7 278.1 1378.9 277.8 1378.6 277 1379.3 277.5 1378.3 275.6 1377.8 274.5 1376.4 272.1 1377.9 273.6 1378.3 273.7 1378.9 274 1379.5 274.4 1381.2 276.2 1379.7 273.7 1379 272.2 1381.9 275.8 1379.3 271.6 1379.3 271.1 1380.1 271.7 1381.2 272.7 1383.1 275 1382.6 273.8 1382 272.4 1383.6 274.2 1381.9 271.3 1385 275.3 1383.9 273.2 1383.2 271.7 1383.1 270.9 1384.5 272.5 1384.3 271.8 1384.5 271.4 1384.2 270.5 1383 268.2 1386.4 272.8 1384.3 269.1 1389.1 275.8 1388.8 274.9 1385.7 269.7 1387.1 271.3 1386.8 270.4 1386.8 269.8 1386.8 269.3 1389 272.2 1388.8 271.3 1387 268 1387.6 268.4 1387.3 267.4 1388.9 269.4 1389.7 270.1 1388.3 267.3 1390.2 269.9 1390.6 269.9 1391 270.1 1389.1 266.4 1389.3 266.3 1391 268.4 1391.6 268.9 1389.2 264.4 1391.1 267 1392 267.9 1392.8 268.7 1391.9 266.6 1394 269.5 1392.6 266.6 1393.9 268.3 1392.9 266.1 1393.4 266.3 1396 270.2 1393.7 265.7 1393.9 265.5 1394.7 266.4 1397.3 270.2 1394.8 265.4 1395.6 266.2 1395.9 266.1 1398.3 269.7 1397.2 267.2 1398.6 269 1397.8 267.1 1398.6 268 1399.1 268.2 1398.1 265.9 1398.6 266.3 1398.5 265.6 1399.3 266.3 1398.7 264.7 1398.7 264.2 1399.4 264.8 1400.4 266.1 1401.8 267.9 1400.4 264.8 1401.7 266.7 1402.1 266.8 1402.2 266.3 1402 265.4 1402.7 266.1 1402.6 265.3 1404 267.3 1405.2 269 1404.4 266.9 1404.4 266.3 1405.4 267.8 1403.5 263.5 1404.3 264.4 1402.9 261.1 1404.7 264 1404.3 262.6 1404.9 263.1 1405.6 263.9 1405.8 263.7 1405.4 262.2 1406.1 263 1407.8 265.8 1406.9 263.4 1407 263 1408.1 264.4 1407.6 262.9 1408.3 263.7 1409.2 264.9 1409.6 265 1407.9 260.9 1408.2 260.8 1409.3 262.6 1409.6 262.6 1408.8 260.3 1410.2 262.4 1410.3 261.9 1410.7 262.3 1411.4 263 1411.5 262.5 1411.1 261.2 1412.1 262.5 1413.9 265.8 1412.4 261.9 1412.1 260.5 1413.9 263.8 1413.7 262.7 1413 260.6 1413.6 261.3 1414.8 263.2 1413.4 259.5 1415 262.2 1413.8 258.9 1414.3 259.5 1415.3 260.8 1415.4 260.5 1414.3 257.3 1418.1 265.2 1416.1 260 1417.5 262.5 1416.6 259.6 1417.6 261.3 1417 259.2 1417.7 260.3 1418 260.1 1419 261.7 1418.6 260.1 1418.2 258.5 1420.6 263.5 1418.9 258.7 1420.5 261.8 1420.6 261.3 1421.1 261.8 1421.7 262.5 1419.8 257.4 1421.1 259.7 1421.8 260.7 1421.7 259.7 1422 259.7 1421.5 257.8 1422 258.3 1422.5 258.7 1423 259.3M1426.5 259.3 1425.8 256.8 1426.1 256.8 1427.4 259.5 1427.6 259.1 1426.8 256.2 1428 258.8 1427.3 256.1 1428.2 257.7 1428.5 257.6 1428.4 256.6 1428.9 257.1 1429.3 257.4 1429.9 258.2 1428.3 253.1 1430.1 257.3 1430.2 256.7 1429.6 254.3 1430.5 256 1429.2 251.3 1429.6 251.8 1430.2 252.6 1429.6 249.8 1431.8 255.4 1431.5 253.9 1431.4 252.6 1431.1 250.7 1432.4 253.8 1433 254.6 1433.4 255.1 1432.1 250.3 1434.7 257.3 1433.4 252.3 1434.3 254.3 1433.6 251.3 1434.7 253.7 1433.7 249.5 1434.5 251.1 1434.7 251 1435 250.8 1436 253.1 1436.4 253.6 1436.7 253.5 1436.7 252.5 1437 252.7 1436.8 251.2 1436.4 248.9 1437.5 251.4 1437.2 249.6 1438.4 252.5 1438.1 250.6 1439.3 253.5 1437.1 245.3 1437.7 246.1 1438.9 249.3 1438.4 246.5 1438.7 246.7 1440.3 251 1440.1 249.2 1440.6 250.2 1440.7 249.4 1441.2 250.1 1441.6 250.5 1441.4 248.7 1441.1 246.5 1441.9 248.6 1441.8 247.1 1441.7 245.8 1442.6 247.8 1442.7 247.2 1443.6 249.6 1442.9 245.6 1443.1 245.5 1444 247.6 1443.9 246.1 1444 245.4 1443.9 244 1444.6 245.6 1444.8 245.2 1445.8 247.9 1444.9 243 1445.7 245.2 1446 245 1445.3 241.1 1445.6 241.2 1445.9 241.2 1447.4 246.2 1446.7 242.1 1447.6 244.4 1447.7 243.5 1448.1 244.3 1448.3 243.6 1448.5 243.2 1449.1 244.8 1448.6 241.3 1450.3 247.2 1450.9 248.6 1450.5 245.8 1450.7 245.5 1450.7 243.8 1450.6 242.2 1451.4 244.4 1451.5 243.5 1452.3 246 1452.1 243.6 1452.8 245.5 1452.7 244 1453.2 244.7 1453.5 245 1453.3 242.6 1454.9 248.7 1454.9 247.5 1454.7 245 1454.8 244 1455.3 245 1455 242.2 1455.9 245.6 1456.3 246.2 1455.7 241.1 1456 241.3 1457.2 246.3 1457.8 247.7 1457.2 242.9 1458.1 246.5 1458.8 248.9 1458.4 244.8 1458.7 244.8 1459.4 247.4 1458.7 241.8 1458.9 241.4 1459.3 241.7 1459.6 241.6 1460.7 246.4 1460.6 244.2 1461.1 245.9 1460.5 240.5 1461.3 243.8 1461.8 245.1 1461.8 242.9 1462.2 243.7 1462.5 243.7 1462.9 244.6 1462.5 240.1 1463 241.5 1463.2 241 1464 244.6 1464.4 245.3 1464.7 245.5 1464.9 244.3 1465.3 245.8 1465.9 247.9 1466 246.3 1466.2 245.8 1466.4 245.1 1466.7 245.3 1467.4 248.8 1467.4 246.6 1467.3 243.7 1467.7 244.1 1468.1 245.2 1467.8 240.7 1468.4 243.4 1468.8 243.9 1468.9 243 1468.9 240.6 1470.1 248 1469.7 242 1469.8 240.7 1470.3 242.5 1470.7 243.8 1471.1 244.5 1471.2 243.2 1471.6 244.2 1472 245.1 1472.2 244.9 1472.3 243.2 1472.6 242.6 1472.9 243.5 1473.2 243.7 1473.4 242.8 1473.7 242.5 1473.7 239.8 1474.3 243.3 1474.4 241.2 1475.1 245.2 1474.9 240 1475.3 241.9 1475.4 239.8 1476.2 245.5 1476.4 243.9 1476.6 243.3 1476.9 243.4 1477.3 245.6 1477.5 243.8 1477.6 242.3 1478.2 245.9 1477.9 238.9 1478.5 242.4 1478.8 243.2 1478.9 240.9 1479.1 238.5 1479.6 241.8 1480 244.5 1480.2 242.5 1480.7 245.9 1480.7 241.8 1481 241.5 1481.4 243.9 1481.8 246.2 1482 244.2 1482.2 244.3 1482.3 240.7 1482.5 237.9 1483.1 245 1483.3 243 1483.4 239.4 1483.8 242.6 1484.2 243.8 1484.5 245.1 1484.6 240.9 1485.1 245.2 1485.2 240.8 1485.7 246.4 1485.8 241.8 1486.1 243.1 1486.4 242.2 1486.7 243.2 1486.9 242.6 1487.3 246" stroke="#f5a11a" stroke-width="1.1"/>
</g>
<g font-family="'Liberation Sans',Arial,Helvetica,sans-serif" font-size="19.6" text-anchor="middle" fill="#000">
<text x="1497.2" y="126">a</text>
<text x="1497.2" y="165">b</text>
<text x="1497.2" y="202.3">c</text>
<text x="1497.2" y="241">d</text>
</g>
<g id="links" fill="none" stroke-linecap="butt">
<path d="M1664.4 424.2Q1492 430 1324 469.5M1664.4 425.7Q1492 430 1341 513.9" stroke="#8fa8dc" stroke-opacity="0.6" stroke-width="1.4"/>
<path d="M1656.8 379.4Q1492 430 1337.8 353.2M1657.4 381.3Q1492 430 1337.1 354.5M1657.8 382.9Q1492 430 1336.4 355.9M1658.4 385Q1492 430 1335.9 357.1M1658.9 386.7Q1492 430 1335.3 358.2M1659.2 387.9Q1492 430 1334.6 359.9M1659.8 390.2Q1492 430 1334.1 361.1M1660 391.3Q1492 430 1333.2 363M1660.5 393.3Q1492 430 1332.6 364.5M1660.6 393.7Q1492 430 1356.8 323.3M1660.8 394.7Q1492 430 1355.9 324.5M1664.1 418Q1492 430 1403 578.2M1664.2 419.4Q1492 430 1390.7 570M1664.3 422.2Q1492 430 1379.8 561.4M1664.4 424.2Q1492 430 1369 551.4M1664.4 425.8Q1492 430 1358.9 540.2M1664.5 428.1Q1492 430 1350.6 529.2M1664.5 429.7Q1492 430 1342.6 516.6" stroke="#6e8ccd" stroke-opacity="0.52" stroke-width="1.5"/>
<path d="M1570.5 276.8Q1492 430 1443.2 264.9M1572.4 277.8Q1492 430 1440.4 265.8M1574.8 279.1Q1492 430 1438.3 266.5M1576.9 280.2Q1492 430 1436.5 267.1M1578.7 281.3Q1492 430 1433.8 268M1581.2 282.7Q1492 430 1431.8 268.8M1582.6 283.6Q1492 430 1429 269.8M1584.7 284.9Q1492 430 1427.4 270.4M1587.2 286.5Q1492 430 1424.6 271.6M1589.2 287.9Q1492 430 1423.1 272.3M1591.1 289.2Q1492 430 1420.3 273.5" stroke="#f0857a" stroke-opacity="0.5" stroke-width="1.7"/>
<path d="M1569.8 276.4Q1492 430 1485.6 258M1571.4 277.2Q1492 430 1481.4 258.2M1573.8 278.5Q1492 430 1476 258.6M1576 279.7Q1492 430 1470.9 259.2" stroke="#f0857a" stroke-opacity="0.5" stroke-width="1.5"/>
<path d="M1372.8 305.7Q1492 430 1626.8 322.8M1374.3 304.3Q1492 430 1624.2 319.5M1376.3 302.4Q1492 430 1621.8 316.7M1378.5 300.5Q1492 430 1619.3 314M1380.4 298.8Q1492 430 1616.7 311.2M1382.8 296.9Q1492 430 1614.3 308.8M1384.6 295.4Q1492 430 1598 294.3" stroke="#f0857a" stroke-opacity="0.5" stroke-width="1.6"/>
<path d="M1643.9 348.7Q1492 430 1329 486.9M1653.5 369.7Q1492 430 1333.4 498.2M1657.4 479.2Q1492 430 1323 395.7M1630.5 533.2Q1492 430 1439.5 266.1" stroke="#f0929c" stroke-opacity="0.6" stroke-width="1.6"/>
<path d="M1602.1 563.2Q1492 430 1330.9 492M1319.8 420.7Q1492 430 1598.1 294.4M1343.6 518.3Q1492 430 1644.9 350.5" stroke="#f0929c" stroke-opacity="0.6" stroke-width="1.5"/>
<path d="M1320.4 448.1Q1492 430 1595.6 568.3" stroke="#f0929c" stroke-opacity="0.6" stroke-width="1.4"/>
<path d="M1599.2 565.5Q1492 430 1359.9 319.5M1595.8 568.2Q1492 430 1344.1 519.1" stroke="#8fc3b8" stroke-opacity="0.7" stroke-width="1.4"/>
<path d="M1383.7 564.7Q1492 430 1517.7 259.8M1380.1 561.7Q1492 430 1479.6 258.3" stroke="#8fc3b8" stroke-opacity="0.7" stroke-width="1.5"/>
<path d="M1362 317Q1492 430 1416.7 585.6" stroke="#4f9685" stroke-opacity="0.52" stroke-width="1.4"/>
<path d="M1557.2 270.7Q1492 430 1496.5 602.8M1559.2 271.5Q1492 430 1500.8 602.7M1560.9 272.3Q1492 430 1505.5 602.4M1562.7 273Q1492 430 1509.9 602M1564.2 273.7Q1492 430 1514.8 601.4M1565.3 274.3Q1492 430 1519.3 600.7" stroke="#4f9685" stroke-opacity="0.52" stroke-width="1.6"/>
<path d="M1505.7 258.4Q1492 430 1483.3 602.7M1510.3 258.9Q1492 430 1485.9 602.8M1514.3 259.4Q1492 430 1488.9 602.9M1470.5 259.2Q1492 430 1365.7 547.8" stroke="#4f9685" stroke-opacity="0.52" stroke-width="1.5"/>
<path d="M1664.5 428.2Q1492 430 1560.8 272.2" stroke="#4f9685" stroke-opacity="0.52" stroke-width="1.7"/>
<path d="M1576.8 580.6Q1492 430 1331.4 367.6M1573.4 582.5Q1492 430 1321.1 454.1M1570.2 584.2Q1492 430 1355 535.2" stroke="#9cc88a" stroke-opacity="0.7" stroke-width="1.5"/>
<path d="M1605.4 560.4Q1492 430 1342.8 516.9" stroke="#9cc88a" stroke-opacity="0.7" stroke-width="1.4"/>
<path d="M1642.3 515Q1492 430 1531.2 598.4M1641.4 516.6Q1492 430 1534.7 597.5M1640.1 518.9Q1492 430 1539.2 596.3M1638.6 521.4Q1492 430 1542.7 595.3M1637.3 523.3Q1492 430 1547.1 593.9M1636.8 524.1Q1492 430 1387.3 567.5M1635.8 525.7Q1492 430 1384.9 565.6M1635 526.9Q1492 430 1382.7 563.9M1633.6 529Q1492 430 1380.8 562.3M1632.9 530Q1492 430 1378.6 560.4M1631.7 531.6Q1492 430 1376.8 558.8" stroke="#f5be28" stroke-opacity="0.62" stroke-width="2.2"/>
<path d="M1603.1 562.3Q1492 430 1374.1 304.5M1349.1 527.1Q1492 430 1356.9 323.1" stroke="#f5be28" stroke-opacity="0.62" stroke-width="1.6"/>
<path d="M1589 573Q1492 430 1363.6 315.2M1586.6 574.7Q1492 430 1363 315.8M1584.1 576.2Q1492 430 1362.5 316.4M1581.9 577.7Q1492 430 1362.2 316.8M1579.3 579.2Q1492 430 1361.7 317.3M1577.1 580.5Q1492 430 1361.5 317.6" stroke="#62a544" stroke-opacity="0.68" stroke-width="2"/>
<path d="M1548.4 593.4Q1492 430 1319.5 428.8M1543.8 594.9Q1492 430 1327.2 481.3M1539.4 596.3Q1492 430 1350.6 529.2" stroke="#62a544" stroke-opacity="0.68" stroke-width="1.5"/>
<path d="M1536.3 597.1Q1492 430 1383.5 564.5M1534.6 597.6Q1492 430 1379.6 561.3M1532.6 598.1Q1492 430 1376.4 558.5" stroke="#62a544" stroke-opacity="0.68" stroke-width="1.6"/>
<path d="M1664.1 441.4Q1492 430 1442.8 265.1M1663.9 444.5Q1492 430 1440.8 265.7M1663.7 447.1Q1492 430 1439.8 266M1663.4 449.9Q1492 430 1437.7 266.7M1663 453.1Q1492 430 1436.8 267M1662.6 455.7Q1492 430 1434.7 267.7M1662.3 457.8Q1492 430 1433.2 268.2" stroke="#e6782f" stroke-opacity="0.66" stroke-width="1.9"/>
<path d="M1661.9 460Q1492 430 1331.4 367.4M1661.4 463Q1492 430 1329.9 371.5M1660.5 467.2Q1492 430 1328.5 375.4" stroke="#e6782f" stroke-opacity="0.66" stroke-width="1.6"/>
<path d="M1647.8 504.5Q1492 430 1552.7 591.9M1646.6 506.9Q1492 430 1554.3 591.2" stroke="#e6782f" stroke-opacity="0.66" stroke-width="1.5"/>
<path d="M1326.8 480.1Q1492 430 1496.3 602.8M1326.6 479.3Q1492 430 1498.8 602.8M1326.4 478.6Q1492 430 1501.3 602.6M1326.2 477.9Q1492 430 1503.7 602.5M1325.9 477.1Q1492 430 1505.6 602.4M1325.6 475.8Q1492 430 1508.4 602.1M1325.4 475.1Q1492 430 1510.1 601.9M1325.2 474.6Q1492 430 1512.5 601.7M1325 473.5Q1492 430 1515.1 601.3M1324.7 472.3Q1492 430 1517.5 601M1324.5 471.7Q1492 430 1519.6 600.7M1324.2 470.5Q1492 430 1522.2 600.2M1324.1 469.8Q1492 430 1524.1 599.9" stroke="#8c6e2d" stroke-opacity="0.68" stroke-width="2"/>
<path d="M1444.9 264.5Q1492 430 1374.4 556.6" stroke="#8c6e2d" stroke-opacity="0.68" stroke-width="1.8"/>
<path d="M1329.3 372.9Q1492 430 1378 559.9" stroke="#8c6e2d" stroke-opacity="0.68" stroke-width="1.6"/>
<path d="M1473.1 601.9Q1492 430 1463 600.4M1471.1 601.6Q1492 430 1464.3 600.7M1470.1 601.5Q1492 430 1466 600.9" stroke="#be9f60" stroke-opacity="0.72" stroke-width="1.7"/>
<path d="M1320.5 449Q1492 430 1454.3 598.7" stroke="#be9f60" stroke-opacity="0.72" stroke-width="1.5"/>
<path d="M1345.6 521.7Q1492 430 1468.8 601.3" stroke="#be9f60" stroke-opacity="0.72" stroke-width="1.4"/>
<path d="M1453.4 598.5Q1492 430 1319.5 427.6M1449.7 597.6Q1492 430 1319.5 430.7M1448 597.2Q1492 430 1322.3 461.2M1445.5 596.5Q1492 430 1351.3 530.2M1444.4 596.2Q1492 430 1353.5 533.2" stroke="#965fa8" stroke-opacity="0.68" stroke-width="1.6"/>
<path d="M1452.7 262.4Q1492 430 1449 597.4" stroke="#965fa8" stroke-opacity="0.68" stroke-width="2"/>
<path d="M1447.5 263.7Q1492 430 1401 576.9" stroke="#965fa8" stroke-opacity="0.68" stroke-width="1.4"/>
<path d="M1629.1 325.7Q1492 430 1336.5 355.7M1630.4 327.5Q1492 430 1336.1 356.6M1631.6 329Q1492 430 1335.6 357.6M1632.6 330.5Q1492 430 1335.1 358.7M1634 332.5Q1492 430 1334.5 360.1M1635.5 334.7Q1492 430 1326.4 382.3M1636.5 336.2Q1492 430 1326.1 383M1637.7 338Q1492 430 1325.7 384.6M1638.8 339.8Q1492 430 1325.4 385.6M1640 341.8Q1492 430 1325 387.3" stroke="#c8465f" stroke-opacity="0.7" stroke-width="1.7"/>
<path d="M1417.8 274.7Q1492 430 1326.5 381.6M1418.4 274.4Q1492 430 1326.3 382.6M1363.8 315Q1492 430 1325.4 385.7M1365.2 313.5Q1492 430 1325.1 386.8" stroke="#c8465f" stroke-opacity="0.7" stroke-width="2"/>
<path d="M1362.8 316.1Q1492 430 1347.3 524.3" stroke="#c8465f" stroke-opacity="0.7" stroke-width="1.4"/>
</g>
</g>
<text x="1092.8" y="89.6" font-family="'Liberation Sans',Arial,Helvetica,sans-serif" font-size="44.5" fill="#000">b</text>
</svg>
</body></html>
